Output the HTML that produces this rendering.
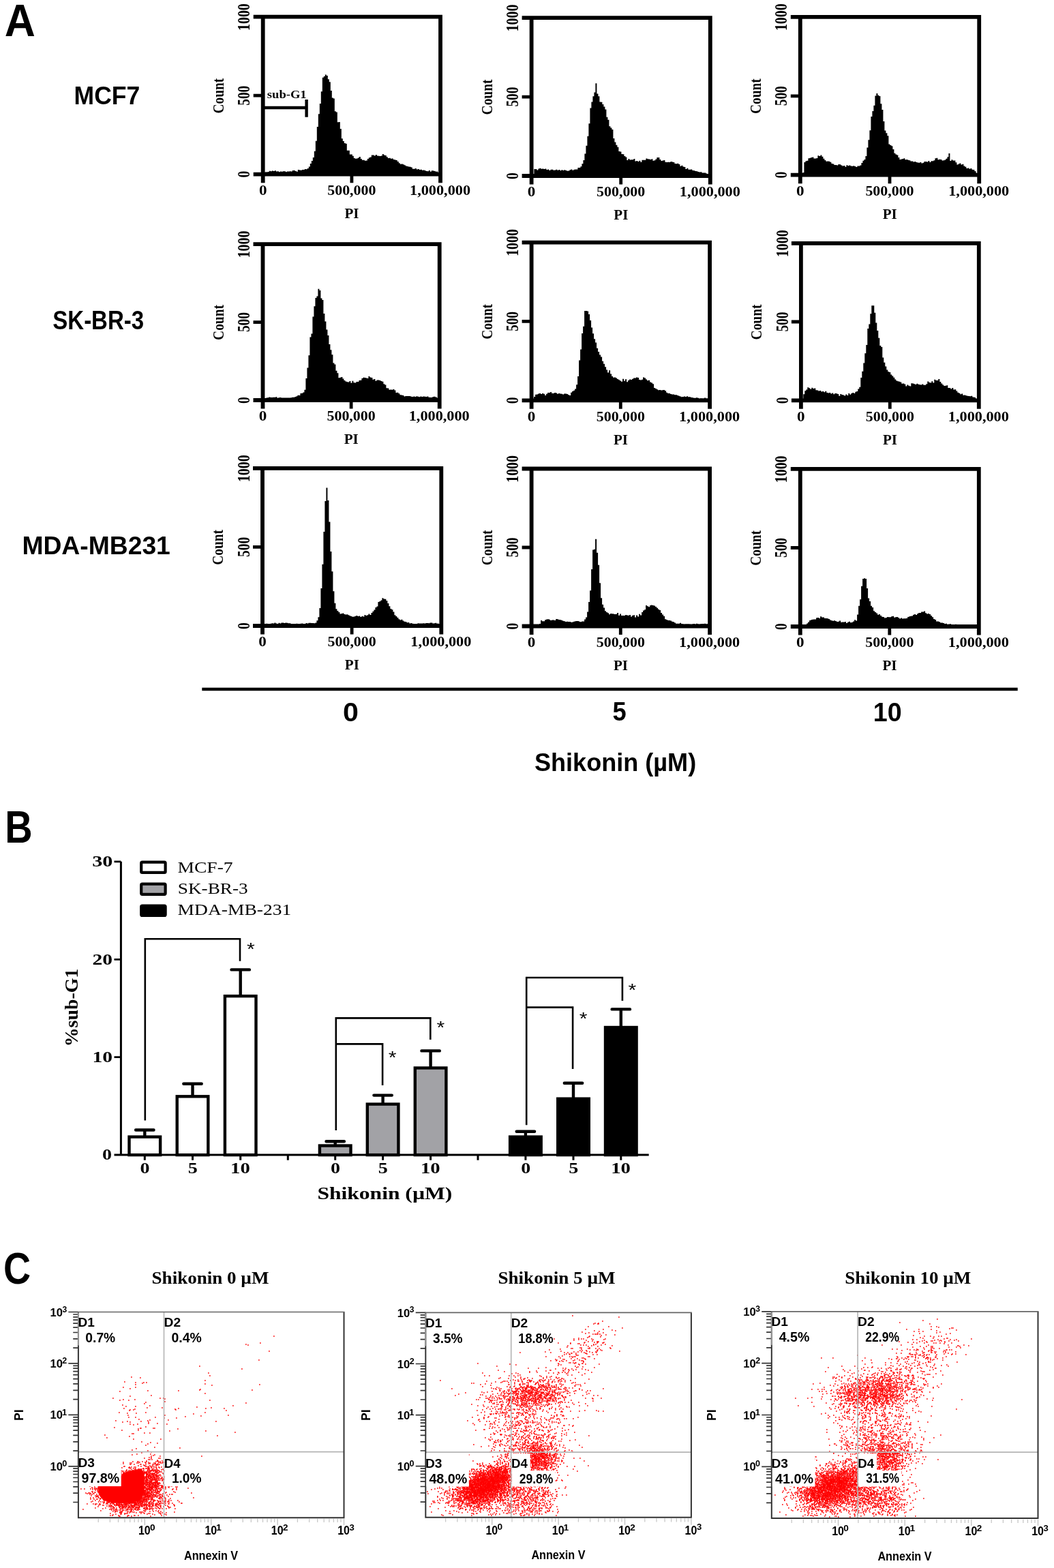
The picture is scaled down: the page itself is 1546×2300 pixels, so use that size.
<!DOCTYPE html>
<html><head><meta charset="utf-8"><title>Shikonin figure</title><style>
html,body{margin:0;padding:0;background:#fff;}
svg{display:block;}
text{font-kerning:none;}
</style></head><body>
<svg width="1546" height="2300" viewBox="0 0 1546 2300">
<defs><filter id="soft" x="-2%" y="-2%" width="104%" height="104%"><feGaussianBlur stdDeviation="0.6"/></filter></defs>
<rect width="1546" height="2300" fill="#fff"/>
<path d="M388.8 255.7L388.8 252.6L390.8 252.6L390.8 252.4L392.8 252.4L392.8 251.9L394.8 251.9L394.8 250.8L396.8 250.8L396.8 251.2L398.8 251.2L398.8 250.5L400.8 250.5L400.8 251.0L402.8 251.0L402.8 250.3L404.8 250.3L404.8 251.4L406.8 251.4L406.8 251.3L408.8 251.3L408.8 252.2L410.8 252.2L410.8 251.6L412.8 251.6L412.8 251.8L414.8 251.8L414.8 251.3L416.8 251.3L416.8 251.3L418.8 251.3L418.8 252.3L420.8 252.3L420.8 251.5L422.8 251.5L422.8 251.6L424.8 251.6L424.8 251.3L426.8 251.3L426.8 251.4L428.8 251.4L428.8 250.0L430.8 250.0L430.8 249.9L432.8 249.9L432.8 250.9L434.8 250.9L434.8 251.7L436.8 251.7L436.8 249.1L438.8 249.1L438.8 249.5L440.8 249.5L440.8 249.8L442.8 249.8L442.8 249.1L444.8 249.1L444.8 248.9L446.8 248.9L446.8 248.1L448.8 248.1L448.8 248.2L450.8 248.2L450.8 246.9L452.8 246.9L452.8 244.6L454.8 244.6L454.8 239.9L456.8 239.9L456.8 235.9L458.8 235.9L458.8 230.9L460.8 230.9L460.8 221.7L462.8 221.7L462.8 206.8L464.8 206.8L464.8 185.9L466.8 185.9L466.8 167.2L468.8 167.2L468.8 151.9L470.8 151.9L470.8 134.2L472.8 134.2L472.8 113.8L474.8 113.8L474.8 112.0L476.8 112.0L476.8 109.6L478.8 109.6L478.8 111.0L480.8 111.0L480.8 116.2L482.8 116.2L482.8 120.3L484.8 120.3L484.8 133.1L486.8 133.1L486.8 143.4L488.8 143.4L488.8 144.6L490.8 144.6L490.8 163.2L492.8 163.2L492.8 164.6L494.8 164.6L494.8 179.2L496.8 179.2L496.8 178.9L498.8 178.9L498.8 188.9L500.8 188.9L500.8 203.3L502.8 203.3L502.8 207.0L504.8 207.0L504.8 210.0L506.8 210.0L506.8 210.8L508.8 210.8L508.8 220.7L510.8 220.7L510.8 220.7L512.8 220.7L512.8 226.5L514.8 226.5L514.8 226.6L516.8 226.6L516.8 228.8L518.8 228.8L518.8 232.0L520.8 232.0L520.8 232.7L522.8 232.7L522.8 232.5L524.8 232.5L524.8 231.5L526.8 231.5L526.8 230.1L528.8 230.1L528.8 232.9L530.8 232.9L530.8 234.8L532.8 234.8L532.8 234.7L534.8 234.7L534.8 235.7L536.8 235.7L536.8 235.5L538.8 235.5L538.8 233.0L540.8 233.0L540.8 231.3L542.8 231.3L542.8 230.5L544.8 230.5L544.8 227.4L546.8 227.4L546.8 227.4L548.8 227.4L548.8 228.5L550.8 228.5L550.8 227.1L552.8 227.1L552.8 228.5L554.8 228.5L554.8 228.7L556.8 228.7L556.8 228.9L558.8 228.9L558.8 228.6L560.8 228.6L560.8 226.1L562.8 226.1L562.8 227.4L564.8 227.4L564.8 228.0L566.8 228.0L566.8 230.3L568.8 230.3L568.8 231.9L570.8 231.9L570.8 231.8L572.8 231.8L572.8 232.7L574.8 232.7L574.8 232.5L576.8 232.5L576.8 234.0L578.8 234.0L578.8 234.5L580.8 234.5L580.8 235.0L582.8 235.0L582.8 237.0L584.8 237.0L584.8 239.3L586.8 239.3L586.8 240.8L588.8 240.8L588.8 240.6L590.8 240.6L590.8 241.3L592.8 241.3L592.8 242.3L594.8 242.3L594.8 243.4L596.8 243.4L596.8 243.9L598.8 243.9L598.8 244.5L600.8 244.5L600.8 244.7L602.8 244.7L602.8 245.4L604.8 245.4L604.8 247.8L606.8 247.8L606.8 247.7L608.8 247.7L608.8 247.0L610.8 247.0L610.8 248.4L612.8 248.4L612.8 247.9L614.8 247.9L614.8 248.9L616.8 248.9L616.8 248.8L618.8 248.8L618.8 249.7L620.8 249.7L620.8 249.6L622.8 249.6L622.8 250.2L624.8 250.2L624.8 251.0L626.8 251.0L626.8 251.2L628.8 251.2L628.8 250.1L630.8 250.1L630.8 251.7L632.8 251.7L632.8 250.2L634.8 250.2L634.8 250.6L636.8 250.6L636.8 251.1L638.8 251.1L638.8 251.7L640.8 251.7L640.8 251.6L642.1 251.6L642.1 255.7Z" fill="#000"/>
<path d="M371.7 24.7H648.9M385.7 21.8V268.2M646.0 21.8V268.2M371.7 255.7H646.0" stroke="#000" stroke-width="5.8" fill="none"/>
<path d="M371.7 140.2H385.7M515.9 255.7V268.2" stroke="#000" stroke-width="4.8" fill="none"/>
<text x="0" y="0" transform="translate(366.36 44.94) rotate(-90)" font-family='"Liberation Serif", "Times New Roman", serif' font-weight="bold" font-size="24.30" textLength="39.64" lengthAdjust="spacingAndGlyphs" fill="#000">1000</text>
<text x="0" y="0" transform="translate(366.36 154.72) rotate(-90)" font-family='"Liberation Serif", "Times New Roman", serif' font-weight="bold" font-size="24.30" textLength="29.01" lengthAdjust="spacingAndGlyphs" fill="#000">500</text>
<text x="0" y="0" transform="translate(366.36 260.60) rotate(-90)" font-family='"Liberation Serif", "Times New Roman", serif' font-weight="bold" font-size="24.30" textLength="9.79" lengthAdjust="spacingAndGlyphs" fill="#000">0</text>
<text x="0" y="0" transform="translate(327.76 166.55) rotate(-90)" font-family='"Liberation Serif", "Times New Roman", serif' font-weight="bold" font-size="23.88" textLength="51.83" lengthAdjust="spacingAndGlyphs" fill="#000">Count</text>
<text x="379.92" y="286.10" font-family='"Liberation Serif", "Times New Roman", serif' font-weight="bold" font-size="21.30" textLength="11.56" lengthAdjust="spacingAndGlyphs" fill="#000">0</text>
<text x="480.27" y="286.10" font-family='"Liberation Serif", "Times New Roman", serif' font-weight="bold" font-size="21.30" textLength="71.11" lengthAdjust="spacingAndGlyphs" fill="#000">500,000</text>
<text x="601.02" y="286.10" font-family='"Liberation Serif", "Times New Roman", serif' font-weight="bold" font-size="21.30" textLength="89.03" lengthAdjust="spacingAndGlyphs" fill="#000">1,000,000</text>
<text x="505.49" y="320.00" font-family='"Liberation Serif", "Times New Roman", serif' font-weight="bold" font-size="21.08" textLength="21.07" lengthAdjust="spacingAndGlyphs" fill="#000">PI</text>
<path d="M385.7 158H449.6M449.6 146.1V171.7" stroke="#000" stroke-width="4.4" fill="none"/>
<text x="391.84" y="144.30" font-family='"Liberation Serif", "Times New Roman", serif' font-weight="bold" font-size="16.29" textLength="57.82" lengthAdjust="spacingAndGlyphs" fill="#000">sub-G1</text>
<path d="M783.4 258.0L783.4 247.9L785.4 247.9L785.4 247.9L787.4 247.9L787.4 249.5L789.4 249.5L789.4 247.5L791.4 247.5L791.4 246.7L793.4 246.7L793.4 247.8L795.4 247.8L795.4 247.5L797.4 247.5L797.4 247.9L799.4 247.9L799.4 247.4L801.4 247.4L801.4 248.9L803.4 248.9L803.4 248.5L805.4 248.5L805.4 250.0L807.4 250.0L807.4 248.8L809.4 248.8L809.4 248.8L811.4 248.8L811.4 249.8L813.4 249.8L813.4 249.6L815.4 249.6L815.4 248.7L817.4 248.7L817.4 249.8L819.4 249.8L819.4 249.0L821.4 249.0L821.4 250.3L823.4 250.3L823.4 249.2L825.4 249.2L825.4 249.9L827.4 249.9L827.4 249.3L829.4 249.3L829.4 250.1L831.4 250.1L831.4 250.8L833.4 250.8L833.4 250.5L835.4 250.5L835.4 249.2L837.4 249.2L837.4 248.6L839.4 248.6L839.4 249.8L841.4 249.8L841.4 248.8L843.4 248.8L843.4 248.5L845.4 248.5L845.4 248.5L847.4 248.5L847.4 246.1L849.4 246.1L849.4 246.1L851.4 246.1L851.4 244.3L853.4 244.3L853.4 240.2L855.4 240.2L855.4 235.0L857.4 235.0L857.4 225.4L859.4 225.4L859.4 213.7L861.4 213.7L861.4 199.7L863.4 199.7L863.4 181.3L865.4 181.3L865.4 158.5L867.4 158.5L867.4 149.6L869.4 149.6L869.4 141.2L871.4 141.2L871.4 135.4L873.4 135.4L873.4 122.3L875.4 122.3L875.4 137.4L877.4 137.4L877.4 141.3L879.4 141.3L879.4 149.5L881.4 149.5L881.4 149.8L883.4 149.8L883.4 153.0L885.4 153.0L885.4 156.4L887.4 156.4L887.4 160.5L889.4 160.5L889.4 171.7L891.4 171.7L891.4 175.7L893.4 175.7L893.4 185.3L895.4 185.3L895.4 187.6L897.4 187.6L897.4 190.1L899.4 190.1L899.4 203.0L901.4 203.0L901.4 208.5L903.4 208.5L903.4 212.8L905.4 212.8L905.4 215.7L907.4 215.7L907.4 222.1L909.4 222.1L909.4 222.6L911.4 222.6L911.4 226.0L913.4 226.0L913.4 226.2L915.4 226.2L915.4 228.9L917.4 228.9L917.4 230.4L919.4 230.4L919.4 235.0L921.4 235.0L921.4 232.9L923.4 232.9L923.4 234.6L925.4 234.6L925.4 234.2L927.4 234.2L927.4 234.2L929.4 234.2L929.4 233.0L931.4 233.0L931.4 236.6L933.4 236.6L933.4 236.0L935.4 236.0L935.4 236.9L937.4 236.9L937.4 235.7L939.4 235.7L939.4 237.8L941.4 237.8L941.4 234.7L943.4 234.7L943.4 234.7L945.4 234.7L945.4 234.8L947.4 234.8L947.4 232.5L949.4 232.5L949.4 233.2L951.4 233.2L951.4 233.5L953.4 233.5L953.4 234.0L955.4 234.0L955.4 233.3L957.4 233.3L957.4 235.7L959.4 235.7L959.4 235.2L961.4 235.2L961.4 233.4L963.4 233.4L963.4 231.0L965.4 231.0L965.4 231.1L967.4 231.1L967.4 233.9L969.4 233.9L969.4 236.0L971.4 236.0L971.4 235.6L973.4 235.6L973.4 235.1L975.4 235.1L975.4 237.7L977.4 237.7L977.4 238.0L979.4 238.0L979.4 237.7L981.4 237.7L981.4 237.9L983.4 237.9L983.4 237.1L985.4 237.1L985.4 237.4L987.4 237.4L987.4 238.0L989.4 238.0L989.4 239.9L991.4 239.9L991.4 240.2L993.4 240.2L993.4 239.7L995.4 239.7L995.4 241.1L997.4 241.1L997.4 243.7L999.4 243.7L999.4 242.7L1001.4 242.7L1001.4 244.5L1003.4 244.5L1003.4 245.0L1005.4 245.0L1005.4 248.0L1007.4 248.0L1007.4 246.8L1009.4 246.8L1009.4 248.7L1011.4 248.7L1011.4 248.8L1013.4 248.8L1013.4 248.5L1015.4 248.5L1015.4 249.9L1017.4 249.9L1017.4 250.2L1019.4 250.2L1019.4 251.0L1021.4 251.0L1021.4 251.3L1023.4 251.3L1023.4 252.1L1025.4 252.1L1025.4 252.5L1027.4 252.5L1027.4 252.3L1029.4 252.3L1029.4 253.6L1031.4 253.6L1031.4 253.4L1033.4 253.4L1033.4 253.6L1035.4 253.6L1035.4 254.6L1037.1 254.6L1037.1 258.0Z" fill="#000"/>
<path d="M765.6 26.1H1044.7M779.6 23.2V270.5M1041.8 23.2V270.5M765.6 258.0H1041.8" stroke="#000" stroke-width="5.8" fill="none"/>
<path d="M765.6 142.1H779.6M910.7 258.0V270.5" stroke="#000" stroke-width="4.8" fill="none"/>
<text x="0" y="0" transform="translate(760.26 46.34) rotate(-90)" font-family='"Liberation Serif", "Times New Roman", serif' font-weight="bold" font-size="24.30" textLength="39.64" lengthAdjust="spacingAndGlyphs" fill="#000">1000</text>
<text x="0" y="0" transform="translate(760.26 156.57) rotate(-90)" font-family='"Liberation Serif", "Times New Roman", serif' font-weight="bold" font-size="24.30" textLength="29.01" lengthAdjust="spacingAndGlyphs" fill="#000">500</text>
<text x="0" y="0" transform="translate(760.26 262.90) rotate(-90)" font-family='"Liberation Serif", "Times New Roman", serif' font-weight="bold" font-size="24.30" textLength="9.79" lengthAdjust="spacingAndGlyphs" fill="#000">0</text>
<text x="0" y="0" transform="translate(721.66 168.40) rotate(-90)" font-family='"Liberation Serif", "Times New Roman", serif' font-weight="bold" font-size="23.88" textLength="51.83" lengthAdjust="spacingAndGlyphs" fill="#000">Count</text>
<text x="773.82" y="288.40" font-family='"Liberation Serif", "Times New Roman", serif' font-weight="bold" font-size="21.30" textLength="11.56" lengthAdjust="spacingAndGlyphs" fill="#000">0</text>
<text x="875.12" y="288.40" font-family='"Liberation Serif", "Times New Roman", serif' font-weight="bold" font-size="21.30" textLength="71.11" lengthAdjust="spacingAndGlyphs" fill="#000">500,000</text>
<text x="996.82" y="288.40" font-family='"Liberation Serif", "Times New Roman", serif' font-weight="bold" font-size="21.30" textLength="89.03" lengthAdjust="spacingAndGlyphs" fill="#000">1,000,000</text>
<text x="900.34" y="322.30" font-family='"Liberation Serif", "Times New Roman", serif' font-weight="bold" font-size="21.08" textLength="21.07" lengthAdjust="spacingAndGlyphs" fill="#000">PI</text>
<path d="M1177.4 256.7L1177.4 253.3L1179.4 253.3L1179.4 237.9L1181.4 237.9L1181.4 236.3L1183.4 236.3L1183.4 235.7L1185.4 235.7L1185.4 232.2L1187.4 232.2L1187.4 231.7L1189.4 231.7L1189.4 230.9L1191.4 230.9L1191.4 230.5L1193.4 230.5L1193.4 232.4L1195.4 232.4L1195.4 232.6L1197.4 232.6L1197.4 231.9L1199.4 231.9L1199.4 228.3L1201.4 228.3L1201.4 229.1L1203.4 229.1L1203.4 227.4L1205.4 227.4L1205.4 229.8L1207.4 229.8L1207.4 232.7L1209.4 232.7L1209.4 235.1L1211.4 235.1L1211.4 236.8L1213.4 236.8L1213.4 236.6L1215.4 236.6L1215.4 236.7L1217.4 236.7L1217.4 237.7L1219.4 237.7L1219.4 239.9L1221.4 239.9L1221.4 240.5L1223.4 240.5L1223.4 241.9L1225.4 241.9L1225.4 241.9L1227.4 241.9L1227.4 242.4L1229.4 242.4L1229.4 240.9L1231.4 240.9L1231.4 241.2L1233.4 241.2L1233.4 242.6L1235.4 242.6L1235.4 243.4L1237.4 243.4L1237.4 243.0L1239.4 243.0L1239.4 244.8L1241.4 244.8L1241.4 242.2L1243.4 242.2L1243.4 243.3L1245.4 243.3L1245.4 242.4L1247.4 242.4L1247.4 243.5L1249.4 243.5L1249.4 243.7L1251.4 243.7L1251.4 243.3L1253.4 243.3L1253.4 244.1L1255.4 244.1L1255.4 245.0L1257.4 245.0L1257.4 243.4L1259.4 243.4L1259.4 243.4L1261.4 243.4L1261.4 242.6L1263.4 242.6L1263.4 239.0L1265.4 239.0L1265.4 235.7L1267.4 235.7L1267.4 233.9L1269.4 233.9L1269.4 229.0L1271.4 229.0L1271.4 216.5L1273.4 216.5L1273.4 205.3L1275.4 205.3L1275.4 191.3L1277.4 191.3L1277.4 171.0L1279.4 171.0L1279.4 163.0L1281.4 163.0L1281.4 154.8L1283.4 154.8L1283.4 140.6L1285.4 140.6L1285.4 136.9L1287.4 136.9L1287.4 139.7L1289.4 139.7L1289.4 141.1L1291.4 141.1L1291.4 152.3L1293.4 152.3L1293.4 161.1L1295.4 161.1L1295.4 177.9L1297.4 177.9L1297.4 191.4L1299.4 191.4L1299.4 195.3L1301.4 195.3L1301.4 199.3L1303.4 199.3L1303.4 211.4L1305.4 211.4L1305.4 213.1L1307.4 213.1L1307.4 214.3L1309.4 214.3L1309.4 219.1L1311.4 219.1L1311.4 224.8L1313.4 224.8L1313.4 226.6L1315.4 226.6L1315.4 227.4L1317.4 227.4L1317.4 231.1L1319.4 231.1L1319.4 234.0L1321.4 234.0L1321.4 233.5L1323.4 233.5L1323.4 233.1L1325.4 233.1L1325.4 232.2L1327.4 232.2L1327.4 234.2L1329.4 234.2L1329.4 233.9L1331.4 233.9L1331.4 234.8L1333.4 234.8L1333.4 235.3L1335.4 235.3L1335.4 236.5L1337.4 236.5L1337.4 236.6L1339.4 236.6L1339.4 237.6L1341.4 237.6L1341.4 237.1L1343.4 237.1L1343.4 238.1L1345.4 238.1L1345.4 238.4L1347.4 238.4L1347.4 238.8L1349.4 238.8L1349.4 238.1L1351.4 238.1L1351.4 239.6L1353.4 239.6L1353.4 238.8L1355.4 238.8L1355.4 237.0L1357.4 237.0L1357.4 237.1L1359.4 237.1L1359.4 237.5L1361.4 237.5L1361.4 236.1L1363.4 236.1L1363.4 237.9L1365.4 237.9L1365.4 236.2L1367.4 236.2L1367.4 236.3L1369.4 236.3L1369.4 235.3L1371.4 235.3L1371.4 232.2L1373.4 232.2L1373.4 231.7L1375.4 231.7L1375.4 234.3L1377.4 234.3L1377.4 233.8L1379.4 233.8L1379.4 234.1L1381.4 234.1L1381.4 235.6L1383.4 235.6L1383.4 235.2L1385.4 235.2L1385.4 234.6L1387.4 234.6L1387.4 232.8L1389.4 232.8L1389.4 230.2L1391.4 230.2L1391.4 225.1L1393.4 225.1L1393.4 236.1L1395.4 236.1L1395.4 234.2L1397.4 234.2L1397.4 235.4L1399.4 235.4L1399.4 235.6L1401.4 235.6L1401.4 238.2L1403.4 238.2L1403.4 241.5L1405.4 241.5L1405.4 240.4L1407.4 240.4L1407.4 239.6L1409.4 239.6L1409.4 241.4L1411.4 241.4L1411.4 240.8L1413.4 240.8L1413.4 243.5L1415.4 243.5L1415.4 244.7L1417.4 244.7L1417.4 246.9L1419.4 246.9L1419.4 246.6L1421.4 246.6L1421.4 247.8L1423.4 247.8L1423.4 247.0L1425.4 247.0L1425.4 248.7L1427.4 248.7L1427.4 248.9L1429.4 248.9L1429.4 251.0L1431.4 251.0L1431.4 253.2L1432.0 253.2L1432.0 256.7Z" fill="#000"/>
<path d="M1159.8 24.8H1439.1M1173.8 21.9V269.2M1436.2 21.9V269.2M1159.8 256.7H1436.2" stroke="#000" stroke-width="5.8" fill="none"/>
<path d="M1159.8 140.8H1173.8M1305.0 256.7V269.2" stroke="#000" stroke-width="4.8" fill="none"/>
<text x="0" y="0" transform="translate(1154.46 45.04) rotate(-90)" font-family='"Liberation Serif", "Times New Roman", serif' font-weight="bold" font-size="24.30" textLength="39.64" lengthAdjust="spacingAndGlyphs" fill="#000">1000</text>
<text x="0" y="0" transform="translate(1154.46 155.27) rotate(-90)" font-family='"Liberation Serif", "Times New Roman", serif' font-weight="bold" font-size="24.30" textLength="29.01" lengthAdjust="spacingAndGlyphs" fill="#000">500</text>
<text x="0" y="0" transform="translate(1154.46 261.60) rotate(-90)" font-family='"Liberation Serif", "Times New Roman", serif' font-weight="bold" font-size="24.30" textLength="9.79" lengthAdjust="spacingAndGlyphs" fill="#000">0</text>
<text x="0" y="0" transform="translate(1115.86 167.10) rotate(-90)" font-family='"Liberation Serif", "Times New Roman", serif' font-weight="bold" font-size="23.88" textLength="51.83" lengthAdjust="spacingAndGlyphs" fill="#000">Count</text>
<text x="1168.02" y="287.10" font-family='"Liberation Serif", "Times New Roman", serif' font-weight="bold" font-size="21.30" textLength="11.56" lengthAdjust="spacingAndGlyphs" fill="#000">0</text>
<text x="1269.42" y="287.10" font-family='"Liberation Serif", "Times New Roman", serif' font-weight="bold" font-size="21.30" textLength="71.11" lengthAdjust="spacingAndGlyphs" fill="#000">500,000</text>
<text x="1391.22" y="287.10" font-family='"Liberation Serif", "Times New Roman", serif' font-weight="bold" font-size="21.30" textLength="89.03" lengthAdjust="spacingAndGlyphs" fill="#000">1,000,000</text>
<text x="1294.64" y="321.00" font-family='"Liberation Serif", "Times New Roman", serif' font-weight="bold" font-size="21.08" textLength="21.07" lengthAdjust="spacingAndGlyphs" fill="#000">PI</text>
<path d="M388.4 587.0L388.4 584.0L390.4 584.0L390.4 583.4L392.4 583.4L392.4 583.2L394.4 583.2L394.4 582.5L396.4 582.5L396.4 583.1L398.4 583.1L398.4 583.1L400.4 583.1L400.4 582.7L402.4 582.7L402.4 582.7L404.4 582.7L404.4 582.3L406.4 582.3L406.4 583.7L408.4 583.7L408.4 583.3L410.4 583.3L410.4 583.1L412.4 583.1L412.4 583.6L414.4 583.6L414.4 583.6L416.4 583.6L416.4 583.6L418.4 583.6L418.4 583.5L420.4 583.5L420.4 583.4L422.4 583.4L422.4 583.4L424.4 583.4L424.4 583.4L426.4 583.4L426.4 583.2L428.4 583.2L428.4 582.8L430.4 582.8L430.4 582.8L432.4 582.8L432.4 582.1L434.4 582.1L434.4 581.2L436.4 581.2L436.4 579.8L438.4 579.8L438.4 579.9L440.4 579.9L440.4 577.1L442.4 577.1L442.4 576.8L444.4 576.8L444.4 575.5L446.4 575.5L446.4 571.7L448.4 571.7L448.4 555.1L450.4 555.1L450.4 539.4L452.4 539.4L452.4 521.3L454.4 521.3L454.4 494.6L456.4 494.6L456.4 489.5L458.4 489.5L458.4 464.4L460.4 464.4L460.4 449.2L462.4 449.2L462.4 436.9L464.4 436.9L464.4 434.5L466.4 434.5L466.4 423.8L468.4 423.8L468.4 426.0L470.4 426.0L470.4 437.4L472.4 437.4L472.4 440.0L474.4 440.0L474.4 460.0L476.4 460.0L476.4 471.6L478.4 471.6L478.4 483.4L480.4 483.4L480.4 492.0L482.4 492.0L482.4 505.0L484.4 505.0L484.4 513.3L486.4 513.3L486.4 520.3L488.4 520.3L488.4 532.6L490.4 532.6L490.4 534.4L492.4 534.4L492.4 543.7L494.4 543.7L494.4 547.2L496.4 547.2L496.4 554.2L498.4 554.2L498.4 553.8L500.4 553.8L500.4 552.9L502.4 552.9L502.4 555.5L504.4 555.5L504.4 558.0L506.4 558.0L506.4 559.4L508.4 559.4L508.4 560.2L510.4 560.2L510.4 560.5L512.4 560.5L512.4 558.9L514.4 558.9L514.4 561.8L516.4 561.8L516.4 558.8L518.4 558.8L518.4 561.2L520.4 561.2L520.4 561.5L522.4 561.5L522.4 559.9L524.4 559.9L524.4 560.0L526.4 560.0L526.4 557.9L528.4 557.9L528.4 557.7L530.4 557.7L530.4 554.9L532.4 554.9L532.4 553.8L534.4 553.8L534.4 554.1L536.4 554.1L536.4 554.5L538.4 554.5L538.4 555.1L540.4 555.1L540.4 552.1L542.4 552.1L542.4 553.4L544.4 553.4L544.4 554.0L546.4 554.0L546.4 556.8L548.4 556.8L548.4 555.9L550.4 555.9L550.4 558.7L552.4 558.7L552.4 557.4L554.4 557.4L554.4 557.4L556.4 557.4L556.4 558.0L558.4 558.0L558.4 558.9L560.4 558.9L560.4 559.7L562.4 559.7L562.4 563.3L564.4 563.3L564.4 564.5L566.4 564.5L566.4 569.2L568.4 569.2L568.4 569.5L570.4 569.5L570.4 571.7L572.4 571.7L572.4 571.5L574.4 571.5L574.4 571.7L576.4 571.7L576.4 571.1L578.4 571.1L578.4 572.4L580.4 572.4L580.4 575.9L582.4 575.9L582.4 575.8L584.4 575.8L584.4 577.2L586.4 577.2L586.4 579.3L588.4 579.3L588.4 579.5L590.4 579.5L590.4 579.9L592.4 579.9L592.4 581.6L594.4 581.6L594.4 581.0L596.4 581.0L596.4 580.9L598.4 580.9L598.4 581.1L600.4 581.1L600.4 581.1L602.4 581.1L602.4 581.8L604.4 581.8L604.4 582.0L606.4 582.0L606.4 581.6L608.4 581.6L608.4 581.9L610.4 581.9L610.4 581.2L612.4 581.2L612.4 581.8L614.4 581.8L614.4 582.3L616.4 582.3L616.4 581.5L618.4 581.5L618.4 581.9L620.4 581.9L620.4 581.6L622.4 581.6L622.4 581.7L624.4 581.7L624.4 582.1L626.4 582.1L626.4 581.6L628.4 581.6L628.4 582.7L630.4 582.7L630.4 582.9L632.4 582.9L632.4 582.9L634.4 582.9L634.4 582.0L636.4 582.0L636.4 581.7L638.4 581.7L638.4 582.4L640.4 582.4L640.4 582.9L641.3 582.9L641.3 587.0Z" fill="#000"/>
<path d="M371.5 358.1H647.6M385.5 355.2V599.5M644.7 355.2V599.5M371.5 587.0H644.7" stroke="#000" stroke-width="5.8" fill="none"/>
<path d="M371.5 472.6H385.5M515.1 587.0V599.5" stroke="#000" stroke-width="4.8" fill="none"/>
<text x="0" y="0" transform="translate(366.16 378.34) rotate(-90)" font-family='"Liberation Serif", "Times New Roman", serif' font-weight="bold" font-size="24.30" textLength="39.64" lengthAdjust="spacingAndGlyphs" fill="#000">1000</text>
<text x="0" y="0" transform="translate(366.16 487.07) rotate(-90)" font-family='"Liberation Serif", "Times New Roman", serif' font-weight="bold" font-size="24.30" textLength="29.01" lengthAdjust="spacingAndGlyphs" fill="#000">500</text>
<text x="0" y="0" transform="translate(366.16 591.90) rotate(-90)" font-family='"Liberation Serif", "Times New Roman", serif' font-weight="bold" font-size="24.30" textLength="9.79" lengthAdjust="spacingAndGlyphs" fill="#000">0</text>
<text x="0" y="0" transform="translate(327.56 498.90) rotate(-90)" font-family='"Liberation Serif", "Times New Roman", serif' font-weight="bold" font-size="23.88" textLength="51.83" lengthAdjust="spacingAndGlyphs" fill="#000">Count</text>
<text x="379.72" y="617.40" font-family='"Liberation Serif", "Times New Roman", serif' font-weight="bold" font-size="21.30" textLength="11.56" lengthAdjust="spacingAndGlyphs" fill="#000">0</text>
<text x="479.52" y="617.40" font-family='"Liberation Serif", "Times New Roman", serif' font-weight="bold" font-size="21.30" textLength="71.11" lengthAdjust="spacingAndGlyphs" fill="#000">500,000</text>
<text x="599.72" y="617.40" font-family='"Liberation Serif", "Times New Roman", serif' font-weight="bold" font-size="21.30" textLength="89.03" lengthAdjust="spacingAndGlyphs" fill="#000">1,000,000</text>
<text x="504.74" y="651.30" font-family='"Liberation Serif", "Times New Roman", serif' font-weight="bold" font-size="21.08" textLength="21.07" lengthAdjust="spacingAndGlyphs" fill="#000">PI</text>
<path d="M783.1 587.3L783.1 582.1L785.1 582.1L785.1 578.8L787.1 578.8L787.1 578.5L789.1 578.5L789.1 577.5L791.1 577.5L791.1 576.9L793.1 576.9L793.1 577.9L795.1 577.9L795.1 576.9L797.1 576.9L797.1 577.8L799.1 577.8L799.1 579.9L801.1 579.9L801.1 577.8L803.1 577.8L803.1 576.0L805.1 576.0L805.1 576.1L807.1 576.1L807.1 575.1L809.1 575.1L809.1 576.9L811.1 576.9L811.1 576.9L813.1 576.9L813.1 575.9L815.1 575.9L815.1 576.5L817.1 576.5L817.1 577.8L819.1 577.8L819.1 577.1L821.1 577.1L821.1 577.6L823.1 577.6L823.1 577.7L825.1 577.7L825.1 578.5L827.1 578.5L827.1 577.4L829.1 577.4L829.1 577.6L831.1 577.6L831.1 578.1L833.1 578.1L833.1 579.3L835.1 579.3L835.1 579.9L837.1 579.9L837.1 575.8L839.1 575.8L839.1 573.9L841.1 573.9L841.1 572.8L843.1 572.8L843.1 570.4L845.1 570.4L845.1 564.2L847.1 564.2L847.1 552.0L849.1 552.0L849.1 528.6L851.1 528.6L851.1 512.6L853.1 512.6L853.1 489.1L855.1 489.1L855.1 478.8L857.1 478.8L857.1 456.0L859.1 456.0L859.1 456.0L861.1 456.0L861.1 456.5L863.1 456.5L863.1 461.0L865.1 461.0L865.1 470.0L867.1 470.0L867.1 480.6L869.1 480.6L869.1 489.2L871.1 489.2L871.1 497.2L873.1 497.2L873.1 502.5L875.1 502.5L875.1 510.8L877.1 510.8L877.1 516.1L879.1 516.1L879.1 520.4L881.1 520.4L881.1 523.6L883.1 523.6L883.1 529.7L885.1 529.7L885.1 533.7L887.1 533.7L887.1 538.3L889.1 538.3L889.1 542.4L891.1 542.4L891.1 546.6L893.1 546.6L893.1 543.3L895.1 543.3L895.1 548.4L897.1 548.4L897.1 551.9L899.1 551.9L899.1 553.7L901.1 553.7L901.1 553.4L903.1 553.4L903.1 554.4L905.1 554.4L905.1 556.1L907.1 556.1L907.1 557.2L909.1 557.2L909.1 558.4L911.1 558.4L911.1 559.7L913.1 559.7L913.1 555.8L915.1 555.8L915.1 558.7L917.1 558.7L917.1 556.3L919.1 556.3L919.1 560.3L921.1 560.3L921.1 558.1L923.1 558.1L923.1 556.4L925.1 556.4L925.1 557.0L927.1 557.0L927.1 555.8L929.1 555.8L929.1 554.5L931.1 554.5L931.1 554.4L933.1 554.4L933.1 553.6L935.1 553.6L935.1 554.0L937.1 554.0L937.1 556.9L939.1 556.9L939.1 557.6L941.1 557.6L941.1 556.7L943.1 556.7L943.1 553.5L945.1 553.5L945.1 554.6L947.1 554.6L947.1 556.5L949.1 556.5L949.1 558.2L951.1 558.2L951.1 557.7L953.1 557.7L953.1 560.6L955.1 560.6L955.1 561.6L957.1 561.6L957.1 563.2L959.1 563.2L959.1 568.9L961.1 568.9L961.1 570.1L963.1 570.1L963.1 571.3L965.1 571.3L965.1 572.2L967.1 572.2L967.1 571.9L969.1 571.9L969.1 572.6L971.1 572.6L971.1 572.3L973.1 572.3L973.1 572.0L975.1 572.0L975.1 573.2L977.1 573.2L977.1 575.7L979.1 575.7L979.1 577.0L981.1 577.0L981.1 577.1L983.1 577.1L983.1 578.0L985.1 578.0L985.1 578.6L987.1 578.6L987.1 578.4L989.1 578.4L989.1 579.2L991.1 579.2L991.1 579.2L993.1 579.2L993.1 579.9L995.1 579.9L995.1 580.7L997.1 580.7L997.1 581.4L999.1 581.4L999.1 582.2L1001.1 582.2L1001.1 582.1L1003.1 582.1L1003.1 581.5L1005.1 581.5L1005.1 582.0L1007.1 582.0L1007.1 581.3L1009.1 581.3L1009.1 582.3L1011.1 582.3L1011.1 582.3L1013.1 582.3L1013.1 583.0L1015.1 583.0L1015.1 583.3L1017.1 583.3L1017.1 583.8L1019.1 583.8L1019.1 583.7L1021.1 583.7L1021.1 583.2L1023.1 583.2L1023.1 583.7L1025.1 583.7L1025.1 584.8L1027.1 584.8L1027.1 584.3L1029.1 584.3L1029.1 584.4L1031.1 584.4L1031.1 584.4L1033.1 584.4L1033.1 583.5L1035.1 583.5L1035.1 584.4L1037.1 584.4L1037.1 584.5L1038.0 584.5L1038.0 587.3Z" fill="#000"/>
<path d="M765.6 355.6H1044.0M779.6 352.7V599.8M1041.1 352.7V599.8M765.6 587.3H1041.1" stroke="#000" stroke-width="5.8" fill="none"/>
<path d="M765.6 471.4H779.6M910.3 587.3V599.8" stroke="#000" stroke-width="4.8" fill="none"/>
<text x="0" y="0" transform="translate(760.26 375.84) rotate(-90)" font-family='"Liberation Serif", "Times New Roman", serif' font-weight="bold" font-size="24.30" textLength="39.64" lengthAdjust="spacingAndGlyphs" fill="#000">1000</text>
<text x="0" y="0" transform="translate(760.26 485.97) rotate(-90)" font-family='"Liberation Serif", "Times New Roman", serif' font-weight="bold" font-size="24.30" textLength="29.01" lengthAdjust="spacingAndGlyphs" fill="#000">500</text>
<text x="0" y="0" transform="translate(760.26 592.20) rotate(-90)" font-family='"Liberation Serif", "Times New Roman", serif' font-weight="bold" font-size="24.30" textLength="9.79" lengthAdjust="spacingAndGlyphs" fill="#000">0</text>
<text x="0" y="0" transform="translate(721.66 497.80) rotate(-90)" font-family='"Liberation Serif", "Times New Roman", serif' font-weight="bold" font-size="23.88" textLength="51.83" lengthAdjust="spacingAndGlyphs" fill="#000">Count</text>
<text x="773.82" y="617.70" font-family='"Liberation Serif", "Times New Roman", serif' font-weight="bold" font-size="21.30" textLength="11.56" lengthAdjust="spacingAndGlyphs" fill="#000">0</text>
<text x="874.77" y="617.70" font-family='"Liberation Serif", "Times New Roman", serif' font-weight="bold" font-size="21.30" textLength="71.11" lengthAdjust="spacingAndGlyphs" fill="#000">500,000</text>
<text x="996.12" y="617.70" font-family='"Liberation Serif", "Times New Roman", serif' font-weight="bold" font-size="21.30" textLength="89.03" lengthAdjust="spacingAndGlyphs" fill="#000">1,000,000</text>
<text x="899.99" y="651.60" font-family='"Liberation Serif", "Times New Roman", serif' font-weight="bold" font-size="21.08" textLength="21.07" lengthAdjust="spacingAndGlyphs" fill="#000">PI</text>
<path d="M1178.3 587.3L1178.3 578.3L1180.3 578.3L1180.3 573.3L1182.3 573.3L1182.3 571.4L1184.3 571.4L1184.3 568.2L1186.3 568.2L1186.3 569.2L1188.3 569.2L1188.3 570.8L1190.3 570.8L1190.3 568.8L1192.3 568.8L1192.3 570.0L1194.3 570.0L1194.3 569.4L1196.3 569.4L1196.3 572.3L1198.3 572.3L1198.3 572.6L1200.3 572.6L1200.3 573.5L1202.3 573.5L1202.3 573.0L1204.3 573.0L1204.3 574.4L1206.3 574.4L1206.3 573.9L1208.3 573.9L1208.3 575.3L1210.3 575.3L1210.3 573.8L1212.3 573.8L1212.3 576.1L1214.3 576.1L1214.3 576.5L1216.3 576.5L1216.3 576.0L1218.3 576.0L1218.3 577.5L1220.3 577.5L1220.3 576.6L1222.3 576.6L1222.3 578.2L1224.3 578.2L1224.3 577.0L1226.3 577.0L1226.3 577.2L1228.3 577.2L1228.3 578.0L1230.3 578.0L1230.3 580.7L1232.3 580.7L1232.3 577.9L1234.3 577.9L1234.3 579.1L1236.3 579.1L1236.3 579.5L1238.3 579.5L1238.3 580.4L1240.3 580.4L1240.3 578.4L1242.3 578.4L1242.3 580.0L1244.3 580.0L1244.3 576.9L1246.3 576.9L1246.3 578.7L1248.3 578.7L1248.3 577.0L1250.3 577.0L1250.3 576.1L1252.3 576.1L1252.3 576.9L1254.3 576.9L1254.3 574.7L1256.3 574.7L1256.3 573.9L1258.3 573.9L1258.3 570.6L1260.3 570.6L1260.3 567.8L1262.3 567.8L1262.3 553.9L1264.3 553.9L1264.3 544.7L1266.3 544.7L1266.3 532.5L1268.3 532.5L1268.3 518.3L1270.3 518.3L1270.3 505.9L1272.3 505.9L1272.3 482.1L1274.3 482.1L1274.3 475.5L1276.3 475.5L1276.3 460.3L1278.3 460.3L1278.3 448.3L1280.3 448.3L1280.3 448.3L1282.3 448.3L1282.3 458.7L1284.3 458.7L1284.3 473.4L1286.3 473.4L1286.3 485.1L1288.3 485.1L1288.3 495.7L1290.3 495.7L1290.3 507.1L1292.3 507.1L1292.3 509.0L1294.3 509.0L1294.3 524.4L1296.3 524.4L1296.3 531.7L1298.3 531.7L1298.3 537.4L1300.3 537.4L1300.3 542.5L1302.3 542.5L1302.3 545.3L1304.3 545.3L1304.3 546.0L1306.3 546.0L1306.3 549.6L1308.3 549.6L1308.3 551.5L1310.3 551.5L1310.3 553.8L1312.3 553.8L1312.3 556.5L1314.3 556.5L1314.3 558.5L1316.3 558.5L1316.3 559.3L1318.3 559.3L1318.3 559.7L1320.3 559.7L1320.3 560.4L1322.3 560.4L1322.3 562.8L1324.3 562.8L1324.3 562.5L1326.3 562.5L1326.3 563.4L1328.3 563.4L1328.3 566.4L1330.3 566.4L1330.3 564.4L1332.3 564.4L1332.3 565.7L1334.3 565.7L1334.3 566.4L1336.3 566.4L1336.3 562.2L1338.3 562.2L1338.3 562.5L1340.3 562.5L1340.3 563.2L1342.3 563.2L1342.3 564.0L1344.3 564.0L1344.3 562.8L1346.3 562.8L1346.3 563.7L1348.3 563.7L1348.3 564.2L1350.3 564.2L1350.3 564.6L1352.3 564.6L1352.3 563.5L1354.3 563.5L1354.3 564.7L1356.3 564.7L1356.3 564.8L1358.3 564.8L1358.3 563.3L1360.3 563.3L1360.3 559.5L1362.3 559.5L1362.3 560.9L1364.3 560.9L1364.3 561.6L1366.3 561.6L1366.3 559.3L1368.3 559.3L1368.3 561.4L1370.3 561.4L1370.3 556.7L1372.3 556.7L1372.3 557.9L1374.3 557.9L1374.3 557.9L1376.3 557.9L1376.3 555.9L1378.3 555.9L1378.3 560.0L1380.3 560.0L1380.3 562.6L1382.3 562.6L1382.3 564.4L1384.3 564.4L1384.3 566.0L1386.3 566.0L1386.3 565.7L1388.3 565.7L1388.3 565.3L1390.3 565.3L1390.3 569.1L1392.3 569.1L1392.3 569.0L1394.3 569.0L1394.3 570.6L1396.3 570.6L1396.3 569.1L1398.3 569.1L1398.3 571.6L1400.3 571.6L1400.3 571.3L1402.3 571.3L1402.3 573.4L1404.3 573.4L1404.3 575.7L1406.3 575.7L1406.3 576.7L1408.3 576.7L1408.3 578.2L1410.3 578.2L1410.3 577.4L1412.3 577.4L1412.3 579.8L1414.3 579.8L1414.3 579.5L1416.3 579.5L1416.3 580.3L1418.3 580.3L1418.3 580.7L1420.3 580.7L1420.3 580.9L1422.3 580.9L1422.3 581.3L1424.3 581.3L1424.3 580.7L1426.3 580.7L1426.3 582.4L1428.3 582.4L1428.3 582.8L1430.3 582.8L1430.3 583.2L1431.1 583.2L1431.1 587.3Z" fill="#000"/>
<path d="M1160.9 356.8H1438.7M1174.9 353.9V599.8M1435.8 353.9V599.8M1160.9 587.3H1435.8" stroke="#000" stroke-width="5.8" fill="none"/>
<path d="M1160.9 472.0H1174.9M1305.3 587.3V599.8" stroke="#000" stroke-width="4.8" fill="none"/>
<text x="0" y="0" transform="translate(1155.56 377.04) rotate(-90)" font-family='"Liberation Serif", "Times New Roman", serif' font-weight="bold" font-size="24.30" textLength="39.64" lengthAdjust="spacingAndGlyphs" fill="#000">1000</text>
<text x="0" y="0" transform="translate(1155.56 486.57) rotate(-90)" font-family='"Liberation Serif", "Times New Roman", serif' font-weight="bold" font-size="24.30" textLength="29.01" lengthAdjust="spacingAndGlyphs" fill="#000">500</text>
<text x="0" y="0" transform="translate(1155.56 592.20) rotate(-90)" font-family='"Liberation Serif", "Times New Roman", serif' font-weight="bold" font-size="24.30" textLength="9.79" lengthAdjust="spacingAndGlyphs" fill="#000">0</text>
<text x="0" y="0" transform="translate(1116.96 498.40) rotate(-90)" font-family='"Liberation Serif", "Times New Roman", serif' font-weight="bold" font-size="23.88" textLength="51.83" lengthAdjust="spacingAndGlyphs" fill="#000">Count</text>
<text x="1169.12" y="617.70" font-family='"Liberation Serif", "Times New Roman", serif' font-weight="bold" font-size="21.30" textLength="11.56" lengthAdjust="spacingAndGlyphs" fill="#000">0</text>
<text x="1269.77" y="617.70" font-family='"Liberation Serif", "Times New Roman", serif' font-weight="bold" font-size="21.30" textLength="71.11" lengthAdjust="spacingAndGlyphs" fill="#000">500,000</text>
<text x="1390.82" y="617.70" font-family='"Liberation Serif", "Times New Roman", serif' font-weight="bold" font-size="21.30" textLength="89.03" lengthAdjust="spacingAndGlyphs" fill="#000">1,000,000</text>
<text x="1294.99" y="651.60" font-family='"Liberation Serif", "Times New Roman", serif' font-weight="bold" font-size="21.08" textLength="21.07" lengthAdjust="spacingAndGlyphs" fill="#000">PI</text>
<path d="M388.4 918.0L388.4 915.6L390.4 915.6L390.4 914.7L392.4 914.7L392.4 916.1L394.4 916.1L394.4 915.1L396.4 915.1L396.4 914.8L398.4 914.8L398.4 914.3L400.4 914.3L400.4 914.5L402.4 914.5L402.4 913.5L404.4 913.5L404.4 914.6L406.4 914.6L406.4 915.2L408.4 915.2L408.4 913.8L410.4 913.8L410.4 914.4L412.4 914.4L412.4 913.6L414.4 913.6L414.4 913.4L416.4 913.4L416.4 913.9L418.4 913.9L418.4 913.6L420.4 913.6L420.4 913.8L422.4 913.8L422.4 914.2L424.4 914.2L424.4 914.2L426.4 914.2L426.4 914.9L428.4 914.9L428.4 914.9L430.4 914.9L430.4 914.9L432.4 914.9L432.4 914.9L434.4 914.9L434.4 914.8L436.4 914.8L436.4 914.9L438.4 914.9L438.4 915.0L440.4 915.0L440.4 914.8L442.4 914.8L442.4 914.5L444.4 914.5L444.4 914.9L446.4 914.9L446.4 915.1L448.4 915.1L448.4 913.9L450.4 913.9L450.4 914.5L452.4 914.5L452.4 913.8L454.4 913.8L454.4 913.8L456.4 913.8L456.4 913.9L458.4 913.9L458.4 914.1L460.4 914.1L460.4 914.2L462.4 914.2L462.4 913.4L464.4 913.4L464.4 910.3L466.4 910.3L466.4 905.2L468.4 905.2L468.4 891.9L470.4 891.9L470.4 862.9L472.4 862.9L472.4 827.7L474.4 827.7L474.4 780.1L476.4 780.1L476.4 735.1L478.4 735.1L478.4 715.4L480.4 715.4L480.4 734.1L482.4 734.1L482.4 765.5L484.4 765.5L484.4 808.9L486.4 808.9L486.4 838.3L488.4 838.3L488.4 867.2L490.4 867.2L490.4 884.7L492.4 884.7L492.4 893.2L494.4 893.2L494.4 896.1L496.4 896.1L496.4 897.9L498.4 897.9L498.4 900.5L500.4 900.5L500.4 899.9L502.4 899.9L502.4 899.5L504.4 899.5L504.4 901.1L506.4 901.1L506.4 901.4L508.4 901.4L508.4 901.3L510.4 901.3L510.4 902.3L512.4 902.3L512.4 903.3L514.4 903.3L514.4 903.9L516.4 903.9L516.4 904.8L518.4 904.8L518.4 904.5L520.4 904.5L520.4 903.8L522.4 903.8L522.4 903.1L524.4 903.1L524.4 904.1L526.4 904.1L526.4 903.4L528.4 903.4L528.4 904.9L530.4 904.9L530.4 903.8L532.4 903.8L532.4 904.4L534.4 904.4L534.4 901.9L536.4 901.9L536.4 903.0L538.4 903.0L538.4 902.2L540.4 902.2L540.4 900.6L542.4 900.6L542.4 901.9L544.4 901.9L544.4 899.1L546.4 899.1L546.4 896.7L548.4 896.7L548.4 894.6L550.4 894.6L550.4 891.0L552.4 891.0L552.4 889.6L554.4 889.6L554.4 883.1L556.4 883.1L556.4 881.9L558.4 881.9L558.4 880.4L560.4 880.4L560.4 877.3L562.4 877.3L562.4 878.6L564.4 878.6L564.4 878.8L566.4 878.8L566.4 881.3L568.4 881.3L568.4 885.1L570.4 885.1L570.4 889.3L572.4 889.3L572.4 892.9L574.4 892.9L574.4 894.2L576.4 894.2L576.4 897.6L578.4 897.6L578.4 902.3L580.4 902.3L580.4 903.9L582.4 903.9L582.4 906.0L584.4 906.0L584.4 908.3L586.4 908.3L586.4 909.5L588.4 909.5L588.4 908.7L590.4 908.7L590.4 910.5L592.4 910.5L592.4 911.8L594.4 911.8L594.4 911.9L596.4 911.9L596.4 913.2L598.4 913.2L598.4 913.1L600.4 913.1L600.4 914.6L602.4 914.6L602.4 914.1L604.4 914.1L604.4 914.8L606.4 914.8L606.4 914.9L608.4 914.9L608.4 915.2L610.4 915.2L610.4 915.4L612.4 915.4L612.4 914.3L614.4 914.3L614.4 914.5L616.4 914.5L616.4 914.5L618.4 914.5L618.4 914.6L620.4 914.6L620.4 914.3L622.4 914.3L622.4 914.5L624.4 914.5L624.4 914.1L626.4 914.1L626.4 913.9L628.4 913.9L628.4 914.2L630.4 914.2L630.4 913.6L632.4 913.6L632.4 913.6L634.4 913.6L634.4 914.4L636.4 914.4L636.4 914.3L638.4 914.3L638.4 913.7L640.4 913.7L640.4 914.8L642.4 914.8L642.4 914.2L643.0 914.2L643.0 918.0Z" fill="#000"/>
<path d="M371.0 686.8H650.2M385.0 683.9V930.5M647.3 683.9V930.5M371.0 918.0H647.3" stroke="#000" stroke-width="5.8" fill="none"/>
<path d="M371.0 802.4H385.0M516.1 918.0V930.5" stroke="#000" stroke-width="4.8" fill="none"/>
<text x="0" y="0" transform="translate(365.66 707.04) rotate(-90)" font-family='"Liberation Serif", "Times New Roman", serif' font-weight="bold" font-size="24.30" textLength="39.64" lengthAdjust="spacingAndGlyphs" fill="#000">1000</text>
<text x="0" y="0" transform="translate(365.66 816.92) rotate(-90)" font-family='"Liberation Serif", "Times New Roman", serif' font-weight="bold" font-size="24.30" textLength="29.01" lengthAdjust="spacingAndGlyphs" fill="#000">500</text>
<text x="0" y="0" transform="translate(365.66 922.90) rotate(-90)" font-family='"Liberation Serif", "Times New Roman", serif' font-weight="bold" font-size="24.30" textLength="9.79" lengthAdjust="spacingAndGlyphs" fill="#000">0</text>
<text x="0" y="0" transform="translate(327.06 828.75) rotate(-90)" font-family='"Liberation Serif", "Times New Roman", serif' font-weight="bold" font-size="23.88" textLength="51.83" lengthAdjust="spacingAndGlyphs" fill="#000">Count</text>
<text x="379.22" y="948.40" font-family='"Liberation Serif", "Times New Roman", serif' font-weight="bold" font-size="21.30" textLength="11.56" lengthAdjust="spacingAndGlyphs" fill="#000">0</text>
<text x="480.57" y="948.40" font-family='"Liberation Serif", "Times New Roman", serif' font-weight="bold" font-size="21.30" textLength="71.11" lengthAdjust="spacingAndGlyphs" fill="#000">500,000</text>
<text x="602.32" y="948.40" font-family='"Liberation Serif", "Times New Roman", serif' font-weight="bold" font-size="21.30" textLength="89.03" lengthAdjust="spacingAndGlyphs" fill="#000">1,000,000</text>
<text x="505.79" y="982.30" font-family='"Liberation Serif", "Times New Roman", serif' font-weight="bold" font-size="21.08" textLength="21.07" lengthAdjust="spacingAndGlyphs" fill="#000">PI</text>
<path d="M783.1 918.5L783.1 916.3L785.1 916.3L785.1 916.7L787.1 916.7L787.1 916.8L789.1 916.8L789.1 916.2L791.1 916.2L791.1 915.1L793.1 915.1L793.1 910.0L795.1 910.0L795.1 911.2L797.1 911.2L797.1 911.3L799.1 911.3L799.1 909.3L801.1 909.3L801.1 908.6L803.1 908.6L803.1 908.3L805.1 908.3L805.1 908.8L807.1 908.8L807.1 910.0L809.1 910.0L809.1 909.5L811.1 909.5L811.1 909.6L813.1 909.6L813.1 909.9L815.1 909.9L815.1 908.1L817.1 908.1L817.1 908.3L819.1 908.3L819.1 909.1L821.1 909.1L821.1 909.2L823.1 909.2L823.1 909.8L825.1 909.8L825.1 910.7L827.1 910.7L827.1 911.3L829.1 911.3L829.1 911.9L831.1 911.9L831.1 911.8L833.1 911.8L833.1 912.1L835.1 912.1L835.1 912.0L837.1 912.0L837.1 912.8L839.1 912.8L839.1 912.6L841.1 912.6L841.1 911.7L843.1 911.7L843.1 911.3L845.1 911.3L845.1 911.0L847.1 911.0L847.1 911.0L849.1 911.0L849.1 911.8L851.1 911.8L851.1 912.2L853.1 912.2L853.1 911.6L855.1 911.6L855.1 911.6L857.1 911.6L857.1 908.4L859.1 908.4L859.1 905.4L861.1 905.4L861.1 897.4L863.1 897.4L863.1 882.9L865.1 882.9L865.1 866.2L867.1 866.2L867.1 835.1L869.1 835.1L869.1 806.5L871.1 806.5L871.1 805.8L873.1 805.8L873.1 790.8L875.1 790.8L875.1 810.7L877.1 810.7L877.1 828.8L879.1 828.8L879.1 855.3L881.1 855.3L881.1 877.3L883.1 877.3L883.1 886.7L885.1 886.7L885.1 891.6L887.1 891.6L887.1 896.2L889.1 896.2L889.1 898.1L891.1 898.1L891.1 899.2L893.1 899.2L893.1 901.3L895.1 901.3L895.1 899.9L897.1 899.9L897.1 900.3L899.1 900.3L899.1 900.4L901.1 900.4L901.1 901.0L903.1 901.0L903.1 900.7L905.1 900.7L905.1 899.1L907.1 899.1L907.1 902.8L909.1 902.8L909.1 900.5L911.1 900.5L911.1 903.0L913.1 903.0L913.1 903.0L915.1 903.0L915.1 903.1L917.1 903.1L917.1 902.1L919.1 902.1L919.1 902.6L921.1 902.6L921.1 902.7L923.1 902.7L923.1 902.1L925.1 902.1L925.1 904.6L927.1 904.6L927.1 902.8L929.1 902.8L929.1 902.3L931.1 902.3L931.1 905.4L933.1 905.4L933.1 902.5L935.1 902.5L935.1 904.5L937.1 904.5L937.1 900.7L939.1 900.7L939.1 902.6L941.1 902.6L941.1 898.0L943.1 898.0L943.1 895.6L945.1 895.6L945.1 894.3L947.1 894.3L947.1 887.9L949.1 887.9L949.1 889.2L951.1 889.2L951.1 890.3L953.1 890.3L953.1 888.0L955.1 888.0L955.1 887.4L957.1 887.4L957.1 887.9L959.1 887.9L959.1 888.6L961.1 888.6L961.1 890.1L963.1 890.1L963.1 891.7L965.1 891.7L965.1 893.7L967.1 893.7L967.1 895.0L969.1 895.0L969.1 898.9L971.1 898.9L971.1 901.6L973.1 901.6L973.1 903.8L975.1 903.8L975.1 908.3L977.1 908.3L977.1 909.1L979.1 909.1L979.1 910.0L981.1 910.0L981.1 909.9L983.1 909.9L983.1 910.6L985.1 910.6L985.1 911.8L987.1 911.8L987.1 912.3L989.1 912.3L989.1 913.6L991.1 913.6L991.1 914.7L993.1 914.7L993.1 914.7L995.1 914.7L995.1 914.8L997.1 914.8L997.1 913.7L999.1 913.7L999.1 915.0L1001.1 915.0L1001.1 915.4L1003.1 915.4L1003.1 915.7L1005.1 915.7L1005.1 915.4L1007.1 915.4L1007.1 915.6L1009.1 915.6L1009.1 915.4L1011.1 915.4L1011.1 915.7L1013.1 915.7L1013.1 916.1L1015.1 916.1L1015.1 915.5L1017.1 915.5L1017.1 914.9L1019.1 914.9L1019.1 915.7L1021.1 915.7L1021.1 914.8L1023.1 914.8L1023.1 915.5L1025.1 915.5L1025.1 915.8L1027.1 915.8L1027.1 915.3L1029.1 915.3L1029.1 914.9L1031.1 914.9L1031.1 915.0L1033.1 915.0L1033.1 914.8L1035.1 914.8L1035.1 915.6L1037.1 915.6L1037.1 915.2L1038.0 915.2L1038.0 918.5Z" fill="#000"/>
<path d="M765.6 687.5H1044.0M779.6 684.6V931.0M1041.1 684.6V931.0M765.6 918.5H1041.1" stroke="#000" stroke-width="5.8" fill="none"/>
<path d="M765.6 803.0H779.6M910.3 918.5V931.0" stroke="#000" stroke-width="4.8" fill="none"/>
<text x="0" y="0" transform="translate(760.26 707.74) rotate(-90)" font-family='"Liberation Serif", "Times New Roman", serif' font-weight="bold" font-size="24.30" textLength="39.64" lengthAdjust="spacingAndGlyphs" fill="#000">1000</text>
<text x="0" y="0" transform="translate(760.26 817.52) rotate(-90)" font-family='"Liberation Serif", "Times New Roman", serif' font-weight="bold" font-size="24.30" textLength="29.01" lengthAdjust="spacingAndGlyphs" fill="#000">500</text>
<text x="0" y="0" transform="translate(760.26 923.40) rotate(-90)" font-family='"Liberation Serif", "Times New Roman", serif' font-weight="bold" font-size="24.30" textLength="9.79" lengthAdjust="spacingAndGlyphs" fill="#000">0</text>
<text x="0" y="0" transform="translate(721.66 829.35) rotate(-90)" font-family='"Liberation Serif", "Times New Roman", serif' font-weight="bold" font-size="23.88" textLength="51.83" lengthAdjust="spacingAndGlyphs" fill="#000">Count</text>
<text x="773.82" y="948.90" font-family='"Liberation Serif", "Times New Roman", serif' font-weight="bold" font-size="21.30" textLength="11.56" lengthAdjust="spacingAndGlyphs" fill="#000">0</text>
<text x="874.77" y="948.90" font-family='"Liberation Serif", "Times New Roman", serif' font-weight="bold" font-size="21.30" textLength="71.11" lengthAdjust="spacingAndGlyphs" fill="#000">500,000</text>
<text x="996.12" y="948.90" font-family='"Liberation Serif", "Times New Roman", serif' font-weight="bold" font-size="21.30" textLength="89.03" lengthAdjust="spacingAndGlyphs" fill="#000">1,000,000</text>
<text x="899.99" y="982.80" font-family='"Liberation Serif", "Times New Roman", serif' font-weight="bold" font-size="21.08" textLength="21.07" lengthAdjust="spacingAndGlyphs" fill="#000">PI</text>
<path d="M1177.1 919.0L1177.1 917.1L1179.1 917.1L1179.1 916.9L1181.1 916.9L1181.1 916.3L1183.1 916.3L1183.1 914.5L1185.1 914.5L1185.1 912.6L1187.1 912.6L1187.1 910.1L1189.1 910.1L1189.1 909.3L1191.1 909.3L1191.1 908.8L1193.1 908.8L1193.1 908.4L1195.1 908.4L1195.1 908.4L1197.1 908.4L1197.1 906.2L1199.1 906.2L1199.1 906.0L1201.1 906.0L1201.1 906.9L1203.1 906.9L1203.1 904.2L1205.1 904.2L1205.1 905.4L1207.1 905.4L1207.1 905.5L1209.1 905.5L1209.1 906.9L1211.1 906.9L1211.1 907.0L1213.1 907.0L1213.1 907.3L1215.1 907.3L1215.1 908.1L1217.1 908.1L1217.1 909.5L1219.1 909.5L1219.1 910.2L1221.1 910.2L1221.1 910.8L1223.1 910.8L1223.1 910.2L1225.1 910.2L1225.1 911.1L1227.1 911.1L1227.1 912.0L1229.1 912.0L1229.1 911.8L1231.1 911.8L1231.1 910.6L1233.1 910.6L1233.1 912.8L1235.1 912.8L1235.1 912.4L1237.1 912.4L1237.1 912.6L1239.1 912.6L1239.1 911.9L1241.1 911.9L1241.1 914.0L1243.1 914.0L1243.1 912.5L1245.1 912.5L1245.1 911.7L1247.1 911.7L1247.1 913.2L1249.1 913.2L1249.1 912.8L1251.1 912.8L1251.1 911.4L1253.1 911.4L1253.1 909.3L1255.1 909.3L1255.1 910.5L1257.1 910.5L1257.1 901.6L1259.1 901.6L1259.1 888.8L1261.1 888.8L1261.1 879.2L1263.1 879.2L1263.1 859.8L1265.1 859.8L1265.1 849.1L1267.1 849.1L1267.1 848.3L1269.1 848.3L1269.1 848.9L1271.1 848.9L1271.1 863.1L1273.1 863.1L1273.1 877.4L1275.1 877.4L1275.1 881.9L1277.1 881.9L1277.1 888.8L1279.1 888.8L1279.1 890.9L1281.1 890.9L1281.1 896.3L1283.1 896.3L1283.1 898.0L1285.1 898.0L1285.1 899.5L1287.1 899.5L1287.1 901.8L1289.1 901.8L1289.1 901.1L1291.1 901.1L1291.1 902.9L1293.1 902.9L1293.1 904.7L1295.1 904.7L1295.1 905.0L1297.1 905.0L1297.1 906.5L1299.1 906.5L1299.1 905.9L1301.1 905.9L1301.1 905.0L1303.1 905.0L1303.1 905.2L1305.1 905.2L1305.1 905.3L1307.1 905.3L1307.1 904.2L1309.1 904.2L1309.1 903.7L1311.1 903.7L1311.1 905.7L1313.1 905.7L1313.1 905.2L1315.1 905.2L1315.1 904.9L1317.1 904.9L1317.1 906.1L1319.1 906.1L1319.1 907.4L1321.1 907.4L1321.1 906.6L1323.1 906.6L1323.1 907.5L1325.1 907.5L1325.1 907.3L1327.1 907.3L1327.1 907.2L1329.1 907.2L1329.1 906.9L1331.1 906.9L1331.1 905.0L1333.1 905.0L1333.1 904.3L1335.1 904.3L1335.1 903.8L1337.1 903.8L1337.1 903.6L1339.1 903.6L1339.1 901.8L1341.1 901.8L1341.1 901.0L1343.1 901.0L1343.1 902.1L1345.1 902.1L1345.1 900.3L1347.1 900.3L1347.1 899.0L1349.1 899.0L1349.1 899.1L1351.1 899.1L1351.1 897.6L1353.1 897.6L1353.1 897.5L1355.1 897.5L1355.1 896.4L1357.1 896.4L1357.1 899.2L1359.1 899.2L1359.1 900.5L1361.1 900.5L1361.1 899.9L1363.1 899.9L1363.1 901.0L1365.1 901.0L1365.1 903.2L1367.1 903.2L1367.1 905.3L1369.1 905.3L1369.1 907.9L1371.1 907.9L1371.1 908.9L1373.1 908.9L1373.1 911.5L1375.1 911.5L1375.1 911.6L1377.1 911.6L1377.1 912.3L1379.1 912.3L1379.1 913.4L1381.1 913.4L1381.1 913.4L1383.1 913.4L1383.1 913.9L1385.1 913.9L1385.1 915.1L1387.1 915.1L1387.1 914.7L1389.1 914.7L1389.1 915.8L1391.1 915.8L1391.1 915.6L1393.1 915.6L1393.1 915.2L1395.1 915.2L1395.1 916.2L1397.1 916.2L1397.1 916.2L1399.1 916.2L1399.1 916.2L1401.1 916.2L1401.1 915.8L1403.1 915.8L1403.1 916.4L1405.1 916.4L1405.1 917.0L1407.1 917.0L1407.1 916.7L1409.1 916.7L1409.1 916.3L1411.1 916.3L1411.1 916.1L1413.1 916.1L1413.1 916.6L1415.1 916.6L1415.1 916.5L1417.1 916.5L1417.1 916.1L1419.1 916.1L1419.1 916.1L1421.1 916.1L1421.1 916.9L1423.1 916.9L1423.1 916.9L1425.1 916.9L1425.1 916.4L1427.1 916.4L1427.1 916.6L1429.1 916.6L1429.1 916.3L1431.1 916.3L1431.1 916.8L1432.0 916.8L1432.0 919.0Z" fill="#000"/>
<path d="M1159.8 687.9H1438.7M1173.8 685.0V931.5M1435.8 685.0V931.5M1159.8 919.0H1435.8" stroke="#000" stroke-width="5.8" fill="none"/>
<path d="M1159.8 803.5H1173.8M1304.8 919.0V931.5" stroke="#000" stroke-width="4.8" fill="none"/>
<text x="0" y="0" transform="translate(1154.46 708.14) rotate(-90)" font-family='"Liberation Serif", "Times New Roman", serif' font-weight="bold" font-size="24.30" textLength="39.64" lengthAdjust="spacingAndGlyphs" fill="#000">1000</text>
<text x="0" y="0" transform="translate(1154.46 817.97) rotate(-90)" font-family='"Liberation Serif", "Times New Roman", serif' font-weight="bold" font-size="24.30" textLength="29.01" lengthAdjust="spacingAndGlyphs" fill="#000">500</text>
<text x="0" y="0" transform="translate(1154.46 923.90) rotate(-90)" font-family='"Liberation Serif", "Times New Roman", serif' font-weight="bold" font-size="24.30" textLength="9.79" lengthAdjust="spacingAndGlyphs" fill="#000">0</text>
<text x="0" y="0" transform="translate(1115.86 829.80) rotate(-90)" font-family='"Liberation Serif", "Times New Roman", serif' font-weight="bold" font-size="23.88" textLength="51.83" lengthAdjust="spacingAndGlyphs" fill="#000">Count</text>
<text x="1168.02" y="949.40" font-family='"Liberation Serif", "Times New Roman", serif' font-weight="bold" font-size="21.30" textLength="11.56" lengthAdjust="spacingAndGlyphs" fill="#000">0</text>
<text x="1269.22" y="949.40" font-family='"Liberation Serif", "Times New Roman", serif' font-weight="bold" font-size="21.30" textLength="71.11" lengthAdjust="spacingAndGlyphs" fill="#000">500,000</text>
<text x="1390.82" y="949.40" font-family='"Liberation Serif", "Times New Roman", serif' font-weight="bold" font-size="21.30" textLength="89.03" lengthAdjust="spacingAndGlyphs" fill="#000">1,000,000</text>
<text x="1294.44" y="983.30" font-family='"Liberation Serif", "Times New Roman", serif' font-weight="bold" font-size="21.08" textLength="21.07" lengthAdjust="spacingAndGlyphs" fill="#000">PI</text>
<text x="6.64" y="53.40" font-family='"Liberation Sans", Arial, sans-serif' font-weight="bold" font-size="66.28" textLength="45.10" lengthAdjust="spacingAndGlyphs" fill="#000">A</text>
<text x="108.62" y="152.94" font-family='"Liberation Sans", Arial, sans-serif' font-weight="bold" font-size="37.01" textLength="96.74" lengthAdjust="spacingAndGlyphs" fill="#000">MCF7</text>
<text x="77.25" y="482.67" font-family='"Liberation Sans", Arial, sans-serif' font-weight="bold" font-size="38.34" textLength="133.94" lengthAdjust="spacingAndGlyphs" fill="#000">SK-BR-3</text>
<text x="32.41" y="813.28" font-family='"Liberation Sans", Arial, sans-serif' font-weight="bold" font-size="37.77" textLength="217.43" lengthAdjust="spacingAndGlyphs" fill="#000">MDA-MB231</text>
<rect x="296.3" y="1008.7" width="1196.4" height="4.5" fill="#000"/>
<text x="502.97" y="1057.62" font-family='"Liberation Sans", Arial, sans-serif' font-weight="bold" font-size="39.12" textLength="22.92" lengthAdjust="spacingAndGlyphs" fill="#000">0</text>
<text x="898.38" y="1057.32" font-family='"Liberation Sans", Arial, sans-serif' font-weight="bold" font-size="38.41" textLength="20.23" lengthAdjust="spacingAndGlyphs" fill="#000">5</text>
<text x="1280.73" y="1057.61" font-family='"Liberation Sans", Arial, sans-serif' font-weight="bold" font-size="39.55" textLength="41.92" lengthAdjust="spacingAndGlyphs" fill="#000">10</text>
<text x="783.96" y="1130.73" font-family='"Liberation Sans", Arial, sans-serif' font-weight="bold" font-size="37.85" textLength="237.24" lengthAdjust="spacingAndGlyphs" fill="#000">Shikonin (µM)</text>
<text x="7.16" y="1235.90" font-family='"Liberation Sans", Arial, sans-serif' font-weight="bold" font-size="66.57" textLength="40.38" lengthAdjust="spacingAndGlyphs" fill="#000">B</text>
<path d="M177.4 1263.8V1694.1M167.5 1694.1H951.7" stroke="#000" stroke-width="3" fill="none"/>
<path d="M167.5 1550.7H177.4M167.5 1407.3H177.4M167.5 1263.9H177.4" stroke="#000" stroke-width="2.8" fill="none"/>
<text x="135.17" y="1271.37" font-family='"Liberation Serif", "Times New Roman", serif' font-weight="bold" font-size="23.86" textLength="30.18" lengthAdjust="spacingAndGlyphs" fill="#000">30</text>
<text x="135.56" y="1414.57" font-family='"Liberation Serif", "Times New Roman", serif' font-weight="bold" font-size="23.41" textLength="29.57" lengthAdjust="spacingAndGlyphs" fill="#000">20</text>
<text x="135.53" y="1557.68" font-family='"Liberation Serif", "Times New Roman", serif' font-weight="bold" font-size="22.97" textLength="29.60" lengthAdjust="spacingAndGlyphs" fill="#000">10</text>
<text x="150.13" y="1701.28" font-family='"Liberation Serif", "Times New Roman", serif' font-weight="bold" font-size="22.97" textLength="14.04" lengthAdjust="spacingAndGlyphs" fill="#000">0</text>
<text x="0" y="0" transform="translate(114.25 1535.25) rotate(-90)" font-family='"Liberation Serif", "Times New Roman", serif' font-weight="bold" font-size="26.73" textLength="114.50" lengthAdjust="spacingAndGlyphs" fill="#000">%sub-G1</text>
<path d="M212.3 1665.4V1657.5M199.1 1657.5H225.5" stroke="#000" stroke-width="4.4" stroke-linecap="round" fill="none"/>
<rect x="189.5" y="1667.6" width="45.6" height="26.5" fill="#fff" stroke="#000" stroke-width="4.4"/>
<path d="M282.5 1606.1V1589.8M269.3 1589.8H295.7" stroke="#000" stroke-width="4.4" stroke-linecap="round" fill="none"/>
<rect x="259.7" y="1608.3" width="45.6" height="85.8" fill="#fff" stroke="#000" stroke-width="4.4"/>
<path d="M352.7 1458.9V1422.4M339.5 1422.4H365.9" stroke="#000" stroke-width="4.4" stroke-linecap="round" fill="none"/>
<rect x="329.9" y="1461.1" width="45.6" height="233.0" fill="#fff" stroke="#000" stroke-width="4.4"/>
<path d="M491.7 1678.3V1674.3M478.5 1674.3H504.9" stroke="#000" stroke-width="4.4" stroke-linecap="round" fill="none"/>
<rect x="468.9" y="1680.5" width="45.6" height="13.6" fill="#a2a2a6" stroke="#000" stroke-width="4.4"/>
<path d="M561.6 1617.4V1606.6M548.4 1606.6H574.8" stroke="#000" stroke-width="4.4" stroke-linecap="round" fill="none"/>
<rect x="538.8" y="1619.6" width="45.6" height="74.5" fill="#a2a2a6" stroke="#000" stroke-width="4.4"/>
<path d="M631.6 1564.3V1541.4M618.4 1541.4H644.8" stroke="#000" stroke-width="4.4" stroke-linecap="round" fill="none"/>
<rect x="608.8" y="1566.5" width="45.6" height="127.6" fill="#a2a2a6" stroke="#000" stroke-width="4.4"/>
<path d="M770.9 1665.4V1659.7M757.7 1659.7H784.1" stroke="#000" stroke-width="4.4" stroke-linecap="round" fill="none"/>
<rect x="748.1" y="1667.6" width="45.6" height="26.5" fill="#000" stroke="#000" stroke-width="4.4"/>
<path d="M841.0 1609.5V1588.7M827.8 1588.7H854.2" stroke="#000" stroke-width="4.4" stroke-linecap="round" fill="none"/>
<rect x="818.2" y="1611.7" width="45.6" height="82.4" fill="#000" stroke="#000" stroke-width="4.4"/>
<path d="M910.8 1504.8V1480.4M897.6 1480.4H924.0" stroke="#000" stroke-width="4.4" stroke-linecap="round" fill="none"/>
<rect x="888.0" y="1507.0" width="45.6" height="187.1" fill="#000" stroke="#000" stroke-width="4.4"/>
<path d="M212.3 1694.1V1701.8M282.5 1694.1V1701.8M352.7 1694.1V1701.8M491.7 1694.1V1701.8M561.6 1694.1V1701.8M631.6 1694.1V1701.8M770.9 1694.1V1701.8M841.0 1694.1V1701.8M910.8 1694.1V1701.8M422.3 1694.1V1701.8M701.0 1694.1V1701.8" stroke="#000" stroke-width="3" fill="none"/>
<text x="205.58" y="1721.38" font-family='"Liberation Serif", "Times New Roman", serif' font-weight="bold" font-size="22.08" textLength="14.04" lengthAdjust="spacingAndGlyphs" fill="#000">0</text>
<text x="275.72" y="1721.38" font-family='"Liberation Serif", "Times New Roman", serif' font-weight="bold" font-size="22.42" textLength="14.05" lengthAdjust="spacingAndGlyphs" fill="#000">5</text>
<text x="338.05" y="1721.38" font-family='"Liberation Serif", "Times New Roman", serif' font-weight="bold" font-size="22.08" textLength="28.69" lengthAdjust="spacingAndGlyphs" fill="#000">10</text>
<text x="484.98" y="1721.38" font-family='"Liberation Serif", "Times New Roman", serif' font-weight="bold" font-size="22.08" textLength="14.04" lengthAdjust="spacingAndGlyphs" fill="#000">0</text>
<text x="554.82" y="1721.38" font-family='"Liberation Serif", "Times New Roman", serif' font-weight="bold" font-size="22.42" textLength="14.05" lengthAdjust="spacingAndGlyphs" fill="#000">5</text>
<text x="616.95" y="1721.38" font-family='"Liberation Serif", "Times New Roman", serif' font-weight="bold" font-size="22.08" textLength="28.69" lengthAdjust="spacingAndGlyphs" fill="#000">10</text>
<text x="764.18" y="1721.38" font-family='"Liberation Serif", "Times New Roman", serif' font-weight="bold" font-size="22.08" textLength="14.04" lengthAdjust="spacingAndGlyphs" fill="#000">0</text>
<text x="834.22" y="1721.38" font-family='"Liberation Serif", "Times New Roman", serif' font-weight="bold" font-size="22.42" textLength="14.05" lengthAdjust="spacingAndGlyphs" fill="#000">5</text>
<text x="896.15" y="1721.38" font-family='"Liberation Serif", "Times New Roman", serif' font-weight="bold" font-size="22.08" textLength="28.69" lengthAdjust="spacingAndGlyphs" fill="#000">10</text>
<text x="465.42" y="1758.58" font-family='"Liberation Serif", "Times New Roman", serif' font-weight="bold" font-size="25.48" textLength="197.97" lengthAdjust="spacingAndGlyphs" fill="#000">Shikonin (µM)</text>
<path d="M212.8 1643.6V1377.2H352.0V1409.8M492.8 1658.0V1493.4H631.3V1525.0M772.2 1650.3V1434.0H912.9V1467.9M492.8 1531.4H561.1V1592M772.2 1477.6H840.1V1567.9" stroke="#000" stroke-width="2.6" fill="none"/>
<text x="361.91" y="1401.43" font-family='"Liberation Sans", Arial, sans-serif' font-weight="normal" font-size="26.21" textLength="11.76" lengthAdjust="spacingAndGlyphs" fill="#000">*</text>
<text x="640.61" y="1516.43" font-family='"Liberation Sans", Arial, sans-serif' font-weight="normal" font-size="26.21" textLength="11.76" lengthAdjust="spacingAndGlyphs" fill="#000">*</text>
<text x="569.71" y="1559.83" font-family='"Liberation Sans", Arial, sans-serif' font-weight="normal" font-size="26.21" textLength="11.76" lengthAdjust="spacingAndGlyphs" fill="#000">*</text>
<text x="921.51" y="1460.93" font-family='"Liberation Sans", Arial, sans-serif' font-weight="normal" font-size="26.21" textLength="11.76" lengthAdjust="spacingAndGlyphs" fill="#000">*</text>
<text x="849.71" y="1503.13" font-family='"Liberation Sans", Arial, sans-serif' font-weight="normal" font-size="26.21" textLength="11.76" lengthAdjust="spacingAndGlyphs" fill="#000">*</text>
<rect x="207.2" y="1264.7" width="35.4" height="15.2" rx="1.5" fill="#fff" stroke="#000" stroke-width="4.2"/>
<rect x="207.2" y="1296.7" width="35.4" height="15.1" rx="1.5" fill="#a2a2a6" stroke="#000" stroke-width="4.2"/>
<rect x="207.2" y="1328.6" width="35.4" height="14.3" rx="1.5" fill="#000" stroke="#000" stroke-width="4.2"/>
<text x="260.51" y="1279.58" font-family='"Liberation Serif", "Times New Roman", serif' font-weight="normal" font-size="22.33" textLength="81.09" lengthAdjust="spacingAndGlyphs" fill="#000">MCF-7</text>
<text x="260.78" y="1311.07" font-family='"Liberation Serif", "Times New Roman", serif' font-weight="normal" font-size="23.07" textLength="102.99" lengthAdjust="spacingAndGlyphs" fill="#000">SK-BR-3</text>
<text x="260.61" y="1342.18" font-family='"Liberation Serif", "Times New Roman", serif' font-weight="normal" font-size="22.47" textLength="166.65" lengthAdjust="spacingAndGlyphs" fill="#000">MDA-MB-231</text>
<text x="5.12" y="1883.27" font-family='"Liberation Sans", Arial, sans-serif' font-weight="bold" font-size="64.12" textLength="40.10" lengthAdjust="spacingAndGlyphs" fill="#000">C</text>
<text x="222.56" y="1883.33" font-family='"Liberation Serif", "Times New Roman", serif' font-weight="bold" font-size="25.70" textLength="171.92" lengthAdjust="spacingAndGlyphs" fill="#000">Shikonin 0 µM</text>
<text x="730.46" y="1883.33" font-family='"Liberation Serif", "Times New Roman", serif' font-weight="bold" font-size="25.70" textLength="172.12" lengthAdjust="spacingAndGlyphs" fill="#000">Shikonin 5 µM</text>
<text x="1239.16" y="1883.33" font-family='"Liberation Serif", "Times New Roman", serif' font-weight="bold" font-size="25.70" textLength="185.01" lengthAdjust="spacingAndGlyphs" fill="#000">Shikonin 10 µM</text>
<path d="M143.5 2179.0L174.7 2179.0L174.7 2168.1L181.5 2159.9L195.1 2156.5L207.0 2155.0L211.0 2160.0L212.0 2175.0L211.0 2189.8L206.0 2200.7L189.6 2204.8L167.9 2204.8L151.6 2200.7L144.8 2192.5Z" fill="#f00" filter="url(#soft)"/>
<path d="M195 2178h1.7m-25.7 -3h1.7m-0.7 9h1.7m-8.7 -12h1.7m2.3 -6h1.7m23.3 27h1.7m-23.7 -10h1.7m9.3 -15h1.7m10.3 5h1.7m-24.7 14h1.7m-7.7 0h1.7m42.3 12h1.7m-16.7 -27h1.7m-4.7 3h1.7m-30.7 -19h1.7m52.3 33h1.7m-48.7 -18h1.7m13.3 24h1.7m17.3 -26h1.7m-18.7 39h1.7m17.3 -11h1.7m-20.7 -15h1.7m-49.7 12h1.7m52.3 1h1.7m-20.7 -14h1.7m44.3 4h1.7m-33.7 19h1.7m0.3 -11h1.7m12.3 -10h1.7m-19.7 31h1.7m-21.7 -25h1.7m2.3 3h1.7m33.3 -21h1.7m-10.7 1h1.7m-31.7 23h1.7m-7.7 -10h1.7m11.3 5h1.7m2.3 2h1.7m21.3 -5h1.7m-24.7 9h1.7m29.3 -15h1.7m2.3 -1h1.7m-28.7 0h1.7m8.3 -1h1.7m-9.7 21h1.7m18.3 -18h1.7m-67.7 10h1.7m17.3 7h1.7m19.3 -1h1.7m4.3 5h1.7m10.3 -30h1.7m-14.7 -10h1.7m-36.7 27h1.7m41.3 -18h1.7m29.3 7h1.7m-34.7 3h1.7m-11.7 2h1.7m-31.7 15h1.7m26.3 -22h1.7m-10.7 -2h1.7m24.3 -6h1.7m-5.7 1h1.7m1.3 6h1.7m12.3 20h1.7m26.3 -1h1.7m-66.7 -6h1.7m-3.7 8h1.7m23.3 -26h1.7m0.3 9h1.7m12.3 10h1.7m-26.7 -8h1.7m-8.7 9h1.7m-8.7 -7h1.7m7.3 11h1.7m-8.7 5h1.7m-12.7 -12h1.7m13.3 -7h1.7m38.3 5h1.7m-23.7 2h1.7m2.3 -29h1.7m0.3 25h1.7m-5.7 -19h1.7m-52.7 1h1.7m10.3 9h1.7m-16.7 7h1.7m13.3 4h1.7m48.3 -23h1.7m-51.7 19h1.7m37.3 -17h1.7m-22.7 11h1.7m18.3 -20h1.7m-45.7 17h1.7m61.3 -8h1.7m-9.7 19h1.7m-49.7 -3h1.7m59.3 4h1.7m-37.7 0h1.7m14.3 -24h1.7m-52.7 21h1.7m68.3 2h1.7m-31.7 -13h1.7m-27.7 39h1.7m35.3 -30h1.7m16.3 -2h1.7m-59.7 -10h1.7m66.3 -10h1.7m-25.7 48h1.7m-12.7 -36h1.7m-47.7 13h1.7m-25.7 7h1.7m72.3 -22h1.7m16.3 15h1.7m32.3 -13h1.7m-35.7 4h1.7m-82.7 17h1.7m6.3 -14h1.7m57.3 11h1.7m-19.7 -24h1.7m9.3 23h1.7m8.3 -16h1.7m20.3 12h1.7m-25.7 -17h1.7m-11.7 19h1.7m21.3 3h1.7m-57.7 -9h1.7m-36.7 -9h1.7m35.3 19h1.7m15.3 -7h1.7m15.3 12h1.7m-57.7 1h1.7m25.3 -23h1.7m-17.7 7h1.7m28.3 0h1.7m-26.7 -15h1.7m42.3 26h1.7m4.3 -3h1.7m12.3 -19h1.7m-45.7 -7h1.7m29.3 23h1.7m-21.7 -9h1.7m7.3 30h1.7m-1.7 -9h1.7m7.3 -31h1.7m-18.7 54h1.7m-19.7 -39h1.7m15.3 -4h1.7m-16.7 13h1.7m-16.7 -14h1.7m50.3 -10h1.7m-33.7 6h1.7m2.3 21h1.7m-22.7 -13h1.7m72.3 23h1.7m-70.7 -3h1.7m0.3 -20h1.7m38.3 7h1.7m-54.7 -13h1.7m10.3 -21h1.7m3.3 33h1.7m-24.7 -10h1.7m32.3 20h1.7m0.3 -3h1.7m-6.7 -5h1.7m-18.7 -13h1.7m49.3 -10h1.7m-34.7 24h1.7m-15.7 -25h1.7m4.3 23h1.7m-18.7 18h1.7m27.3 -32h1.7m29.3 3h1.7m-46.7 15h1.7m-5.7 5h1.7m8.3 -4h1.7m-45.7 -29h1.7m61.3 16h1.7m-6.7 16h1.7m23.3 -13h1.7m-55.7 2h1.7m-25.7 0h1.7m21.3 3h1.7m19.3 -8h1.7m33.3 20h1.7m-85.7 -33h1.7m63.3 23h1.7m-38.7 13h1.7m21.3 -3h1.7m-7.7 -13h1.7m-41.7 4h1.7m53.3 -12h1.7m-27.7 20h1.7m36.3 -13h1.7m-32.7 8h1.7m-22.7 -11h1.7m4.3 18h1.7m33.3 -25h1.7m-15.7 7h1.7m12.3 -8h1.7m-49.7 -3h1.7m45.3 -11h1.7m-59.7 20h1.7m59.3 6h1.7m3.3 -8h1.7m4.3 12h1.7m-31.7 -22h1.7m-1.7 -8h1.7m-11.7 31h1.7m-22.7 2h1.7m29.3 -13h1.7m-23.7 6h1.7m53.3 -14h1.7m-46.7 -25h1.7m34.3 32h1.7m-12.7 -5h1.7m-9.7 20h1.7m23.3 -11h1.7m-45.7 -29h1.7m12.3 28h1.7m-16.7 -16h1.7m23.3 15h1.7m-36.7 1h1.7m55.3 12h1.7m-63.7 -29h1.7m50.3 23h1.7m-4.7 -13h1.7m-20.7 4h1.7m26.3 13h1.7m-23.7 9h1.7m-18.7 -38h1.7m22.3 16h1.7m5.3 20h1.7m-6.7 -10h1.7m7.3 -14h1.7m-47.7 8h1.7m25.3 -5h1.7m-35.7 -11h1.7m51.3 9h1.7m-48.7 13h1.7m21.3 -16h1.7m-25.7 1h1.7m61.3 -7h1.7m-43.7 23h1.7m-28.7 -5h1.7m16.3 19h1.7m2.3 -24h1.7m11.3 9h1.7m-12.7 -1h1.7m22.3 -11h1.7m15.3 15h1.7m-10.7 -21h1.7m-13.7 20h1.7m4.3 20h1.7m-8.7 -27h1.7m-0.7 -2h1.7m-16.7 18h1.7m-13.7 -14h1.7m54.3 6h1.7m-22.7 -11h1.7m-5.7 -5h1.7m-46.7 -12h1.7m36.3 29h1.7m50.3 -25h1.7m-41.7 28h1.7m-16.7 -10h1.7m4.3 -10h1.7m4.3 -20h1.7m-13.7 2h1.7m-6.7 40h1.7m49.3 -26h1.7m-27.7 8h1.7m-15.7 -13h1.7m-4.7 11h1.7m4.3 -5h1.7m11.3 -2h1.7m-53.7 2h1.7m8.3 6h1.7m51.3 10h1.7m-50.7 -7h1.7m-10.7 -20h1.7m59.3 38h1.7m-55.7 -24h1.7m20.3 18h1.7m18.3 -20h1.7m-30.7 32h1.7m20.3 -36h1.7m-30.7 14h1.7m5.3 -4h1.7m-33.7 1h1.7m16.3 -2h1.7m38.3 11h1.7m-72.7 -6h1.7m72.3 5h1.7m-52.7 -3h1.7m52.3 -3h1.7m-90.7 2h1.7m79.3 6h1.7m4.3 -19h1.7m-46.7 7h1.7m57.3 -1h1.7m-27.7 9h1.7m37.3 9h1.7m-63.7 -9h1.7m14.3 -3h1.7m-8.7 9h1.7m-7.7 -19h1.7m-29.7 3h1.7m33.3 10h1.7m31.3 -33h1.7m-38.7 33h1.7m11.3 -25h1.7m-17.7 26h1.7m-35.7 10h1.7m-3.7 -2h1.7m66.3 17h1.7m-11.7 -40h1.7m-24.7 1h1.7m28.3 10h1.7m-38.7 13h1.7m35.3 -9h1.7m-13.7 -12h1.7m-5.7 -27h1.7m20.3 27h1.7m-9.7 9h1.7m-16.7 4h1.7m18.3 -26h1.7m-29.7 -11h1.7m-9.7 27h1.7m-4.7 -15h1.7m-8.7 23h1.7m34.3 2h1.7m8.3 -22h1.7m-47.7 7h1.7m20.3 4h1.7m-15.7 12h1.7m-12.7 -18h1.7m-14.7 -7h1.7m21.3 8h1.7m13.3 20h1.7m-0.7 1h1.7m-7.7 -5h1.7m12.3 7h1.7m-28.7 -27h1.7m25.3 5h1.7m19.3 23h1.7m-28.7 -44h1.7m-33.7 36h1.7m28.3 -6h1.7m-3.7 2h1.7m-3.7 -26h1.7m10.3 2h1.7m20.3 18h1.7m-8.7 9h1.7m-59.7 -13h1.7m68.3 24h1.7m-44.7 -22h1.7m-5.7 -4h1.7m5.3 12h1.7m-44.7 -7h1.7m45.3 9h1.7m-18.7 11h1.7m2.3 -17h1.7m7.3 21h1.7m-17.7 -12h1.7m30.3 -7h1.7m-3.7 -2h1.7m-5.7 -12h1.7m-33.7 10h1.7m28.3 6h1.7m-4.7 15h1.7m-20.7 1h1.7m-30.7 -23h1.7m65.3 -4h1.7m-5.7 -13h1.7m-17.7 27h1.7m24.3 13h1.7m-28.7 10h1.7m3.3 -64h1.7m-27.7 42h1.7m18.3 -18h1.7m8.3 5h1.7m-1.7 11h1.7m3.3 16h1.7m-3.7 -20h1.7m-29.7 -23h1.7m1.3 36h1.7m8.3 -16h1.7m23.3 -11h1.7m7.3 6h1.7m-7.7 8h1.7m-37.7 -3h1.7m-4.7 -10h1.7m55.3 23h1.7m-54.7 7h1.7m50.3 -25h1.7m-44.7 24h1.7m-15.7 3h1.7m-19.7 -25h1.7m62.3 2h1.7m-10.7 -3h1.7m-21.7 20h1.7m16.3 -19h1.7m-16.7 -4h1.7m-29.7 22h1.7m57.3 -19h1.7m-24.7 19h1.7m-26.7 -24h1.7m0.3 6h1.7m17.3 18h1.7m-22.7 -4h1.7m-27.7 -4h1.7m20.3 0h1.7m-1.7 3h1.7m-15.7 17h1.7m24.3 -25h1.7m3.3 -11h1.7m-24.7 29h1.7m12.3 -42h1.7m18.3 36h1.7m-55.7 -25h1.7m35.3 25h1.7m-23.7 -14h1.7m33.3 -6h1.7m-39.7 25h1.7m57.3 -15h1.7m-19.7 6h1.7m-7.7 3h1.7m-18.7 -22h1.7m26.3 22h1.7m-28.7 23h1.7m18.3 -56h1.7m-30.7 21h1.7m5.3 3h1.7m18.3 -23h1.7m13.3 37h1.7m-22.7 1h1.7m27.3 -23h1.7m-20.7 10h1.7m6.3 -2h1.7m-46.7 -24h1.7m-7.7 27h1.7m40.3 7h1.7m18.3 -19h1.7m-6.7 7h1.7m-29.7 2h1.7m-21.7 0h1.7m7.3 4h1.7m47.3 -9h1.7m-36.7 20h1.7m4.3 -14h1.7m13.3 -3h1.7m-10.7 -2h1.7m-29.7 17h1.7m57.3 -38h1.7m-56.7 37h1.7m23.3 -26h1.7m4.3 1h1.7m-27.7 6h1.7m9.3 -16h1.7m-28.7 3h1.7m34.3 15h1.7m-1.7 -3h1.7m53.3 0h1.7m-107.7 28h1.7m74.3 6h1.7m-65.7 -5h1.7m9.3 -15h1.7m17.3 -6h1.7m-1.7 5h1.7m-17.7 -11h1.7m24.3 9h1.7m-38.7 -2h1.7m-22.7 -28h1.7m38.3 20h1.7m19.3 26h1.7m-40.7 7h1.7m47.3 -14h1.7m-48.7 -16h1.7m40.3 12h1.7m-35.7 -33h1.7m-17.7 41h1.7m29.3 13h1.7m14.3 -41h1.7m-24.7 28h1.7m-10.7 8h1.7m-16.7 -11h1.7m30.3 3h1.7m-13.7 -8h1.7m58.3 7h1.7m-76.7 -14h1.7m22.3 4h1.7m-7.7 -28h1.7m31.3 43h1.7m-22.7 -27h1.7m7.3 20h1.7m3.3 -20h1.7m-7.7 14h1.7m33.3 -4h1.7m-33.7 5h1.7m-17.7 20h1.7m4.3 -34h1.7m-42.7 10h1.7m10.3 -12h1.7m31.3 6h1.7m4.3 -18h1.7m-32.7 21h1.7m40.3 -19h1.7m-32.7 37h1.7m-11.7 -33h1.7m22.3 7h1.7m8.3 20h1.7m-9.7 -11h1.7m-33.7 -9h1.7m31.3 7h1.7m-10.7 -9h1.7m-19.7 -1h1.7m4.3 17h1.7m-2.7 -15h1.7m-4.7 1h1.7m1.3 -13h1.7m-5.7 9h1.7m-0.7 14h1.7m12.3 23h1.7m33.3 -27h1.7m-53.7 0h1.7m-0.7 14h1.7m24.3 -16h1.7m-4.7 -4h1.7m-14.7 6h1.7m6.3 8h1.7m-20.7 -7h1.7m43.3 8h1.7m-25.7 -10h1.7m-45.7 -4h1.7m51.3 14h1.7m-36.7 -3h1.7m-1.7 10h1.7m17.3 -24h1.7m14.3 11h1.7m-27.7 10h1.7m14.3 5h1.7m1.3 -6h1.7m-8.7 -15h1.7m13.3 21h1.7m-5.7 -16h1.7m-4.7 21h1.7m-54.7 -48h1.7m31.3 57h1.7m-40.7 -23h1.7m43.3 -18h1.7m-35.7 23h1.7m31.3 -26h1.7m15.3 15h1.7m-27.7 -11h1.7m4.3 14h1.7m46.3 -7h1.7m-35.7 4h1.7m-29.7 13h1.7m24.3 -5h1.7m-11.7 3h1.7m17.3 -25h1.7m-7.7 19h1.7m-23.7 -6h1.7m-28.7 -4h1.7m64.3 13h1.7m-28.7 -22h1.7m-12.7 9h1.7m37.3 3h1.7m-35.7 -17h1.7m10.3 20h1.7m14.3 -21h1.7m-19.7 21h1.7m-11.7 0h1.7m-4.7 15h1.7m-1.7 -2h1.7m22.3 -31h1.7m8.3 23h1.7m-32.7 -9h1.7m-17.7 38h1.7m0.3 -50h1.7m36.3 15h1.7m23.3 1h1.7m-23.7 17h1.7m-55.7 -16h1.7m26.3 5h1.7m-9.7 7h1.7m-28.7 -16h1.7m55.3 -9h1.7m-5.7 -7h1.7m-8.7 22h1.7m11.3 -11h1.7m-47.7 20h1.7m56.3 2h1.7m-11.7 -11h1.7m-32.7 -23h1.7m8.3 2h1.7m3.3 5h1.7m-41.7 14h1.7m72.3 17h1.7m-27.7 -10h1.7m-24.7 6h1.7m15.3 -19h1.7m12.3 5h1.7m-39.7 -8h1.7m-7.7 12h1.7m49.3 -1h1.7m-21.7 -22h1.7m11.3 24h1.7m-45.7 -9h1.7m-18.7 5h1.7m33.3 -19h1.7m9.3 17h1.7m7.3 22h1.7m28.3 -17h1.7m-5.7 -35h1.7m-41.7 41h1.7m-1.7 1h1.7m20.3 -26h1.7m-25.7 -4h1.7m-8.7 30h1.7m-27.7 -30h1.7m28.3 17h1.7m-12.7 2h1.7m-10.7 7h1.7m48.3 -27h1.7m-9.7 4h1.7m25.3 4h1.7m-19.7 23h1.7m-25.7 -9h1.7m-8.7 -23h1.7m-10.7 -11h1.7m38.3 43h1.7m1.3 -12h1.7m-16.7 -31h1.7m-14.7 14h1.7m-10.7 4h1.7m81.3 9h1.7m-77.7 5h1.7m16.3 -7h1.7m-24.7 5h1.7m-10.7 -2h1.7m12.3 13h1.7m16.3 -3h1.7m-2.7 10h1.7m-35.7 -1h1.7m1.3 -31h1.7m13.3 -4h1.7m-43.7 8h1.7m39.3 -5h1.7m20.3 23h1.7m-57.7 -10h1.7m34.3 11h1.7m26.3 -39h1.7m-25.7 5h1.7m13.3 23h1.7m-63.7 5h1.7m27.3 -10h1.7m-15.7 18h1.7m3.3 -21h1.7m66.3 -5h1.7m-35.7 17h1.7m-26.7 12h1.7m-3.7 -20h1.7m5.3 5h1.7m16.3 16h1.7m-21.7 5h1.7m-28.7 -16h1.7m43.3 11h1.7m1.3 -27h1.7m-38.7 -4h1.7m35.3 14h1.7m-0.7 3h1.7m-0.7 -5h1.7m31.3 0h1.7m-25.7 6h1.7m-31.7 -23h1.7m46.3 40h1.7m-58.7 -9h1.7m5.3 -20h1.7m9.3 24h1.7m28.3 -40h1.7m-54.7 42h1.7m42.3 -7h1.7m-14.7 -14h1.7m-10.7 2h1.7m-14.7 12h1.7m22.3 -1h1.7m13.3 -15h1.7m-9.7 12h1.7m11.3 0h1.7m-51.7 10h1.7m-9.7 -28h1.7m30.3 19h1.7m5.3 -3h1.7m-22.7 11h1.7m35.3 -21h1.7m-23.7 11h1.7m-0.7 0h1.7m-21.7 -7h1.7m24.3 -2h1.7m-17.7 -19h1.7m18.3 25h1.7m-33.7 0h1.7m-6.7 15h1.7m54.3 -10h1.7m-47.7 10h1.7m-2.7 -17h1.7m-17.7 9h1.7m-8.7 -11h1.7m8.3 -7h1.7m11.3 20h1.7m37.3 -12h1.7m-44.7 9h1.7m38.3 -5h1.7m-41.7 -5h1.7m-17.7 1h1.7m31.3 -19h1.7m-33.7 20h1.7m29.3 -9h1.7m8.3 -10h1.7m-1.7 17h1.7m-13.7 26h1.7m46.3 -5h1.7m-39.7 -9h1.7m-2.7 -8h1.7m21.3 -8h1.7m-14.7 3h1.7m-55.7 11h1.7m79.3 -35h1.7m-21.7 23h1.7m-51.7 2h1.7m12.3 3h1.7m-11.7 -27h1.7m-3.7 22h1.7m46.3 -7h1.7m-12.7 2h1.7m-47.7 3h1.7m48.3 -10h1.7m-23.7 31h1.7m-40.7 1h1.7m-8.7 -22h1.7m80.3 17h1.7m-72.7 7h1.7m22.3 -6h1.7m-8.7 -19h1.7m-9.7 18h1.7m-1.7 -23h1.7m21.3 -3h1.7m10.3 16h1.7m-16.7 -10h1.7m-8.7 5h1.7m68.3 -12h1.7m-59.7 17h1.7m0.3 -10h1.7m4.3 25h1.7m12.3 -17h1.7m2.3 1h1.7m-10.7 15h1.7m-21.7 -32h1.7m13.3 20h1.7m9.3 0h1.7m-52.7 -13h1.7m60.3 13h1.7m-18.7 -2h1.7m-27.7 15h1.7m28.3 -31h1.7m9.3 15h1.7m0.3 6h1.7m-15.7 -17h1.7m-12.7 -13h1.7m-14.7 21h1.7m15.3 7h1.7m-3.7 -22h1.7m-23.7 -5h1.7m16.3 13h1.7m6.3 5h1.7m-12.7 -10h1.7m-11.7 1h1.7m34.3 -5h1.7m-48.7 9h1.7m7.3 17h1.7m-12.7 -18h1.7m19.3 -12h1.7m-52.7 30h1.7m73.3 -42h1.7m-16.7 18h1.7m-22.7 43h1.7m58.3 -4h1.7m-74.7 -18h1.7m24.3 -6h1.7m-24.7 -14h1.7m42.3 -9h1.7m2.3 44h1.7m-40.7 -23h1.7m2.3 7h1.7m48.3 -3h1.7m-39.7 0h1.7m6.3 -23h1.7m-12.7 11h1.7m7.3 14h1.7m-37.7 5h1.7m29.3 -16h1.7m18.3 -4h1.7m-66.7 26h1.7m57.3 -4h1.7m6.3 2h1.7m-54.7 -8h1.7m23.3 4h1.7m34.3 8h1.7m-54.7 -38h1.7m19.3 27h1.7m20.3 11h1.7m0.3 -28h1.7m-52.7 25h1.7m19.3 -2h1.7m-11.7 -10h1.7m8.3 -11h1.7m-30.7 10h1.7m30.3 3h1.7m39.3 10h1.7m6.3 -5h1.7m-42.7 -19h1.7m0.3 12h1.7m-34.7 11h1.7m15.3 1h1.7m4.3 -12h1.7m-13.7 -9h1.7m-3.7 27h1.7m22.3 -30h1.7m25.3 -13h1.7m-41.7 14h1.7m8.3 28h1.7m1.3 -37h1.7m-3.7 16h1.7m-0.7 3h1.7m-1.7 -7h1.7m-14.7 10h1.7m0.3 -11h1.7m26.3 15h1.7m-55.7 -16h1.7m-22.7 -2h1.7m10.3 -7h1.7m63.3 13h1.7m-23.7 12h1.7m5.3 0h1.7m5.3 -7h1.7m-39.7 -8h1.7m1.3 8h1.7m41.3 -6h1.7m-58.7 -5h1.7m8.3 12h1.7m55.3 -2h1.7m-46.7 -17h1.7m38.3 13h1.7m-12.7 -14h1.7m4.3 42h1.7m-4.7 -23h1.7m-12.7 -17h1.7m20.3 20h1.7m-41.7 -13h1.7m-28.7 -1h1.7m68.3 -14h1.7m-69.7 28h1.7m-1.7 -33h1.7m28.3 34h1.7m5.3 -3h1.7m-42.7 -12h1.7m53.3 9h1.7m-18.7 -2h1.7m-8.7 14h1.7m-4.7 -16h1.7m1.3 -2h1.7m34.3 9h1.7m-30.7 -16h1.7m-7.7 17h1.7m-2.7 -3h1.7m-1.7 32h1.7m15.3 -22h1.7m-9.7 -5h1.7m-5.7 -4h1.7m-9.7 11h1.7m-10.7 -21h1.7m-3.7 0h1.7m31.3 1h1.7m-19.7 24h1.7m27.3 -33h1.7m5.3 16h1.7m-23.7 7h1.7m-53.7 -8h1.7m64.3 -1h1.7m-52.7 27h1.7m40.3 2h1.7m-61.7 -23h1.7m39.3 -26h1.7m4.3 22h1.7m-39.7 -5h1.7m72.3 30h1.7m-43.7 2h1.7m8.3 -30h1.7m4.3 15h1.7m-19.7 29h1.7m4.3 -54h1.7m40.3 29h1.7m-59.7 -11h1.7m8.3 -10h1.7m9.3 -12h1.7m-24.7 4h1.7m28.3 15h1.7m-15.7 18h1.7m40.3 -29h1.7m-78.7 35h1.7m65.3 -23h1.7m-35.7 27h1.7m19.3 -12h1.7m-20.7 -18h1.7m11.3 -7h1.7m-61.7 15h1.7m40.3 4h1.7m45.3 -26h1.7m-48.7 50h1.7m-6.7 -44h1.7m37.3 18h1.7m-18.7 2h1.7m-31.7 -11h1.7m30.3 5h1.7m-9.7 5h1.7m-34.7 -4h1.7m-17.7 -6h1.7m19.3 -15h1.7m8.3 4h1.7m6.3 -1h1.7m11.3 17h1.7m-12.7 -15h1.7m12.3 13h1.7m-8.7 -13h1.7m13.3 16h1.7m-22.7 10h1.7m-7.7 -11h1.7m39.3 -1h1.7m-41.7 2h1.7m11.3 -14h1.7m-26.7 -9h1.7m40.3 40h1.7m-6.7 -16h1.7m-51.7 -14h1.7m28.3 3h1.7m14.3 2h1.7m6.3 -19h1.7m-7.7 -2h1.7m-15.7 27h1.7m-7.7 13h1.7m12.3 -6h1.7m-14.7 -14h1.7m-0.7 1h1.7m-22.7 5h1.7m6.3 9h1.7m-21.7 -3h1.7m13.3 11h1.7m2.3 -46h1.7m13.3 24h1.7m10.3 18h1.7m11.3 -7h1.7m-46.7 0h1.7m15.3 -10h1.7m9.3 11h1.7m-24.7 -1h1.7m20.3 12h1.7m-25.7 -12h1.7m23.3 -23h1.7m-14.7 37h1.7m5.3 -17h1.7m12.3 1h1.7m-1.7 15h1.7m-43.7 -13h1.7m17.3 -7h1.7m-14.7 -16h1.7m19.3 14h1.7m-20.7 2h1.7m-8.7 -22h1.7m32.3 14h1.7m23.3 -6h1.7m-19.7 26h1.7m-27.7 -14h1.7m28.3 27h1.7m-40.7 -36h1.7m17.3 -8h1.7m20.3 24h1.7m-27.7 4h1.7m-30.7 -27h1.7m62.3 12h1.7m-46.7 14h1.7m23.3 2h1.7m-41.7 -12h1.7m-0.7 -3h1.7m31.3 13h1.7m34.3 -11h1.7m-15.7 17h1.7m1.3 -6h1.7m-21.7 3h1.7m8.3 -11h1.7m-57.7 -9h1.7m12.3 -6h1.7m26.3 29h1.7m-41.7 -10h1.7m56.3 2h1.7m27.3 13h1.7m-60.7 -28h1.7m-3.7 -12h1.7m26.3 16h1.7m27.3 18h1.7m-44.7 -10h1.7m-52.7 -27h1.7m-4.7 35h1.7m10.3 -11h1.7m9.3 -21h1.7m31.3 28h1.7m1.3 -13h1.7m-11.7 -8h1.7m41.3 10h1.7m-34.7 -5h1.7m15.3 15h1.7m-22.7 5h1.7m7.3 -6h1.7m11.3 -2h1.7m-55.7 4h1.7m14.3 -26h1.7m-20.7 -5h1.7m41.3 26h1.7m-34.7 7h1.7m41.3 -10h1.7m-23.7 -9h1.7m-0.7 16h1.7m13.3 -3h1.7m9.3 -3h1.7m-69.7 -7h1.7m37.3 -5h1.7m-20.7 14h1.7m1.3 -7h1.7m15.3 -13h1.7m16.3 14h1.7m-42.7 3h1.7m36.3 -3h1.7m-18.7 9h1.7m12.3 -10h1.7m-61.7 7h1.7m39.3 -19h1.7m-0.7 26h1.7m-15.7 -28h1.7m25.3 -4h1.7m6.3 6h1.7m-28.7 29h1.7m8.3 3h1.7m12.3 -11h1.7m13.3 -19h1.7m-45.7 20h1.7m2.3 -3h1.7m-17.7 5h1.7m-0.7 -8h1.7m4.3 1h1.7m53.3 12h1.7m-14.7 -12h1.7m-20.7 12h1.7m-35.7 -32h1.7m21.3 33h1.7m20.3 -30h1.7m-16.7 21h1.7m0.3 14h1.7m16.3 -8h1.7m-18.7 -6h1.7m11.3 -8h1.7m-19.7 20h1.7m-36.7 -10h1.7m58.3 -6h1.7m-17.7 0h1.7m-0.7 0h1.7m-10.7 -12h1.7m1.3 4h1.7m35.3 9h1.7m-67.7 9h1.7m19.3 -1h1.7m22.3 4h1.7m19.3 -35h1.7m-29.7 11h1.7m-41.7 26h1.7m30.3 5h1.7m10.3 -26h1.7m14.3 13h1.7m-33.7 -15h1.7m22.3 23h1.7m-24.7 9h1.7m-12.7 -37h1.7m13.3 -4h1.7m-22.7 19h1.7m35.3 15h1.7m-45.7 -5h1.7m64.3 2h1.7m-28.7 4h1.7m-38.7 3h1.7m36.3 -18h1.7m3.3 1h1.7m-8.7 0h1.7m-14.7 -5h1.7m-18.7 4h1.7m13.3 -8h1.7m19.3 -12h1.7m-26.7 52h1.7m-13.7 -52h1.7m40.3 12h1.7m-21.7 15h1.7m-27.7 -7h1.7m51.3 -3h1.7m-61.7 0h1.7m-1.7 -5h1.7m30.3 10h1.7m-0.7 -13h1.7m-27.7 4h1.7m0.3 7h1.7m4.3 22h1.7m13.3 -29h1.7m-1.7 30h1.7m-0.7 -13h1.7m-33.7 4h1.7m40.3 -15h1.7m1.3 7h1.7m-0.7 -14h1.7m-41.7 17h1.7m36.3 -26h1.7m-29.7 21h1.7m25.3 -2h1.7m0.3 -13h1.7m-36.7 6h1.7m-6.7 -11h1.7m42.3 12h1.7m11.3 -31h1.7m-10.7 33h1.7m-16.7 -6h1.7m-16.7 6h1.7m-11.7 -8h1.7m12.3 9h1.7m-29.7 5h1.7m0.3 14h1.7m40.3 -18h1.7m4.3 -5h1.7m2.3 1h1.7m-27.7 3h1.7m14.3 -1h1.7m-50.7 -1h1.7m47.3 -6h1.7m5.3 25h1.7m23.3 -23h1.7m-34.7 -3h1.7m24.3 0h1.7m-23.7 11h1.7m-26.7 -28h1.7m-12.7 28h1.7m10.3 -7h1.7m5.3 24h1.7m26.3 -31h1.7m-28.7 1h1.7m-31.7 1h1.7m50.3 7h1.7m8.3 3h1.7m-12.7 -17h1.7m-3.7 -2h1.7m-25.7 15h1.7m-26.7 16h1.7m47.3 -28h1.7m-11.7 21h1.7m-70.7 24h1.7m62.3 -22h1.7m6.3 -3h1.7m4.3 15h1.7m12.3 -43h1.7m-24.7 30h1.7m-27.7 -7h1.7m11.3 9h1.7m11.3 -8h1.7m-1.7 1h1.7m5.3 12h1.7m-26.7 -9h1.7m14.3 -4h1.7m-25.7 3h1.7m-4.7 -10h1.7m-3.7 12h1.7m48.3 -4h1.7m-25.7 -12h1.7m-12.7 17h1.7m-6.7 -2h1.7m-10.7 -33h1.7m45.3 33h1.7m-20.7 2h1.7m-19.7 -2h1.7m29.3 -9h1.7m-9.7 -14h1.7m-25.7 25h1.7m8.3 -18h1.7m15.3 -8h1.7m21.3 4h1.7m-42.7 24h1.7m-9.7 -21h1.7m20.3 10h1.7m8.3 -9h1.7m-2.7 11h1.7m0.3 14h1.7m-67.7 -22h1.7m42.3 7h1.7m-32.7 4h1.7m11.3 -20h1.7m58.3 17h1.7m-65.7 -25h1.7m8.3 43h1.7m-18.7 1h1.7m18.3 -26h1.7m28.3 -16h1.7m-29.7 26h1.7m0.3 -24h1.7m8.3 24h1.7m5.3 -30h1.7m24.3 26h1.7m1.3 -6h1.7m-37.7 15h1.7m-5.7 -23h1.7m21.3 14h1.7m-10.7 -7h1.7m-38.7 26h1.7m-2.7 -6h1.7m33.3 -15h1.7m5.3 -8h1.7m-8.7 -14h1.7m2.3 1h1.7m-53.7 26h1.7m23.3 -21h1.7m24.3 26h1.7m-30.7 24h1.7m-2.7 -26h1.7m5.3 -20h1.7m12.3 18h1.7m-1.7 0h1.7m20.3 -3h1.7m-45.7 -4h1.7m-0.7 -5h1.7m39.3 6h1.7m-0.7 -4h1.7m-22.7 -11h1.7m6.3 26h1.7m33.3 -6h1.7m-56.7 -4h1.7m8.3 -13h1.7m-17.7 14h1.7m18.3 -7h1.7m-20.7 26h1.7m-3.7 -8h1.7m18.3 -28h1.7m-16.7 -2h1.7m27.3 24h1.7m-24.7 -7h1.7m19.3 -2h1.7m-11.7 10h1.7m-24.7 8h1.7m-8.7 -34h1.7m26.3 19h1.7m14.3 6h1.7m23.3 -26h1.7m-55.7 12h1.7m-7.7 -5h1.7m23.3 9h1.7m-20.7 6h1.7m10.3 30h1.7m-19.7 -45h1.7m40.3 12h1.7m-73.7 8h1.7m51.3 3h1.7m-26.7 -15h1.7m21.3 -12h1.7m0.3 13h1.7m-19.7 12h1.7m32.3 -26h1.7m-7.7 51h1.7m-21.7 -39h1.7m9.3 19h1.7m-19.7 -33h1.7m62.3 14h1.7m-62.7 -8h1.7m-37.7 31h1.7m48.3 -44h1.7m-8.7 35h1.7m18.3 -3h1.7m16.3 -6h1.7m-45.7 26h1.7m11.3 -30h1.7m8.3 -16h1.7m-39.7 38h1.7m15.3 -17h1.7m-10.7 0h1.7m-17.7 -11h1.7m11.3 13h1.7m18.3 0h1.7m6.3 -18h1.7m-28.7 27h1.7m16.3 -5h1.7m-13.7 -40h1.7m-4.7 26h1.7m5.3 -27h1.7m-5.7 32h1.7m-35.7 6h1.7m42.3 17h1.7m17.3 -10h1.7m26.3 -28h1.7m0.3 19h1.7m-39.7 5h1.7m-18.7 -10h1.7m1.3 5h1.7m22.3 -6h1.7m-32.7 -9h1.7m8.3 19h1.7m-27.7 6h1.7m42.3 -5h1.7m-18.7 8h1.7m38.3 -11h1.7m-45.7 -12h1.7m10.3 30h1.7m-19.7 -31h1.7m29.3 6h1.7m-22.7 2h1.7m6.3 16h1.7m-21.7 -14h1.7m-20.7 -1h1.7m49.3 -26h1.7m-56.7 15h1.7m40.3 19h1.7m-21.7 -21h1.7m-14.7 28h1.7m26.3 -24h1.7m-2.7 10h1.7m1.3 -20h1.7m3.3 12h1.7m-44.7 7h1.7m-15.7 20h1.7m1.3 -17h1.7m54.3 6h1.7m17.3 3h1.7m-38.7 -13h1.7m14.3 20h1.7m17.3 -15h1.7m-16.7 -13h1.7m-45.7 -21h1.7m13.3 41h1.7m18.3 -26h1.7m-30.7 9h1.7m56.3 11h1.7m-39.7 -4h1.7m-14.7 17h1.7m52.3 -30h1.7m-74.7 8h1.7m69.3 -5h1.7m-70.7 3h1.7m25.3 22h1.7m20.3 -13h1.7m-15.7 22h1.7m-27.7 -28h1.7m30.3 10h1.7m-5.7 -11h1.7m19.3 -16h1.7m-14.7 1h1.7m-23.7 56h1.7m17.3 -47h1.7m8.3 -2h1.7m-40.7 16h1.7m33.3 11h1.7m-37.7 -15h1.7m30.3 10h1.7m0.3 20h1.7m-10.7 -16h1.7m8.3 -21h1.7m27.3 21h1.7m-55.7 -19h1.7m16.3 29h1.7m-54.7 -36h1.7m58.3 -1h1.7m-2.7 -2h1.7m9.3 26h1.7m-8.7 -8h1.7m-0.7 22h1.7m-23.7 -38h1.7m-24.7 7h1.7m31.3 13h1.7m0.3 1h1.7m-20.7 -13h1.7m-13.7 11h1.7m21.3 -24h1.7m-19.7 7h1.7m25.3 27h1.7m-9.7 -23h1.7m20.3 5h1.7m7.3 -5h1.7m-84.7 14h1.7m52.3 -35h1.7m7.3 14h1.7m-26.7 22h1.7m20.3 -3h1.7m4.3 -5h1.7m11.3 22h1.7m-12.7 -35h1.7m-33.7 -3h1.7m-53.7 19h1.7m89.3 -17h1.7m-26.7 21h1.7m-13.7 -12h1.7m-11.7 18h1.7m11.3 -32h1.7m-33.7 20h1.7m2.3 -3h1.7m80.3 5h1.7m-42.7 -15h1.7m7.3 20h1.7m-16.7 1h1.7m-18.7 -10h1.7m2.3 -14h1.7m6.3 6h1.7m-2.7 -3h1.7m-29.7 20h1.7m22.3 2h1.7m20.3 -25h1.7m-40.7 4h1.7m9.3 15h1.7m12.3 -6h1.7m34.3 -1h1.7m-33.7 12h1.7m-31.7 -6h1.7m8.3 1h1.7m33.3 -12h1.7m-42.7 6h1.7m14.3 3h1.7m18.3 -11h1.7m6.3 2h1.7m-8.7 14h1.7m-48.7 -24h1.7m42.3 2h1.7m25.3 20h1.7m-62.7 -27h1.7m52.3 35h1.7m-12.7 -9h1.7m-58.7 -11h1.7m26.3 13h1.7m4.3 -1h1.7m35.3 1h1.7m-20.7 0h1.7m-31.7 -2h1.7m-3.7 -7h1.7m22.3 8h1.7m14.3 -30h1.7m-43.7 27h1.7m-3.7 -8h1.7m49.3 -13h1.7m-65.7 25h1.7m37.3 7h1.7m-44.7 3h1.7m32.3 -12h1.7m29.3 -1h1.7m3.3 13h1.7m-71.7 -1h1.7m63.3 -1h1.7m-2.7 5h1.7m-34.7 -15h1.7m9.3 -28h1.7m21.3 22h1.7m-32.7 -11h1.7m-20.7 33h1.7m42.3 -28h1.7m-27.7 19h1.7m20.3 23h1.7m-23.7 -26h1.7m2.3 -5h1.7m-18.7 -23h1.7m30.3 14h1.7m-1.7 18h1.7m-22.7 -8h1.7m-5.7 3h1.7m-27.7 1h1.7m34.3 -30h1.7m-16.7 27h1.7m39.3 -5h1.7m-46.7 8h1.7m19.3 8h1.7m-6.7 -11h1.7m-2.7 -1h1.7m42.3 -2h1.7m-69.7 -29h1.7m31.3 9h1.7m-31.7 11h1.7m12.3 2h1.7m-13.7 2h1.7m26.3 -2h1.7m64.3 17h1.7m-78.7 -19h1.7m-0.7 19h1.7m-29.7 -37h1.7m47.3 17h1.7m14.3 31h1.7m-82.7 -36h1.7m60.3 14h1.7m1.3 -33h1.7m8.3 28h1.7m-0.7 0h1.7m-5.7 -21h1.7m5.3 -1h1.7m-0.7 62h1.7m-15.7 -3h1.7m-28.7 -34h1.7m-13.7 -8h1.7m15.3 -2h1.7m30.3 28h1.7m-16.7 -7h1.7m-38.7 -43h1.7m23.3 31h1.7m6.3 7h1.7m-4.7 15h1.7m7.3 -5h1.7m-7.7 -6h1.7m17.3 -32h1.7m-18.7 -3h1.7m-21.7 29h1.7m-7.7 -5h1.7m-13.7 -5h1.7m68.3 -9h1.7m-21.7 1h1.7m10.3 10h1.7m-19.7 -4h1.7m1.3 3h1.7m-6.7 13h1.7m5.3 5h1.7m14.3 -4h1.7m-51.7 -13h1.7m-16.7 6h1.7m10.3 -15h1.7m6.3 27h1.7m-6.7 19h1.7m14.3 -10h1.7m-14.7 -25h1.7m3.3 14h1.7m0.3 -12h1.7m29.3 1h1.7m-30.7 -7h1.7m0.3 20h1.7m-1.7 -3h1.7m-41.7 4h1.7m82.3 -18h1.7m9.3 -8h1.7m-20.7 -21h1.7m-19.7 18h1.7m-10.7 5h1.7m-4.7 3h1.7m32.3 12h1.7m-7.7 -1h1.7m-54.7 1h1.7m50.3 -15h1.7m-28.7 14h1.7m-9.7 7h1.7m-3.7 -15h1.7m50.3 5h1.7m-28.7 -26h1.7m-41.7 27h1.7m-3.7 -15h1.7m26.3 21h1.7m-32.7 -20h1.7m20.3 48h1.7m6.3 -25h1.7m-23.7 -16h1.7m19.3 6h1.7m-28.7 3h1.7m33.3 -14h1.7m16.3 16h1.7m-16.7 -22h1.7m17.3 34h1.7m-56.7 3h1.7m20.3 -26h1.7m12.3 19h1.7m-24.7 -42h1.7m-9.7 41h1.7m1.3 21h1.7m12.3 -47h1.7m8.3 12h1.7m0.3 12h1.7m11.3 7h1.7m-49.7 -33h1.7m15.3 13h1.7m-32.7 12h1.7m17.3 -12h1.7m24.3 -8h1.7m35.3 17h1.7m-28.7 -21h1.7m-15.7 -3h1.7m5.3 22h1.7m-22.7 14h1.7m-3.7 -9h1.7m32.3 -14h1.7m-27.7 -2h1.7m-12.7 22h1.7m31.3 -1h1.7m-21.7 -1h1.7m8.3 -10h1.7m15.3 6h1.7m-50.7 -30h1.7m24.3 20h1.7m22.3 12h1.7m-34.7 -21h1.7m19.3 -3h1.7m-31.7 26h1.7m44.3 -19h1.7m-12.7 12h1.7m-24.7 -11h1.7m2.3 21h1.7m-26.7 -29h1.7m17.3 15h1.7m-3.7 10h1.7m55.3 -10h1.7m-64.7 -22h1.7m-21.7 12h1.7m56.3 -3h1.7m-1.7 19h1.7m-62.7 -16h1.7m55.3 11h1.7m-36.7 -8h1.7m31.3 11h1.7m5.3 5h1.7m-0.7 7h1.7m-39.7 -8h1.7m1.3 -49h1.7m13.3 52h1.7m-3.7 -3h1.7m8.3 -30h1.7m-31.7 13h1.7m15.3 20h1.7m6.3 -36h1.7m-3.7 -1h1.7m5.3 22h1.7m28.3 10h1.7m-29.7 -1h1.7m-28.7 -7h1.7m71.3 -4h1.7m-43.7 35h1.7m-56.7 -19h1.7m64.3 -16h1.7m-29.7 7h1.7m7.3 -20h1.7m-34.7 19h1.7m-6.7 -7h1.7m26.3 1h1.7m1.3 -9h1.7m25.3 3h1.7m2.3 -6h1.7m-14.7 20h1.7m-7.7 19h1.7m-33.7 -15h1.7m-22.7 -30h1.7m34.3 38h1.7m-18.7 -32h1.7m-16.7 4h1.7m4.3 13h1.7m-18.7 1h1.7m36.3 -5h1.7m3.3 16h1.7m-24.7 0h1.7m16.3 -14h1.7m-23.7 4h1.7m63.3 -18h1.7m-48.7 7h1.7m49.3 -3h1.7m-29.7 1h1.7m2.3 18h1.7m-3.7 -14h1.7m12.3 3h1.7m-5.7 3h1.7m-66.7 -9h1.7m59.3 4h1.7m2.3 3h1.7m-3.7 26h1.7m-22.7 -27h1.7m2.3 13h1.7m32.3 -4h1.7m-39.7 -13h1.7m18.3 5h1.7m24.3 -8h1.7m-51.7 36h1.7m25.3 -35h1.7m-8.7 4h1.7m-25.7 -7h1.7m13.3 33h1.7m-0.7 -17h1.7m-24.7 4h1.7m5.3 -36h1.7m-17.7 45h1.7m-6.7 -39h1.7m31.3 41h1.7m-26.7 -27h1.7m9.3 11h1.7m42.3 -7h1.7m-22.7 3h1.7m-32.7 12h1.7m-15.7 1h1.7m10.3 -12h1.7m36.3 6h1.7m-47.7 2h1.7m20.3 -2h1.7m20.3 8h1.7m-19.7 -17h1.7m-13.7 29h1.7m21.3 -23h1.7m-21.7 34h1.7m16.3 -27h1.7m-9.7 -7h1.7m27.3 -22h1.7m-34.7 27h1.7m-2.7 11h1.7m-6.7 -28h1.7m-35.7 -3h1.7m31.3 1h1.7m55.3 10h1.7m-62.7 -9h1.7m-15.7 32h1.7m16.3 -9h1.7m-39.7 -19h1.7m29.3 2h1.7m4.3 -21h1.7m13.3 37h1.7m-9.7 -23h1.7m11.3 -2h1.7m3.3 9h1.7m5.3 21h1.7m-72.7 -16h1.7m38.3 -22h1.7m-6.7 19h1.7m45.3 6h1.7m-50.7 2h1.7m-9.7 -6h1.7m-4.7 -12h1.7m25.3 21h1.7m1.3 -10h1.7m27.3 -13h1.7m-36.7 -5h1.7m10.3 10h1.7m6.3 16h1.7m17.3 -5h1.7m-18.7 -1h1.7m-53.7 13h1.7m18.3 -11h1.7m16.3 -2h1.7m-44.7 5h1.7m21.3 -3h1.7m-2.7 -12h1.7m13.3 12h1.7m10.3 3h1.7m5.3 -5h1.7m-23.7 3h1.7m33.3 6h1.7m-4.7 -32h1.7m-26.7 43h1.7m-2.7 -15h1.7m-25.7 36h1.7m49.3 -26h1.7m-25.7 -38h1.7m-6.7 36h1.7m-11.7 -2h1.7m62.3 -21h1.7m-81.7 6h1.7m26.3 4h1.7m-3.7 4h1.7m-27.7 -18h1.7m19.3 23h1.7m28.3 2h1.7m-46.7 1h1.7m10.3 -6h1.7m-18.7 7h1.7m32.3 0h1.7m-24.7 -4h1.7m45.3 -3h1.7m-39.7 -1h1.7m3.3 22h1.7m-11.7 -32h1.7m62.3 28h1.7m-102.7 -8h1.7m70.3 -12h1.7m-14.7 2h1.7m25.3 1h1.7m-20.7 -4h1.7m-22.7 -7h1.7m-6.7 14h1.7m10.3 -2h1.7m-31.7 -11h1.7m27.3 25h1.7m14.3 -20h1.7m-12.7 -11h1.7m-4.7 25h1.7m-43.7 -20h1.7m48.3 6h1.7m-10.7 4h1.7m0.3 7h1.7m-17.7 -25h1.7m42.3 16h1.7m-50.7 10h1.7m80.3 -10h1.7m-24.7 -19h1.7m-17.7 8h1.7m-57.7 -9h1.7m70.3 18h1.7m-32.7 -4h1.7m-15.7 18h1.7m-38.7 -17h1.7m25.3 27h1.7m24.3 -31h1.7m6.3 42h1.7m-19.7 -7h1.7m-20.7 -12h1.7m38.3 8h1.7m-5.7 -30h1.7m-14.7 14h1.7m17.3 -1h1.7m-60.7 -9h1.7m79.3 27h1.7m-62.7 -32h1.7m-9.7 -19h1.7m-34.7 15h1.7m51.3 18h1.7m27.3 -36h1.7m-27.7 27h1.7m41.3 -4h1.7m-28.7 -16h1.7m-18.7 38h1.7m5.3 -13h1.7m34.3 -10h1.7m-49.7 24h1.7m4.3 -22h1.7m10.3 -34h1.7m-61.7 40h1.7m103.3 -8h1.7m-92.7 23h1.7m21.3 -16h1.7m7.3 -8h1.7m57.3 20h1.7m-70.7 -8h1.7m-51.7 19h1.7m76.3 -22h1.7m10.3 -20h1.7m-56.7 32h1.7m48.3 2h1.7m-46.7 -46h1.7m18.3 71h1.7m44.3 -40h1.7m-30.7 28h1.7m-19.7 -10h1.7m28.3 -20h1.7m-1.7 2h1.7m-40.7 -3h1.7m6.3 3h1.7m-6.7 -38h1.7m33.3 55h1.7m20.3 -18h1.7m-28.7 17h1.7m-26.7 -28h1.7m2.3 30h1.7m18.3 -40h1.7m-71.7 13h1.7m23.3 -3h1.7m-5.7 14h1.7m-30.7 5h1.7m92.3 10h1.7m4.3 -19h1.7m-40.7 -17h1.7m10.3 32h1.7m21.3 -18h1.7m-3.7 11h1.7m-30.7 9h1.7m-12.7 -41h1.7m14.3 49h1.7m-43.7 -34h1.7m45.3 -13h1.7m13.3 15h1.7m-68.7 17h1.7m28.3 -19h1.7m-42.7 38h1.7m38.3 -29h1.7m-15.7 12h1.7m29.3 -37h1.7m-21.7 39h1.7m7.3 9h1.7m0.3 -32h1.7m30.3 36h1.7m-24.7 -14h1.7m-11.7 -21h1.7m21.3 5h1.7m26.3 25h1.7m-46.7 -15h1.7m22.3 -13h1.7m-35.7 16h1.7m-19.7 -17h1.7m48.3 -20h1.7m-42.7 47h1.7m-16.7 -41h1.7m32.3 26h1.7m-45.7 7h1.7m8.3 -1h1.7m-7.7 -28h1.7m88.3 12h1.7m-97.7 27h1.7m23.3 -15h1.7m11.3 22h1.7m-14.7 -38h1.7m15.3 -3h1.7m3.3 5h1.7m16.3 14h1.7m-20.7 -4h1.7m60.3 -1h1.7m-32.7 10h1.7m-21.7 -19h1.7m-63.7 5h1.7m23.3 3h1.7m52.3 24h1.7m-9.7 1h1.7m-29.7 -44h1.7m29.3 30h1.7m-46.7 -29h1.7m-4.7 31h1.7m6.3 2h1.7m48.3 -8h1.7m-4.7 -14h1.7m-33.7 19h1.7m-26.7 -28h1.7m17.3 -9h1.7m24.3 16h1.7m-47.7 34h1.7m-37.7 -8h1.7m86.3 -33h1.7m-17.7 26h1.7m-38.7 -19h1.7m23.3 -11h1.7m-58.7 26h1.7m66.3 12h1.7m6.3 2h1.7m-50.7 -38h1.7m13.3 -3h1.7m29.3 30h1.7m18.3 -32h1.7m-78.7 32h1.7m42.3 -31h1.7m30.3 16h1.7m-23.7 26h1.7m-67.7 -35h1.7m60.3 32h1.7m-52.7 14h1.7m-20.7 -21h1.7m64.3 -12h1.7m28.3 -1h1.7m-33.7 7h1.7m3.3 11h1.7m-31.7 -32h1.7m77.3 33h1.7m-16.7 0h1.7m-53.7 -21h1.7m4.3 11h1.7m44.3 -1h1.7m-32.7 0h1.7m-0.7 -4h1.7m0.3 -3h1.7m-2.7 2h1.7m4.3 10h1.7m-4.7 -23h1.7m-49.7 13h1.7m17.3 8h1.7m-16.7 -9h1.7m-5.7 10h1.7m25.3 -2h1.7m-1.7 13h1.7m10.3 -10h1.7m-21.7 19h1.7m-24.7 -22h1.7m12.3 19h1.7m35.3 -17h1.7m-10.7 5h1.7m-1.7 -20h1.7m-56.7 -1h1.7m70.3 -17h1.7m-48.7 37h1.7m-3.7 -14h1.7m63.3 10h1.7m-30.7 4h1.7m-72.7 -27h1.7m83.3 -5h1.7m-52.7 -23h1.7m71.3 62h1.7m-36.7 -22h1.7m23.3 1h1.7m-34.7 19h1.7m-4.7 -27h1.7m3.3 50h1.7m24.3 -16h1.7m-43.7 -14h1.7m14.3 -11h1.7m1.3 -6h1.7m-31.7 -3h1.7m-22.7 14h1.7m6.3 5h1.7m5.3 1h1.7m43.3 -16h1.7m72.3 20h1.7m-95.7 -33h1.7m11.3 19h1.7m-15.7 27h1.7m9.3 -10h1.7m2.3 -18h1.7m16.3 -16h1.7m-66.7 11h1.7m2.3 1h1.7m20.3 43h1.7m-12.7 -15h1.7m39.3 -8h1.7m-39.7 -27h1.7m14.3 6h1.7m-15.7 -1h1.7m17.3 -15h1.7m13.3 7h1.7m34.3 34h1.7m-66.7 -31h1.7m-7.7 19h1.7m47.3 -33h1.7m0.3 4h1.7m-27.7 45h1.7m-22.7 -18h1.7m50.3 6h1.7m21.3 -6h1.7m-60.7 -12h1.7m10.3 6h1.7m-5.7 -25h1.7m3.3 20h1.7m3.3 30h1.7m-34.7 -29h1.7m20.3 -15h1.7m-5.7 31h1.7m34.3 26h1.7m-22.7 -32h1.7m19.3 31h1.7m-43.7 -22h1.7m-12.7 -46h1.7m22.3 54h1.7m-31.7 -36h1.7m30.3 -10h1.7m-9.7 18h1.7m-33.7 2h1.7m25.3 24h1.7m8.3 -2h1.7m-52.7 0h1.7m31.3 -6h1.7m50.3 -40h1.7m2.3 47h1.7m-62.7 -26h1.7m-6.7 20h1.7m19.3 8h1.7m-17.7 -10h1.7m40.3 -5h1.7m22.3 17h1.7m-50.7 -10h1.7m-23.7 -9h1.7m29.3 -2h1.7m6.3 -7h1.7m0.3 19h1.7m-28.7 -25h1.7m88.3 18h1.7m-75.7 15h1.7m-30.7 -34h1.7m5.3 36h1.7m47.3 -18h1.7m7.3 -23h1.7m-25.7 43h1.7m-35.7 -19h1.7m41.3 18h1.7m-18.7 -46h1.7m-18.7 37h1.7m-49.7 -11h1.7m67.3 -28h1.7m-24.7 41h1.7m-30.7 -14h1.7m-7.7 3h1.7m3.3 -4h1.7m-5.7 2h1.7m37.3 -1h1.7m3.3 -15h1.7m50.3 12h1.7m-16.7 -4h1.7m-11.7 12h1.7m-32.7 -24h1.7m24.3 8h1.7m-48.7 5h1.7m-24.7 -16h1.7m80.3 21h1.7m-31.7 -25h1.7m-19.7 32h1.7m-19.7 1h1.7m9.3 -36h1.7m4.3 36h1.7m-1.7 -13h1.7m-39.7 14h1.7m68.3 -1h1.7m-63.7 -7h1.7m55.3 9h1.7m-43.7 -21h1.7m32.3 -6h1.7m-6.7 41h1.7m22.3 -25h1.7m-37.7 13h1.7m-8.7 -20h1.7m25.3 12h1.7m0.3 -9h1.7m13.3 -35h1.7m-41.7 45h1.7m36.3 6h1.7m-16.7 -12h1.7m-64.7 -15h1.7m101.3 10h1.7m-22.7 -16h1.7m-41.7 36h1.7m10.3 -10h1.7m30.3 4h1.7m-29.7 -10h1.7m-2.7 -13h1.7m-43.7 17h1.7m36.3 -27h1.7m-19.7 14h1.7m28.3 9h1.7m-6.7 19h1.7m14.3 -21h1.7m-54.7 0h1.7m8.3 -9h1.7m35.3 -1h1.7m25.3 26h1.7m-67.7 -16h1.7m57.3 10h1.7m23.3 9h1.7m-97.7 -1h1.7m-40.7 -24h1.7m48.3 14h1.7m36.3 -8h1.7m-45.7 10h1.7m42.3 -15h1.7m-48.7 16h1.7m27.3 12h1.7m-11.7 -23h1.7m36.3 13h1.7m-43.7 -23h1.7m65.3 1h1.7m-56.7 4h1.7m-17.7 41h1.7m2.3 -51h1.7m30.3 -1h1.7m-22.7 8h1.7m39.3 18h1.7m-17.7 -17h1.7m-63.7 25h1.7m18.3 -20h1.7m-5.7 -2h1.7m17.3 9h1.7m3.3 -20h1.7m-16.7 16h1.7m-10.7 12h1.7m-9.7 -12h1.7m14.3 6h1.7m59.3 6h1.7m-71.7 -9h1.7m31.3 24h1.7m-67.7 -11h1.7m52.3 -18h1.7m10.3 0h1.7m22.3 -2h1.7m-42.7 6h1.7m-15.7 -17h1.7m25.3 30h1.7m25.3 -30h1.7m-8.7 46h1.7m-31.7 -11h1.7m-20.7 3h1.7m70.3 -22h1.7m-37.7 -33h1.7m-21.7 28h1.7m-55.7 12h1.7m45.3 13h1.7m45.3 -11h1.7m24.3 -34h1.7m-63.7 21h1.7m-6.7 -9h1.7m32.3 19h1.7m-0.7 -23h1.7m-19.7 31h1.7m-14.7 -11h1.7m-2.7 3h1.7m11.3 7h1.7m15.3 -8h1.7m-60.7 21h1.7m31.3 -37h1.7m-23.7 8h1.7m29.3 15h1.7m-3.7 -7h1.7m-19.7 21h1.7m53.3 -29h1.7m-0.7 12h1.7m-0.7 -10h1.7m0.3 23h1.7m-36.7 -31h1.7m31.3 6h1.7m-52.7 -3h1.7m-7.7 14h1.7m8.3 0h1.7m-1.7 -10h1.7m-13.7 3h1.7m-21.7 -10h1.7m23.3 9h1.7m-8.7 11h1.7m28.3 0h1.7m-4.7 -17h1.7m-6.7 2h1.7m5.3 5h1.7m-6.7 1h1.7m-11.7 -20h1.7m12.3 0h1.7m-2.7 5h1.7m-2.7 1h1.7m-12.7 43h1.7m53.3 -13h1.7m-43.7 5h1.7m51.3 -22h1.7m-63.7 15h1.7m-9.7 5h1.7m33.3 -22h1.7m-9.7 -3h1.7m-41.7 16h1.7m-24.7 -14h1.7m39.3 -21h1.7m1.3 23h1.7m9.3 8h1.7m-42.7 -16h1.7m25.3 7h1.7m1.3 40h1.7m1.3 -4h1.7m-46.7 -46h1.7m76.3 25h1.7m-43.7 -45h1.7m-35.7 48h1.7m48.3 -13h1.7m-45.7 -9h1.7m36.3 28h1.7m-23.7 -22h1.7m66.3 -7h1.7m-39.7 -15h1.7m-37.7 0h1.7m32.3 37h1.7m-8.7 7h1.7m-5.7 -14h1.7m-10.7 5h1.7m9.3 0h1.7m28.3 -3h1.7m-27.7 -19h1.7m-0.7 20h1.7m9.3 -2h1.7m12.3 -6h1.7m-60.7 5h1.7m9.3 -5h1.7m-41.7 -2h1.7m75.3 -16h1.7m-10.7 -1h1.7m33.3 21h1.7m-11.7 -2h1.7m-58.7 -17h1.7m4.3 31h1.7m7.3 -17h1.7m-11.7 -4h1.7m10.3 43h1.7m-9.7 -31h1.7m53.3 -23h1.7m23.3 -5h1.7m-90.7 3h1.7m42.3 -4h1.7m-46.7 29h1.7m30.3 27h1.7m-42.7 -30h1.7m36.3 -9h1.7m5.3 4h1.7m-9.7 -12h1.7m-13.7 24h1.7m-33.7 -21h1.7m-13.7 6h1.7m48.3 -30h1.7m30.3 22h1.7m-11.7 3h1.7m7.3 16h1.7m6.3 -24h1.7m-55.7 0h1.7m19.3 1h1.7m43.3 30h1.7m-59.7 -26h1.7m-25.7 23h1.7m32.3 -28h1.7m-1.7 33h1.7m-7.7 -31h1.7m29.3 -3h1.7m-6.7 9h1.7m-6.7 0h1.7m-42.7 16h1.7m-8.7 -4h1.7m33.3 -8h1.7m-36.7 20h1.7m37.3 -21h1.7m11.3 -11h1.7m-2.7 27h1.7m-54.7 -12h1.7m62.3 -19h1.7m-4.7 28h1.7m-70.7 -21h1.7m22.3 -1h1.7m-52.7 -5h1.7m50.3 34h1.7m9.3 8h1.7m13.3 -23h1.7m24.3 -14h1.7m-48.7 11h1.7m15.3 8h1.7m41.3 -14h1.7m-89.7 9h1.7m64.3 6h1.7m-56.7 -47h1.7m35.3 51h1.7m-23.7 7h1.7m-12.7 -12h1.7m-30.7 -11h1.7m65.3 30h1.7m-25.7 -26h1.7m-28.7 11h1.7m13.3 -16h1.7m58.3 39h1.7m-59.7 -39h1.7m16.3 10h1.7m18.3 4h1.7m5.3 -21h1.7m-84.7 14h1.7m55.3 1h1.7m8.3 -31h1.7m44.3 50h1.7m-99.7 -33h1.7m25.3 27h1.7m-25.7 -23h1.7m32.3 -8h1.7m-17.7 12h1.7m46.3 14h1.7m-87.7 -21h1.7m-11.7 18h1.7m53.3 -19h1.7m-20.7 -7h1.7m34.3 11h1.7m17.3 3h1.7m-20.7 17h1.7m11.3 -4h1.7m-41.7 2h1.7m37.3 -3h1.7m12.3 -16h1.7m-47.7 -8h1.7m-17.7 15h1.7m50.3 12h1.7m-5.7 -34h1.7m14.3 16h1.7m-52.7 27h1.7m35.3 -24h1.7m4.3 17h1.7m-27.7 -22h1.7m-1.7 18h1.7m9.3 -20h1.7m-1.7 -1h1.7m-3.7 3h1.7m2.3 -26h1.7m-2.7 10h1.7m-19.7 18h1.7m-10.7 2h1.7m19.3 -1h1.7m5.3 30h1.7m-29.7 -40h1.7m46.3 -5h1.7m-42.7 10h1.7m33.3 13h1.7m3.3 -11h1.7m4.3 -17h1.7m-27.7 18h1.7m16.3 22h1.7m-28.7 -2h1.7m31.3 -12h1.7m-12.7 10h1.7m-41.7 -26h1.7m4.3 17h1.7m13.3 -4h1.7m-33.7 -2h1.7m51.3 -8h1.7m-14.7 -39h1.7m15.3 44h1.7m-36.7 -7h1.7m-0.7 -1h1.7m-20.7 -6h1.7m-17.7 31h1.7m16.3 31h1.7m-38.7 -51h1.7m68.3 16h1.7m-13.7 -20h1.7m-17.7 3h1.7m-0.7 8h1.7m-9.7 -6h1.7m36.3 8h1.7m46.3 0h1.7m-68.7 4h1.7m-4.7 -16h1.7m18.3 19h1.7m7.3 -10h1.7m-45.7 -14h1.7m-13.7 50h1.7m40.3 -30h1.7m-5.7 3h1.7m-38.7 18h1.7m28.3 -22h1.7m-47.7 -7h1.7m44.3 1h1.7m-28.7 46h1.7m4.3 -32h1.7m30.3 22h1.7m-28.7 -27h1.7m41.3 -14h1.7m-32.7 3h1.7m-45.7 -6h1.7m25.3 2h1.7m2.3 -14h1.7m-0.7 67h1.7m20.3 -10h1.7m14.3 -54h1.7m26.3 -7h1.7m-77.7 24h1.7m-32.7 -2h1.7m63.3 -2h1.7m-49.7 -12h1.7m46.3 35h1.7m31.3 -5h1.7m-34.7 8h1.7m-12.7 -2h1.7m30.3 -4h1.7m-8.7 -42h1.7m5.3 44h1.7m-10.7 -34h1.7m-50.7 6h1.7m20.3 0h1.7m62.3 25h1.7m-15.7 -29h1.7m-66.7 54h1.7m31.3 -73h1.7m10.3 47h1.7m-49.7 -10h1.7m37.3 3h1.7m-2.7 6h1.7m-62.7 -12h1.7m23.3 -14h1.7m86.3 49h1.7m-79.7 -39h1.7m-13.7 11h1.7m22.3 -37h1.7m14.3 49h1.7m-13.7 -6h1.7m39.3 30h1.7m-78.7 -64h1.7m48.3 30h1.7m-44.7 -26h1.7m24.3 17h1.7m-27.7 15h1.7m27.3 -3h1.7m43.3 -28h1.7m-71.7 38h1.7m28.3 15h1.7m-31.7 -25h1.7m0.3 -14h1.7m30.3 4h1.7m-72.7 4h1.7m25.3 24h1.7m-12.7 -34h1.7m22.3 -24h1.7m18.3 18h1.7m11.3 -6h1.7m-4.7 43h1.7m-29.7 -13h1.7m29.3 -6h1.7m-71.7 3h1.7m97.3 10h1.7m-44.7 -32h1.7m34.3 45h1.7m-29.7 -13h1.7m-61.7 7h1.7m32.3 -17h1.7m59.3 24h1.7m-34.7 -16h1.7m-38.7 -15h1.7m2.3 -12h1.7m10.3 35h1.7m14.3 -7h1.7m0.3 -23h1.7m12.3 13h1.7m-1.7 -2h1.7m-19.7 3h1.7m27.3 -9h1.7m-33.7 -7h1.7m13.3 21h1.7m-42.7 12h1.7m41.3 -39h1.7m-8.7 -3h1.7m9.3 32h1.7m-6.7 -22h1.7m-24.7 25h1.7m-30.7 -19h1.7m39.3 38h1.7m34.3 -34h1.7m-28.7 5h1.7m-38.7 -4h1.7m42.3 1h1.7m-18.7 15h1.7m-25.7 -21h1.7m9.3 -18h1.7m28.3 14h1.7m-33.7 -9h1.7m-4.7 12h1.7m36.3 -1h1.7m-69.7 20h1.7m70.3 5h1.7m20.3 -6h1.7m-66.7 0h1.7m49.3 -11h1.7m-22.7 -23h1.7m-52.7 18h1.7m41.3 13h1.7m14.3 8h1.7m6.3 -18h1.7m-69.7 3h1.7m24.3 -5h1.7m10.3 -5h1.7m21.3 19h1.7m-39.7 -5h1.7m-49.7 -1h1.7m84.3 11h1.7m-55.7 -19h1.7m45.3 20h1.7m33.3 -28h1.7m-75.7 15h1.7m20.3 -8h1.7m22.3 0h1.7m-29.7 10h1.7m22.3 -5h1.7m-44.7 -3h1.7m-12.7 23h1.7m5.3 -2h1.7m43.3 -2h1.7m-25.7 -26h1.7m-14.7 -9h1.7m-15.7 15h1.7m3.3 -5h1.7m10.3 -23h1.7m-12.7 24h1.7m-21.7 30h1.7m75.3 -35h1.7m-34.7 50h1.7m-21.7 -62h1.7m-6.7 15h1.7m-8.7 22h1.7m16.3 -29h1.7m40.3 15h1.7m-31.7 18h1.7m10.3 -16h1.7m-1.7 17h1.7m15.3 -29h1.7m-34.7 3h1.7m19.3 7h1.7m-27.7 21h1.7m-37.7 -21h1.7m51.3 9h1.7m-23.7 4h1.7m27.3 17h1.7m13.3 -57h1.7m-54.7 58h1.7m36.3 -35h1.7m-44.7 12h1.7m10.3 15h1.7m23.3 -50h1.7m-12.7 35h1.7m13.3 -8h1.7m13.3 19h1.7m2.3 -10h1.7m-23.7 -35h1.7m-31.7 23h1.7m-2.7 -1h1.7m-1.7 8h1.7m34.3 10h1.7m2.3 5h1.7m-12.7 -24h1.7m-10.7 -21h1.7m30.3 42h1.7m-33.7 -20h1.7m2.3 -1h1.7m29.3 34h1.7m40.3 -10h1.7m-44.7 -30h1.7m-50.7 41h1.7m20.3 -62h1.7m56.3 17h1.7m-89.7 15h1.7m-32.7 -4h1.7m104.3 -13h1.7m-51.7 -8h1.7m23.3 23h1.7m-10.7 -15h1.7m24.3 -5h1.7m-37.7 23h1.7m2.3 -3h1.7m-31.7 -5h1.7m-12.7 -2h1.7m11.3 11h1.7m34.3 9h1.7m-11.7 -18h1.7m-12.7 -12h1.7m70.3 24h1.7m-74.7 -18h1.7m-11.7 21h1.7m15.3 -11h1.7m42.3 5h1.7m-31.7 -5h1.7m12.3 -18h1.7m-47.7 38h1.7m25.3 11h1.7m-38.7 -9h1.7m54.3 -18h1.7m-50.7 11h1.7m46.3 3h1.7m-63.7 -13h1.7m37.3 -18h1.7m-19.7 6h1.7m42.3 19h1.7m-28.7 -20h1.7m24.3 -1h1.7m-31.7 26h1.7m-4.7 -28h1.7m-10.7 36h1.7m51.3 -25h1.7m-32.7 -1h1.7m5.3 11h1.7m-26.7 -26h1.7m23.3 -6h1.7m-12.7 35h1.7m-6.7 5h1.7m-2.7 -29h1.7m1.3 18h1.7m8.3 6h1.7m-2.7 -25h1.7m4.3 20h1.7m9.3 2h1.7m-48.7 -2h1.7m14.3 8h1.7m1.3 -31h1.7m83.3 17h1.7m-81.7 5h1.7m17.3 -9h1.7m-13.7 -29h1.7m-57.7 49h1.7m27.3 -26h1.7m21.3 -21h1.7m47.3 52h1.7m-63.7 -32h1.7m39.3 17h1.7m-44.7 23h1.7m-17.7 -5h1.7m19.3 -7h1.7m-4.7 -27h1.7m-8.7 -10h1.7m48.3 30h1.7m-15.7 -1h1.7m-21.7 -13h1.7m28.3 14h1.7m-28.7 12h1.7m1.3 -35h1.7m-37.7 9h1.7m40.3 3h1.7m-45.7 32h1.7m5.3 -21h1.7m20.3 -16h1.7m-20.7 -26h1.7m80.3 24h1.7m-91.7 3h1.7m17.3 23h1.7m48.3 -13h1.7m-28.7 -37h1.7m12.3 14h1.7m-12.7 11h1.7m25.3 -17h1.7m-29.7 29h1.7m10.3 9h1.7m-1.7 -10h1.7m-5.7 -32h1.7m-2.7 17h1.7m9.3 6h1.7m-7.7 7h1.7m11.3 -32h1.7m-23.7 30h1.7m5.3 -27h1.7m-10.7 20h1.7m17.3 -20h1.7m-12.7 18h1.7m-9.7 -4h1.7m8.3 -5h1.7m-9.7 1h1.7m19.3 0h1.7m-12.7 17h1.7m23.3 -2h1.7m-24.7 -18h1.7m6.3 15h1.7m-11.7 4h1.7m6.3 -16h1.7m-8.7 9h1.7m-7.7 -3h1.7m19.3 9h1.7m8.3 -15h1.7m-16.7 28h1.7m-16.7 -6h1.7m9.3 -1h1.7m-21.7 -43h1.7m11.3 43h1.7m5.3 -43h1.7m12.3 56h1.7m-22.7 -8h1.7m-4.7 -37h1.7m-0.7 7h1.7m-3.7 -11h1.7m11.3 10h1.7m-9.7 -5h1.7m10.3 -11h1.7m0.3 11h1.7m-35.7 32h1.7m20.3 -27h1.7m3.3 -1h1.7m-2.7 27h1.7m-38.7 -13h1.7m41.3 -35h1.7m-5.7 44h1.7m-4.7 -14h1.7m-1.7 24h1.7m-14.7 -30h1.7m3.3 50h1.7m12.3 -38h1.7m-17.7 21h1.7m-12.7 -14h1.7m33.3 -37h1.7m-10.7 7h1.7m9.3 -15h1.7m-25.7 37h1.7m-15.7 -15h1.7m12.3 -9h1.7m-6.7 19h1.7m3.3 26h1.7m-1.7 -11h1.7m13.3 -5h1.7m-4.7 -36h1.7m-26.7 17h1.7m34.3 -19h1.7m-7.7 27h1.7m-38.7 -43h1.7m14.3 44h1.7m-0.7 9h1.7m10.3 -26h1.7m-7.7 23h1.7m0.3 3h1.7m-22.7 -15h1.7m16.3 16h1.7m3.3 -15h1.7m-9.7 -11h1.7m18.3 -8h1.7m-22.7 23h1.7m10.3 -4h1.7m-21.7 -5h1.7m14.3 -2h1.7m3.3 15h1.7m-11.7 -4h1.7m0.3 0h1.7m4.3 10h1.7m-13.7 -60h1.7m2.3 54h1.7m-12.7 0h1.7m-0.7 12h1.7m17.3 -30h1.7m-38.7 -8h1.7m36.3 37h1.7m-5.7 -4h1.7m8.3 -27h1.7m-16.7 9h1.7m-9.7 33h1.7m8.3 -13h1.7m15.3 23h1.7m-11.7 -30h1.7m-9.7 -4h1.7m-11.7 -1h1.7m15.3 27h1.7m-8.7 -14h1.7m-21.7 -12h1.7m13.3 4h1.7m10.3 0h1.7m-18.7 -24h1.7m13.3 7h1.7m12.3 -5h1.7m-17.7 -4h1.7m-0.7 14h1.7m-16.7 -1h1.7m12.3 -4h1.7m-0.7 36h1.7m-0.7 -5h1.7m7.3 -9h1.7m6.3 -14h1.7m-13.7 15h1.7m-12.7 -41h1.7m19.3 43h1.7m-24.7 5h1.7m21.3 -3h1.7m-18.7 -6h1.7m-4.7 -25h1.7m-2.7 -15h1.7m23.3 43h1.7m-29.7 -6h1.7m9.3 30h1.7m-21.7 -30h1.7m14.3 -11h1.7m-2.7 13h1.7m-9.7 -6h1.7m9.3 4h1.7m-12.7 14h1.7m-13.7 -11h1.7m6.3 3h1.7m17.3 -6h1.7m12.3 -1h1.7m-14.7 -29h1.7m-22.7 30h1.7m15.3 -4h1.7m-10.7 -10h1.7m-9.7 1h1.7m20.3 -14h1.7m-11.7 14h1.7m5.3 29h1.7m-3.7 -11h1.7m-5.7 1h1.7m-3.7 15h1.7m16.3 -38h1.7m-22.7 28h1.7m1.3 -1h1.7m-7.7 1h1.7m8.3 -25h1.7m0.3 24h1.7m-18.7 -46h1.7m34.3 13h1.7m-30.7 28h1.7m6.3 3h1.7m4.3 -44h1.7m-10.7 31h1.7m-11.7 -22h1.7m3.3 15h1.7m-7.7 18h1.7m4.3 -13h1.7m1.3 6h1.7m-5.7 -21h1.7m7.3 40h1.7m-8.7 -52h1.7m6.3 6h1.7m-26.7 32h1.7m36.3 -28h1.7m-21.7 27h1.7m-2.7 -16h1.7m1.3 4h1.7m-1.7 1h1.7m-13.7 27h1.7m8.3 -13h1.7m-3.7 -18h1.7m3.3 -8h1.7m-0.7 8h1.7m-6.7 36h1.7m4.3 2h1.7m11.3 -10h1.7m-23.7 -39h1.7m4.3 21h1.7m1.3 -22h1.7m-23.7 32h1.7m11.3 10h1.7m5.3 -17h1.7m-5.7 10h1.7m-18.7 13h1.7m26.3 -5h1.7m-4.7 -34h1.7m-25.7 29h1.7m12.3 -22h1.7m32.3 13h1.7m-78.7 -27h1.7m34.3 43h1.7m12.3 -28h1.7m8.3 3h1.7m-31.7 14h1.7m21.3 9h1.7m2.3 -50h1.7m-29.7 39h1.7m22.3 -1h1.7m-7.7 -11h1.7m-9.7 1h1.7m17.3 -4h1.7m0.3 -24h1.7m-5.7 4h1.7m-1.7 16h1.7m0.3 14h1.7m-16.7 -24h1.7m10.3 -5h1.7m-15.7 21h1.7m-3.7 1h1.7m5.3 -3h1.7m4.3 -2h1.7m-9.7 -3h1.7m-9.7 19h1.7m18.3 4h1.7m-9.7 -23h1.7m6.3 17h1.7m-17.7 12h1.7m14.3 15h1.7m-24.7 -30h1.7m28.3 2h1.7m-2.7 3h1.7m-20.7 -15h1.7m-22.7 19h1.7m36.3 0h1.7m-16.7 -7h1.7m-1.7 -32h1.7m8.3 20h1.7m8.3 7h1.7m-35.7 11h1.7m10.3 -40h1.7m10.3 13h1.7m-1.7 6h1.7m-9.7 8h1.7m-20.7 21h1.7m15.3 -10h1.7m-0.7 3h1.7m-5.7 -11h1.7m15.3 22h1.7m-9.7 -31h1.7m-3.7 14h1.7m-4.7 -15h1.7m-4.7 -4h1.7m-1.7 32h1.7m-9.7 -22h1.7m9.3 -20h1.7m14.3 34h1.7m-22.7 -25h1.7m8.3 -9h1.7m15.3 28h1.7m-26.7 -20h1.7m-10.7 44h1.7m17.3 -33h1.7m-7.7 -31h1.7m2.3 57h1.7m4.3 -30h1.7m1.3 10h1.7m-19.7 -5h1.7m10.3 -23h1.7m1.3 -1h1.7m-3.7 32h1.7m-25.7 -16h1.7m20.3 4h1.7m-1.7 -8h1.7m-4.7 -24h1.7m-0.7 67h1.7m-27.7 -28h1.7m13.3 33h1.7m14.3 -65h1.7m-1.7 35h1.7m-3.7 -27h1.7m-16.7 4h1.7m9.3 10h1.7m7.3 -5h1.7m-14.7 15h1.7m1.3 -24h1.7m-23.7 31h1.7m15.3 -43h1.7m12.3 26h1.7m-23.7 17h1.7m10.3 9h1.7m-8.7 -32h1.7m-1.7 8h1.7m12.3 6h1.7m-6.7 -7h1.7m-6.7 -5h1.7m-17.7 6h1.7m11.3 11h1.7m26.3 -9h1.7m-29.7 -12h1.7m-5.7 16h1.7m9.3 -24h1.7m2.3 38h1.7m-0.7 -33h1.7m0.3 -10h1.7m-3.7 32h1.7m1.3 13h1.7m-2.7 -32h1.7m-18.7 45h1.7m-3.7 -1h1.7m8.3 -38h1.7m-18.7 -4h1.7m21.3 19h1.7m-23.7 -16h1.7m10.3 3h1.7m-14.7 54h1.7m4.3 -61h1.7m7.3 13h1.7m16.3 -24h1.7m-29.7 25h1.7m16.3 -8h1.7m1.3 5h1.7m-21.7 14h1.7m-0.7 1h1.7m3.3 -12h1.7m14.3 -5h1.7m-15.7 11h1.7m0.3 -13h1.7m7.3 -4h1.7m-28.7 22h1.7m26.3 -21h1.7m-19.7 -2h1.7m16.3 17h1.7m-1.7 -2h1.7m-17.7 0h1.7m26.3 7h1.7m-22.7 -23h1.7m11.3 38h1.7m-22.7 -3h1.7m-1.7 -39h1.7m11.3 15h1.7m1.3 4h1.7m-15.7 8h1.7m5.3 -24h1.7m-9.7 11h1.7m-6.7 6h1.7m12.3 1h1.7m5.3 10h1.7m-3.7 2h1.7m-8.7 -25h1.7m-18.7 9h1.7m23.3 4h1.7m-3.7 -12h1.7m-24.7 9h1.7m19.3 28h1.7m-5.7 -33h1.7m1.3 -1h1.7m2.3 7h1.7m-14.7 -6h1.7m20.3 0h1.7m1.3 11h1.7m-13.7 1h1.7m-14.7 -7h1.7m4.3 -19h1.7m-1.7 24h1.7m-6.7 -5h1.7m0.3 6h1.7m-3.7 5h1.7m-6.7 -6h1.7m11.3 -6h1.7m13.3 -2h1.7m-27.7 4h1.7m-4.7 -8h1.7m25.3 4h1.7m-11.7 -23h1.7m-6.7 47h1.7m8.3 -33h1.7m-16.7 0h1.7m13.3 16h1.7m-13.7 -4h1.7m-22.7 11h1.7m16.3 -15h1.7m2.3 -1h1.7m-7.7 9h1.7m-10.7 10h1.7m22.3 -25h1.7m-13.7 16h1.7m-4.7 -14h1.7m13.3 2h1.7m-3.7 16h1.7m-15.7 -20h1.7m14.3 7h1.7m1.3 0h1.7m-6.7 1h1.7m-6.7 10h1.7m7.3 -10h1.7m-3.7 -13h1.7m-12.7 3h1.7m9.3 14h1.7m-2.7 -4h1.7m-8.7 8h1.7m0.3 -6h1.7m9.3 -25h1.7m-10.7 -12h1.7m-1.7 52h1.7m-12.7 6h1.7m17.3 -56h1.7m-24.7 34h1.7m0.3 -3h1.7m23.3 4h1.7m-14.7 -9h1.7m-12.7 -19h1.7m-5.7 25h1.7m15.3 18h1.7m-9.7 -28h1.7m-1.7 19h1.7m-3.7 -23h1.7m10.3 5h1.7m-6.7 16h1.7m-2.7 20h1.7m5.3 -30h1.7m8.3 23h1.7m-22.7 -4h1.7m-10.7 -15h1.7m5.3 19h1.7m3.3 -18h1.7m-3.7 11h1.7m-0.7 -51h1.7m-11.7 37h1.7m-7.7 23h1.7m16.3 10h1.7m-19.7 -38h1.7m1.3 3h1.7m7.3 15h1.7m20.3 -9h1.7m-30.7 20h1.7m14.3 -35h1.7m1.3 14h1.7m-0.7 -2h1.7m-0.7 36h1.7m-12.7 -17h1.7m-10.7 -25h1.7m14.3 18h1.7m-7.7 -7h1.7m7.3 15h1.7m6.3 -27h1.7m-16.7 8h1.7m15.3 -3h1.7m-23.7 10h1.7m-8.7 -26h1.7m6.3 27h1.7m-6.7 -18h1.7m1.3 -18h1.7m-7.7 33h1.7m10.3 -13h1.7m6.3 14h1.7m-0.7 -18h1.7m-12.7 45h1.7m2.3 -49h1.7m-7.7 27h1.7m31.3 12h1.7m-34.7 -27h1.7m-22.7 16h1.7m15.3 -4h1.7m-6.7 -6h1.7m13.3 -13h1.7m-10.7 5h1.7m23.3 -6h1.7m-18.7 24h1.7m-7.7 -16h1.7m-10.7 13h1.7m11.3 -12h1.7m15.3 -10h1.7m-30.7 -7h1.7m-5.7 53h1.7m7.3 -18h1.7m12.3 -18h1.7m-20.7 28h1.7m-1.7 -39h1.7m35.3 -18h1.7m-26.7 14h1.7m-19.7 26h1.7m22.3 -1h1.7m-1.7 -13h1.7m1.3 -2h1.7m-4.7 31h1.7m3.3 13h1.7m-21.7 -19h1.7m9.3 -9h1.7m6.3 -25h1.7m-10.7 5h1.7m-7.7 9h1.7m-18.7 3h1.7m19.3 -1h1.7m-27.7 -14h1.7m24.3 21h1.7m-5.7 -22h1.7m-5.7 26h1.7m-11.7 1h1.7m12.3 4h1.7m4.3 -18h1.7m5.3 0h1.7m-10.7 15h1.7m-10.7 -13h1.7m11.3 13h1.7m-12.7 -27h1.7m-7.7 21h1.7m12.3 -34h1.7m-4.7 5h1.7m16.3 34h1.7m-23.7 -10h1.7m8.3 -2h1.7m5.3 1h1.7m-12.7 -33h1.7m-12.7 50h1.7m9.3 -29h1.7m-5.7 8h1.7m15.3 -2h1.7m-26.7 4h1.7m26.3 -24h1.7m2.3 27h1.7m-7.7 -5h1.7m-11.7 2h1.7m0.3 5h1.7m-3.7 -24h1.7m-0.7 23h1.7m-2.7 0h1.7m-22.7 -26h1.7m13.3 17h1.7m-4.7 0h1.7m5.3 4h1.7m3.3 16h1.7m-9.7 4h1.7m4.3 -15h1.7m2.3 -12h1.7m-13.7 23h1.7m20.3 -14h1.7m-11.7 18h1.7m-3.7 6h1.7m-7.7 -16h1.7m2.3 4h1.7m-19.7 29h1.7m-13.7 -35h1.7m22.3 -41h1.7m-6.7 45h1.7m-7.7 -24h1.7m9.3 4h1.7m-6.7 6h1.7m20.3 7h1.7m-28.7 -1h1.7m7.3 11h1.7m-10.7 4h1.7m14.3 -5h1.7m-3.7 -22h1.7m-19.7 -7h1.7m5.3 -5h1.7m-6.7 46h1.7m19.3 -27h1.7m-16.7 1h1.7m-12.7 26h1.7m13.3 -8h1.7m-7.7 10h1.7m14.3 -9h1.7m-1.7 -6h1.7m-6.7 -1h1.7m-0.7 -1h1.7m6.3 0h1.7m-8.7 -3h1.7m-8.7 -8h1.7m2.3 6h1.7m-15.7 25h1.7m-0.7 -39h1.7m17.3 7h1.7m-11.7 25h1.7m5.3 -19h1.7m2.3 4h1.7m-16.7 -4h1.7m4.3 -6h1.7m19.3 1h1.7m-17.7 -9h1.7m-1.7 39h1.7m17.3 -3h1.7m-14.7 -44h1.7m-18.7 2h1.7m6.3 30h1.7m-11.7 -21h1.7m17.3 17h1.7m-11.7 -5h1.7m10.3 -14h1.7m0.3 1h1.7m-29.7 28h1.7m6.3 -16h1.7m-4.7 -26h1.7m1.3 17h1.7m-14.7 -16h1.7m-17.7 -73h1.7m25.3 20h1.7m-58.7 16h1.7m31.3 -2h1.7m-0.7 -18h1.7m-20.7 52h1.7m20.3 -38h1.7m39.3 -52h1.7m-29.7 34h1.7m5.3 -28h1.7m-24.7 -20h1.7m-2.7 32h1.7m28.3 -7h1.7m-18.7 96h1.7m1.3 -63h1.7m-25.7 74h1.7m-3.7 -108h1.7m20.3 28h1.7m-2.7 44h1.7m-13.7 -54h1.7m40.3 38h1.7m-39.7 -97h1.7m30.3 75h1.7m-8.7 -7h1.7m16.3 23h1.7m-46.7 -63h1.7m-13.7 50h1.7m41.3 -51h1.7m17.3 33h1.7m-59.7 -53h1.7m18.3 71h1.7m9.3 22h1.7m0.3 -55h1.7m-23.7 69h1.7m16.3 -75h1.7m7.3 57h1.7m-27.7 28h1.7m6.3 -48h1.7m-13.7 -28h1.7m34.3 55h1.7m-48.7 -37h1.7m17.3 -23h1.7m26.3 32h1.7m-41.7 -10h1.7m25.3 -13h1.7m-30.7 -9h1.7m12.3 16h1.7m30.3 9h1.7m-33.7 -57h1.7m-34.7 20h1.7m28.3 52h1.7m-3.7 24h1.7m2.3 -60h1.7m-11.7 9h1.7m-21.7 18h1.7m38.3 21h1.7m-16.7 -95h1.7m3.3 33h1.7m40.3 -2h1.7m-23.7 35h1.7m0.3 16h1.7m-17.7 -20h1.7m11.3 46h1.7m23.3 -52h1.7m-37.7 -55h1.7m-8.7 14h1.7m14.3 -7h1.7m3.3 55h1.7m-40.7 -30h1.7m24.3 42h1.7m-38.7 -11h1.7m24.3 6h1.7m17.3 54h1.7m-5.7 -116h1.7m-23.7 26h1.7m26.3 -14h1.7m-1.7 44h1.7m-9.7 -55h1.7m-34.7 25h1.7m22.3 19h1.7m-10.7 13h1.7m-38.7 19h1.7m45.3 41h1.7m-6.7 -78h1.7m22.3 95h1.7m-9.7 -61h1.7m-17.7 9h1.7m-22.7 -39h1.7m4.3 -37h1.7m-0.7 31h1.7m8.3 124h1.7m-3.7 7h1.7m30.3 -4h1.7m-45.7 9h1.7m40.3 -18h1.7m-51.7 16h1.7m42.3 0h1.7m-25.7 -1h1.7m-33.7 -5h1.7m35.3 1h1.7m-10.7 6h1.7m-5.7 -10h1.7m-12.7 16h1.7m19.3 -15h1.7m-10.7 -4h1.7m-19.7 6h1.7m45.3 -1h1.7m-13.7 -5h1.7m-6.7 -3h1.7m3.3 9h1.7m24.3 -8h1.7m-34.7 12h1.7m4.3 -1h1.7m10.3 -7h1.7m31.3 -1h1.7m-31.7 3h1.7m-55.7 2h1.7m30.3 -1h1.7m7.3 9h1.7m-11.7 -3h1.7m1.3 -22h1.7m-19.7 12h1.7m0.3 12h1.7m53.3 18h1.7m-38.7 -28h1.7m-11.7 10h1.7m1.3 -6h1.7m45.3 1h1.7m-31.7 -5h1.7m-6.7 10h1.7m-35.7 -12h1.7m41.3 18h1.7m-42.7 -8h1.7m11.3 -4h1.7m-35.7 0h1.7m23.3 -1h1.7m25.3 12h1.7m6.3 -18h1.7m-22.7 10h1.7m8.3 -1h1.7m25.3 -2h1.7m-43.7 -2h1.7m39.3 5h1.7m-48.7 9h1.7m1.3 -7h1.7m-22.7 -13h1.7m40.3 18h1.7m-30.7 -3h1.7m-10.7 -9h1.7m27.3 3h1.7m-17.7 10h1.7m20.3 -12h1.7m-17.7 -10h1.7m-37.7 19h1.7m11.3 0h1.7m62.3 -1h1.7m-52.7 -4h1.7m17.3 4h1.7m26.3 -7h1.7m-39.7 -2h1.7m27.3 4h1.7m-33.7 2h1.7m53.3 -10h1.7m-36.7 11h1.7m-9.7 8h1.7m2.3 -3h1.7m10.3 -9h1.7m11.3 1h1.7m-19.7 0h1.7m-62.7 -14h1.7m82.3 16h1.7m-28.7 16h1.7m-16.7 -33h1.7m-1.7 -2h1.7m-4.7 12h1.7m40.3 2h1.7m-41.7 21h1.7m35.3 -24h1.7m-26.7 8h1.7m-37.7 -3h1.7m27.3 5h1.7m25.3 -14h1.7m-36.7 6h1.7m-0.7 -1h1.7m34.3 -5h1.7m-12.7 16h1.7m-42.7 7h1.7m50.3 -15h1.7m-17.7 13h1.7m0.3 -27h1.7m-7.7 19h1.7m-24.7 0h1.7m-17.7 -2h1.7m36.3 -3h1.7m-16.7 9h1.7m0.3 -23h1.7m-8.7 11h1.7m28.3 31h1.7m11.3 -33h1.7m-51.7 10h1.7m45.3 -1h1.7m-14.7 13h1.7m-16.7 -5h1.7m-0.7 -27h1.7m8.3 10h1.7m3.3 7h1.7m-11.7 8h1.7m6.3 3h1.7m-7.7 -3h1.7m2.3 -6h1.7m-29.7 -10h1.7m33.3 -12h1.7m-23.7 3h1.7m2.3 20h1.7m-7.7 12h1.7m13.3 -8h1.7m-20.7 -7h1.7m-7.7 6h1.7m43.3 -4h1.7m-8.7 -7h1.7m-15.7 7h1.7m22.3 -6h1.7m-6.7 -5h1.7m-35.7 9h1.7m29.3 -4h1.7m-18.7 6h1.7m16.3 2h1.7m-13.7 -10h1.7m-6.7 -4h1.7m-16.7 6h1.7m-45.7 -1h1.7m95.3 -5h1.7m-71.7 15h1.7m16.3 -5h1.7m7.3 8h1.7m-7.7 -3h1.7m-0.7 2h1.7m9.3 -17h1.7m27.3 12h1.7m-17.7 2h1.7m11.3 -14h1.7m-10.7 9h1.7m-39.7 2h1.7m3.3 1h1.7m16.3 -5h1.7m-19.7 13h1.7m29.3 -6h1.7m-4.7 -4h1.7m-8.7 4h1.7m-33.7 -2h1.7m21.3 -18h1.7m-32.7 7h1.7m57.3 3h1.7m-27.7 2h1.7m8.3 -3h1.7m-48.7 3h1.7m40.3 -2h1.7m36.3 12h1.7m-15.7 -14h1.7m-62.7 13h1.7m36.3 -7h1.7m13.3 -3h1.7m-35.7 3h1.7m6.3 -2h1.7m-10.7 4h1.7m35.3 -2h1.7m-28.7 7h1.7m-7.7 -9h1.7m34.3 15h1.7m-31.7 -17h1.7m0.3 -6h1.7m0.3 3h1.7m-44.7 -10h1.7m40.3 15h1.7m-9.7 9h1.7m0.3 4h1.7m-1.7 -17h1.7m1.3 6h1.7m33.3 -11h1.7m-40.7 10h1.7m49.3 9h1.7m-59.7 -20h1.7m-15.7 9h1.7m22.3 6h1.7m9.3 -11h1.7m-12.7 3h1.7m25.3 6h1.7m-12.7 9h1.7m-37.7 -9h1.7m31.3 -5h1.7m-19.7 1h1.7m-6.7 1h1.7m12.3 7h1.7m-25.7 -25h1.7m45.3 23h1.7m-12.7 4h1.7m-13.7 -14h1.7m-18.7 12h1.7m34.3 -19h1.7m-5.7 7h1.7m-8.7 13h1.7m7.3 -7h1.7m-48.7 14h1.7m6.3 -14h1.7m43.3 1h1.7m-14.7 -10h1.7m-15.7 11h1.7m-5.7 2h1.7m10.3 0h1.7m-22.7 -12h1.7m33.3 18h1.7m-63.7 -9h1.7m27.3 2h1.7m30.3 -12h1.7m7.3 14h1.7m-34.7 -11h1.7m-0.7 20h1.7m7.3 -22h1.7m58.3 21h1.7m-90.7 -11h1.7m36.3 -7h1.7m-29.7 8h1.7m6.3 8h1.7m-18.7 -13h1.7m12.3 3h1.7m-21.7 -7h1.7m54.3 8h1.7m-34.7 1h1.7m7.3 -6h1.7m-6.7 -1h1.7m-10.7 8h1.7m8.3 2h1.7m-1.7 -1h1.7m9.3 -2h1.7m-15.7 -8h1.7m9.3 14h1.7m-0.7 -4h1.7m14.3 -6h1.7m-41.7 -2h1.7m17.3 3h1.7m-14.7 14h1.7m12.3 -28h1.7m8.3 29h1.7m-2.7 -17h1.7m-40.7 13h1.7m60.3 -13h1.7m-62.7 -6h1.7m14.3 23h1.7m11.3 -5h1.7m-20.7 4h1.7m-29.7 -10h1.7m36.3 4h1.7m30.3 -12h1.7m-10.7 12h1.7m-20.7 8h1.7m-30.7 -14h1.7m16.3 3h1.7m35.3 0h1.7m-26.7 10h1.7m-32.7 -11h1.7m31.3 7h1.7m18.3 -6h1.7m-12.7 2h1.7m-20.7 -6h1.7m-19.7 2h1.7m27.3 -1h1.7m28.3 -4h1.7m-24.7 1h1.7m-6.7 2h1.7m-20.7 4h1.7m20.3 9h1.7m-1.7 -10h1.7m-22.7 -2h1.7m50.3 -4h1.7m-40.7 10h1.7m4.3 -5h1.7m-27.7 -8h1.7m45.3 5h1.7m-10.7 6h1.7m-22.7 -7h1.7m0.3 -1h1.7m-32.7 9h1.7m-1.7 0h1.7m50.3 -11h1.7m10.3 10h1.7m-18.7 -1h1.7m-12.7 -4h1.7m-33.7 -3h1.7m45.3 6h1.7m9.3 14h1.7m-20.7 -5h1.7m23.3 -5h1.7m-44.7 -4h1.7m-8.7 -1h1.7m21.3 -8h1.7m-19.7 13h1.7m16.3 -16h1.7m1.3 11h1.7m-3.7 -12h1.7m-0.7 9h1.7m2.3 -5h1.7m24.3 12h1.7m-35.7 -12h1.7m-65.7 8h1.7m17.3 11h1.7m16.3 -6h1.7m38.3 -1h1.7m-24.7 -1h1.7m20.3 -3h1.7m5.3 -11h1.7m-43.7 13h1.7m-39.7 3h1.7m56.3 3h1.7m10.3 -20h1.7m-39.7 2h1.7m1.3 0h1.7m34.3 13h1.7m0.3 -16h1.7m-16.7 3h1.7m-26.7 -7h1.7m16.3 15h1.7m15.3 -4h1.7m-43.7 -4h1.7m31.3 21h1.7m-22.7 -3h1.7m-2.7 0h1.7m-10.7 -13h1.7m56.3 -22h1.7m-25.7 35h1.7m-7.7 -6h1.7m18.3 -11h1.7m-25.7 8h1.7m25.3 -4h1.7m-52.7 12h1.7m40.3 -17h1.7m-65.7 19h1.7m27.3 2h1.7m57.3 -30h1.7m-65.7 13h1.7m13.3 9h1.7m-0.7 -9h1.7m3.3 9h1.7m21.3 0h1.7m-23.7 -13h1.7m-49.7 25h1.7m19.3 -9h1.7m29.3 -10h1.7m-40.7 8h1.7m43.3 -6h1.7m-12.7 7h1.7m23.3 6h1.7m21.3 -13h1.7m-45.7 -5h1.7m-22.7 0h1.7m18.3 -3h1.7m-16.7 6h1.7m31.3 -6h1.7m28.3 7h1.7m-37.7 9h1.7m-14.7 -15h1.7m-25.7 4h1.7m21.3 3h1.7m25.3 -11h1.7m-48.7 -5h1.7m47.3 24h1.7m-9.7 -20h1.7m4.3 21h1.7m-42.7 1h1.7m16.3 -9h1.7m-3.7 -4h1.7m-10.7 0h1.7m25.3 7h1.7m-7.7 5h1.7m-21.7 -7h1.7m39.3 -10h1.7m-29.7 -7h1.7m-45.7 4h1.7m51.3 21h1.7m-21.7 -8h1.7m-1.7 -11h1.7m-24.7 12h1.7m28.3 0h1.7m-5.7 -7h1.7m13.3 7h1.7m-17.7 1h1.7m36.3 0h1.7m-22.7 0h1.7m-8.7 -1h1.7m-24.7 -3h1.7m13.3 -15h1.7m-2.7 22h1.7m12.3 -20h1.7m27.3 23h1.7m-75.7 -18h1.7m51.3 7h1.7m-3.7 4h1.7m-25.7 -11h1.7m17.3 6h1.7m12.3 0h1.7m-31.7 9h1.7m2.3 -9h1.7m-3.7 15h1.7m-27.7 -21h1.7m-3.7 10h1.7m20.3 -5h1.7m-3.7 23h1.7m21.3 -14h1.7m-44.7 2h1.7m55.3 -5h1.7m-34.7 -3h1.7m3.3 3h1.7m-26.7 -10h1.7m82.3 -6h1.7m-63.7 17h1.7m-33.7 2h1.7m24.3 -5h1.7m-16.7 -15h1.7m51.3 10h1.7m-38.7 10h1.7m-9.7 -14h1.7m-12.7 1h1.7m-1.7 11h1.7m19.3 1h1.7m6.3 1h1.7m-43.7 -10h1.7m45.3 -4h1.7m-26.7 25h1.7m9.3 0h1.7m25.3 -16h1.7m-18.7 7h1.7m10.3 -24h1.7m5.3 14h1.7m-17.7 -8h1.7m-9.7 10h1.7m-44.7 -1h1.7m37.3 12h1.7m0.3 -8h1.7m-40.7 -7h1.7m35.3 7h1.7m12.3 9h1.7m-8.7 -17h1.7m3.3 20h1.7m38.3 -25h1.7m-29.7 18h1.7m-25.7 -2h1.7m-3.7 -15h1.7m-0.7 13h1.7m11.3 -18h1.7m-37.7 15h1.7m15.3 14h1.7m48.3 -15h1.7m-18.7 7h1.7m-39.7 -11h1.7m30.3 7h1.7m7.3 3h1.7m-40.7 -7h1.7m31.3 7h1.7m8.3 -10h1.7m-23.7 4h1.7m12.3 11h1.7m25.3 -13h1.7m-43.7 15h1.7m4.3 -4h1.7m-7.7 -7h1.7m13.3 6h1.7m-41.7 -7h1.7m20.3 15h1.7m-24.7 -7h1.7m27.3 8h1.7m-12.7 -6h1.7m12.3 -11h1.7m-28.7 6h1.7m34.3 -14h1.7m7.3 -3h1.7m-53.7 11h1.7m19.3 -4h1.7m-7.7 -5h1.7m6.3 -1h1.7m28.3 12h1.7m-8.7 -10h1.7m-54.7 9h1.7m27.3 2h1.7m24.3 -8h1.7m-23.7 6h1.7m8.3 2h1.7m9.3 -5h1.7m-13.7 -8h1.7m-6.7 9h1.7m34.3 16h1.7m-56.7 -11h1.7m40.3 6h1.7m-18.7 7h1.7m12.3 1h1.7m-8.7 -13h1.7m-3.7 7h1.7m-21.7 0h1.7m21.3 3h1.7m-27.7 10h1.7m2.3 -2h1.7m46.3 -12h1.7m-56.7 7h1.7m11.3 -4h1.7m16.3 10h1.7m-14.7 -10h1.7m-37.7 0h1.7m36.3 2h1.7m-0.7 -10h1.7m-29.7 7h1.7m14.3 4h1.7m31.3 -2h1.7m-33.7 -6h1.7m21.3 10h1.7m-3.7 -13h1.7m-0.7 3h1.7m37.3 -3h1.7m-24.7 7h1.7m-32.7 -4h1.7m6.3 5h1.7m-22.7 1h1.7m12.3 -12h1.7m-13.7 12h1.7m41.3 -4h1.7m-17.7 5h1.7m-8.7 -10h1.7m-16.7 -4h1.7m3.3 14h1.7m14.3 9h1.7m2.3 -6h1.7m-39.7 -21h1.7m48.3 8h1.7m-32.7 -7h1.7m4.3 2h1.7m-70.7 7h1.7m62.3 -3h1.7m-10.7 1h1.7m-3.7 -5h1.7m39.3 10h1.7m0.3 -1h1.7m-48.7 -2h1.7m53.3 10h1.7m-49.7 1h1.7m5.3 -11h1.7m-6.7 10h1.7m-20.7 -16h1.7m67.3 24h1.7m-18.7 -19h1.7m-20.7 16h1.7m-14.7 -2h1.7m49.3 6h1.7m-63.7 -10h1.7m43.3 -11h1.7m-23.7 3h1.7m-29.7 3h1.7m50.3 0h1.7m-32.7 7h1.7m3.3 -9h1.7m-27.7 8h1.7m39.3 7h1.7m-0.7 -14h1.7m-41.7 2h1.7m75.3 10h1.7m-63.7 -6h1.7m15.3 -3h1.7m-59.7 -6h1.7m54.3 3h1.7m-4.7 -9h1.7m35.3 11h1.7m-45.7 -1h1.7m-15.7 -1h1.7m-19.7 5h1.7m-4.7 -3h1.7m53.3 6h1.7m-5.7 -2h1.7m-59.7 -3h1.7m61.3 8h1.7m-25.7 -8h1.7m6.3 2h1.7m-3.7 4h1.7m-13.7 -9h1.7m46.3 13h1.7m-10.7 -13h1.7m-34.7 3h1.7m1.3 4h1.7m-15.7 -12h1.7m-7.7 16h1.7m6.3 -12h1.7m19.3 13h1.7m-61.7 -2h1.7m41.3 1h1.7m26.3 -9h1.7m-21.7 -2h1.7m-45.7 6h1.7m47.3 -5h1.7m13.3 -2h1.7m-29.7 5h1.7m27.3 -1h1.7m6.3 -3h1.7m11.3 -4h1.7m-55.7 22h1.7m1.3 -20h1.7m-1.7 -4h1.7m21.3 6h1.7m9.3 15h1.7m10.3 -16h1.7m-41.7 -4h1.7m-12.7 10h1.7m-12.7 -4h1.7m38.3 1h1.7m-39.7 11h1.7m11.3 -11h1.7m2.3 6h1.7m-13.7 -5h1.7m20.3 -6h1.7m-17.7 17h1.7m6.3 -22h1.7m23.3 9h1.7m1.3 5h1.7m-40.7 -12h1.7m-7.7 7h1.7m23.3 7h1.7m14.3 -10h1.7m-18.7 -12h1.7m32.3 19h1.7m-61.7 -4h1.7m25.3 -3h1.7m14.3 6h1.7m-40.7 0h1.7m-1.7 -1h1.7m-28.7 -5h1.7m37.3 3h1.7m13.3 1h1.7m-16.7 10h1.7m-3.7 -8h1.7m0.3 -10h1.7m17.3 2h1.7m-26.7 1h1.7m5.3 4h1.7m-28.7 -7h1.7m60.3 9h1.7m12.3 -7h1.7m-10.7 14h1.7m-30.7 -7h1.7m-19.7 -2h1.7m-39.7 9h1.7m63.3 -22h1.7m-64.7 2h1.7m71.3 8h1.7m25.3 7h1.7m-57.7 -8h1.7m-5.7 7h1.7m54.3 -1h1.7m-52.7 -4h1.7m-19.7 2h1.7m7.3 -5h1.7m-20.7 2h1.7m72.3 3h1.7m-27.7 -4h1.7m13.3 10h1.7m-62.7 4h1.7m26.3 -13h1.7m-32.7 1h1.7m53.3 -3h1.7m-14.7 16h1.7m-3.7 -14h1.7m-44.7 8h1.7m24.3 -13h1.7m18.3 6h1.7m-16.7 4h1.7m-9.7 -6h1.7m-8.7 -3h1.7m52.3 7h1.7m-49.7 7h1.7m26.3 -3h1.7m6.3 13h1.7m-53.7 -21h1.7m16.3 10h1.7m6.3 -5h1.7m-45.7 0h1.7m66.3 -12h1.7m13.3 10h1.7m-19.7 6h1.7m-0.7 1h1.7m-29.7 -8h1.7m3.3 9h1.7m29.3 -12h1.7m-29.7 2h1.7m-11.7 9h1.7m44.3 -11h1.7m-47.7 16h1.7m18.3 0h1.7m-21.7 -13h1.7m35.3 10h1.7m-55.7 6h1.7m-9.7 -15h1.7m76.3 4h1.7m-52.7 2h1.7m-0.7 2h1.7m49.3 -11h1.7m-96.7 3h1.7m45.3 10h1.7m-0.7 -5h1.7m18.3 -4h1.7m-5.7 -4h1.7m8.3 9h1.7m-39.7 0h1.7m7.3 -8h1.7m22.3 6h1.7m-3.7 -11h1.7m5.3 11h1.7m-1.7 -2h1.7m-39.7 7h1.7m-5.7 4h1.7m28.3 -9h1.7m-14.7 8h1.7m-2.7 -6h1.7m48.3 1h1.7m-34.7 0h1.7m-30.7 -6h1.7m-6.7 11h1.7m69.3 -7h1.7m-34.7 -5h1.7m-30.7 -1h1.7m32.3 -1h1.7m-29.7 11h1.7m35.3 1h1.7m-27.7 -4h1.7m28.3 0h1.7m-82.7 -7h1.7m22.3 7h1.7m39.3 -16h1.7m-33.7 24h1.7m38.3 -7h1.7m-64.7 -3h1.7m82.3 -7h1.7m-77.7 -7h1.7m-4.7 17h1.7m3.3 -5h1.7m51.3 1h1.7m-33.7 1h1.7m49.3 9h1.7m-25.7 -16h1.7m-11.7 0h1.7m-37.7 6h1.7m2.3 11h1.7m16.3 -18h1.7m-9.7 15h1.7m33.3 -7h1.7m-49.7 -7h1.7m17.3 -1h1.7m0.3 -8h1.7m-26.7 11h1.7m57.3 3h1.7m-15.7 3h1.7m-9.7 -14h1.7m-9.7 0h1.7m36.3 3h1.7m-46.7 2h1.7m-4.7 2h1.7m-7.7 4h1.7m-7.7 2h1.7m4.3 0h1.7m-9.7 -5h1.7m12.3 -7h1.7m8.3 7h1.7m7.3 4h1.7m0.3 -2h1.7m-14.7 1h1.7m-24.7 -3h1.7m-36.7 2h1.7m51.3 -8h1.7m-8.7 11h1.7m-4.7 -6h1.7m-4.7 6h1.7m-5.7 -5h1.7m88.3 0h1.7m-83.7 -5h1.7m14.3 15h1.7m-8.7 -14h1.7m39.3 12h1.7m7.3 -8h1.7m-10.7 1h1.7m-8.7 16h1.7m-56.7 -7h1.7m4.3 -7h1.7m-32.7 -1h1.7m50.3 -2h1.7m66.3 0h1.7m-81.7 10h1.7m19.3 -7h1.7m-15.7 1h1.7m-20.7 -2h1.7m17.3 4h1.7m-1.7 -2h1.7m-1.7 3h1.7m15.3 1h1.7m19.3 -2h1.7m-36.7 -3h1.7m-20.7 -6h1.7m-27.7 -2h1.7m39.3 4h1.7m10.3 10h1.7m-1.7 -11h1.7m-31.7 0h1.7m6.3 2h1.7m24.3 3h1.7m-18.7 -4h1.7m34.3 5h1.7m-14.7 3h1.7m-40.7 -7h1.7m15.3 10h1.7m-28.7 2h1.7m18.3 -8h1.7m13.3 -1h1.7m34.3 15h1.7m-69.7 -5h1.7m49.3 -13h1.7m-42.7 -4h1.7m2.3 6h1.7m-1.7 3h1.7m-5.7 -14h1.7m-5.7 13h1.7m18.3 -6h1.7m43.3 2h1.7m-23.7 15h1.7m-27.7 -12h1.7m22.3 13h1.7m-4.7 -13h1.7m41.3 0h1.7m-67.7 2h1.7m20.3 -4h1.7m-54.7 -3h1.7m53.3 3h1.7m-10.7 4h1.7m27.3 -12h1.7m-31.7 10h1.7m-40.7 5h1.7m30.3 -8h1.7m-31.7 1h1.7m79.3 6h1.7m-65.7 -14h1.7m-0.7 18h1.7m26.3 1h1.7m1.3 -9h1.7m-2.7 -5h1.7m-29.7 3h1.7m9.3 -6h1.7m12.3 12h1.7m19.3 -9h1.7m-57.7 18h1.7m-12.7 1h1.7m40.3 -14h1.7m-15.7 -6h1.7m-27.7 6h1.7m25.3 0h1.7m-17.7 9h1.7m9.3 -12h1.7m41.3 3h1.7m-36.7 -2h1.7m-32.7 -10h1.7m6.3 28h1.7m29.3 -19h1.7m-31.7 4h1.7m24.3 2h1.7m-10.7 -13h1.7m35.3 12h1.7m-25.7 -8h1.7m17.3 3h1.7m-15.7 -7h1.7m-37.7 13h1.7m43.3 9h1.7m-58.7 -8h1.7m26.3 -8h1.7m43.3 6h1.7m-19.7 -1h1.7m-15.7 3h1.7m-13.7 0h1.7m29.3 1h1.7m-21.7 -5h1.7m-11.7 9h1.7m51.3 -8h1.7m-66.7 -5h1.7m52.3 5h1.7m-18.7 0h1.7m-40.7 9h1.7m7.3 -23h1.7m-12.7 15h1.7m46.3 7h1.7m-11.7 -8h1.7m-22.7 5h1.7m15.3 2h1.7m-33.7 -5h1.7m-43.7 -5h1.7m77.3 2h1.7m4.3 -1h1.7m-24.7 -10h1.7m22.3 8h1.7m31.3 4h1.7m-63.7 -15h1.7m29.3 14h1.7m-15.7 1h1.7m-28.7 -3h1.7m34.3 -1h1.7m9.3 -16h1.7m-46.7 18h1.7m36.3 2h1.7m21.3 1h1.7m-1.7 -4h1.7m-62.7 2h1.7m-21.7 3h1.7m42.3 -11h1.7m-12.7 6h1.7m31.3 11h1.7m-34.7 -6h1.7m-12.7 -8h1.7m-9.7 5h1.7m32.3 7h1.7m4.3 -3h1.7m-40.7 -1h1.7m5.3 -8h1.7m34.3 4h1.7m-23.7 1h1.7m5.3 -4h1.7m-38.7 13h1.7m-3.7 -2h1.7m11.3 -10h1.7m11.3 5h1.7m-5.7 -6h1.7m-39.7 -3h1.7m57.3 2h1.7m-22.7 9h1.7m19.3 -4h1.7m22.3 -11h1.7m-71.7 18h1.7m29.3 -12h1.7m-7.7 0h1.7m19.3 10h1.7m-50.7 -3h1.7m65.3 -4h1.7m-25.7 3h1.7m84.3 -205h1.7m-37.7 63h1.7m42.3 5h1.7m-41.7 24h1.7m-0.7 -30h1.7m68.3 3h1.7m8.3 -7h1.7m-14.7 4h1.7m-29.7 -36h1.7m-30.7 48h1.7m19.3 -39h1.7m-30.7 85h1.7m-89.7 -83h1.7m80.3 27h1.7m121.3 -37h1.7m-154.7 48h1.7m59.3 -15h1.7m-48.7 -12h1.7m51.3 25h1.7m-97.7 -49h1.7m48.3 71h1.7m-3.7 -16h1.7m35.3 -9h1.7m10.3 62h1.7m63.3 -78h1.7m-27.7 18h1.7m-17.7 30h1.7m-58.7 -66h1.7m-25.7 25h1.7m77.3 20h1.7m-8.7 -20h1.7m-66.7 24h1.7m123.3 -50h1.7m-63.7 15h1.7m-8.7 -29h1.7m-0.7 74h1.7m-61.7 -43h1.7m101.3 45h1.7m-44.7 -35h1.7m-44.7 14h1.7m103.3 -107h1.7m36.3 -13h1.7m-102.7 84h1.7m3.3 -30h1.7m53.3 -42h1.7m-7.7 36h1.7m-48.7 10h1.7m70.3 -23h1.7m0.3 -25h1.7m11.3 12h1.7m-102.7 56h1.7m15.3 -6h1.7" stroke="#f00" stroke-width="1.7" fill="none" filter="url(#soft)"/>
<path d="M240.5 1924.5V2226.2M114.9 2129.6H504.5" stroke="#b4b4b4" stroke-width="1.6" fill="none"/>
<path d="M107.2 2203.5H114.9M107.2 2190.2H114.9M107.2 2180.8H114.9M107.2 2173.5H114.9M107.2 2167.5H114.9M107.2 2162.5H114.9M107.2 2158.1H114.9M107.2 2154.2H114.9M107.2 2128.1H114.9M107.2 2114.8H114.9M107.2 2105.4H114.9M107.2 2098.1H114.9M107.2 2092.1H114.9M107.2 2087.0H114.9M107.2 2082.7H114.9M107.2 2078.8H114.9M107.2 2052.6H114.9M107.2 2039.4H114.9M107.2 2029.9H114.9M107.2 2022.6H114.9M107.2 2016.7H114.9M107.2 2011.6H114.9M107.2 2007.2H114.9M107.2 2003.4H114.9M107.2 1977.2H114.9M107.2 1963.9H114.9M107.2 1954.5H114.9M107.2 1947.2H114.9M107.2 1941.2H114.9M107.2 1936.2H114.9M107.2 1931.8H114.9M107.2 1928.0H114.9M100.3 2150.8H114.9M100.3 2075.3H114.9M100.3 1999.9H114.9M100.3 1924.5H114.9" stroke="#333" stroke-width="1.7" fill="none"/>
<path d="M144.2 2227.8V2233.0M161.4 2227.8V2233.0M173.5 2227.8V2233.0M183.0 2227.8V2233.0M190.7 2227.8V2233.0M197.2 2227.8V2233.0M202.9 2227.8V2233.0M207.8 2227.8V2233.0M241.6 2227.8V2233.0M258.8 2227.8V2233.0M270.9 2227.8V2233.0M280.4 2227.8V2233.0M288.1 2227.8V2233.0M294.6 2227.8V2233.0M300.3 2227.8V2233.0M305.2 2227.8V2233.0M339.0 2227.8V2233.0M356.2 2227.8V2233.0M368.3 2227.8V2233.0M377.8 2227.8V2233.0M385.5 2227.8V2233.0M392.0 2227.8V2233.0M397.7 2227.8V2233.0M402.6 2227.8V2233.0M436.4 2227.8V2233.0M453.6 2227.8V2233.0M465.7 2227.8V2233.0M475.2 2227.8V2233.0M482.9 2227.8V2233.0M489.4 2227.8V2233.0M495.1 2227.8V2233.0M500.0 2227.8V2233.0" stroke="#c8c8c8" stroke-width="1.3" fill="none"/>
<path d="M212.3 2227.8V2237.2M309.7 2227.8V2237.2M407.1 2227.8V2237.2M504.5 2227.8V2237.2" stroke="#c0c0c0" stroke-width="1.3" fill="none"/>
<path d="M114.9 1924.5V2226.2H504.5V1924.5" fill="none" stroke="#333" stroke-width="2"/>
<path d="M113.9 1924.5H505.5" fill="none" stroke="#666" stroke-width="1.7"/>
<path d="M114.9 1925.5V1973.5" fill="none" stroke="#999" stroke-width="2"/>
<text x="73.46" y="2156.91" font-family='"Liberation Sans", Arial, sans-serif' font-weight="bold" font-size="17.23" textLength="18.42" lengthAdjust="spacingAndGlyphs" fill="#000">10</text>
<text x="91.20" y="2150.85" font-family='"Liberation Sans", Arial, sans-serif' font-weight="bold" font-size="13.28" textLength="7.02" lengthAdjust="spacingAndGlyphs" fill="#000">0</text>
<text x="73.46" y="2081.48" font-family='"Liberation Sans", Arial, sans-serif' font-weight="bold" font-size="17.23" textLength="18.42" lengthAdjust="spacingAndGlyphs" fill="#000">10</text>
<text x="90.89" y="2075.55" font-family='"Liberation Sans", Arial, sans-serif' font-weight="bold" font-size="13.66" textLength="7.17" lengthAdjust="spacingAndGlyphs" fill="#000">1</text>
<text x="73.46" y="2006.06" font-family='"Liberation Sans", Arial, sans-serif' font-weight="bold" font-size="17.23" textLength="18.42" lengthAdjust="spacingAndGlyphs" fill="#000">10</text>
<text x="91.27" y="2000.12" font-family='"Liberation Sans", Arial, sans-serif' font-weight="bold" font-size="13.46" textLength="6.93" lengthAdjust="spacingAndGlyphs" fill="#000">2</text>
<text x="73.46" y="1930.63" font-family='"Liberation Sans", Arial, sans-serif' font-weight="bold" font-size="17.23" textLength="18.42" lengthAdjust="spacingAndGlyphs" fill="#000">10</text>
<text x="91.42" y="1924.55" font-family='"Liberation Sans", Arial, sans-serif' font-weight="bold" font-size="13.25" textLength="6.71" lengthAdjust="spacingAndGlyphs" fill="#000">3</text>
<text x="202.99" y="2251.12" font-family='"Liberation Sans", Arial, sans-serif' font-weight="bold" font-size="17.94" textLength="17.76" lengthAdjust="spacingAndGlyphs" fill="#000">10</text>
<text x="220.06" y="2244.97" font-family='"Liberation Sans", Arial, sans-serif' font-weight="bold" font-size="12.85" textLength="7.60" lengthAdjust="spacingAndGlyphs" fill="#000">0</text>
<text x="300.39" y="2251.12" font-family='"Liberation Sans", Arial, sans-serif' font-weight="bold" font-size="17.94" textLength="17.76" lengthAdjust="spacingAndGlyphs" fill="#000">10</text>
<text x="317.12" y="2245.10" font-family='"Liberation Sans", Arial, sans-serif' font-weight="bold" font-size="13.23" textLength="7.77" lengthAdjust="spacingAndGlyphs" fill="#000">1</text>
<text x="397.79" y="2251.12" font-family='"Liberation Sans", Arial, sans-serif' font-weight="bold" font-size="17.94" textLength="17.76" lengthAdjust="spacingAndGlyphs" fill="#000">10</text>
<text x="414.93" y="2245.10" font-family='"Liberation Sans", Arial, sans-serif' font-weight="bold" font-size="13.03" textLength="7.51" lengthAdjust="spacingAndGlyphs" fill="#000">2</text>
<text x="495.19" y="2251.12" font-family='"Liberation Sans", Arial, sans-serif' font-weight="bold" font-size="17.94" textLength="17.76" lengthAdjust="spacingAndGlyphs" fill="#000">10</text>
<text x="512.50" y="2244.96" font-family='"Liberation Sans", Arial, sans-serif' font-weight="bold" font-size="12.83" textLength="7.27" lengthAdjust="spacingAndGlyphs" fill="#000">3</text>
<text x="0" y="0" transform="translate(33.50 2083.88) rotate(-90)" font-family='"Liberation Sans", Arial, sans-serif' font-weight="bold" font-size="18.31" textLength="16.66" lengthAdjust="spacingAndGlyphs" fill="#000">PI</text>
<text x="270.00" y="2287.62" font-family='"Liberation Sans", Arial, sans-serif' font-weight="bold" font-size="17.97" textLength="79.11" lengthAdjust="spacingAndGlyphs" fill="#000">Annexin V</text>
<rect x="115.9" y="2131.6" width="61.8" height="48.5" fill="#fff"/>
<rect x="241.5" y="2131.6" width="27.0" height="25.5" fill="#fff"/>
<rect x="241.5" y="2156.6" width="57.0" height="23.5" fill="#fff"/>
<text x="114.53" y="1945.90" font-family='"Liberation Sans", Arial, sans-serif' font-weight="bold" font-size="18.60" textLength="24.30" lengthAdjust="spacingAndGlyphs" fill="#000">D1</text>
<text x="240.52" y="1945.90" font-family='"Liberation Sans", Arial, sans-serif' font-weight="bold" font-size="18.33" textLength="24.55" lengthAdjust="spacingAndGlyphs" fill="#000">D2</text>
<text x="114.52" y="2152.40" font-family='"Liberation Sans", Arial, sans-serif' font-weight="bold" font-size="18.04" textLength="24.47" lengthAdjust="spacingAndGlyphs" fill="#000">D3</text>
<text x="240.75" y="2152.60" font-family='"Liberation Sans", Arial, sans-serif' font-weight="bold" font-size="18.60" textLength="23.85" lengthAdjust="spacingAndGlyphs" fill="#000">D4</text>
<text x="125.34" y="1968.81" font-family='"Liberation Sans", Arial, sans-serif' font-weight="bold" font-size="19.77" textLength="43.87" lengthAdjust="spacingAndGlyphs" fill="#000">0.7%</text>
<text x="251.53" y="1968.81" font-family='"Liberation Sans", Arial, sans-serif' font-weight="bold" font-size="19.77" textLength="44.28" lengthAdjust="spacingAndGlyphs" fill="#000">0.4%</text>
<text x="119.62" y="2175.01" font-family='"Liberation Sans", Arial, sans-serif' font-weight="bold" font-size="19.77" textLength="55.60" lengthAdjust="spacingAndGlyphs" fill="#000">97.8%</text>
<text x="251.89" y="2175.01" font-family='"Liberation Sans", Arial, sans-serif' font-weight="bold" font-size="19.77" textLength="43.61" lengthAdjust="spacingAndGlyphs" fill="#000">1.0%</text>
<path d="M725 2163h1.7m-53.7 33h1.7m51.3 -26h1.7m28.3 0h1.7m-60.7 21h1.7m-2.7 -2h1.7m-29.7 -1h1.7m28.3 -17h1.7m24.3 -14h1.7m-12.7 30h1.7m-13.7 -9h1.7m10.3 0h1.7m-4.7 3h1.7m-2.7 4h1.7m-41.7 10h1.7m78.3 -25h1.7m-60.7 8h1.7m-20.7 23h1.7m55.3 -26h1.7m21.3 -13h1.7m-37.7 21h1.7m43.3 -33h1.7m-53.7 14h1.7m12.3 17h1.7m4.3 -10h1.7m-48.7 21h1.7m53.3 -29h1.7m-37.7 2h1.7m12.3 -5h1.7m13.3 26h1.7m-7.7 -25h1.7m26.3 -16h1.7m-17.7 14h1.7m-33.7 31h1.7m21.3 -13h1.7m-21.7 10h1.7m15.3 -29h1.7m6.3 3h1.7m-33.7 9h1.7m-13.7 13h1.7m33.3 -3h1.7m-14.7 -4h1.7m6.3 9h1.7m18.3 -12h1.7m-13.7 -14h1.7m9.3 8h1.7m-22.7 6h1.7m24.3 3h1.7m-41.7 8h1.7m15.3 10h1.7m-32.7 8h1.7m48.3 -43h1.7m-34.7 10h1.7m-12.7 20h1.7m36.3 -31h1.7m-21.7 17h1.7m-3.7 -11h1.7m-17.7 18h1.7m-38.7 22h1.7m25.3 -33h1.7m23.3 28h1.7m-2.7 -26h1.7m-7.7 5h1.7m8.3 -16h1.7m-65.7 35h1.7m93.3 -42h1.7m-20.7 27h1.7m-44.7 28h1.7m-16.7 -21h1.7m4.3 17h1.7m53.3 -35h1.7m-28.7 7h1.7m9.3 -3h1.7m27.3 1h1.7m-46.7 8h1.7m-18.7 18h1.7m51.3 -21h1.7m23.3 -33h1.7m-28.7 21h1.7m-28.7 34h1.7m-43.7 -19h1.7m78.3 -7h1.7m-36.7 3h1.7m17.3 -10h1.7m-40.7 21h1.7m-12.7 -2h1.7m62.3 -38h1.7m-19.7 19h1.7m-6.7 28h1.7m-31.7 -4h1.7m31.3 -16h1.7m17.3 -13h1.7m-57.7 35h1.7m-5.7 -20h1.7m-14.7 5h1.7m50.3 -6h1.7m-10.7 -15h1.7m-4.7 15h1.7m-11.7 11h1.7m-40.7 5h1.7m58.3 -16h1.7m-28.7 11h1.7m42.3 -30h1.7m-32.7 -12h1.7m-2.7 30h1.7m11.3 20h1.7m37.3 -52h1.7m-45.7 46h1.7m-2.7 -24h1.7m-9.7 2h1.7m44.3 -7h1.7m-41.7 29h1.7m16.3 -17h1.7m-20.7 8h1.7m7.3 -2h1.7m-19.7 1h1.7m6.3 -7h1.7m59.3 -18h1.7m-73.7 51h1.7m28.3 -39h1.7m-6.7 9h1.7m2.3 19h1.7m-11.7 -24h1.7m16.3 -13h1.7m39.3 -7h1.7m-50.7 23h1.7m-5.7 -13h1.7m-2.7 16h1.7m23.3 -15h1.7m-46.7 37h1.7m6.3 -13h1.7m29.3 4h1.7m-36.7 -26h1.7m-3.7 7h1.7m-9.7 -5h1.7m-1.7 17h1.7m-17.7 19h1.7m32.3 2h1.7m23.3 -18h1.7m-10.7 -13h1.7m-9.7 -13h1.7m3.3 22h1.7m3.3 0h1.7m1.3 5h1.7m-22.7 -17h1.7m40.3 -19h1.7m-72.7 49h1.7m-0.7 -29h1.7m6.3 15h1.7m38.3 -14h1.7m-41.7 34h1.7m0.3 -20h1.7m26.3 -8h1.7m-0.7 21h1.7m-36.7 -9h1.7m3.3 -17h1.7m22.3 9h1.7m42.3 -22h1.7m-51.7 27h1.7m12.3 0h1.7m-18.7 1h1.7m-6.7 5h1.7m11.3 -30h1.7m10.3 8h1.7m12.3 17h1.7m-11.7 -9h1.7m-6.7 -20h1.7m16.3 7h1.7m-15.7 1h1.7m23.3 -7h1.7m-32.7 26h1.7m-12.7 -18h1.7m-30.7 7h1.7m33.3 -10h1.7m0.3 10h1.7m4.3 1h1.7m-25.7 -7h1.7m-16.7 19h1.7m11.3 -4h1.7m-2.7 -14h1.7m6.3 -3h1.7m47.3 8h1.7m-15.7 -12h1.7m-12.7 6h1.7m-36.7 16h1.7m19.3 -5h1.7m7.3 -12h1.7m-33.7 4h1.7m-7.7 11h1.7m29.3 -21h1.7m-6.7 24h1.7m-16.7 6h1.7m-22.7 4h1.7m35.3 -32h1.7m-23.7 33h1.7m17.3 -18h1.7m-68.7 32h1.7m114.3 -24h1.7m-55.7 -32h1.7m-11.7 37h1.7m-9.7 -4h1.7m24.3 -6h1.7m-1.7 -16h1.7m-21.7 36h1.7m-4.7 -33h1.7m31.3 28h1.7m-12.7 -26h1.7m20.3 7h1.7m-35.7 -10h1.7m30.3 18h1.7m-26.7 -11h1.7m0.3 12h1.7m-18.7 -11h1.7m28.3 -8h1.7m-31.7 16h1.7m23.3 -27h1.7m20.3 13h1.7m-21.7 12h1.7m-31.7 3h1.7m45.3 -18h1.7m-20.7 8h1.7m-24.7 -22h1.7m10.3 22h1.7m40.3 -18h1.7m-9.7 25h1.7m-40.7 13h1.7m2.3 -22h1.7m25.3 -18h1.7m-39.7 10h1.7m-11.7 30h1.7m52.3 -46h1.7m-44.7 36h1.7m19.3 0h1.7m8.3 -12h1.7m-38.7 -3h1.7m31.3 14h1.7m2.3 -21h1.7m-18.7 10h1.7m-24.7 9h1.7m53.3 -21h1.7m-35.7 11h1.7m-11.7 2h1.7m19.3 2h1.7m42.3 -11h1.7m-37.7 -5h1.7m-13.7 9h1.7m-22.7 22h1.7m0.3 0h1.7m25.3 -26h1.7m-14.7 21h1.7m19.3 -11h1.7m-31.7 19h1.7m-10.7 0h1.7m-12.7 -8h1.7m16.3 -15h1.7m10.3 14h1.7m25.3 -12h1.7m-28.7 -8h1.7m5.3 16h1.7m-4.7 -9h1.7m-16.7 26h1.7m27.3 -15h1.7m-50.7 -2h1.7m18.3 -16h1.7m22.3 9h1.7m-30.7 13h1.7m25.3 -12h1.7m-13.7 4h1.7m1.3 0h1.7m-11.7 13h1.7m-28.7 8h1.7m53.3 -22h1.7m-16.7 -9h1.7m-3.7 16h1.7m25.3 -10h1.7m-0.7 -13h1.7m-46.7 25h1.7m0.3 -3h1.7m23.3 -27h1.7m25.3 -2h1.7m-18.7 31h1.7m6.3 -26h1.7m-34.7 3h1.7m-29.7 25h1.7m18.3 -21h1.7m29.3 11h1.7m-42.7 13h1.7m44.3 -2h1.7m-8.7 -23h1.7m-15.7 12h1.7m32.3 25h1.7m-20.7 -40h1.7m7.3 4h1.7m7.3 -9h1.7m-28.7 10h1.7m14.3 -2h1.7m-74.7 28h1.7m53.3 -13h1.7m-3.7 -7h1.7m8.3 -16h1.7m-11.7 18h1.7m-4.7 -9h1.7m21.3 6h1.7m-21.7 -12h1.7m4.3 16h1.7m-58.7 29h1.7m29.3 -19h1.7m30.3 3h1.7m-9.7 -9h1.7m-0.7 -1h1.7m-4.7 -7h1.7m2.3 4h1.7m-34.7 -2h1.7m39.3 7h1.7m-34.7 9h1.7m18.3 -8h1.7m-36.7 7h1.7m39.3 -35h1.7m36.3 -2h1.7m-73.7 35h1.7m-6.7 6h1.7m33.3 -19h1.7m2.3 -17h1.7m-36.7 23h1.7m28.3 -16h1.7m12.3 8h1.7m-46.7 14h1.7m6.3 -6h1.7m16.3 -12h1.7m0.3 -2h1.7m-4.7 12h1.7m24.3 -27h1.7m-33.7 18h1.7m-7.7 13h1.7m42.3 -21h1.7m-24.7 -13h1.7m-28.7 55h1.7m-10.7 -12h1.7m24.3 -15h1.7m-24.7 -1h1.7m19.3 15h1.7m-3.7 -6h1.7m-10.7 17h1.7m37.3 -33h1.7m-7.7 0h1.7m-28.7 3h1.7m0.3 9h1.7m-10.7 -3h1.7m10.3 2h1.7m19.3 -9h1.7m-5.7 13h1.7m-30.7 1h1.7m-1.7 -6h1.7m58.3 -19h1.7m-70.7 5h1.7m50.3 -13h1.7m-12.7 23h1.7m-11.7 -27h1.7m5.3 12h1.7m12.3 11h1.7m-16.7 21h1.7m-45.7 -16h1.7m1.3 31h1.7m18.3 -38h1.7m-9.7 8h1.7m42.3 -5h1.7m-47.7 3h1.7m-20.7 13h1.7m68.3 -22h1.7m-37.7 28h1.7m5.3 -14h1.7m17.3 -18h1.7m-12.7 27h1.7m-25.7 -4h1.7m26.3 -29h1.7m-50.7 46h1.7m15.3 -19h1.7m19.3 0h1.7m16.3 -4h1.7m-11.7 -9h1.7m-31.7 30h1.7m14.3 -30h1.7m35.3 -31h1.7m-42.7 30h1.7m4.3 23h1.7m-12.7 -1h1.7m-13.7 -19h1.7m11.3 -8h1.7m23.3 4h1.7m-37.7 4h1.7m48.3 4h1.7m-24.7 -5h1.7m-11.7 -8h1.7m12.3 13h1.7m1.3 15h1.7m1.3 -29h1.7m-16.7 -2h1.7m11.3 -4h1.7m-27.7 33h1.7m8.3 -30h1.7m-10.7 1h1.7m-0.7 28h1.7m-19.7 -1h1.7m53.3 -21h1.7m7.3 -4h1.7m-44.7 17h1.7m2.3 -29h1.7m0.3 33h1.7m-4.7 4h1.7m11.3 -7h1.7m-44.7 0h1.7m-12.7 2h1.7m24.3 7h1.7m13.3 -23h1.7m-16.7 7h1.7m10.3 12h1.7m-16.7 11h1.7m48.3 -40h1.7m-38.7 13h1.7m36.3 -8h1.7m-28.7 22h1.7m-22.7 -2h1.7m45.3 -36h1.7m-41.7 67h1.7m-17.7 -29h1.7m48.3 -32h1.7m5.3 14h1.7m-73.7 22h1.7m45.3 6h1.7m-41.7 -5h1.7m60.3 -20h1.7m-40.7 33h1.7m2.3 -32h1.7m60.3 -7h1.7m-41.7 23h1.7m-8.7 -6h1.7m12.3 -9h1.7m-41.7 7h1.7m23.3 -12h1.7m13.3 -25h1.7m6.3 43h1.7m-16.7 1h1.7m1.3 -25h1.7m-12.7 36h1.7m17.3 -24h1.7m33.3 -7h1.7m-52.7 2h1.7m-17.7 19h1.7m38.3 -23h1.7m-3.7 -4h1.7m-37.7 14h1.7m12.3 4h1.7m26.3 -16h1.7m-17.7 7h1.7m-18.7 39h1.7m24.3 -49h1.7m-18.7 12h1.7m11.3 -11h1.7m-21.7 10h1.7m-45.7 33h1.7m18.3 -16h1.7m23.3 -17h1.7m-61.7 24h1.7m39.3 5h1.7m-0.7 -40h1.7m39.3 -2h1.7m-8.7 22h1.7m-22.7 -20h1.7m10.3 -2h1.7m-10.7 30h1.7m-9.7 -15h1.7m33.3 -38h1.7m-51.7 52h1.7m-14.7 -2h1.7m24.3 -15h1.7m13.3 10h1.7m-64.7 11h1.7m68.3 -5h1.7m-19.7 2h1.7m25.3 -7h1.7m-45.7 -13h1.7m-6.7 34h1.7m32.3 -21h1.7m-2.7 -10h1.7m-33.7 6h1.7m22.3 4h1.7m36.3 -11h1.7m-20.7 3h1.7m-12.7 -2h1.7m7.3 -9h1.7m-6.7 3h1.7m1.3 -8h1.7m-19.7 28h1.7m22.3 -14h1.7m4.3 -1h1.7m-59.7 12h1.7m14.3 0h1.7m0.3 9h1.7m45.3 -18h1.7m-49.7 -3h1.7m-28.7 5h1.7m34.3 13h1.7m-17.7 -4h1.7m15.3 -13h1.7m-9.7 9h1.7m6.3 -12h1.7m5.3 7h1.7m-4.7 -1h1.7m-31.7 19h1.7m42.3 6h1.7m-30.7 -5h1.7m28.3 -34h1.7m4.3 32h1.7m-63.7 -1h1.7m35.3 -4h1.7m7.3 -9h1.7m-22.7 2h1.7m12.3 -13h1.7m-24.7 23h1.7m44.3 -19h1.7m-20.7 4h1.7m25.3 -7h1.7m-31.7 20h1.7m-15.7 -11h1.7m18.3 8h1.7m6.3 8h1.7m0.3 -26h1.7m-34.7 14h1.7m15.3 4h1.7m-7.7 6h1.7m0.3 1h1.7m3.3 9h1.7m14.3 -29h1.7m-20.7 -5h1.7m-29.7 15h1.7m40.3 -1h1.7m-6.7 -29h1.7m2.3 25h1.7m-20.7 30h1.7m16.3 -30h1.7m-36.7 16h1.7m24.3 -17h1.7m-0.7 21h1.7m-0.7 -17h1.7m-9.7 -13h1.7m-33.7 24h1.7m89.3 -45h1.7m-31.7 25h1.7m-33.7 21h1.7m1.3 -18h1.7m1.3 -13h1.7m-22.7 12h1.7m-21.7 29h1.7m79.3 -27h1.7m-25.7 10h1.7m25.3 -26h1.7m-75.7 30h1.7m23.3 -17h1.7m-3.7 33h1.7m6.3 -10h1.7m-6.7 -6h1.7m8.3 -29h1.7m-2.7 1h1.7m-15.7 20h1.7m58.3 -11h1.7m-41.7 28h1.7m-19.7 -15h1.7m4.3 -9h1.7m3.3 17h1.7m-7.7 -2h1.7m-1.7 -14h1.7m7.3 -11h1.7m-3.7 19h1.7m19.3 -37h1.7m-33.7 23h1.7m-29.7 40h1.7m43.3 -24h1.7m-36.7 0h1.7m26.3 20h1.7m19.3 -20h1.7m2.3 -2h1.7m-2.7 -32h1.7m-74.7 55h1.7m52.3 -26h1.7m-10.7 -7h1.7m23.3 -20h1.7m4.3 8h1.7m-0.7 -23h1.7m-26.7 44h1.7m-7.7 0h1.7m32.3 -1h1.7m-56.7 21h1.7m-10.7 -13h1.7m32.3 -4h1.7m10.3 -11h1.7m-1.7 1h1.7m-57.7 6h1.7m60.3 -6h1.7m-5.7 3h1.7m9.3 4h1.7m-45.7 13h1.7m24.3 -11h1.7m60.3 -25h1.7m-68.7 37h1.7m-41.7 -14h1.7m26.3 21h1.7m-42.7 -8h1.7m53.3 -64h1.7m-11.7 29h1.7m-9.7 24h1.7m6.3 -21h1.7m15.3 21h1.7m3.3 -5h1.7m-21.7 -21h1.7m-1.7 28h1.7m-5.7 4h1.7m33.3 -34h1.7m-52.7 41h1.7m24.3 -26h1.7m-24.7 -11h1.7m11.3 20h1.7m-17.7 24h1.7m5.3 -47h1.7m28.3 2h1.7m4.3 7h1.7m-21.7 25h1.7m-26.7 -29h1.7m38.3 42h1.7m-8.7 -35h1.7m1.3 21h1.7m-0.7 -22h1.7m-38.7 38h1.7m51.3 -19h1.7m-50.7 -4h1.7m11.3 8h1.7m5.3 0h1.7m26.3 -34h1.7m-16.7 -1h1.7m-0.7 18h1.7m13.3 -9h1.7m-0.7 -8h1.7m8.3 -12h1.7m-35.7 24h1.7m1.3 -10h1.7m-51.7 37h1.7m27.3 -11h1.7m15.3 -2h1.7m-5.7 -28h1.7m14.3 14h1.7m-3.7 -21h1.7m-4.7 36h1.7m-12.7 -8h1.7m6.3 5h1.7m2.3 2h1.7m-4.7 -12h1.7m12.3 10h1.7m-51.7 18h1.7m1.3 -19h1.7m-7.7 16h1.7m42.3 -11h1.7m-28.7 12h1.7m26.3 -17h1.7m-19.7 2h1.7m-13.7 -17h1.7m6.3 16h1.7m-13.7 5h1.7m60.3 -29h1.7m-67.7 40h1.7m-1.7 -14h1.7m20.3 -4h1.7m6.3 -4h1.7m1.3 23h1.7m5.3 -33h1.7m-25.7 14h1.7m9.3 -9h1.7m-11.7 17h1.7m6.3 -2h1.7m-27.7 26h1.7m21.3 -18h1.7m-19.7 -4h1.7m14.3 12h1.7m28.3 -45h1.7m-43.7 23h1.7m48.3 -9h1.7m-61.7 27h1.7m-8.7 -25h1.7m31.3 13h1.7m-6.7 6h1.7m6.3 -5h1.7m1.3 -18h1.7m-3.7 11h1.7m-19.7 -10h1.7m11.3 -7h1.7m11.3 20h1.7m-58.7 19h1.7m59.3 -24h1.7m-11.7 20h1.7m-6.7 8h1.7m-44.7 3h1.7m29.3 -19h1.7m4.3 -12h1.7m28.3 3h1.7m-34.7 13h1.7m7.3 -27h1.7m0.3 14h1.7m-19.7 -5h1.7m27.3 -13h1.7m-13.7 7h1.7m25.3 -13h1.7m-43.7 28h1.7m55.3 -41h1.7m-30.7 27h1.7m13.3 8h1.7m-11.7 -6h1.7m-16.7 -5h1.7m-0.7 -10h1.7m12.3 -20h1.7m-38.7 56h1.7m16.3 -13h1.7m15.3 -16h1.7m-23.7 34h1.7m27.3 -11h1.7m-61.7 9h1.7m12.3 7h1.7m16.3 -27h1.7m6.3 -4h1.7m-10.7 10h1.7m-8.7 -20h1.7m31.3 28h1.7m21.3 -31h1.7m-60.7 38h1.7m28.3 -11h1.7m-40.7 14h1.7m13.3 -38h1.7m25.3 6h1.7m-33.7 28h1.7m45.3 -36h1.7m-60.7 29h1.7m72.3 -26h1.7m-28.7 27h1.7m-4.7 -7h1.7m-5.7 0h1.7m-34.7 -18h1.7m17.3 11h1.7m-12.7 -14h1.7m-30.7 28h1.7m71.3 -30h1.7m-0.7 13h1.7m-7.7 3h1.7m-25.7 -13h1.7m-33.7 38h1.7m16.3 -14h1.7m-17.7 -13h1.7m29.3 -1h1.7m-26.7 11h1.7m40.3 3h1.7m-48.7 -3h1.7m37.3 -17h1.7m-33.7 16h1.7m-3.7 -4h1.7m54.3 -10h1.7m-27.7 3h1.7m-14.7 29h1.7m14.3 -21h1.7m-6.7 12h1.7m-41.7 -6h1.7m41.3 -6h1.7m22.3 -2h1.7m-62.7 19h1.7m19.3 0h1.7m26.3 -37h1.7m24.3 -5h1.7m-58.7 16h1.7m28.3 -5h1.7m-19.7 30h1.7m0.3 -5h1.7m-10.7 -11h1.7m-28.7 26h1.7m42.3 -25h1.7m-48.7 10h1.7m36.3 -28h1.7m14.3 11h1.7m-10.7 -13h1.7m-34.7 31h1.7m-26.7 -9h1.7m65.3 -4h1.7m-61.7 15h1.7m37.3 -8h1.7m-13.7 4h1.7m13.3 11h1.7m-6.7 -30h1.7m15.3 2h1.7m-8.7 7h1.7m18.3 -21h1.7m-7.7 30h1.7m-40.7 -6h1.7m29.3 -3h1.7m-40.7 -13h1.7m-12.7 28h1.7m18.3 -23h1.7m-7.7 -16h1.7m14.3 21h1.7m3.3 -4h1.7m-3.7 6h1.7m2.3 -13h1.7m9.3 -6h1.7m-9.7 29h1.7m-44.7 24h1.7m15.3 -22h1.7m10.3 -9h1.7m24.3 -17h1.7m-47.7 11h1.7m31.3 6h1.7m-24.7 1h1.7m27.3 -38h1.7m-0.7 16h1.7m-24.7 41h1.7m13.3 -25h1.7m-34.7 20h1.7m-2.7 -2h1.7m63.3 -24h1.7m-22.7 0h1.7m-10.7 1h1.7m-29.7 32h1.7m13.3 -29h1.7m-6.7 19h1.7m-21.7 -6h1.7m32.3 -19h1.7m2.3 19h1.7m-6.7 -15h1.7m22.3 -4h1.7m-18.7 -1h1.7m19.3 18h1.7m-4.7 -12h1.7m-42.7 17h1.7m7.3 -17h1.7m-21.7 10h1.7m25.3 4h1.7m-35.7 -10h1.7m17.3 19h1.7m14.3 -25h1.7m-25.7 15h1.7m8.3 -15h1.7m9.3 -1h1.7m1.3 15h1.7m5.3 -12h1.7m-18.7 5h1.7m32.3 -4h1.7m-16.7 -14h1.7m-0.7 19h1.7m-36.7 0h1.7m-35.7 17h1.7m44.3 -23h1.7m21.3 -23h1.7m15.3 9h1.7m-33.7 28h1.7m-5.7 2h1.7m-2.7 -16h1.7m13.3 5h1.7m-7.7 -11h1.7m-6.7 -17h1.7m6.3 -3h1.7m24.3 5h1.7m-66.7 61h1.7m56.3 -32h1.7m-6.7 15h1.7m-31.7 -5h1.7m16.3 -25h1.7m-40.7 19h1.7m19.3 -4h1.7m-9.7 -8h1.7m10.3 -4h1.7m4.3 26h1.7m-9.7 -30h1.7m51.3 -15h1.7m-62.7 32h1.7m-5.7 21h1.7m46.3 -36h1.7m-24.7 47h1.7m-13.7 -25h1.7m8.3 -6h1.7m17.3 -24h1.7m-34.7 26h1.7m3.3 -1h1.7m-18.7 -21h1.7m27.3 10h1.7m-4.7 13h1.7m0.3 10h1.7m-16.7 -11h1.7m-10.7 -5h1.7m10.3 6h1.7m34.3 -4h1.7m-17.7 -4h1.7m-6.7 2h1.7m-28.7 10h1.7m36.3 -32h1.7m6.3 13h1.7m-35.7 10h1.7m32.3 -18h1.7m-42.7 29h1.7m39.3 2h1.7m-14.7 -13h1.7m1.3 -12h1.7m-27.7 6h1.7m4.3 17h1.7m-16.7 -15h1.7m-18.7 22h1.7m17.3 -17h1.7m31.3 -27h1.7m15.3 20h1.7m-22.7 -9h1.7m-18.7 2h1.7m1.3 10h1.7m-7.7 14h1.7m17.3 4h1.7m-24.7 -15h1.7m4.3 15h1.7m-4.7 -33h1.7m7.3 9h1.7m10.3 12h1.7m-45.7 -12h1.7m34.3 14h1.7m-11.7 -2h1.7m25.3 -23h1.7m-1.7 3h1.7m-5.7 9h1.7m-4.7 0h1.7m6.3 2h1.7m4.3 -16h1.7m-22.7 34h1.7m-6.7 -7h1.7m5.3 -21h1.7m-30.7 19h1.7m6.3 -7h1.7m27.3 10h1.7m8.3 3h1.7m-24.7 2h1.7m15.3 -9h1.7m-31.7 9h1.7m4.3 -35h1.7m10.3 30h1.7m-69.7 0h1.7m64.3 -10h1.7m-11.7 18h1.7m6.3 -20h1.7m3.3 4h1.7m-22.7 20h1.7m14.3 -30h1.7m-8.7 -3h1.7m-17.7 7h1.7m38.3 2h1.7m-33.7 0h1.7m31.3 -20h1.7m-42.7 6h1.7m3.3 10h1.7m16.3 1h1.7m-37.7 4h1.7m46.3 -5h1.7m14.3 -6h1.7m-46.7 7h1.7m1.3 -9h1.7m2.3 15h1.7m-4.7 -11h1.7m25.3 8h1.7m-21.7 -1h1.7m5.3 13h1.7m4.3 2h1.7m7.3 -27h1.7m-11.7 12h1.7m-34.7 18h1.7m25.3 11h1.7m50.3 -49h1.7m-53.7 31h1.7m-38.7 1h1.7m11.3 13h1.7m35.3 -18h1.7m-30.7 3h1.7m52.3 -23h1.7m-45.7 18h1.7m-1.7 3h1.7m12.3 4h1.7m-39.7 -13h1.7m12.3 15h1.7m7.3 -11h1.7m38.3 -6h1.7m-86.7 -2h1.7m69.3 -7h1.7m-7.7 2h1.7m-7.7 -6h1.7m-25.7 38h1.7m42.3 -33h1.7m-22.7 15h1.7m-21.7 19h1.7m-20.7 2h1.7m26.3 -17h1.7m7.3 -13h1.7m-15.7 -6h1.7m2.3 25h1.7m-40.7 21h1.7m41.3 -23h1.7m23.3 -28h1.7m-21.7 28h1.7m10.3 -6h1.7m-36.7 -13h1.7m9.3 30h1.7m23.3 -25h1.7m-35.7 32h1.7m46.3 -47h1.7m-17.7 -16h1.7m-28.7 21h1.7m26.3 12h1.7m0.3 9h1.7m-25.7 -11h1.7m9.3 10h1.7m17.3 -18h1.7m-13.7 5h1.7m11.3 -11h1.7m-47.7 43h1.7m31.3 -16h1.7m-40.7 23h1.7m69.3 -53h1.7m-52.7 42h1.7m-7.7 -15h1.7m34.3 -23h1.7m-21.7 13h1.7m28.3 -5h1.7m-35.7 11h1.7m-38.7 12h1.7m34.3 9h1.7m10.3 -39h1.7m-21.7 20h1.7m5.3 8h1.7m16.3 -27h1.7m-39.7 29h1.7m-36.7 14h1.7m72.3 -29h1.7m-3.7 -4h1.7m-39.7 14h1.7m-4.7 -4h1.7m31.3 15h1.7m-40.7 -23h1.7m83.3 10h1.7m-71.7 4h1.7m-2.7 -6h1.7m13.3 -11h1.7m-12.7 10h1.7m-1.7 -12h1.7m23.3 0h1.7m-30.7 12h1.7m-16.7 17h1.7m1.3 -15h1.7m28.3 19h1.7m-0.7 -32h1.7m6.3 20h1.7m-13.7 -27h1.7m-18.7 28h1.7m11.3 -4h1.7m-12.7 0h1.7m26.3 -22h1.7m-11.7 23h1.7m-24.7 -10h1.7m21.3 -12h1.7m-19.7 22h1.7m40.3 -10h1.7m-34.7 -9h1.7m-25.7 28h1.7m23.3 -6h1.7m-25.7 5h1.7m19.3 -14h1.7m58.3 -35h1.7m-29.7 40h1.7m-48.7 -7h1.7m44.3 -1h1.7m-11.7 2h1.7m-31.7 15h1.7m-8.7 -18h1.7m38.3 -7h1.7m-20.7 6h1.7m0.3 12h1.7m7.3 -2h1.7m-2.7 9h1.7m-20.7 -21h1.7m11.3 10h1.7m20.3 -20h1.7m1.3 -12h1.7m6.3 29h1.7m-54.7 5h1.7m45.3 -16h1.7m-32.7 27h1.7m-17.7 3h1.7m2.3 1h1.7m-0.7 -3h1.7m26.3 -43h1.7m7.3 3h1.7m2.3 2h1.7m-49.7 26h1.7m16.3 -17h1.7m-12.7 33h1.7m26.3 -30h1.7m-10.7 7h1.7m2.3 3h1.7m16.3 -12h1.7m5.3 -5h1.7m-36.7 15h1.7m-38.7 17h1.7m30.3 3h1.7m68.3 -70h1.7m-63.7 62h1.7m1.3 -33h1.7m-15.7 40h1.7m45.3 -28h1.7m-38.7 10h1.7m18.3 -14h1.7m25.3 -10h1.7m-67.7 6h1.7m20.3 9h1.7m8.3 -17h1.7m-11.7 33h1.7m34.3 -32h1.7m-46.7 17h1.7m31.3 -8h1.7m-32.7 20h1.7m21.3 -8h1.7m-21.7 4h1.7m-58.7 18h1.7m88.3 -50h1.7m-52.7 43h1.7m5.3 7h1.7m-3.7 3h1.7m6.3 -16h1.7m4.3 -14h1.7m-16.7 23h1.7m28.3 -13h1.7m-29.7 -1h1.7m34.3 -18h1.7m-56.7 20h1.7m31.3 3h1.7m6.3 -18h1.7m-17.7 -1h1.7m3.3 -5h1.7m-15.7 15h1.7m8.3 12h1.7m4.3 -7h1.7m-16.7 7h1.7m7.3 0h1.7m11.3 -20h1.7m-22.7 11h1.7m8.3 15h1.7m-0.7 -14h1.7m-12.7 8h1.7m7.3 -1h1.7m-6.7 -2h1.7m15.3 0h1.7m17.3 -6h1.7m-37.7 9h1.7m-6.7 3h1.7m8.3 -15h1.7m-14.7 8h1.7m34.3 -30h1.7m-32.7 35h1.7m9.3 -8h1.7m-21.7 -8h1.7m58.3 -17h1.7m-82.7 21h1.7m68.3 -13h1.7m-19.7 7h1.7m-35.7 8h1.7m32.3 -23h1.7m43.3 -3h1.7m-74.7 30h1.7m30.3 -10h1.7m-20.7 -5h1.7m36.3 11h1.7m-48.7 -19h1.7m23.3 -4h1.7m-15.7 42h1.7m37.3 -24h1.7m-49.7 -17h1.7m48.3 9h1.7m-30.7 2h1.7m-45.7 2h1.7m28.3 13h1.7m-5.7 0h1.7m62.3 -30h1.7m-55.7 23h1.7m2.3 18h1.7m-35.7 -5h1.7m37.3 -20h1.7m-26.7 35h1.7m58.3 -36h1.7m-63.7 12h1.7m31.3 -23h1.7m4.3 14h1.7m-54.7 28h1.7m59.3 -39h1.7m-2.7 -8h1.7m-16.7 31h1.7m-41.7 15h1.7m16.3 -22h1.7m15.3 -5h1.7m-19.7 22h1.7m8.3 -22h1.7m18.3 -4h1.7m-47.7 -5h1.7m20.3 8h1.7m29.3 17h1.7m-54.7 13h1.7m18.3 -14h1.7m17.3 -4h1.7m7.3 -22h1.7m-64.7 37h1.7m33.3 -17h1.7m-0.7 -2h1.7m-31.7 15h1.7m71.3 -41h1.7m-15.7 17h1.7m1.3 -9h1.7m-34.7 27h1.7m11.3 2h1.7m-11.7 -19h1.7m-14.7 31h1.7m49.3 -35h1.7m-38.7 17h1.7m31.3 -52h1.7m-61.7 60h1.7m33.3 -15h1.7m-15.7 -2h1.7m48.3 -7h1.7m-50.7 28h1.7m29.3 -26h1.7m-0.7 -14h1.7m-34.7 31h1.7m-4.7 2h1.7m0.3 -19h1.7m12.3 3h1.7m8.3 2h1.7m-4.7 -15h1.7m-0.7 17h1.7m-11.7 30h1.7m-1.7 -35h1.7m-10.7 -2h1.7m-0.7 22h1.7m-10.7 0h1.7m-16.7 -9h1.7m38.3 -5h1.7m19.3 6h1.7m-50.7 -15h1.7m22.3 -2h1.7m-13.7 23h1.7m-1.7 -40h1.7m-15.7 16h1.7m61.3 -8h1.7m2.3 -21h1.7m-6.7 0h1.7m5.3 23h1.7m-66.7 31h1.7m16.3 -18h1.7m20.3 -16h1.7m-5.7 25h1.7m-11.7 -8h1.7m-21.7 9h1.7m4.3 -3h1.7m16.3 -12h1.7m-32.7 -2h1.7m7.3 22h1.7m-28.7 -3h1.7m33.3 -6h1.7m-9.7 -9h1.7m14.3 2h1.7m-17.7 23h1.7m11.3 -32h1.7m12.3 -19h1.7m-30.7 41h1.7m-19.7 -4h1.7m92.3 -41h1.7m-68.7 29h1.7m8.3 12h1.7m5.3 -6h1.7m-16.7 -23h1.7m8.3 12h1.7m5.3 15h1.7m7.3 -11h1.7m-65.7 20h1.7m42.3 -35h1.7m-33.7 10h1.7m23.3 18h1.7m-1.7 5h1.7m-31.7 -19h1.7m50.3 -13h1.7m-9.7 17h1.7m-1.7 4h1.7m-33.7 15h1.7m36.3 2h1.7m-45.7 -21h1.7m15.3 -4h1.7m42.3 -3h1.7m-13.7 -8h1.7m-6.7 34h1.7m6.3 -22h1.7m-28.7 18h1.7m-20.7 -5h1.7m11.3 2h1.7m-17.7 11h1.7m-10.7 -7h1.7m34.3 -10h1.7m-6.7 -16h1.7m-6.7 23h1.7m11.3 -23h1.7m-26.7 39h1.7m32.3 -4h1.7m-8.7 -22h1.7m-4.7 -5h1.7m-12.7 14h1.7m-40.7 15h1.7m21.3 -9h1.7m30.3 -20h1.7m-26.7 22h1.7m33.3 -24h1.7m-24.7 13h1.7m21.3 -20h1.7m-46.7 18h1.7m55.3 -15h1.7m-54.7 13h1.7m14.3 4h1.7m-54.7 22h1.7m44.3 -42h1.7m8.3 20h1.7m-43.7 -5h1.7m32.3 -1h1.7m54.3 -19h1.7m-21.7 18h1.7m-36.7 0h1.7m-1.7 1h1.7m37.3 11h1.7m-48.7 3h1.7m0.3 5h1.7m38.3 -42h1.7m-46.7 14h1.7m22.3 19h1.7m-23.7 7h1.7m-3.7 -4h1.7m28.3 -15h1.7m-18.7 14h1.7m21.3 6h1.7m-39.7 -8h1.7m43.3 -17h1.7m-36.7 -13h1.7m-23.7 22h1.7m6.3 29h1.7m33.3 -22h1.7m12.3 -28h1.7m2.3 12h1.7m-35.7 3h1.7m18.3 -10h1.7m-35.7 23h1.7m58.3 -32h1.7m-42.7 23h1.7m-5.7 5h1.7m9.3 -10h1.7m4.3 5h1.7m22.3 6h1.7m-40.7 15h1.7m-1.7 6h1.7m-49.7 -3h1.7m12.3 -36h1.7m17.3 5h1.7m31.3 -5h1.7m-11.7 41h1.7m37.3 -52h1.7m5.3 6h1.7m-110.7 23h1.7m54.3 -2h1.7m-18.7 -4h1.7m31.3 7h1.7m-7.7 -17h1.7m-22.7 6h1.7m-1.7 -11h1.7m-5.7 23h1.7m23.3 -13h1.7m-26.7 8h1.7m42.3 -17h1.7m-48.7 19h1.7m0.3 4h1.7m27.3 -11h1.7m16.3 9h1.7m-63.7 -3h1.7m41.3 7h1.7m-10.7 -3h1.7m-31.7 14h1.7m33.3 -22h1.7m-32.7 3h1.7m51.3 -14h1.7m-58.7 40h1.7m35.3 -39h1.7m0.3 32h1.7m-9.7 -14h1.7m-15.7 -4h1.7m34.3 -28h1.7m-23.7 24h1.7m4.3 7h1.7m-14.7 4h1.7m-12.7 0h1.7m-14.7 14h1.7m39.3 -23h1.7m-45.7 5h1.7m-3.7 7h1.7m35.3 -26h1.7m-24.7 -1h1.7m8.3 22h1.7m-33.7 9h1.7m-16.7 1h1.7m53.3 -15h1.7m-25.7 -9h1.7m30.3 4h1.7m-2.7 -7h1.7m20.3 27h1.7m-45.7 -8h1.7m2.3 11h1.7m13.3 -23h1.7m1.3 -1h1.7m-36.7 4h1.7m-4.7 8h1.7m44.3 -12h1.7m-21.7 -3h1.7m-19.7 30h1.7m26.3 -29h1.7m8.3 -10h1.7m15.3 18h1.7m-11.7 -33h1.7m-35.7 39h1.7m6.3 -11h1.7m-25.7 10h1.7m41.3 -35h1.7m-10.7 22h1.7m-6.7 2h1.7m-23.7 12h1.7m21.3 -9h1.7m-16.7 -7h1.7m-33.7 31h1.7m33.3 -31h1.7m33.3 -11h1.7m-23.7 26h1.7m-22.7 23h1.7m25.3 -45h1.7m-23.7 18h1.7m10.3 -4h1.7m13.3 -22h1.7m14.3 27h1.7m-81.7 9h1.7m66.3 -15h1.7m-43.7 -4h1.7m-2.7 31h1.7m66.3 -34h1.7m-19.7 2h1.7m-20.7 10h1.7m-9.7 16h1.7m-20.7 -17h1.7m28.3 -6h1.7m-11.7 14h1.7m8.3 -11h1.7m-16.7 12h1.7m2.3 -25h1.7m4.3 18h1.7m-3.7 6h1.7m-21.7 -16h1.7m-12.7 28h1.7m39.3 -16h1.7m13.3 -21h1.7m-12.7 19h1.7m-45.7 14h1.7m5.3 -5h1.7m26.3 -10h1.7m-24.7 -20h1.7m14.3 27h1.7m-22.7 -15h1.7m23.3 17h1.7m-0.7 -7h1.7m34.3 -16h1.7m-68.7 33h1.7m19.3 -19h1.7m-34.7 27h1.7m57.3 -37h1.7m-17.7 -3h1.7m-24.7 33h1.7m2.3 -8h1.7m26.3 -15h1.7m-18.7 -5h1.7m-2.7 -3h1.7m-16.7 29h1.7m36.3 -17h1.7m-15.7 -5h1.7m-13.7 -8h1.7m13.3 20h1.7m17.3 -16h1.7m-29.7 15h1.7m15.3 -22h1.7m-45.7 31h1.7m12.3 4h1.7m8.3 -19h1.7m15.3 -8h1.7m-65.7 24h1.7m47.3 -9h1.7m4.3 -3h1.7m-10.7 8h1.7m-4.7 -24h1.7m-5.7 2h1.7m7.3 -7h1.7m27.3 12h1.7m-25.7 11h1.7m-17.7 -4h1.7m6.3 -1h1.7m3.3 -12h1.7m5.3 0h1.7m-22.7 4h1.7m28.3 -10h1.7m-6.7 13h1.7m-43.7 9h1.7m16.3 -10h1.7m14.3 11h1.7m-16.7 4h1.7m8.3 -13h1.7m19.3 -3h1.7m-37.7 17h1.7m-10.7 -6h1.7m3.3 10h1.7m-9.7 -15h1.7m13.3 6h1.7m5.3 -21h1.7m7.3 16h1.7m-0.7 -6h1.7m-3.7 15h1.7m6.3 -5h1.7m-44.7 -7h1.7m0.3 10h1.7m10.3 10h1.7m10.3 -6h1.7m2.3 -20h1.7m8.3 -21h1.7m17.3 27h1.7m15.3 -25h1.7m-25.7 14h1.7m-15.7 -8h1.7m47.3 -1h1.7m-61.7 9h1.7m-54.7 49h1.7m62.3 -49h1.7m-6.7 20h1.7m46.3 -29h1.7m-37.7 11h1.7m-28.7 7h1.7m-3.7 16h1.7m-8.7 6h1.7m39.3 -19h1.7m-12.7 27h1.7m-16.7 -18h1.7m23.3 -18h1.7m-65.7 30h1.7m71.3 -26h1.7m-61.7 9h1.7m25.3 -2h1.7m-40.7 9h1.7m3.3 1h1.7m47.3 -16h1.7m-12.7 10h1.7m-11.7 9h1.7m6.3 -20h1.7m30.3 -1h1.7m-22.7 2h1.7m-32.7 23h1.7m68.3 -57h1.7m-17.7 16h1.7m-9.7 22h1.7m-42.7 26h1.7m17.3 -21h1.7m17.3 10h1.7m-7.7 -21h1.7m30.3 -9h1.7m-60.7 17h1.7m-25.7 6h1.7m19.3 -12h1.7m38.3 -17h1.7m-15.7 19h1.7m17.3 -19h1.7m-30.7 10h1.7m4.3 -5h1.7m-5.7 18h1.7m54.3 -29h1.7m-70.7 25h1.7m12.3 15h1.7m-39.7 -8h1.7m6.3 -9h1.7m9.3 19h1.7m24.3 -35h1.7m16.3 14h1.7m18.3 -27h1.7m-52.7 44h1.7m-1.7 1h1.7m-12.7 1h1.7m33.3 -19h1.7m-6.7 -19h1.7m13.3 31h1.7m-11.7 -22h1.7m-22.7 32h1.7m6.3 -9h1.7m26.3 -47h1.7m-13.7 49h1.7m-24.7 -36h1.7m1.3 5h1.7m7.3 17h1.7m17.3 1h1.7m-10.7 -2h1.7m-39.7 10h1.7m7.3 -9h1.7m20.3 -5h1.7m-41.7 17h1.7m-2.7 -2h1.7m58.3 -15h1.7m-51.7 1h1.7m26.3 15h1.7m10.3 -16h1.7m0.3 -2h1.7m-5.7 5h1.7m-56.7 47h1.7m65.3 -55h1.7m-55.7 16h1.7m12.3 3h1.7m1.3 12h1.7m12.3 -9h1.7m11.3 -20h1.7m27.3 -16h1.7m-7.7 3h1.7m-36.7 19h1.7m-23.7 4h1.7m11.3 1h1.7m36.3 -24h1.7m-71.7 41h1.7m39.3 -28h1.7m-13.7 -3h1.7m13.3 17h1.7m-11.7 3h1.7m28.3 -8h1.7m6.3 9h1.7m-11.7 -18h1.7m-54.7 18h1.7m51.3 -33h1.7m-14.7 34h1.7m-9.7 -7h1.7m-26.7 16h1.7m15.3 -1h1.7m-3.7 -13h1.7m-8.7 18h1.7m15.3 -21h1.7m-26.7 8h1.7m23.3 -7h1.7m-6.7 10h1.7m6.3 -4h1.7m-25.7 -17h1.7m30.3 3h1.7m-18.7 28h1.7m-12.7 -30h1.7m-1.7 8h1.7m-11.7 6h1.7m28.3 -18h1.7m8.3 16h1.7m-26.7 -10h1.7m-2.7 -9h1.7m19.3 13h1.7m-22.7 -4h1.7m-4.7 11h1.7m34.3 -19h1.7m-34.7 30h1.7m-9.7 19h1.7m5.3 -12h1.7m16.3 -36h1.7m-27.7 11h1.7m-17.7 4h1.7m-6.7 3h1.7m23.3 7h1.7m-13.7 1h1.7m46.3 -24h1.7m-21.7 8h1.7m5.3 -13h1.7m-20.7 27h1.7m41.3 -7h1.7m-40.7 20h1.7m9.3 -16h1.7m-11.7 -2h1.7m22.3 -1h1.7m0.3 -5h1.7m-45.7 7h1.7m28.3 -10h1.7m4.3 0h1.7m-23.7 -4h1.7m-4.7 29h1.7m11.3 -1h1.7m-24.7 -1h1.7m12.3 16h1.7m6.3 -18h1.7m-17.7 6h1.7m38.3 -29h1.7m-79.7 20h1.7m79.3 -28h1.7m-47.7 21h1.7m10.3 -12h1.7m-21.7 8h1.7m12.3 -23h1.7m29.3 12h1.7m-32.7 15h1.7m15.3 -22h1.7m10.3 3h1.7m-37.7 12h1.7m-18.7 30h1.7m8.3 -27h1.7m-4.7 -7h1.7m49.3 -2h1.7m-60.7 10h1.7m15.3 -5h1.7m21.3 -3h1.7m-26.7 2h1.7m27.3 -2h1.7m-34.7 13h1.7m45.3 -18h1.7m-55.7 11h1.7m20.3 6h1.7m42.3 -12h1.7m-20.7 5h1.7m-22.7 -9h1.7m-23.7 13h1.7m-3.7 -6h1.7m10.3 -1h1.7m7.3 2h1.7m1.3 1h1.7m-47.7 -9h1.7m50.3 9h1.7m16.3 -13h1.7m-22.7 22h1.7m-3.7 -1h1.7m-10.7 -22h1.7m12.3 15h1.7m3.3 0h1.7m-14.7 -10h1.7m53.3 -19h1.7m-73.7 31h1.7m12.3 -16h1.7m7.3 28h1.7m-17.7 -4h1.7m28.3 -14h1.7m-27.7 2h1.7m28.3 -4h1.7m-28.7 8h1.7m30.3 -3h1.7m-62.7 24h1.7m57.3 -35h1.7m-14.7 3h1.7m-11.7 23h1.7m18.3 -37h1.7m-15.7 4h1.7m-49.7 35h1.7m50.3 -39h1.7m-15.7 20h1.7m37.3 -9h1.7m-45.7 23h1.7m20.3 -2h1.7m-2.7 -18h1.7m-37.7 23h1.7m55.3 -27h1.7m-51.7 24h1.7m-7.7 1h1.7m54.3 -37h1.7m-52.7 33h1.7m-13.7 1h1.7m44.3 -13h1.7m-2.7 -6h1.7m0.3 3h1.7m-10.7 15h1.7m-31.7 10h1.7m31.3 -19h1.7m-23.7 7h1.7m-22.7 7h1.7m72.3 -27h1.7m-37.7 31h1.7m-30.7 -4h1.7m1.3 -5h1.7m68.3 -19h1.7m-71.7 22h1.7m22.3 9h1.7m-29.7 -25h1.7m48.3 -13h1.7m-45.7 18h1.7m15.3 -19h1.7m16.3 14h1.7m-27.7 28h1.7m-5.7 -14h1.7m21.3 -19h1.7m-22.7 13h1.7m-4.7 3h1.7m-8.7 14h1.7m49.3 -22h1.7m-23.7 8h1.7m12.3 -8h1.7m-31.7 23h1.7m20.3 -25h1.7m-36.7 17h1.7m-2.7 7h1.7m-12.7 -25h1.7m47.3 -6h1.7m-18.7 28h1.7m-22.7 -13h1.7m57.3 -13h1.7m-26.7 -1h1.7m-24.7 10h1.7m8.3 -3h1.7m-3.7 20h1.7m-8.7 -13h1.7m32.3 3h1.7m-22.7 -9h1.7m36.3 -28h1.7m-35.7 31h1.7m-12.7 -16h1.7m1.3 7h1.7m-16.7 18h1.7m31.3 -1h1.7m-17.7 -14h1.7m-31.7 24h1.7m62.3 -44h1.7m-19.7 15h1.7m-27.7 -22h1.7m10.3 43h1.7m-0.7 -5h1.7m-20.7 -13h1.7m7.3 8h1.7m15.3 -9h1.7m-17.7 -2h1.7m19.3 7h1.7m-59.7 25h1.7m42.3 -7h1.7m21.3 -29h1.7m-34.7 30h1.7m5.3 -16h1.7m14.3 -6h1.7m-31.7 1h1.7m-9.7 23h1.7m33.3 -26h1.7m-1.7 11h1.7m14.3 -7h1.7m-25.7 -3h1.7m-30.7 34h1.7m18.3 -58h1.7m12.3 36h1.7m0.3 -16h1.7m-27.7 28h1.7m-10.7 -14h1.7m63.3 4h1.7m-48.7 4h1.7m12.3 -21h1.7m-10.7 13h1.7m-3.7 -19h1.7m-5.7 21h1.7m15.3 -6h1.7m33.3 7h1.7m-23.7 -27h1.7m-19.7 31h1.7m-25.7 -9h1.7m49.3 -14h1.7m12.3 21h1.7m-77.7 4h1.7m14.3 13h1.7m16.3 -31h1.7m-10.7 1h1.7m39.3 -19h1.7m-41.7 19h1.7m16.3 6h1.7m-43.7 -12h1.7m34.3 4h1.7m-18.7 33h1.7m37.3 -41h1.7m-29.7 13h1.7m-13.7 -12h1.7m14.3 6h1.7m67.3 -14h1.7m-67.7 23h1.7m-42.7 18h1.7m26.3 -26h1.7m19.3 27h1.7m-27.7 10h1.7m26.3 -26h1.7m-9.7 1h1.7m-14.7 -12h1.7m-2.7 5h1.7m-12.7 -2h1.7m30.3 0h1.7m-22.7 -5h1.7m23.3 -18h1.7m-3.7 16h1.7m-33.7 30h1.7m24.3 -18h1.7m-2.7 -4h1.7m-37.7 16h1.7m36.3 -29h1.7m-32.7 12h1.7m13.3 1h1.7m-8.7 2h1.7m1.3 -18h1.7m-16.7 23h1.7m21.3 -24h1.7m2.3 -8h1.7m-10.7 26h1.7m-15.7 10h1.7m6.3 13h1.7m8.3 -28h1.7m-9.7 36h1.7m12.3 -25h1.7m-22.7 -28h1.7m10.3 31h1.7m12.3 -20h1.7m-6.7 -1h1.7m-8.7 8h1.7m-1.7 -14h1.7m-8.7 17h1.7m-11.7 15h1.7m2.3 -43h1.7m8.3 18h1.7m-9.7 16h1.7m22.3 -16h1.7m-23.7 28h1.7m11.3 -13h1.7m12.3 4h1.7m-19.7 -15h1.7m19.3 -14h1.7m-12.7 8h1.7m-36.7 23h1.7m2.3 -26h1.7m41.3 32h1.7m-10.7 -26h1.7m5.3 15h1.7m-37.7 12h1.7m4.3 4h1.7m21.3 -32h1.7m-28.7 19h1.7m-1.7 -2h1.7m18.3 -13h1.7m-41.7 14h1.7m7.3 -3h1.7m10.3 11h1.7m-1.7 11h1.7m37.3 -59h1.7m-11.7 23h1.7m4.3 21h1.7m-25.7 -19h1.7m-7.7 0h1.7m28.3 28h1.7m7.3 -26h1.7m-39.7 12h1.7m8.3 -22h1.7m31.3 7h1.7m-81.7 49h1.7m9.3 -39h1.7m43.3 6h1.7m0.3 -21h1.7m19.3 -1h1.7m-72.7 41h1.7m55.3 -35h1.7m-33.7 11h1.7m-5.7 20h1.7m1.3 -25h1.7m-29.7 40h1.7m60.3 -63h1.7m-27.7 29h1.7m-20.7 13h1.7m21.3 -11h1.7m12.3 -5h1.7m11.3 5h1.7m-12.7 -17h1.7m-50.7 30h1.7m19.3 -27h1.7m-19.7 23h1.7m17.3 19h1.7m-25.7 -30h1.7m48.3 -37h1.7m0.3 40h1.7m-38.7 2h1.7m32.3 -30h1.7m-40.7 21h1.7m19.3 1h1.7m-19.7 15h1.7m16.3 -18h1.7m-14.7 7h1.7m44.3 -16h1.7m-46.7 24h1.7m17.3 -16h1.7m24.3 -2h1.7m-15.7 0h1.7m-34.7 13h1.7m28.3 -31h1.7m-19.7 -7h1.7m-35.7 51h1.7m39.3 -1h1.7m3.3 -35h1.7m-49.7 21h1.7m20.3 -8h1.7m11.3 12h1.7m-14.7 4h1.7m1.3 10h1.7m5.3 -21h1.7m8.3 -15h1.7m-9.7 -5h1.7m35.3 13h1.7m-61.7 27h1.7m44.3 -40h1.7m-11.7 44h1.7m-7.7 -22h1.7m-2.7 20h1.7m42.3 -18h1.7m-9.7 23h1.7m-0.7 -49h1.7m-9.7 9h1.7m-25.7 14h1.7m50.3 -23h1.7m-87.7 22h1.7m30.3 5h1.7m1.3 2h1.7m10.3 -24h1.7m-18.7 17h1.7m44.3 -8h1.7m-45.7 15h1.7m20.3 -26h1.7m-3.7 14h1.7m-4.7 -10h1.7m-2.7 1h1.7m-18.7 7h1.7m18.3 -6h1.7m-38.7 47h1.7m7.3 -32h1.7m18.3 15h1.7m-21.7 1h1.7m-22.7 -4h1.7m31.3 14h1.7m-3.7 -29h1.7m-0.7 1h1.7m-6.7 -4h1.7m-5.7 -3h1.7m24.3 24h1.7m7.3 -29h1.7m-30.7 38h1.7m6.3 -21h1.7m-9.7 -18h1.7m-8.7 10h1.7m11.3 10h1.7m-31.7 10h1.7m48.3 -23h1.7m-16.7 -15h1.7m-5.7 24h1.7m-6.7 -7h1.7m32.3 -11h1.7m-12.7 19h1.7m-36.7 -12h1.7m26.3 -9h1.7m-24.7 1h1.7m-28.7 36h1.7m17.3 -37h1.7m-5.7 43h1.7m-7.7 -15h1.7m32.3 -11h1.7m9.3 -14h1.7m-27.7 12h1.7m16.3 19h1.7m-23.7 1h1.7m3.3 -20h1.7m16.3 -5h1.7m10.3 -28h1.7m-9.7 47h1.7m-22.7 -22h1.7m-6.7 0h1.7m-12.7 4h1.7m4.3 26h1.7m28.3 -39h1.7m-8.7 13h1.7m-24.7 3h1.7m-14.7 17h1.7m7.3 17h1.7m54.3 -40h1.7m-27.7 -8h1.7m45.3 9h1.7m-57.7 23h1.7m19.3 -24h1.7m-10.7 6h1.7m-19.7 3h1.7m14.3 -5h1.7m-17.7 -8h1.7m13.3 18h1.7m-41.7 -9h1.7m10.3 24h1.7m26.3 -27h1.7m22.3 -8h1.7m8.3 -13h1.7m-75.7 32h1.7m51.3 -30h1.7m-35.7 37h1.7m13.3 -19h1.7m-12.7 10h1.7m-2.7 10h1.7m-8.7 -3h1.7m-18.7 -4h1.7m27.3 6h1.7m-22.7 14h1.7m-10.7 -21h1.7m48.3 -11h1.7m-39.7 14h1.7m22.3 -21h1.7m21.3 24h1.7m-45.7 -11h1.7m-33.7 21h1.7m73.3 -29h1.7m8.3 -21h1.7m-57.7 28h1.7m-17.7 12h1.7m38.3 -26h1.7m22.3 -4h1.7m-12.7 14h1.7m-23.7 2h1.7m-5.7 5h1.7m-17.7 -2h1.7m23.3 -6h1.7m-14.7 6h1.7m-5.7 -12h1.7m40.3 9h1.7m-25.7 1h1.7m11.3 -10h1.7m6.3 17h1.7m-19.7 -7h1.7m-16.7 -6h1.7m12.3 -9h1.7m-17.7 45h1.7m-4.7 -33h1.7m25.3 4h1.7m-29.7 -1h1.7m-13.7 22h1.7m-17.7 -9h1.7m37.3 -1h1.7m23.3 -19h1.7m-51.7 30h1.7m73.3 -60h1.7m-69.7 61h1.7m20.3 2h1.7m24.3 -44h1.7m-50.7 41h1.7m-1.7 -8h1.7m15.3 -17h1.7m1.3 -1h1.7m13.3 7h1.7m-62.7 22h1.7m62.3 -2h1.7m-14.7 -24h1.7m-20.7 0h1.7m-3.7 -10h1.7m28.3 19h1.7m6.3 -16h1.7m-42.7 -7h1.7m21.3 12h1.7m36.3 0h1.7m-39.7 18h1.7m-0.7 -23h1.7m-0.7 13h1.7m4.3 -16h1.7m-2.7 17h1.7m-7.7 -15h1.7m-1.7 15h1.7m-26.7 1h1.7m17.3 -6h1.7m10.3 3h1.7m-16.7 1h1.7m31.3 -12h1.7m-40.7 12h1.7m7.3 0h1.7m-9.7 -7h1.7m33.3 0h1.7m-25.7 -3h1.7m11.3 -17h1.7m-32.7 35h1.7m36.3 -30h1.7m26.3 -25h1.7m-66.7 54h1.7m44.3 -23h1.7m-25.7 13h1.7m-19.7 6h1.7m5.3 -3h1.7m0.3 1h1.7m-10.7 -11h1.7m8.3 -1h1.7m-2.7 1h1.7m-24.7 7h1.7m39.3 0h1.7m-18.7 23h1.7m47.3 -21h1.7m-20.7 -21h1.7m-16.7 23h1.7m-27.7 1h1.7m40.3 -26h1.7m-68.7 29h1.7m22.3 21h1.7m46.3 -37h1.7m-35.7 -6h1.7m23.3 -7h1.7m-55.7 37h1.7m50.3 -15h1.7m-19.7 -10h1.7m-23.7 17h1.7m27.3 -21h1.7m-27.7 4h1.7m20.3 30h1.7m10.3 -34h1.7m-3.7 -4h1.7m-15.7 13h1.7m10.3 -16h1.7m-20.7 19h1.7m2.3 -5h1.7m-11.7 21h1.7m19.3 -15h1.7m-21.7 8h1.7m9.3 -9h1.7m-2.7 -6h1.7m-3.7 14h1.7m9.3 -9h1.7m3.3 -14h1.7m-2.7 7h1.7m-21.7 30h1.7m-36.7 -20h1.7m47.3 -2h1.7m3.3 6h1.7m7.3 -28h1.7m-43.7 49h1.7m-9.7 -23h1.7m79.3 -42h1.7m-58.7 49h1.7m-28.7 -9h1.7m40.3 2h1.7m19.3 -17h1.7m-48.7 10h1.7m48.3 -9h1.7m-21.7 -10h1.7m-17.7 26h1.7m31.3 -18h1.7m-53.7 24h1.7m36.3 -6h1.7m5.3 -15h1.7m-14.7 -2h1.7m4.3 12h1.7m-24.7 1h1.7m-22.7 5h1.7m26.3 4h1.7m-9.7 -24h1.7m47.3 15h1.7m-62.7 -22h1.7m31.3 16h1.7m-25.7 31h1.7m-20.7 -34h1.7m67.3 7h1.7m-37.7 -1h1.7m1.3 19h1.7m-17.7 -14h1.7m-44.7 18h1.7m65.3 -20h1.7m-33.7 -11h1.7m27.3 16h1.7m13.3 -27h1.7m-62.7 41h1.7m23.3 -17h1.7m-14.7 1h1.7m29.3 3h1.7m-25.7 21h1.7m-21.7 -1h1.7m54.3 -30h1.7m-19.7 -9h1.7m-10.7 22h1.7m-13.7 4h1.7m16.3 -8h1.7m-4.7 -26h1.7m40.3 -6h1.7m-46.7 24h1.7m-4.7 12h1.7m7.3 -11h1.7m14.3 -23h1.7m1.3 25h1.7m-16.7 10h1.7m-48.7 24h1.7m41.3 4h1.7m38.3 -57h1.7m-34.7 5h1.7m-27.7 29h1.7m7.3 -11h1.7m51.3 -13h1.7m-28.7 6h1.7m-23.7 -9h1.7m51.3 -13h1.7m-28.7 21h1.7m-19.7 7h1.7m-34.7 6h1.7m51.3 -16h1.7m-15.7 16h1.7m17.3 -2h1.7m6.3 7h1.7m-49.7 -14h1.7m30.3 -21h1.7m-5.7 -12h1.7m-10.7 9h1.7m-4.7 24h1.7m-39.7 13h1.7m14.3 -6h1.7m1.3 -10h1.7m7.3 6h1.7m-19.7 -1h1.7m-5.7 26h1.7m39.3 -34h1.7m52.3 -30h1.7m-88.7 30h1.7m4.3 19h1.7m-7.7 -5h1.7m4.3 -14h1.7m21.3 21h1.7m-15.7 -27h1.7m40.3 -1h1.7m-27.7 -21h1.7m-19.7 48h1.7m-45.7 17h1.7m85.3 -17h1.7m-35.7 -2h1.7m37.3 -37h1.7m-83.7 30h1.7m25.3 11h1.7m27.3 -29h1.7m-11.7 12h1.7m-37.7 2h1.7m57.3 -15h1.7m-26.7 11h1.7m-14.7 16h1.7m22.3 -43h1.7m-40.7 46h1.7m38.3 -11h1.7m-30.7 -3h1.7m38.3 -14h1.7m-24.7 4h1.7m-28.7 10h1.7m39.3 -4h1.7m-59.7 25h1.7m28.3 -37h1.7m-8.7 19h1.7m36.3 -26h1.7m-20.7 10h1.7m-11.7 32h1.7m8.3 -32h1.7m13.3 -6h1.7m-0.7 21h1.7m-2.7 8h1.7m-14.7 -15h1.7m-54.7 9h1.7m93.3 -30h1.7m-19.7 29h1.7m-3.7 -17h1.7m-65.7 17h1.7m69.3 -12h1.7m-48.7 24h1.7m-8.7 -18h1.7m26.3 -28h1.7m-2.7 34h1.7m-27.7 -3h1.7m28.3 -9h1.7m23.3 -13h1.7m-37.7 31h1.7m-27.7 -5h1.7m27.3 8h1.7m25.3 -25h1.7m-23.7 -2h1.7m-15.7 17h1.7m6.3 7h1.7m35.3 -6h1.7m-58.7 -14h1.7m42.3 0h1.7m-10.7 2h1.7m12.3 -13h1.7m-40.7 20h1.7m4.3 6h1.7m22.3 -11h1.7m-14.7 14h1.7m15.3 -19h1.7m-57.7 10h1.7m-6.7 -2h1.7m41.3 -2h1.7m-1.7 -22h1.7m-25.7 46h1.7m32.3 -32h1.7m8.3 -23h1.7m-52.7 45h1.7m42.3 -16h1.7m-4.7 3h1.7m-12.7 6h1.7m1.3 8h1.7m15.3 -17h1.7m-53.7 13h1.7m19.3 -11h1.7m6.3 10h1.7m-7.7 -27h1.7m-7.7 -2h1.7m3.3 29h1.7m3.3 -3h1.7m-1.7 -3h1.7m33.3 -7h1.7m-2.7 17h1.7m-39.7 -14h1.7m-11.7 -6h1.7m-8.7 7h1.7m40.3 -8h1.7m-45.7 27h1.7m22.3 -5h1.7m12.3 -13h1.7m1.3 -14h1.7m-72.7 58h1.7m61.3 -67h1.7m-17.7 13h1.7m18.3 -18h1.7m-35.7 30h1.7m13.3 0h1.7m31.3 -25h1.7m-8.7 11h1.7m-34.7 20h1.7m7.3 -4h1.7m23.3 -16h1.7m-54.7 11h1.7m1.3 35h1.7m56.3 -37h1.7m-12.7 5h1.7m-0.7 7h1.7m-39.7 -2h1.7m28.3 -20h1.7m-27.7 8h1.7m-0.7 11h1.7m-6.7 12h1.7m1.3 -11h1.7m37.3 -18h1.7m-41.7 8h1.7m37.3 -10h1.7m-19.7 -13h1.7m3.3 38h1.7m11.3 -17h1.7m-5.7 -17h1.7m-30.7 46h1.7m-10.7 -4h1.7m7.3 -10h1.7m46.3 -8h1.7m-19.7 17h1.7m-12.7 -23h1.7m41.3 -16h1.7m-66.7 17h1.7m1.3 -12h1.7m-13.7 19h1.7m36.3 -28h1.7m-10.7 24h1.7m-34.7 21h1.7m-9.7 6h1.7m52.3 -23h1.7m23.3 -33h1.7m-36.7 5h1.7m-7.7 35h1.7m-9.7 2h1.7m48.3 -29h1.7m-43.7 9h1.7m-27.7 32h1.7m22.3 -34h1.7m65.3 -10h1.7m-95.7 17h1.7m4.3 12h1.7m5.3 2h1.7m35.3 -20h1.7m-50.7 33h1.7m13.3 -3h1.7m9.3 -28h1.7m34.3 -22h1.7m-57.7 43h1.7m43.3 -41h1.7m-36.7 27h1.7m17.3 -3h1.7m2.3 -13h1.7m-0.7 7h1.7m1.3 -13h1.7m-28.7 41h1.7m33.3 0h1.7m-45.7 -27h1.7m55.3 10h1.7m-53.7 -3h1.7m52.3 -5h1.7m-74.7 25h1.7m44.3 -32h1.7m-21.7 39h1.7m11.3 -18h1.7m-7.7 4h1.7m-7.7 0h1.7m-36.7 -18h1.7m36.3 -9h1.7m-10.7 8h1.7m8.3 0h1.7m3.3 16h1.7m-9.7 -8h1.7m-15.7 -1h1.7m14.3 5h1.7m11.3 4h1.7m4.3 -4h1.7m-37.7 -13h1.7m48.3 -4h1.7m-32.7 2h1.7m6.3 13h1.7m15.3 -12h1.7m-37.7 8h1.7m8.3 7h1.7m20.3 -12h1.7m-8.7 24h1.7m-27.7 -6h1.7m-1.7 -3h1.7m6.3 -18h1.7m31.3 -10h1.7m0.3 -11h1.7m-15.7 19h1.7m4.3 20h1.7m-22.7 -18h1.7m-2.7 19h1.7m-10.7 1h1.7m16.3 -5h1.7m7.3 -26h1.7m-32.7 27h1.7m-10.7 22h1.7m13.3 -44h1.7m10.3 14h1.7m-12.7 0h1.7m7.3 -16h1.7m-4.7 39h1.7m-23.7 -16h1.7m46.3 -11h1.7m-26.7 4h1.7m-24.7 6h1.7m22.3 6h1.7m-13.7 -5h1.7m13.3 -31h1.7m27.3 15h1.7m-24.7 5h1.7m-30.7 18h1.7m20.3 0h1.7m-14.7 -14h1.7m7.3 13h1.7m-7.7 13h1.7m14.3 -23h1.7m-51.7 14h1.7m48.3 -18h1.7m6.3 4h1.7m-31.7 11h1.7m8.3 0h1.7m9.3 -10h1.7m7.3 11h1.7m19.3 -42h1.7m-28.7 18h1.7m-4.7 13h1.7m-12.7 -11h1.7m23.3 -15h1.7m-2.7 26h1.7m-29.7 11h1.7m5.3 -17h1.7m-22.7 4h1.7m12.3 -8h1.7m-16.7 18h1.7m5.3 -2h1.7m9.3 -16h1.7m-18.7 39h1.7m28.3 -48h1.7m-5.7 17h1.7m-20.7 12h1.7m0.3 -23h1.7m15.3 22h1.7m2.3 -14h1.7m10.3 -25h1.7m-29.7 29h1.7m25.3 5h1.7m-32.7 -10h1.7m-4.7 9h1.7m-8.7 5h1.7m45.3 -9h1.7m-8.7 -5h1.7m-26.7 -1h1.7m54.3 13h1.7m-34.7 -22h1.7m-25.7 26h1.7m-29.7 7h1.7m2.3 -2h1.7m14.3 -9h1.7m11.3 -3h1.7m-26.7 9h1.7m63.3 -7h1.7m-46.7 -7h1.7m-15.7 19h1.7m45.3 -33h1.7m-15.7 4h1.7m-43.7 20h1.7m26.3 -7h1.7m-10.7 5h1.7m18.3 -25h1.7m-15.7 11h1.7m-9.7 26h1.7m32.3 -32h1.7m-50.7 -8h1.7m3.3 9h1.7m17.3 -10h1.7m0.3 -6h1.7m3.3 16h1.7m10.3 -2h1.7m-0.7 3h1.7m-3.7 -18h1.7m-7.7 18h1.7m-18.7 5h1.7m-11.7 8h1.7m35.3 -12h1.7m-21.7 22h1.7m8.3 -25h1.7m-47.7 37h1.7m27.3 -25h1.7m28.3 -10h1.7m-18.7 44h1.7m-51.7 -51h1.7m62.3 19h1.7m-6.7 8h1.7m-38.7 5h1.7m36.3 -31h1.7m-22.7 39h1.7m18.3 -30h1.7m-2.7 10h1.7m-49.7 4h1.7m78.3 -39h1.7m-87.7 29h1.7m19.3 7h1.7m0.3 -2h1.7m34.3 17h1.7m22.3 -12h1.7m-28.7 -19h1.7m-49.7 0h1.7m23.3 4h1.7m16.3 17h1.7m13.3 -20h1.7m-10.7 15h1.7m-2.7 -12h1.7m-18.7 11h1.7m15.3 8h1.7m-8.7 12h1.7m5.3 -34h1.7m-16.7 -2h1.7m19.3 19h1.7m-23.7 -5h1.7m3.3 -4h1.7m-7.7 -4h1.7m-43.7 37h1.7m67.3 -38h1.7m-6.7 -31h1.7m-13.7 23h1.7m0.3 5h1.7m-20.7 13h1.7m-4.7 -19h1.7m23.3 13h1.7m-8.7 7h1.7m-26.7 10h1.7m-2.7 13h1.7m8.3 -15h1.7m28.3 -34h1.7m-41.7 21h1.7m20.3 -15h1.7m2.3 18h1.7m15.3 -10h1.7m-44.7 0h1.7m17.3 9h1.7m-2.7 6h1.7m-20.7 3h1.7m10.3 -26h1.7m0.3 18h1.7m39.3 -24h1.7m-36.7 0h1.7m-16.7 42h1.7m4.3 -34h1.7m29.3 -1h1.7m-28.7 17h1.7m-28.7 32h1.7m40.3 -47h1.7m-22.7 29h1.7m-10.7 -11h1.7m14.3 -12h1.7m21.3 -14h1.7m-28.7 11h1.7m-15.7 36h1.7m-8.7 -18h1.7m33.3 -1h1.7m6.3 -24h1.7m-27.7 24h1.7m-18.7 -13h1.7m31.3 21h1.7m-51.7 -8h1.7m54.3 -24h1.7m1.3 16h1.7m-63.7 34h1.7m17.3 -36h1.7m14.3 5h1.7m-39.7 29h1.7m72.3 -31h1.7m-27.7 32h1.7m-0.7 -6h1.7m-10.7 -24h1.7m20.3 -8h1.7m-31.7 7h1.7m7.3 -7h1.7m40.3 -20h1.7m-32.7 28h1.7m15.3 -11h1.7m-7.7 5h1.7m9.3 7h1.7m-18.7 5h1.7m4.3 -6h1.7m-43.7 13h1.7m42.3 -23h1.7m-26.7 22h1.7m-6.7 -9h1.7m43.3 -5h1.7m-1.7 3h1.7m5.3 -23h1.7m-28.7 22h1.7m-0.7 -16h1.7m-12.7 12h1.7m7.3 10h1.7m-0.7 -14h1.7m-30.7 10h1.7m28.3 -2h1.7m11.3 -6h1.7m-30.7 9h1.7m-16.7 15h1.7m17.3 -26h1.7m13.3 0h1.7m-17.7 10h1.7m-3.7 -18h1.7m30.3 12h1.7m-31.7 19h1.7m-12.7 -11h1.7m5.3 -1h1.7m-24.7 3h1.7m0.3 2h1.7m28.3 -7h1.7m48.3 -8h1.7m-86.7 15h1.7m27.3 22h1.7m8.3 -34h1.7m-17.7 -2h1.7m42.3 8h1.7m-22.7 10h1.7m-8.7 -8h1.7m21.3 -24h1.7m-22.7 -1h1.7m46.3 22h1.7m-42.7 -25h1.7m-42.7 25h1.7m37.3 15h1.7m8.3 -14h1.7m-40.7 7h1.7m-9.7 -7h1.7m23.3 -20h1.7m8.3 10h1.7m-21.7 14h1.7m4.3 5h1.7m-1.7 -10h1.7m-27.7 -6h1.7m25.3 -14h1.7m-1.7 25h1.7m-15.7 -9h1.7m14.3 -9h1.7m2.3 18h1.7m21.3 -21h1.7m-65.7 29h1.7m41.3 -37h1.7m9.3 21h1.7m-59.7 34h1.7m65.3 -46h1.7m-5.7 -10h1.7m-11.7 18h1.7m-30.7 9h1.7m-31.7 3h1.7m39.3 3h1.7m33.3 -25h1.7m-48.7 11h1.7m32.3 19h1.7m-52.7 -18h1.7m55.3 3h1.7m6.3 -9h1.7m-38.7 20h1.7m27.3 -19h1.7m-19.7 -2h1.7m-26.7 -2h1.7m15.3 1h1.7m21.3 8h1.7m-33.7 16h1.7m22.3 -18h1.7m-37.7 6h1.7m14.3 -11h1.7m13.3 -1h1.7m22.3 7h1.7m-15.7 -1h1.7m-13.7 0h1.7m-3.7 -10h1.7m-19.7 16h1.7m-1.7 3h1.7m-18.7 12h1.7m20.3 -8h1.7m11.3 -11h1.7m21.3 0h1.7m-13.7 -18h1.7m-16.7 24h1.7m-26.7 9h1.7m20.3 10h1.7m-9.7 -32h1.7m-22.7 21h1.7m61.3 -41h1.7m-35.7 21h1.7m21.3 -29h1.7m-9.7 45h1.7m-16.7 6h1.7m-4.7 -10h1.7m14.3 -14h1.7m3.3 7h1.7m32.3 -21h1.7m-34.7 33h1.7m-4.7 -33h1.7m-4.7 9h1.7m-10.7 27h1.7m5.3 -1h1.7m4.3 -3h1.7m-12.7 9h1.7m-27.7 -5h1.7m31.3 -17h1.7m-20.7 -7h1.7m12.3 19h1.7m-21.7 5h1.7m-12.7 8h1.7m34.3 -32h1.7m34.3 -22h1.7m-28.7 28h1.7m-13.7 13h1.7m-35.7 5h1.7m-5.7 -6h1.7m13.3 -12h1.7m5.3 17h1.7m0.3 -4h1.7m-24.7 7h1.7m34.3 -13h1.7m-0.7 2h1.7m-6.7 -1h1.7m-5.7 -9h1.7m32.3 4h1.7m-56.7 23h1.7m16.3 -24h1.7m-27.7 2h1.7m38.3 3h1.7m-12.7 1h1.7m13.3 -12h1.7m-29.7 -9h1.7m45.3 13h1.7m12.3 0h1.7m-1.7 -20h1.7m-81.7 51h1.7m5.3 -8h1.7m51.3 -29h1.7m-28.7 5h1.7m-2.7 6h1.7m-11.7 -6h1.7m33.3 24h1.7m-29.7 -8h1.7m-10.7 0h1.7m-4.7 8h1.7m52.3 -50h1.7m-46.7 26h1.7m50.3 -20h1.7m-29.7 9h1.7m-0.7 5h1.7m-32.7 23h1.7m4.3 -7h1.7m62.3 -36h1.7m-51.7 9h1.7m-35.7 34h1.7m32.3 -15h1.7m2.3 3h1.7m-61.7 26h1.7m58.3 -22h1.7m13.3 -33h1.7m-10.7 15h1.7m20.3 8h1.7m-44.7 -5h1.7m31.3 5h1.7m-49.7 8h1.7m22.3 8h1.7m-5.7 -8h1.7m6.3 20h1.7m-37.7 -22h1.7m11.3 31h1.7m15.3 -35h1.7m3.3 2h1.7m-12.7 6h1.7m47.3 -9h1.7m-46.7 3h1.7m3.3 -1h1.7m34.3 0h1.7m-35.7 1h1.7m-10.7 13h1.7m-14.7 9h1.7m9.3 -13h1.7m-23.7 3h1.7m46.3 -13h1.7m-21.7 0h1.7m25.3 -22h1.7m-16.7 15h1.7m-37.7 27h1.7m51.3 -24h1.7m-21.7 13h1.7m6.3 -14h1.7m9.3 -3h1.7m-27.7 3h1.7m13.3 9h1.7m-53.7 7h1.7m11.3 6h1.7m17.3 -25h1.7m24.3 7h1.7m-31.7 26h1.7m-3.7 2h1.7m26.3 -46h1.7m14.3 -2h1.7m-31.7 24h1.7m-6.7 6h1.7m-9.7 -7h1.7m-43.7 36h1.7m49.3 -20h1.7m30.3 -18h1.7m-18.7 -23h1.7m-10.7 15h1.7m-12.7 8h1.7m-17.7 3h1.7m55.3 -12h1.7m-39.7 4h1.7m-9.7 23h1.7m-28.7 11h1.7m57.3 -31h1.7m-19.7 18h1.7m4.3 -10h1.7m-68.7 27h1.7m80.3 -29h1.7m-40.7 10h1.7m16.3 -23h1.7m23.3 -19h1.7m-12.7 25h1.7m-6.7 19h1.7m-37.7 -30h1.7m26.3 21h1.7m-51.7 7h1.7m5.3 1h1.7m27.3 -7h1.7m29.3 -7h1.7m-44.7 28h1.7m45.3 -51h1.7m-21.7 20h1.7m-15.7 0h1.7m-12.7 13h1.7m-27.7 18h1.7m-5.7 -3h1.7m34.3 13h1.7m-6.7 -45h1.7m32.3 -4h1.7m17.3 -5h1.7m-44.7 21h1.7m36.3 -10h1.7m-39.7 8h1.7m8.3 -15h1.7m-15.7 28h1.7m7.3 -26h1.7m3.3 0h1.7m-6.7 8h1.7m8.3 24h1.7m-31.7 -15h1.7m18.3 -10h1.7m18.3 12h1.7m-36.7 5h1.7m0.3 -2h1.7m5.3 -11h1.7m26.3 25h1.7m-20.7 -29h1.7m-19.7 6h1.7m13.3 -8h1.7m5.3 7h1.7m-30.7 30h1.7m48.3 -27h1.7m-58.7 11h1.7m-19.7 4h1.7m58.3 -5h1.7m14.3 -14h1.7m-9.7 -1h1.7m-31.7 4h1.7m10.3 -5h1.7m-32.7 29h1.7m-8.7 -4h1.7m13.3 3h1.7m38.3 -34h1.7m-9.7 10h1.7m-9.7 -13h1.7m7.3 15h1.7m-44.7 27h1.7m40.3 -33h1.7m-3.7 -2h1.7m4.3 -16h1.7m-46.7 20h1.7m36.3 -4h1.7m-28.7 20h1.7m19.3 -9h1.7m-4.7 0h1.7m21.3 -7h1.7m-22.7 -7h1.7m48.3 -7h1.7m-44.7 24h1.7m-3.7 -6h1.7m-10.7 5h1.7m1.3 -12h1.7m12.3 13h1.7m-0.7 8h1.7m-37.7 -6h1.7m-5.7 2h1.7m36.3 -3h1.7m-17.7 -10h1.7m-10.7 16h1.7m6.3 -6h1.7m71.3 -31h1.7m-54.7 9h1.7m-34.7 26h1.7m48.3 -34h1.7m-55.7 23h1.7m23.3 -14h1.7m-26.7 33h1.7m25.3 -40h1.7m27.3 28h1.7m-36.7 4h1.7m-3.7 -16h1.7m-40.7 5h1.7m33.3 -8h1.7m-0.7 30h1.7m44.3 -44h1.7m-70.7 26h1.7m45.3 -23h1.7m-33.7 38h1.7m-6.7 -19h1.7m6.3 15h1.7m28.3 12h1.7m-7.7 -37h1.7m-9.7 18h1.7m-8.7 -16h1.7m-15.7 18h1.7m17.3 -3h1.7m0.3 -26h1.7m13.3 27h1.7m-18.7 -3h1.7m17.3 3h1.7m-25.7 -12h1.7m25.3 11h1.7m-44.7 -10h1.7m5.3 -2h1.7m-9.7 15h1.7m27.3 -26h1.7m-7.7 26h1.7m17.3 -8h1.7m-29.7 -29h1.7m-6.7 23h1.7m-5.7 -3h1.7m28.3 30h1.7m-40.7 -19h1.7m25.3 -5h1.7m18.3 -12h1.7m-25.7 12h1.7m12.3 -8h1.7m-26.7 6h1.7m4.3 6h1.7m3.3 19h1.7m-13.7 -34h1.7m20.3 4h1.7m-26.7 22h1.7m24.3 -33h1.7m-2.7 4h1.7m-58.7 42h1.7m65.3 -52h1.7m-6.7 16h1.7m13.3 1h1.7m6.3 -5h1.7m-8.7 14h1.7m-41.7 -15h1.7m18.3 24h1.7m8.3 -25h1.7m-47.7 22h1.7m25.3 -9h1.7m0.3 12h1.7m-5.7 -6h1.7m47.3 -26h1.7m-51.7 20h1.7m-39.7 34h1.7m53.3 -61h1.7m18.3 27h1.7m-41.7 35h1.7m25.3 -51h1.7m-1.7 6h1.7m-34.7 21h1.7m3.3 -11h1.7m18.3 -21h1.7m-26.7 43h1.7m4.3 0h1.7m-11.7 -1h1.7m-6.7 16h1.7m4.3 -44h1.7m25.3 13h1.7m-44.7 15h1.7m3.3 -21h1.7m29.3 -4h1.7m-35.7 8h1.7m23.3 11h1.7m19.3 -27h1.7m-42.7 28h1.7m13.3 -4h1.7m-29.7 17h1.7m25.3 -28h1.7m27.3 -3h1.7m-34.7 8h1.7m-21.7 14h1.7m56.3 -32h1.7m-24.7 -7h1.7m20.3 6h1.7m3.3 -26h1.7m-60.7 39h1.7m35.3 -7h1.7m-32.7 17h1.7m35.3 -3h1.7m-61.7 9h1.7m47.3 -9h1.7m-32.7 25h1.7m4.3 -22h1.7m74.3 -16h1.7m-65.7 9h1.7m-4.7 -7h1.7m20.3 -4h1.7m-48.7 33h1.7m33.3 -39h1.7m16.3 9h1.7m-82.7 51h1.7m48.3 -51h1.7m1.3 -3h1.7m4.3 16h1.7m-36.7 1h1.7m49.3 -18h1.7m4.3 -8h1.7m14.3 9h1.7m-29.7 -6h1.7m-16.7 11h1.7m18.3 8h1.7m24.3 5h1.7m-60.7 -6h1.7m38.3 -28h1.7m-50.7 48h1.7m19.3 -13h1.7m2.3 -22h1.7m-2.7 23h1.7m-22.7 -5h1.7m14.3 -1h1.7m-6.7 -13h1.7m-5.7 40h1.7m42.3 -14h1.7m18.3 -35h1.7m-39.7 -1h1.7m-18.7 32h1.7m57.3 -20h1.7m-77.7 10h1.7m25.3 2h1.7m-47.7 10h1.7m46.3 -30h1.7m-6.7 35h1.7m12.3 -40h1.7m-13.7 20h1.7m-12.7 23h1.7m-13.7 -33h1.7m36.3 -14h1.7m-17.7 26h1.7m4.3 9h1.7m-15.7 2h1.7m51.3 -41h1.7m-33.7 13h1.7m-22.7 33h1.7m8.3 -40h1.7m-43.7 9h1.7m19.3 28h1.7m34.3 -22h1.7m-9.7 11h1.7m10.3 4h1.7m-23.7 -13h1.7m16.3 19h1.7m-31.7 -8h1.7m12.3 9h1.7m-0.7 -23h1.7m-0.7 33h1.7m74.3 -39h1.7m-84.7 45h1.7m-5.7 -31h1.7m-21.7 10h1.7m60.3 -24h1.7m-19.7 8h1.7m-0.7 -16h1.7m-33.7 32h1.7m11.3 -6h1.7m49.3 -40h1.7m-22.7 17h1.7m-30.7 47h1.7m15.3 -27h1.7m-19.7 -16h1.7m35.3 -9h1.7m-37.7 20h1.7m-7.7 -5h1.7m-30.7 31h1.7m50.3 -7h1.7m3.3 -30h1.7m-9.7 29h1.7m-17.7 -4h1.7m43.3 -22h1.7m-36.7 -12h1.7m-10.7 36h1.7m-27.7 16h1.7m57.3 -44h1.7m-17.7 7h1.7m-18.7 30h1.7m14.3 -27h1.7m18.3 -20h1.7m-33.7 36h1.7m-46.7 -4h1.7m55.3 -12h1.7m-42.7 32h1.7m38.3 -49h1.7m-67.7 32h1.7m46.3 -11h1.7m-16.7 0h1.7m3.3 11h1.7m26.3 -32h1.7m9.3 1h1.7m25.3 3h1.7m-52.7 16h1.7m12.3 10h1.7m20.3 -20h1.7m-50.7 30h1.7m3.3 -12h1.7m14.3 -4h1.7m-9.7 4h1.7m13.3 -7h1.7m-38.7 9h1.7m51.3 -21h1.7m-13.7 2h1.7m-17.7 19h1.7m21.3 -2h1.7m-24.7 -11h1.7m11.3 14h1.7m-28.7 -14h1.7m46.3 11h1.7m-30.7 9h1.7m16.3 -15h1.7m-18.7 29h1.7m4.3 -34h1.7m22.3 7h1.7m-59.7 -13h1.7m34.3 17h1.7m37.3 -43h1.7m-58.7 34h1.7m18.3 1h1.7m25.3 -6h1.7m-32.7 3h1.7m7.3 16h1.7m1.3 -50h1.7m-7.7 51h1.7m-11.7 4h1.7m9.3 -21h1.7m-17.7 15h1.7m2.3 2h1.7m-3.7 7h1.7m30.3 -28h1.7m-49.7 -1h1.7m8.3 35h1.7m3.3 -7h1.7m14.3 -26h1.7m-46.7 3h1.7m37.3 9h1.7m-1.7 -12h1.7m28.3 18h1.7m-60.7 1h1.7m33.3 -19h1.7m-31.7 12h1.7m4.3 13h1.7m-6.7 -18h1.7m13.3 15h1.7m-21.7 -13h1.7m65.3 -34h1.7m-42.7 57h1.7m7.3 -46h1.7m-13.7 1h1.7m-4.7 43h1.7m6.3 -43h1.7m16.3 30h1.7m-8.7 1h1.7m0.3 -20h1.7m-30.7 2h1.7m3.3 11h1.7m5.3 -2h1.7m-36.7 13h1.7m44.3 -3h1.7m-54.7 -8h1.7m36.3 -11h1.7m-28.7 11h1.7m37.3 -14h1.7m-30.7 15h1.7m-25.7 13h1.7m56.3 -4h1.7m-27.7 -22h1.7m-37.7 31h1.7m33.3 -4h1.7m0.3 1h1.7m49.3 -29h1.7m-49.7 3h1.7m-7.7 43h1.7m-12.7 -11h1.7m47.3 -34h1.7m3.3 -11h1.7m-23.7 35h1.7m-26.7 -17h1.7m16.3 3h1.7m8.3 -20h1.7m-6.7 5h1.7m2.3 23h1.7m-65.7 8h1.7m67.3 -23h1.7m-45.7 44h1.7m31.3 -53h1.7m4.3 3h1.7m-22.7 39h1.7m-25.7 -6h1.7m48.3 -41h1.7m-32.7 30h1.7m-1.7 -2h1.7m-5.7 14h1.7m16.3 -22h1.7m-16.7 -9h1.7m13.3 4h1.7m6.3 2h1.7m-13.7 -12h1.7m-2.7 14h1.7m35.3 -6h1.7m-44.7 7h1.7m6.3 -3h1.7m16.3 4h1.7m-31.7 -9h1.7m11.3 8h1.7m-20.7 5h1.7m-6.7 18h1.7m40.3 -38h1.7m-5.7 31h1.7m-53.7 5h1.7m33.3 -31h1.7m-20.7 31h1.7m10.3 -15h1.7m40.3 -28h1.7m-4.7 4h1.7m-8.7 29h1.7m-12.7 -29h1.7m-21.7 18h1.7m27.3 -29h1.7m-10.7 8h1.7m20.3 20h1.7m-46.7 8h1.7m7.3 -16h1.7m-13.7 14h1.7m-3.7 6h1.7m35.3 -8h1.7m-26.7 -13h1.7m10.3 -4h1.7m-19.7 31h1.7m29.3 8h1.7m-56.7 2h1.7m40.3 -16h1.7m-19.7 -25h1.7m27.3 19h1.7m-19.7 -11h1.7m28.3 -37h1.7m-47.7 29h1.7m-6.7 36h1.7m48.3 -48h1.7m-34.7 35h1.7m-21.7 -5h1.7m21.3 -1h1.7m-36.7 21h1.7m64.3 -43h1.7m-34.7 23h1.7m1.3 4h1.7m-1.7 1h1.7m8.3 -17h1.7m12.3 -4h1.7m-29.7 16h1.7m-25.7 10h1.7m63.3 -26h1.7m-66.7 25h1.7m27.3 -17h1.7m-14.7 6h1.7m25.3 1h1.7m-23.7 10h1.7m60.3 -20h1.7m-78.7 9h1.7m19.3 -30h1.7m9.3 26h1.7m23.3 2h1.7m-74.7 32h1.7m18.3 -24h1.7m14.3 1h1.7m-7.7 -13h1.7m9.3 14h1.7m6.3 -11h1.7m5.3 -13h1.7m-40.7 16h1.7m5.3 -1h1.7m55.3 5h1.7m-32.7 -12h1.7m36.3 -4h1.7m-71.7 22h1.7m15.3 5h1.7m-38.7 5h1.7m39.3 -33h1.7m-14.7 11h1.7m2.3 25h1.7m8.3 -2h1.7m19.3 -22h1.7m-46.7 -1h1.7m34.3 13h1.7m-30.7 -1h1.7m31.3 -28h1.7m0.3 -6h1.7m-18.7 8h1.7m-15.7 9h1.7m5.3 3h1.7m-16.7 6h1.7m4.3 16h1.7m-10.7 -25h1.7m34.3 6h1.7m-13.7 12h1.7m43.3 -21h1.7m-31.7 -16h1.7m1.3 19h1.7m-46.7 5h1.7m36.3 2h1.7m-9.7 -2h1.7m24.3 -16h1.7m-39.7 30h1.7m-17.7 -10h1.7m49.3 1h1.7m-16.7 -19h1.7m-39.7 22h1.7m29.3 -25h1.7m18.3 9h1.7m-41.7 -7h1.7m11.3 16h1.7m12.3 -23h1.7m-26.7 31h1.7m44.3 -22h1.7m-29.7 -4h1.7m20.3 -9h1.7m-11.7 30h1.7m-5.7 -17h1.7m-20.7 24h1.7m37.3 -23h1.7m-51.7 17h1.7m15.3 -7h1.7m-10.7 7h1.7m7.3 -13h1.7m54.3 -11h1.7m-87.7 33h1.7m6.3 -9h1.7m8.3 -11h1.7m4.3 4h1.7m4.3 1h1.7m21.3 -4h1.7m-33.7 26h1.7m23.3 -33h1.7m-44.7 -4h1.7m11.3 30h1.7m19.3 -25h1.7m10.3 32h1.7m-32.7 -5h1.7m15.3 -28h1.7m15.3 5h1.7m-75.7 30h1.7m21.3 -37h1.7m26.3 25h1.7m16.3 -16h1.7m-20.7 8h1.7m-27.7 16h1.7m46.3 -21h1.7m-27.7 0h1.7m18.3 11h1.7m6.3 -16h1.7m-2.7 -15h1.7m-14.7 14h1.7m8.3 -17h1.7m-7.7 25h1.7m-4.7 -8h1.7m-39.7 16h1.7m11.3 -11h1.7m26.3 -9h1.7m-31.7 7h1.7m20.3 -13h1.7m-10.7 36h1.7m-4.7 -21h1.7m-2.7 11h1.7m6.3 2h1.7m38.3 -31h1.7m-34.7 31h1.7m3.3 -11h1.7m-18.7 16h1.7m-6.7 -9h1.7m-6.7 -19h1.7m12.3 19h1.7m10.3 -6h1.7m-13.7 7h1.7m17.3 -6h1.7m-25.7 22h1.7m14.3 -28h1.7m-8.7 -19h1.7m17.3 29h1.7m-10.7 -26h1.7m-15.7 25h1.7m10.3 -2h1.7m-5.7 2h1.7m7.3 -32h1.7m5.3 10h1.7m-43.7 18h1.7m-3.7 9h1.7m59.3 -31h1.7m-19.7 16h1.7m-12.7 3h1.7m-9.7 11h1.7m7.3 -13h1.7m-7.7 13h1.7m-15.7 -35h1.7m17.3 21h1.7m17.3 24h1.7m-36.7 -9h1.7m9.3 -15h1.7m1.3 2h1.7m-34.7 28h1.7m22.3 -16h1.7m16.3 -3h1.7m-1.7 1h1.7m-29.7 -34h1.7m12.3 21h1.7m-32.7 25h1.7m30.3 -30h1.7m-48.7 23h1.7m34.3 -5h1.7m-5.7 5h1.7m24.3 1h1.7m-35.7 5h1.7m-0.7 -7h1.7m15.3 -12h1.7m-12.7 -6h1.7m19.3 -9h1.7m7.3 33h1.7m-8.7 -26h1.7m-4.7 3h1.7m-3.7 -10h1.7m-5.7 -9h1.7m-28.7 43h1.7m12.3 -33h1.7m-12.7 11h1.7m29.3 5h1.7m-23.7 13h1.7m21.3 -15h1.7m-20.7 -7h1.7m9.3 22h1.7m-20.7 -8h1.7m38.3 -5h1.7m-3.7 -5h1.7m-16.7 15h1.7m-6.7 -14h1.7m8.3 -10h1.7m-11.7 5h1.7m4.3 -6h1.7m-13.7 18h1.7m12.3 6h1.7m27.3 -51h1.7m-5.7 21h1.7m-58.7 47h1.7m31.3 -39h1.7m-21.7 15h1.7m22.3 -11h1.7m-29.7 22h1.7m-8.7 -3h1.7m-19.7 26h1.7m49.3 -26h1.7m0.3 -14h1.7m-5.7 -5h1.7m-12.7 19h1.7m-17.7 -18h1.7m46.3 5h1.7m-39.7 14h1.7m-1.7 -11h1.7m13.3 -3h1.7m-20.7 23h1.7m35.3 -14h1.7m-14.7 9h1.7m2.3 -15h1.7m-30.7 9h1.7m7.3 -14h1.7m-67.7 29h1.7m111.3 -24h1.7m-76.7 -12h1.7m54.3 0h1.7m-13.7 18h1.7m31.3 -23h1.7m-23.7 19h1.7m-26.7 -16h1.7m12.3 -6h1.7m-26.7 36h1.7m19.3 -10h1.7m-3.7 3h1.7m-10.7 -4h1.7m-14.7 -6h1.7m13.3 -7h1.7m10.3 -5h1.7m3.3 15h1.7m-8.7 -7h1.7m-30.7 32h1.7m40.3 -21h1.7m-29.7 -7h1.7m6.3 3h1.7m-7.7 -4h1.7m-13.7 28h1.7m16.3 -21h1.7m-7.7 9h1.7m19.3 -8h1.7m-21.7 -16h1.7m-19.7 12h1.7m24.3 7h1.7m-2.7 1h1.7m-3.7 -34h1.7m-29.7 20h1.7m24.3 4h1.7m-1.7 -22h1.7m-1.7 7h1.7m5.3 2h1.7m-28.7 18h1.7m50.3 0h1.7m12.3 -34h1.7m-55.7 39h1.7m-12.7 6h1.7m30.3 -26h1.7m-32.7 28h1.7m21.3 -27h1.7m8.3 16h1.7m4.3 2h1.7m-22.7 -25h1.7m29.3 20h1.7m-29.7 4h1.7m-12.7 -10h1.7m15.3 3h1.7m-16.7 -5h1.7m41.3 -6h1.7m-27.7 15h1.7m-14.7 -10h1.7m10.3 -17h1.7m-18.7 5h1.7m-0.7 4h1.7m-1.7 25h1.7m14.3 -12h1.7m0.3 -16h1.7m-33.7 16h1.7m27.3 -3h1.7m-23.7 9h1.7m1.3 13h1.7m11.3 -20h1.7m-8.7 -2h1.7m-29.7 22h1.7m-20.7 -2h1.7m40.3 -23h1.7m-33.7 23h1.7m69.3 -18h1.7m-19.7 -4h1.7m10.3 -13h1.7m-24.7 3h1.7m15.3 29h1.7m-55.7 -12h1.7m47.3 -11h1.7m-3.7 -5h1.7m-5.7 14h1.7m-15.7 8h1.7m14.3 -29h1.7m-40.7 31h1.7m62.3 -22h1.7m-76.7 11h1.7m39.3 30h1.7m-6.7 -21h1.7m15.3 -15h1.7m14.3 -10h1.7m9.3 3h1.7m-67.7 12h1.7m34.3 8h1.7m-19.7 10h1.7m3.3 -30h1.7m-10.7 13h1.7m20.3 -10h1.7m-9.7 2h1.7m-3.7 7h1.7m16.3 -13h1.7m-16.7 -10h1.7m-22.7 24h1.7m20.3 -13h1.7m7.3 16h1.7m-5.7 14h1.7m2.3 -17h1.7m-20.7 -3h1.7m-0.7 10h1.7m6.3 5h1.7m29.3 -22h1.7m-42.7 3h1.7m33.3 3h1.7m-17.7 -11h1.7m0.3 34h1.7m-23.7 -26h1.7m-22.7 19h1.7m15.3 -18h1.7m-14.7 3h1.7m32.3 -2h1.7m-45.7 29h1.7m39.3 -8h1.7m-3.7 -19h1.7m6.3 8h1.7m34.3 -19h1.7m-76.7 37h1.7m17.3 -7h1.7m-9.7 1h1.7m37.3 -13h1.7m-13.7 -17h1.7m-28.7 26h1.7m-4.7 -16h1.7m34.3 8h1.7m-21.7 -12h1.7m-4.7 20h1.7m-0.7 -1h1.7m1.3 -18h1.7m-17.7 9h1.7m39.3 -18h1.7m-25.7 26h1.7m-28.7 -6h1.7m19.3 20h1.7m10.3 -27h1.7m2.3 -2h1.7m16.3 3h1.7m-17.7 16h1.7m-28.7 -30h1.7m11.3 13h1.7m1.3 17h1.7m-3.7 -21h1.7m1.3 11h1.7m-38.7 -1h1.7m25.3 -4h1.7m9.3 -18h1.7m18.3 20h1.7m-47.7 13h1.7m32.3 -4h1.7m-1.7 -21h1.7m-17.7 2h1.7m-0.7 3h1.7m-3.7 36h1.7m-11.7 -24h1.7m14.3 -10h1.7m-19.7 18h1.7m-13.7 -11h1.7m23.3 -13h1.7m35.3 -19h1.7m-30.7 30h1.7m-22.7 7h1.7m24.3 -12h1.7m25.3 6h1.7m-37.7 32h1.7m-43.7 -38h1.7m46.3 12h1.7m3.3 -26h1.7m-20.7 13h1.7m20.3 9h1.7m-22.7 -12h1.7m-21.7 18h1.7m49.3 -1h1.7m-42.7 -24h1.7m40.3 12h1.7m-39.7 -4h1.7m-42.7 50h1.7m72.3 -38h1.7m15.3 -6h1.7m-116.7 26h1.7m87.3 -1h1.7m-11.7 -15h1.7m41.3 -14h1.7m-40.7 46h1.7m40.3 -32h1.7m-102.7 11h1.7m44.3 -8h1.7m-7.7 -25h1.7m17.3 36h1.7m-41.7 -12h1.7m-20.7 -7h1.7m67.3 -3h1.7m-79.7 23h1.7m53.3 1h1.7m33.3 -30h1.7m28.3 15h1.7m-17.7 -4h1.7m2.3 12h1.7m-30.7 -11h1.7m-13.7 24h1.7m41.3 -4h1.7m-28.7 -19h1.7m-82.7 6h1.7m69.3 7h1.7m-8.7 4h1.7m-11.7 -17h1.7m0.3 12h1.7m-20.7 -3h1.7m64.3 -14h1.7m-35.7 -8h1.7m-14.7 -1h1.7m2.3 21h1.7m-0.7 10h1.7m56.3 -36h1.7m-28.7 23h1.7m-55.7 24h1.7m72.3 -30h1.7m-71.7 -8h1.7m82.3 41h1.7m-98.7 -32h1.7m58.3 -10h1.7m-17.7 -17h1.7m37.3 63h1.7m-81.7 -22h1.7m10.3 -3h1.7m3.3 11h1.7m-2.7 -39h1.7m7.3 23h1.7m9.3 12h1.7m-17.7 -13h1.7m14.3 32h1.7m-55.7 -12h1.7m45.3 -14h1.7m-17.7 -6h1.7m41.3 4h1.7m-16.7 -35h1.7m-19.7 49h1.7m46.3 -3h1.7m-71.7 1h1.7m41.3 -36h1.7m-0.7 41h1.7m-39.7 -25h1.7m108.3 3h1.7m-58.7 20h1.7m-76.7 -33h1.7m31.3 -9h1.7m35.3 1h1.7m-2.7 1h1.7m-64.7 1h1.7m68.3 5h1.7m-45.7 38h1.7m52.3 -26h1.7m-51.7 -36h1.7m39.3 68h1.7m-18.7 -51h1.7m-6.7 14h1.7m-5.7 -25h1.7m40.3 42h1.7m-28.7 -6h1.7m-52.7 -3h1.7m10.3 1h1.7m5.3 -7h1.7m-32.7 -2h1.7m56.3 4h1.7m-28.7 21h1.7m25.3 -24h1.7m12.3 9h1.7m-112.7 -6h1.7m82.3 37h1.7m-17.7 -63h1.7m6.3 -1h1.7m3.3 55h1.7m-70.7 -14h1.7m10.3 -10h1.7m33.3 26h1.7m26.3 -23h1.7m-9.7 -12h1.7m-25.7 -8h1.7m13.3 35h1.7m30.3 -6h1.7m-13.7 20h1.7m-8.7 -21h1.7m-84.7 6h1.7m57.3 -12h1.7m17.3 -18h1.7m-23.7 30h1.7m-15.7 -34h1.7m0.3 3h1.7m32.3 9h1.7m-22.7 27h1.7m49.3 5h1.7m-17.7 -37h1.7m-12.7 -15h1.7m15.3 17h1.7m-22.7 5h1.7m7.3 30h1.7m-34.7 2h1.7m-19.7 -34h1.7m66.3 10h1.7m-39.7 -1h1.7m-43.7 -6h1.7m61.3 -12h1.7m-18.7 -5h1.7m42.3 12h1.7m-44.7 22h1.7m32.3 -13h1.7m-9.7 -6h1.7m22.3 8h1.7m-71.7 0h1.7m68.3 -12h1.7m-86.7 17h1.7m52.3 -14h1.7m-13.7 -1h1.7m-10.7 -8h1.7m-5.7 -1h1.7m-9.7 10h1.7m37.3 32h1.7m22.3 -40h1.7m-69.7 27h1.7m6.3 -47h1.7m47.3 49h1.7m-24.7 8h1.7m-88.7 -3h1.7m55.3 -35h1.7m13.3 24h1.7m16.3 -29h1.7m15.3 36h1.7m-69.7 -21h1.7m45.3 5h1.7m-23.7 25h1.7m-14.7 -19h1.7m12.3 -19h1.7m40.3 27h1.7m-21.7 -16h1.7m26.3 5h1.7m-69.7 1h1.7m78.3 -7h1.7m-52.7 5h1.7m-27.7 -20h1.7m40.3 23h1.7m9.3 5h1.7m-33.7 10h1.7m-33.7 -12h1.7m79.3 -14h1.7m-39.7 16h1.7m-15.7 -29h1.7m-58.7 30h1.7m117.3 -5h1.7m-124.7 8h1.7m65.3 -43h1.7m16.3 52h1.7m6.3 -41h1.7m-37.7 45h1.7m84.3 -19h1.7m-55.7 -14h1.7m-74.7 4h1.7m65.3 -11h1.7m2.3 -8h1.7m28.3 0h1.7m-98.7 33h1.7m80.3 3h1.7m-16.7 14h1.7m-29.7 -49h1.7m57.3 15h1.7m-120.7 17h1.7m90.3 -14h1.7m-21.7 6h1.7m50.3 -8h1.7m-69.7 -12h1.7m57.3 11h1.7m-49.7 -1h1.7m-10.7 -10h1.7m-6.7 -3h1.7m14.3 11h1.7m-9.7 35h1.7m3.3 -32h1.7m-0.7 14h1.7m62.3 -9h1.7m-31.7 -18h1.7m-35.7 37h1.7m26.3 -31h1.7m-60.7 28h1.7m23.3 -5h1.7m70.3 -5h1.7m-119.7 -7h1.7m73.3 24h1.7m-44.7 -6h1.7m24.3 -23h1.7m-18.7 -2h1.7m0.3 4h1.7m30.3 10h1.7m-74.7 -18h1.7m66.3 -2h1.7m0.3 17h1.7m10.3 -39h1.7m29.3 49h1.7m-82.7 -12h1.7m68.3 20h1.7m-22.7 -12h1.7m-72.7 23h1.7m39.3 -32h1.7m5.3 -29h1.7m22.3 26h1.7m-22.7 -9h1.7m-14.7 29h1.7m-11.7 -4h1.7m52.3 -22h1.7m-39.7 20h1.7m-24.7 -13h1.7m5.3 -3h1.7m11.3 -27h1.7m36.3 21h1.7m19.3 6h1.7m-56.7 2h1.7m6.3 -30h1.7m27.3 42h1.7m-8.7 -23h1.7m5.3 29h1.7m-46.7 -32h1.7m50.3 -23h1.7m-54.7 31h1.7m-8.7 20h1.7m58.3 -30h1.7m-45.7 5h1.7m24.3 -5h1.7m-84.7 22h1.7m39.3 -22h1.7m-27.7 1h1.7m85.3 15h1.7m-62.7 28h1.7m40.3 -47h1.7m30.3 9h1.7m-40.7 -1h1.7m21.3 -8h1.7m-31.7 23h1.7m-19.7 -7h1.7m-25.7 5h1.7m67.3 2h1.7m-77.7 -1h1.7m68.3 6h1.7m-1.7 -26h1.7m-26.7 -5h1.7m-21.7 3h1.7m-32.7 35h1.7m-10.7 2h1.7m91.3 3h1.7m-45.7 -16h1.7m-1.7 -5h1.7m-57.7 36h1.7m122.3 -33h1.7m-99.7 1h1.7m41.3 22h1.7m-1.7 -22h1.7m-7.7 5h1.7m35.3 -2h1.7m-30.7 -24h1.7m-9.7 35h1.7m12.3 -44h1.7m17.3 46h1.7m-49.7 -18h1.7m-25.7 6h1.7m97.3 -1h1.7m-69.7 -18h1.7m44.3 42h1.7m-4.7 1h1.7m-5.7 -27h1.7m-86.7 -6h1.7m54.3 10h1.7m69.3 -20h1.7m-115.7 22h1.7m41.3 -31h1.7m-34.7 7h1.7m32.3 11h1.7m-46.7 8h1.7m7.3 2h1.7m93.3 -8h1.7m-101.7 -42h1.7m51.3 62h1.7m30.3 -7h1.7m-54.7 -27h1.7m-8.7 37h1.7m31.3 -14h1.7m18.3 12h1.7m-55.7 -46h1.7m49.3 23h1.7m-57.7 -11h1.7m-1.7 37h1.7m28.3 -33h1.7m-26.7 33h1.7m-9.7 -42h1.7m49.3 13h1.7m-41.7 26h1.7m73.3 -1h1.7m-41.7 -40h1.7m-70.7 34h1.7m67.3 -16h1.7m-18.7 -20h1.7m-23.7 38h1.7m-5.7 -29h1.7m61.3 0h1.7m-13.7 46h1.7m-66.7 -48h1.7m13.3 39h1.7m-16.7 -20h1.7m2.3 -11h1.7m65.3 -13h1.7m-104.7 16h1.7m120.3 -4h1.7m-32.7 22h1.7m-35.7 -4h1.7m-18.7 -63h1.7m20.3 44h1.7m16.3 -4h1.7m-79.7 24h1.7m73.3 21h1.7m-57.7 -42h1.7m26.3 -10h1.7m43.3 18h1.7m-10.7 -10h1.7m-11.7 16h1.7m-2.7 22h1.7m-20.7 -20h1.7m53.3 -5h1.7m-28.7 -25h1.7m-53.7 27h1.7m20.3 11h1.7m-29.7 17h1.7m60.3 -41h1.7m-18.7 27h1.7m-39.7 -10h1.7m35.3 -44h1.7m61.3 35h1.7m-91.7 -7h1.7m-12.7 -19h1.7m43.3 31h1.7m-3.7 12h1.7m-4.7 7h1.7m9.3 -17h1.7m11.3 1h1.7m-8.7 -25h1.7m-12.7 15h1.7m-34.7 -7h1.7m43.3 7h1.7m-39.7 37h1.7m57.3 -45h1.7m-25.7 38h1.7m-27.7 -20h1.7m-31.7 -20h1.7m76.3 -3h1.7m13.3 38h1.7m-92.7 -22h1.7m30.3 -17h1.7m28.3 17h1.7m17.3 -14h1.7m-83.7 34h1.7m-32.7 -16h1.7m42.3 3h1.7m44.3 -20h1.7m-31.7 -2h1.7m22.3 9h1.7m26.3 -2h1.7m-63.7 13h1.7m39.3 9h1.7m-9.7 0h1.7m52.3 -10h1.7m-141.7 -9h1.7m86.3 -9h1.7m-44.7 17h1.7m1.3 -6h1.7m14.3 -20h1.7m20.3 17h1.7m-12.7 -1h1.7m-17.7 38h1.7m28.3 -33h1.7m-60.7 17h1.7m33.3 11h1.7m-35.7 -36h1.7m14.3 47h1.7m30.3 -29h1.7m-44.7 -23h1.7m31.3 27h1.7m-31.7 -2h1.7m56.3 -25h1.7m-20.7 21h1.7m4.3 -4h1.7m-59.7 -2h1.7m17.3 17h1.7m11.3 -25h1.7m-10.7 25h1.7m-53.7 -27h1.7m52.3 34h1.7m50.3 -20h1.7m7.3 25h1.7m-94.7 -21h1.7m45.3 8h1.7m19.3 -23h1.7m-32.7 -2h1.7m9.3 3h1.7m45.3 20h1.7m-66.7 1h1.7m-45.7 -16h1.7m75.3 5h1.7m-40.7 13h1.7m-7.7 -4h1.7m10.3 -11h1.7m17.3 -3h1.7m-1.7 20h1.7m34.3 -18h1.7m-4.7 1h1.7m-73.7 13h1.7m20.3 4h1.7m21.3 -33h1.7m-19.7 -4h1.7m19.3 14h1.7m13.3 17h1.7m33.3 -3h1.7m-52.7 -15h1.7m-14.7 2h1.7m18.3 -13h1.7m-68.7 40h1.7m12.3 -28h1.7m51.3 8h1.7m3.3 7h1.7m21.3 -5h1.7m-27.7 -6h1.7m9.3 3h1.7m-88.7 0h1.7m25.3 -7h1.7m53.3 3h1.7m-39.7 -4h1.7m24.3 -6h1.7m-13.7 27h1.7m2.3 -17h1.7m45.3 2h1.7m-44.7 -7h1.7m20.3 32h1.7m-27.7 -25h1.7m18.3 9h1.7m-30.7 16h1.7m-33.7 -17h1.7m40.3 8h1.7m-36.7 -4h1.7m34.3 6h1.7m19.3 -14h1.7m-0.7 -21h1.7m-37.7 10h1.7m15.3 -7h1.7m4.3 12h1.7m-3.7 -2h1.7m-32.7 4h1.7m10.3 -7h1.7m-12.7 24h1.7m-40.7 -33h1.7m32.3 25h1.7m45.3 -22h1.7m-11.7 30h1.7m34.3 -19h1.7m-2.7 -23h1.7m-46.7 36h1.7m23.3 -37h1.7m-44.7 15h1.7m38.3 17h1.7m3.3 17h1.7m-72.7 -18h1.7m3.3 9h1.7m26.3 12h1.7m47.3 -25h1.7m-2.7 27h1.7m-90.7 -27h1.7m-28.7 -4h1.7m70.3 9h1.7m38.3 -31h1.7m-18.7 18h1.7m-66.7 21h1.7m-7.7 -36h1.7m37.3 -1h1.7m56.3 37h1.7m-71.7 -29h1.7m16.3 41h1.7m-22.7 -23h1.7m22.3 15h1.7m48.3 7h1.7m-37.7 -18h1.7m43.3 -14h1.7m-75.7 26h1.7m9.3 -13h1.7m61.3 14h1.7m-12.7 -6h1.7m-81.7 -15h1.7m47.3 17h1.7m-74.7 2h1.7m64.3 -20h1.7m-30.7 10h1.7m93.3 12h1.7m-68.7 -38h1.7m-52.7 24h1.7m71.3 11h1.7m-25.7 -12h1.7m12.3 4h1.7m20.3 -26h1.7m-111.7 18h1.7m82.3 -14h1.7m-64.7 6h1.7m88.3 1h1.7m-28.7 15h1.7m-43.7 11h1.7m59.3 -34h1.7m-114.7 45h1.7m84.3 -33h1.7m-45.7 3h1.7m47.3 13h1.7m-24.7 -11h1.7m74.3 8h1.7m-35.7 22h1.7m-68.7 -24h1.7m3.3 5h1.7m23.3 -21h1.7m-6.7 20h1.7m16.3 9h1.7m4.3 -11h1.7m-61.7 -3h1.7m35.3 16h1.7m-7.7 -8h1.7m68.3 -18h1.7m-62.7 30h1.7m43.3 -31h1.7m-51.7 36h1.7m-18.7 -5h1.7m-14.7 -34h1.7m74.3 13h1.7m-46.7 0h1.7m-25.7 15h1.7m-3.7 4h1.7m15.3 -58h1.7m-43.7 46h1.7m27.3 -5h1.7m-0.7 4h1.7m70.3 -6h1.7m-43.7 -1h1.7m-23.7 3h1.7m-20.7 -11h1.7m58.3 28h1.7m-45.7 -17h1.7m40.3 -21h1.7m25.3 11h1.7m-15.7 -10h1.7m-38.7 11h1.7m-7.7 0h1.7m-9.7 18h1.7m-48.7 -10h1.7m0.3 -26h1.7m51.3 18h1.7m-25.7 -20h1.7m105.3 7h1.7m-72.7 -8h1.7m26.3 34h1.7m-66.7 2h1.7m31.3 16h1.7m62.3 -44h1.7m-31.7 34h1.7m-18.7 -15h1.7m-42.7 -29h1.7m20.3 14h1.7m-2.7 23h1.7m-2.7 -13h1.7m63.3 -12h1.7m-47.7 22h1.7m-56.7 0h1.7m33.3 -21h1.7m26.3 -1h1.7m-48.7 16h1.7m35.3 -15h1.7m-24.7 26h1.7m56.3 -9h1.7m-103.7 -20h1.7m81.3 6h1.7m-34.7 11h1.7m-10.7 5h1.7m5.3 -6h1.7m34.3 -10h1.7m64.3 39h1.7m-38.7 -34h1.7m-65.7 20h1.7m-13.7 -24h1.7m22.3 1h1.7m-55.7 9h1.7m121.3 -34h1.7m-101.7 26h1.7m6.3 26h1.7m16.3 -20h1.7m-39.7 15h1.7m87.3 -23h1.7m-32.7 41h1.7m-15.7 -25h1.7m-1.7 -5h1.7m-13.7 8h1.7m28.3 -16h1.7m-63.7 25h1.7m70.3 -9h1.7m-36.7 3h1.7m-21.7 -13h1.7m1.3 5h1.7m18.3 -1h1.7m-24.7 -3h1.7m63.3 1h1.7m-13.7 -1h1.7m-7.7 14h1.7m-51.7 -24h1.7m61.3 18h1.7m-29.7 -12h1.7m4.3 -7h1.7m11.3 21h1.7m-1.7 -26h1.7m-38.7 17h1.7m9.3 13h1.7m7.3 -32h1.7m-63.7 35h1.7m49.3 -21h1.7m36.3 -15h1.7m23.3 5h1.7m-84.7 20h1.7m44.3 11h1.7m-27.7 7h1.7m-4.7 -7h1.7m-26.7 -37h1.7m45.3 15h1.7m-43.7 2h1.7m44.3 -18h1.7m-32.7 38h1.7m2.3 -19h1.7m22.3 28h1.7m-43.7 -43h1.7m-46.7 22h1.7m68.3 -26h1.7m-28.7 13h1.7m12.3 -6h1.7m17.3 -24h1.7m-11.7 32h1.7m5.3 12h1.7m-29.7 11h1.7m-3.7 -9h1.7m-10.7 -11h1.7m-41.7 16h1.7m80.3 8h1.7m-7.7 -12h1.7m-18.7 -22h1.7m14.3 14h1.7m-33.7 -6h1.7m25.3 -3h1.7m37.3 5h1.7m-48.7 -1h1.7m22.3 -1h1.7m-81.7 -3h1.7m22.3 -18h1.7m42.3 3h1.7m51.3 18h1.7m-49.7 27h1.7m-52.7 -18h1.7m-9.7 -36h1.7m26.3 46h1.7m29.3 -27h1.7m6.3 13h1.7m-43.7 7h1.7m26.3 -2h1.7m8.3 13h1.7m-65.7 -44h1.7m65.3 3h1.7m1.3 31h1.7m-72.7 6h1.7m84.3 -8h1.7m-37.7 15h1.7m-21.7 -25h1.7m40.3 17h1.7m-26.7 -8h1.7m-0.7 -27h1.7m-20.7 19h1.7m36.3 22h1.7m-38.7 4h1.7m90.3 9h1.7m-38.7 -4h1.7m-64.7 -19h1.7m70.3 -4h1.7m-59.7 -10h1.7m-16.7 23h1.7m72.3 1h1.7m-15.7 -17h1.7m-52.7 -15h1.7m51.3 38h1.7m-36.7 -44h1.7m36.3 16h1.7m-38.7 22h1.7m-38.7 6h1.7m54.3 -24h1.7m-2.7 31h1.7m23.3 -38h1.7m-72.7 -6h1.7m26.3 5h1.7m-12.7 0h1.7m64.3 12h1.7m-73.7 5h1.7m13.3 14h1.7m-10.7 -6h1.7m-7.7 -36h1.7m12.3 38h1.7m0.3 -39h1.7m44.3 18h1.7m-29.7 -5h1.7m-6.7 14h1.7m15.3 -19h1.7m-32.7 9h1.7m31.3 7h1.7m5.3 19h1.7m11.3 6h1.7m-83.7 -46h1.7m9.3 39h1.7m-0.7 -19h1.7m37.3 -3h1.7m-78.7 -14h1.7m37.3 4h1.7m85.3 13h1.7m-59.7 15h1.7m16.3 3h1.7m16.3 -13h1.7m-73.7 4h1.7m13.3 -21h1.7m25.3 1h1.7m-61.7 3h1.7m69.3 15h1.7m-44.7 -2h1.7m79.3 -10h1.7m-138.7 -11h1.7m129.3 12h1.7m-27.7 -20h1.7m-31.7 29h1.7m-18.7 -25h1.7m-63.7 16h1.7m72.3 -3h1.7m46.3 0h1.7m-7.7 13h1.7m-55.7 -9h1.7m33.3 -18h1.7m17.3 41h1.7m-33.7 -8h1.7m23.3 -26h1.7m-33.7 2h1.7m-30.7 -5h1.7m22.3 1h1.7m5.3 19h1.7m22.3 -35h1.7m18.3 47h1.7m-19.7 -29h1.7m-16.7 -15h1.7m-2.7 23h1.7m6.3 -11h1.7m-41.7 -12h1.7m16.3 34h1.7m-3.7 -10h1.7m23.3 8h1.7m-20.7 -20h1.7m-21.7 11h1.7m-61.7 -1h1.7m76.3 24h1.7m47.3 -21h1.7m-38.7 -22h1.7m-5.7 8h1.7m6.3 13h1.7m-8.7 -15h1.7m20.3 -7h1.7m4.3 15h1.7m-68.7 2h1.7m29.3 -14h1.7m15.3 20h1.7m-12.7 -18h1.7m-2.7 32h1.7m-42.7 -7h1.7m62.3 5h1.7m-22.7 -3h1.7m-22.7 4h1.7m43.3 -15h1.7m-4.7 -21h1.7m-54.7 -14h1.7m14.3 41h1.7m-10.7 -8h1.7m14.3 18h1.7m-59.7 -14h1.7m105.3 -8h1.7m-66.7 19h1.7m28.3 -16h1.7m49.3 37h1.7m-54.7 -48h1.7m6.3 6h1.7m-29.7 6h1.7m47.3 -18h1.7m-2.7 25h1.7m-34.7 -1h1.7m18.3 -28h1.7m-29.7 -5h1.7m0.3 27h1.7m7.3 -13h1.7m15.3 37h1.7m-56.7 1h1.7m93.3 -39h1.7m-65.7 20h1.7m-63.7 -10h1.7m56.3 8h1.7m-16.7 14h1.7m-16.7 -5h1.7m69.3 -41h1.7m-31.7 38h1.7m73.3 -36h1.7m-22.7 -5h1.7m-67.7 29h1.7m20.3 -4h1.7m-20.7 -2h1.7m11.3 -3h1.7m-25.7 44h1.7m26.3 -39h1.7m-49.7 -16h1.7m-22.7 46h1.7m37.3 9h1.7m14.3 -17h1.7m87.3 -17h1.7m-112.7 -18h1.7m28.3 23h1.7m-15.7 -11h1.7m-47.7 11h1.7m7.3 -6h1.7m33.3 -12h1.7m16.3 21h1.7m-47.7 -3h1.7m60.3 5h1.7m-13.7 11h1.7m-68.7 -3h1.7m39.3 -7h1.7m0.3 -11h1.7m-36.7 6h1.7m-19.7 13h1.7m9.3 -7h1.7m46.3 -47h1.7m-14.7 42h1.7m3.3 -15h1.7m50.3 -11h1.7m3.3 14h1.7m-31.7 11h1.7m-81.7 12h1.7m101.3 5h1.7m-47.7 -7h1.7m-19.7 -9h1.7m4.3 -2h1.7m-12.7 -2h1.7m-18.7 28h1.7m69.3 -71h1.7m11.3 46h1.7m-50.7 29h1.7m47.3 -6h1.7m-49.7 -19h1.7m30.3 -16h1.7m-3.7 -1h1.7m-50.7 -29h1.7m32.3 51h1.7m-6.7 -28h1.7m-7.7 15h1.7m-1.7 -41h1.7m27.3 45h1.7m-77.7 -30h1.7m115.3 -27h1.7m-3.7 5h1.7m33.3 7h1.7m-23.7 31h1.7m7.3 -26h1.7m-22.7 -3h1.7m26.3 -13h1.7m-34.7 8h1.7m34.3 1h1.7m-11.7 -2h1.7m15.3 15h1.7m-16.7 -19h1.7m-13.7 4h1.7m4.3 4h1.7m25.3 -20h1.7m-27.7 1h1.7m3.3 -2h1.7m7.3 8h1.7m-16.7 14h1.7m9.3 -18h1.7m-1.7 26h1.7m2.3 -17h1.7m-3.7 6h1.7m-10.7 -17h1.7m-11.7 12h1.7m28.3 -10h1.7m4.3 8h1.7m-54.7 4h1.7m19.3 0h1.7m21.3 -11h1.7m-36.7 8h1.7m26.3 -4h1.7m-20.7 9h1.7m9.3 -22h1.7m-10.7 19h1.7m0.3 5h1.7m11.3 -11h1.7m-8.7 31h1.7m-0.7 -16h1.7m-0.7 -2h1.7m-19.7 -13h1.7m3.3 -4h1.7m14.3 -2h1.7m-3.7 -9h1.7m-28.7 7h1.7m2.3 23h1.7m2.3 -16h1.7m7.3 6h1.7m-11.7 -12h1.7m9.3 24h1.7m-0.7 -16h1.7m-7.7 10h1.7m6.3 -5h1.7m9.3 1h1.7m-19.7 10h1.7m26.3 5h1.7m1.3 -20h1.7m-45.7 -6h1.7m22.3 3h1.7m13.3 19h1.7m-17.7 -9h1.7m-2.7 -10h1.7m-12.7 -7h1.7m17.3 24h1.7m-3.7 -26h1.7m0.3 3h1.7m-14.7 26h1.7m5.3 -16h1.7m-1.7 -10h1.7m3.3 23h1.7m-3.7 -14h1.7m19.3 -12h1.7m2.3 13h1.7m-36.7 -18h1.7m30.3 37h1.7m-45.7 -21h1.7m-9.7 6h1.7m30.3 -11h1.7m-19.7 -4h1.7m-0.7 19h1.7m3.3 -11h1.7m-13.7 -5h1.7m21.3 6h1.7m-50.7 -7h1.7m46.3 30h1.7m-30.7 -33h1.7m11.3 26h1.7m23.3 -6h1.7m10.3 -7h1.7m-44.7 3h1.7m35.3 8h1.7m-34.7 -19h1.7m11.3 11h1.7m10.3 8h1.7m-3.7 0h1.7m-0.7 22h1.7m-15.7 -31h1.7m-20.7 11h1.7m28.3 -6h1.7m-21.7 -2h1.7m-19.7 -7h1.7m25.3 15h1.7m-1.7 -11h1.7m-2.7 -6h1.7m1.3 1h1.7m-10.7 -10h1.7m4.3 4h1.7m7.3 8h1.7m-23.7 -5h1.7m9.3 12h1.7m8.3 -8h1.7m6.3 10h1.7m-33.7 -20h1.7m39.3 31h1.7m-23.7 -17h1.7m4.3 -15h1.7m-0.7 10h1.7m-11.7 1h1.7m-3.7 3h1.7m7.3 8h1.7m6.3 5h1.7m-26.7 -3h1.7m1.3 -27h1.7m15.3 12h1.7m-16.7 1h1.7m21.3 5h1.7m-21.7 -12h1.7m19.3 11h1.7m-12.7 -13h1.7m9.3 14h1.7m-3.7 28h1.7m-22.7 -34h1.7m24.3 19h1.7m-38.7 -3h1.7m-19.7 -22h1.7m36.3 17h1.7m8.3 -13h1.7m-24.7 15h1.7m-3.7 2h1.7m24.3 -17h1.7m-19.7 3h1.7m-5.7 -5h1.7m8.3 14h1.7m23.3 27h1.7m-28.7 -28h1.7m-9.7 -17h1.7m18.3 6h1.7m-18.7 28h1.7m-16.7 -42h1.7m19.3 33h1.7m12.3 1h1.7m-21.7 -1h1.7m9.3 -2h1.7m-14.7 -33h1.7m11.3 38h1.7m-13.7 -33h1.7m-6.7 24h1.7m19.3 5h1.7m-40.7 -27h1.7m25.3 14h1.7m5.3 15h1.7m9.3 -26h1.7m2.3 -6h1.7m-6.7 5h1.7m-8.7 20h1.7m-9.7 -19h1.7m5.3 10h1.7m-9.7 11h1.7m0.3 -7h1.7m-3.7 -7h1.7m6.3 -1h1.7m-0.7 5h1.7m10.3 -19h1.7m-11.7 35h1.7m-5.7 -4h1.7m-6.7 -20h1.7m-5.7 9h1.7m-6.7 17h1.7m16.3 -18h1.7m-11.7 9h1.7m-6.7 -10h1.7m20.3 4h1.7m-11.7 16h1.7m-26.7 -13h1.7m23.3 5h1.7m29.3 -10h1.7m-41.7 9h1.7m-20.7 5h1.7m12.3 8h1.7m5.3 3h1.7m-0.7 -19h1.7m-17.7 -5h1.7m33.3 -6h1.7m-8.7 3h1.7m-18.7 9h1.7m-22.7 -11h1.7m13.3 -5h1.7m-1.7 8h1.7m27.3 -6h1.7m-47.7 19h1.7m10.3 -27h1.7m22.3 14h1.7m-8.7 11h1.7m-12.7 -3h1.7m34.3 -7h1.7m-40.7 -1h1.7m5.3 9h1.7m-5.7 -4h1.7m21.3 3h1.7m7.3 -33h1.7m-4.7 40h1.7m-22.7 -21h1.7m12.3 17h1.7m-6.7 -12h1.7m10.3 0h1.7m-25.7 -5h1.7m-18.7 2h1.7m15.3 4h1.7m27.3 -3h1.7m-53.7 12h1.7m23.3 -8h1.7m-4.7 24h1.7m15.3 -25h1.7m18.3 5h1.7m-35.7 -18h1.7m-17.7 5h1.7m19.3 18h1.7m-24.7 -10h1.7m13.3 17h1.7m-2.7 -6h1.7m-20.7 -8h1.7m30.3 -9h1.7m-10.7 33h1.7m18.3 -31h1.7m-30.7 2h1.7m9.3 7h1.7m24.3 -1h1.7m-42.7 -16h1.7m25.3 -9h1.7m15.3 12h1.7m-15.7 0h1.7m7.3 27h1.7m-14.7 -15h1.7m-7.7 -1h1.7m14.3 -19h1.7m-36.7 23h1.7m19.3 20h1.7m-0.7 -36h1.7m-10.7 16h1.7m6.3 -13h1.7m25.3 17h1.7m-40.7 -23h1.7m1.3 9h1.7m-0.7 4h1.7m-6.7 8h1.7m-12.7 -16h1.7m11.3 5h1.7m-13.7 3h1.7m19.3 6h1.7m-28.7 -11h1.7m39.3 9h1.7m7.3 -3h1.7m-32.7 -15h1.7m11.3 16h1.7m-18.7 7h1.7m25.3 -17h1.7m-11.7 15h1.7m-29.7 -22h1.7m1.3 14h1.7m24.3 -4h1.7m-8.7 7h1.7m-28.7 -16h1.7m36.3 32h1.7m-12.7 -17h1.7m-16.7 -11h1.7m7.3 9h1.7m37.3 35h1.7m-16.7 -25h1.7m-32.7 -20h1.7m14.3 18h1.7m-35.7 -4h1.7m2.3 20h1.7m24.3 -17h1.7m-11.7 -6h1.7m-8.7 8h1.7m16.3 -7h1.7m18.3 7h1.7m-21.7 -3h1.7m-16.7 0h1.7m22.3 1h1.7m16.3 -17h1.7m-32.7 12h1.7m3.3 -3h1.7m1.3 -9h1.7m5.3 5h1.7m-19.7 2h1.7m2.3 0h1.7m-3.7 -17h1.7m22.3 30h1.7m11.3 -3h1.7m-50.7 6h1.7m1.3 -13h1.7m10.3 -9h1.7m-13.7 14h1.7m19.3 8h1.7m-22.7 -9h1.7m18.3 -36h1.7m-23.7 40h1.7m9.3 3h1.7m-14.7 -20h1.7m8.3 -8h1.7m11.3 16h1.7m-30.7 0h1.7m20.3 -11h1.7m6.3 13h1.7m0.3 34h1.7m-14.7 -27h1.7m-2.7 0h1.7m3.3 8h1.7m-13.7 -17h1.7m3.3 -1h1.7m21.3 0h1.7m-7.7 12h1.7m-27.7 4h1.7m13.3 -9h1.7m-26.7 9h1.7m12.3 -17h1.7m6.3 8h1.7m3.3 -1h1.7m-35.7 -4h1.7m26.3 35h1.7m18.3 -39h1.7m-14.7 2h1.7m7.3 1h1.7m-4.7 7h1.7m-14.7 -32h1.7m-12.7 41h1.7m14.3 -23h1.7m-32.7 5h1.7m36.3 9h1.7m3.3 -18h1.7m-13.7 20h1.7m-20.7 -6h1.7m29.3 -5h1.7m-32.7 3h1.7m7.3 5h1.7m13.3 -3h1.7m-3.7 8h1.7m-10.7 12h1.7m-2.7 -28h1.7m11.3 1h1.7m-6.7 32h1.7m-42.7 -26h1.7m53.3 -3h1.7m-9.7 9h1.7m3.3 -9h1.7m5.3 6h1.7m-27.7 9h1.7m13.3 -5h1.7m-13.7 -22h1.7m22.3 22h1.7m-56.7 -1h1.7m39.3 22h1.7m-15.7 -21h1.7m10.3 -13h1.7m-12.7 -29h1.7m-16.7 21h1.7m28.3 29h1.7m0.3 -6h1.7m-3.7 -15h1.7m6.3 15h1.7m-15.7 -14h1.7m-19.7 -11h1.7m15.3 -1h1.7m-23.7 16h1.7m28.3 -16h1.7m-11.7 10h1.7m-32.7 16h1.7m29.3 -9h1.7m-5.7 2h1.7m0.3 -14h1.7m8.3 17h1.7m-13.7 7h1.7m-14.7 -30h1.7m0.3 25h1.7m4.3 -8h1.7m2.3 3h1.7m25.3 -4h1.7m-27.7 18h1.7m15.3 -30h1.7m-11.7 16h1.7m-3.7 5h1.7m9.3 -12h1.7m-14.7 17h1.7m-6.7 -23h1.7m-4.7 5h1.7m7.3 -3h1.7m-19.7 15h1.7m24.3 4h1.7m-6.7 14h1.7m-38.7 -18h1.7m21.3 -9h1.7m26.3 -3h1.7m-28.7 11h1.7m45.3 3h1.7m-35.7 -13h1.7m-7.7 9h1.7m-2.7 0h1.7m-1.7 1h1.7m-9.7 7h1.7m5.3 -24h1.7m-18.7 32h1.7m27.3 -19h1.7m-7.7 4h1.7m-22.7 -14h1.7m14.3 1h1.7m18.3 0h1.7m-2.7 17h1.7m-18.7 -37h1.7m24.3 25h1.7m-21.7 -14h1.7m-13.7 12h1.7m13.3 4h1.7m-9.7 -13h1.7m-21.7 10h1.7m24.3 6h1.7m-14.7 -15h1.7m1.3 4h1.7m-10.7 20h1.7m20.3 -2h1.7m-0.7 -8h1.7m-11.7 2h1.7m-7.7 -11h1.7m30.3 13h1.7m-22.7 -6h1.7m20.3 13h1.7m-5.7 -4h1.7m-18.7 12h1.7m-9.7 -17h1.7m-1.7 -12h1.7m-6.7 20h1.7m0.3 -27h1.7m-15.7 20h1.7m22.3 1h1.7m-27.7 -24h1.7m-8.7 27h1.7m-1.7 -12h1.7m32.3 16h1.7m6.3 9h1.7m-12.7 -13h1.7m1.3 -16h1.7m6.3 21h1.7m-16.7 -4h1.7m10.3 -31h1.7m-20.7 29h1.7m4.3 -19h1.7m29.3 34h1.7m-38.7 -7h1.7m29.3 2h1.7m-0.7 0h1.7m-10.7 -20h1.7m-23.7 16h1.7m-16.7 -13h1.7m31.3 11h1.7m-13.7 -2h1.7m-2.7 1h1.7m9.3 -20h1.7m8.3 6h1.7m-34.7 10h1.7m24.3 -11h1.7m-12.7 22h1.7m-2.7 -22h1.7m-2.7 17h1.7m-13.7 -5h1.7m-14.7 -20h1.7m25.3 3h1.7m-2.7 25h1.7m1.3 -39h1.7m2.3 51h1.7m-29.7 -22h1.7m27.3 -6h1.7m-20.7 5h1.7m2.3 8h1.7m8.3 16h1.7m-9.7 -42h1.7m9.3 41h1.7m-14.7 -42h1.7m11.3 35h1.7m-25.7 -26h1.7m22.3 23h1.7m-10.7 -34h1.7m21.3 21h1.7m-47.7 -8h1.7m3.3 21h1.7m2.3 -4h1.7m1.3 -21h1.7m29.3 6h1.7m-31.7 -4h1.7m-11.7 16h1.7m28.3 -16h1.7m17.3 7h1.7m-42.7 8h1.7m1.3 -27h1.7m30.3 -2h1.7m-9.7 26h1.7m-27.7 11h1.7m14.3 -15h1.7m6.3 -4h1.7m-19.7 14h1.7m6.3 -5h1.7m11.3 3h1.7m-6.7 -15h1.7m-2.7 35h1.7m-10.7 -26h1.7m29.3 26h1.7m-32.7 -18h1.7m15.3 -12h1.7m-20.7 2h1.7m29.3 -6h1.7m-32.7 -4h1.7m1.3 9h1.7m5.3 -4h1.7m-5.7 7h1.7m-24.7 -6h1.7m19.3 -6h1.7m3.3 17h1.7m-9.7 -4h1.7m-5.7 -9h1.7m18.3 9h1.7m-29.7 -9h1.7m21.3 -12h1.7m-12.7 19h1.7m8.3 3h1.7m1.3 4h1.7m-17.7 -26h1.7m6.3 28h1.7m10.3 3h1.7m-13.7 -21h1.7m20.3 1h1.7m-18.7 10h1.7m1.3 1h1.7m-27.7 1h1.7m-4.7 -5h1.7m14.3 8h1.7m28.3 -16h1.7m-33.7 8h1.7m4.3 -15h1.7m3.3 13h1.7m-9.7 11h1.7m11.3 2h1.7m-1.7 -25h1.7m-49.7 39h1.7m35.3 -51h1.7m-6.7 18h1.7m27.3 15h1.7m-29.7 -1h1.7m-0.7 4h1.7m-22.7 -12h1.7m31.3 -1h1.7m0.3 2h1.7m-28.7 4h1.7m6.3 -13h1.7m18.3 9h1.7m7.3 0h1.7m-36.7 6h1.7m-13.7 -16h1.7m42.3 7h1.7m-14.7 5h1.7m-10.7 17h1.7m-20.7 2h1.7m27.3 -27h1.7m-2.7 38h1.7m13.3 -21h1.7m-22.7 -23h1.7m-6.7 3h1.7m23.3 10h1.7m-33.7 -3h1.7m17.3 -7h1.7m9.3 -8h1.7m-18.7 19h1.7m18.3 -15h1.7m-17.7 32h1.7m6.3 -21h1.7m-7.7 -11h1.7m-15.7 37h1.7m15.3 -18h1.7m-1.7 -8h1.7m-11.7 3h1.7m-0.7 8h1.7m-10.7 -3h1.7m-6.7 -3h1.7m-12.7 -10h1.7m49.3 22h1.7m-12.7 -10h1.7m-14.7 -5h1.7m16.3 -21h1.7m-34.7 22h1.7m14.3 14h1.7m7.3 8h1.7m2.3 -17h1.7m0.3 0h1.7m-41.7 18h1.7m13.3 -34h1.7m12.3 10h1.7m-12.7 14h1.7m-17.7 5h1.7m3.3 -37h1.7m22.3 9h1.7m-25.7 28h1.7m8.3 -21h1.7m-9.7 4h1.7m28.3 -2h1.7m-18.7 -6h1.7m-22.7 -15h1.7m42.3 20h1.7m1.3 9h1.7m-7.7 5h1.7m-23.7 -15h1.7m-17.7 1h1.7m4.3 -6h1.7m26.3 17h1.7m-41.7 23h1.7m2.3 -17h1.7m27.3 -34h1.7m-13.7 24h1.7m-4.7 -22h1.7m6.3 24h1.7m-25.7 -1h1.7m15.3 4h1.7m21.3 -8h1.7m6.3 -1h1.7m-26.7 -2h1.7m-19.7 3h1.7m14.3 -31h1.7m5.3 23h1.7m-11.7 8h1.7m2.3 -6h1.7m-6.7 6h1.7m-7.7 0h1.7m18.3 -11h1.7m5.3 -4h1.7m-7.7 17h1.7m-13.7 -7h1.7m1.3 7h1.7m6.3 -7h1.7m5.3 20h1.7m-15.7 -7h1.7m-35.7 -30h1.7m26.3 8h1.7m10.3 21h1.7m-0.7 -2h1.7m-19.7 -29h1.7m21.3 -7h1.7m-23.7 34h1.7m-8.7 -16h1.7m20.3 25h1.7m-11.7 -34h1.7m-11.7 5h1.7m17.3 3h1.7m-9.7 17h1.7m26.3 -34h1.7m-5.7 23h1.7m-26.7 15h1.7m-4.7 10h1.7m24.3 -11h1.7m-14.7 -1h1.7m-2.7 1h1.7m-15.7 4h1.7m2.3 -8h1.7m8.3 -8h1.7m-33.7 -14h1.7m9.3 25h1.7m-3.7 0h1.7m28.3 -13h1.7m-1.7 21h1.7m-16.7 -24h1.7m-3.7 6h1.7m7.3 -3h1.7m-1.7 -4h1.7m-4.7 -6h1.7m-1.7 17h1.7m-14.7 16h1.7m2.3 -16h1.7m-4.7 -3h1.7m6.3 -9h1.7m-8.7 24h1.7m-5.7 -28h1.7m19.3 14h1.7m-19.7 -12h1.7m5.3 8h1.7m-0.7 13h1.7m1.3 -11h1.7m3.3 20h1.7m21.3 -14h1.7m-24.7 -30h1.7m-4.7 41h1.7m-5.7 1h1.7m23.3 -21h1.7m-50.7 13h1.7m25.3 -22h1.7m-1.7 19h1.7m-9.7 -16h1.7m1.3 8h1.7m14.3 21h1.7m-15.7 -10h1.7m12.3 -8h1.7m-19.7 0h1.7m0.3 -5h1.7m12.3 7h1.7m-12.7 7h1.7m-10.7 9h1.7m7.3 -18h1.7m6.3 -7h1.7m14.3 19h1.7m-42.7 -21h1.7m29.3 1h1.7m-1.7 15h1.7m-14.7 10h1.7m-17.7 -11h1.7m26.3 15h1.7m-2.7 -18h1.7m-1.7 3h1.7m-41.7 -19h1.7m24.3 13h1.7m11.3 -1h1.7m-21.7 -12h1.7m-1.7 1h1.7m-0.7 5h1.7m-0.7 20h1.7m9.3 -33h1.7m3.3 21h1.7m4.3 -18h1.7m-24.7 9h1.7m-5.7 -2h1.7m19.3 10h1.7m-13.7 2h1.7m-2.7 3h1.7m18.3 -6h1.7m-24.7 8h1.7m7.3 20h1.7m5.3 -34h1.7m-8.7 6h1.7m4.3 -1h1.7m-32.7 0h1.7m52.3 27h1.7m-23.7 -29h1.7m-24.7 11h1.7m36.3 -2h1.7m-23.7 11h1.7m5.3 -22h1.7m-18.7 12h1.7m-1.7 3h1.7m16.3 12h1.7m-26.7 -16h1.7m-1.7 -22h1.7m38.3 15h1.7m-15.7 -3h1.7m-23.7 7h1.7m-4.7 -1h1.7m15.3 -1h1.7m1.3 18h1.7m10.3 -15h1.7m-27.7 2h1.7m2.3 8h1.7m2.3 -15h1.7m-19.7 15h1.7m24.3 -14h1.7m-6.7 -3h1.7m-8.7 0h1.7m29.3 -11h1.7m-26.7 16h1.7m7.3 6h1.7m-0.7 -19h1.7m8.3 18h1.7m-3.7 -1h1.7m-49.7 -7h1.7m34.3 2h1.7m13.3 -1h1.7m-10.7 0h1.7m-1.7 -6h1.7m-46.7 8h1.7m48.3 12h1.7m-9.7 0h1.7m-21.7 -12h1.7m-22.7 -24h1.7m53.3 44h1.7m-41.7 -4h1.7m23.3 -18h1.7m-6.7 4h1.7m-12.7 -26h1.7m0.3 32h1.7m1.3 -18h1.7m0.3 7h1.7m-6.7 -13h1.7m16.3 11h1.7m-10.7 -16h1.7m-7.7 17h1.7m-6.7 0h1.7m31.3 -7h1.7m-18.7 25h1.7m-37.7 11h1.7m8.3 -30h1.7m14.3 -8h1.7m-45.7 -7h1.7m-0.7 9h1.7m48.3 -31h1.7m-15.7 37h1.7m-26.7 8h1.7m48.3 -7h1.7m-19.7 -14h1.7m-71.7 8h1.7m67.3 25h1.7m-62.7 12h1.7m93.3 -34h1.7m-40.7 16h1.7m10.3 -12h1.7m-25.7 -7h1.7m-47.7 -3h1.7m44.3 -11h1.7m-8.7 -16h1.7m44.3 52h1.7m-31.7 -27h1.7m-36.7 10h1.7m103.3 -15h1.7m-109.7 16h1.7m60.3 -15h1.7m-85.7 39h1.7m34.3 -55h1.7m59.3 23h1.7m-52.7 7h1.7m48.3 -33h1.7m7.3 41h1.7m16.3 -42h1.7m-27.7 28h1.7m-36.7 0h1.7m-16.7 -6h1.7m78.3 35h1.7m-24.7 -16h1.7m-64.7 -38h1.7m-21.7 33h1.7m-2.7 -9h1.7m11.3 34h1.7m42.3 -24h1.7m1.3 10h1.7m11.3 -41h1.7m-11.7 28h1.7m-23.7 -12h1.7m-11.7 -24h1.7m-46.7 24h1.7m7.3 44h1.7m-2.7 -54h1.7m19.3 31h1.7m53.3 -9h1.7m-50.7 -40h1.7m26.3 32h1.7m14.3 45h1.7m-11.7 -24h1.7m-13.7 3h1.7m24.3 -41h1.7m17.3 -6h1.7m-47.7 39h1.7m-12.7 -10h1.7m-19.7 -33h1.7m28.3 15h1.7m30.3 17h1.7m46.3 18h1.7m-24.7 -20h1.7m-91.7 -3h1.7m15.3 -52h1.7m8.3 35h1.7m26.3 -4h1.7m-24.7 14h1.7m-41.7 13h1.7m45.3 -28h1.7m-23.7 19h1.7m46.3 -17h1.7m-4.7 15h1.7m-15.7 -28h1.7m-72.7 26h1.7m73.3 -12h1.7m-27.7 28h1.7m-30.7 6h1.7m1.3 -16h1.7m34.3 -35h1.7m-66.7 37h1.7m56.3 14h1.7m-15.7 12h1.7m27.3 -63h1.7m2.3 49h1.7m-7.7 -13h1.7m-76.7 -16h1.7m50.3 29h1.7m35.3 -14h1.7m-25.7 2h1.7m-25.7 -7h1.7m-18.7 28h1.7m10.3 -28h1.7m36.3 11h1.7m-16.7 -11h1.7m31.3 29h1.7m-53.7 -33h1.7m48.3 13h1.7m-16.7 18h1.7m-12.7 1h1.7m-29.7 -13h1.7m40.3 -8h1.7m-21.7 -14h1.7m16.3 17h1.7m-2.7 -16h1.7m-87.7 7h1.7m113.3 -3h1.7m4.3 17h1.7m-3.7 -37h1.7m-47.7 22h1.7m-19.7 -12h1.7m51.3 32h1.7m-30.7 -13h1.7m-10.7 -11h1.7m-21.7 29h1.7m65.3 -11h1.7m-85.7 6h1.7m56.3 -32h1.7m-14.7 -2h1.7m-10.7 10h1.7m16.3 17h1.7m-15.7 -16h1.7m-9.7 4h1.7m29.3 32h1.7m-55.7 -32h1.7m10.3 -11h1.7m21.3 -1h1.7m8.3 15h1.7m-29.7 17h1.7m2.3 10h1.7m58.3 -54h1.7m-26.7 52h1.7m-31.7 -44h1.7m11.3 2h1.7m18.3 9h1.7m-44.7 2h1.7m0.3 -12h1.7m-6.7 53h1.7m71.3 -63h1.7m3.3 31h1.7m-60.7 16h1.7m11.3 -33h1.7m-14.7 44h1.7m27.3 -15h1.7m-20.7 5h1.7m22.3 -20h1.7m-71.7 -14h1.7m55.3 16h1.7m23.3 -4h1.7m-68.7 -24h1.7m5.3 23h1.7m42.3 19h1.7m-16.7 15h1.7m-26.7 -38h1.7m7.3 -25h1.7m-12.7 8h1.7m8.3 26h1.7m-24.7 23h1.7m31.3 -22h1.7m-6.7 -20h1.7m-1.7 20h1.7m7.3 -1h1.7m-24.7 11h1.7m80.3 1h1.7m-97.7 -47h1.7m-0.7 27h1.7m37.3 0h1.7m-40.7 2h1.7m17.3 20h1.7m0.3 -11h1.7m24.3 9h1.7m-51.7 -29h1.7m63.3 29h1.7m9.3 -15h1.7m-25.7 17h1.7m-42.7 -42h1.7m88.3 24h1.7m-84.7 32h1.7m23.3 -42h1.7m-2.7 -15h1.7m1.3 28h1.7m-22.7 -1h1.7m-1.7 30h1.7m-26.7 -44h1.7m19.3 23h1.7m-39.7 0h1.7m49.3 -3h1.7m-1.7 3h1.7m-44.7 -28h1.7m43.3 67h1.7m1.3 -50h1.7m-21.7 8h1.7m71.3 -19h1.7m-27.7 -19h1.7m-6.7 16h1.7m-31.7 24h1.7m4.3 -16h1.7m-24.7 -5h1.7m31.3 12h1.7m1.3 12h1.7m-76.7 -23h1.7m-11.7 8h1.7m105.3 -15h1.7m-32.7 25h1.7m-22.7 27h1.7m-13.7 -68h1.7m38.3 64h1.7m-4.7 -41h1.7m-36.7 -6h1.7m43.3 -15h1.7m-14.7 86h1.7m-64.7 -66h1.7m57.3 -3h1.7m-23.7 -8h1.7m39.3 -25h1.7m9.3 38h1.7m-37.7 20h1.7m-13.7 -55h1.7m-25.7 28h1.7m55.3 2h1.7m2.3 13h1.7m-52.7 -7h1.7m37.3 17h1.7m-3.7 -27h1.7m7.3 30h1.7m-38.7 -17h1.7m39.3 0h1.7m-55.7 9h1.7m39.3 10h1.7m-1.7 17h1.7m-4.7 -45h1.7m-5.7 45h1.7m4.3 -8h1.7m-37.7 -47h1.7m37.3 31h1.7m-25.7 -18h1.7m-6.7 26h1.7m22.3 20h1.7m-9.7 -33h1.7m28.3 -6h1.7m-5.7 6h1.7m-41.7 17h1.7m-47.7 -24h1.7m65.3 -21h1.7m10.3 40h1.7m10.3 -20h1.7m-56.7 14h1.7m21.3 -11h1.7m16.3 15h1.7m-56.7 -4h1.7m44.3 -1h1.7m16.3 -33h1.7m-14.7 33h1.7m0.3 -5h1.7m-36.7 7h1.7m48.3 1h1.7m-59.7 -8h1.7m-22.7 -11h1.7m48.3 35h1.7m-6.7 -28h1.7m20.3 0h1.7m-40.7 5h1.7m9.3 5h1.7m-45.7 5h1.7m8.3 8h1.7m9.3 -40h1.7m4.3 27h1.7m32.3 0h1.7m36.3 -3h1.7m-94.7 -24h1.7m61.3 -17h1.7m9.3 33h1.7m-29.7 1h1.7m58.3 18h1.7m-67.7 -46h1.7m4.3 31h1.7m52.3 -11h1.7m-87.7 17h1.7m31.3 -28h1.7m26.3 39h1.7m-19.7 -29h1.7m-38.7 -32h1.7m0.3 22h1.7m23.3 23h1.7m-32.7 -33h1.7m21.3 39h1.7m-5.7 -1h1.7m19.3 -15h1.7m-23.7 4h1.7m-1.7 -5h1.7m-49.7 11h1.7m17.3 9h1.7m49.3 23h1.7m-12.7 -11h1.7m11.3 -27h1.7m5.3 31h1.7m-5.7 -51h1.7m-40.7 -9h1.7m7.3 50h1.7m-10.7 -33h1.7m23.3 17h1.7m-4.7 19h1.7m5.3 -14h1.7m-22.7 -21h1.7m9.3 21h1.7m-45.7 -1h1.7m36.3 4h1.7m48.3 -11h1.7m-3.7 6h1.7m-28.7 10h1.7m-26.7 0h1.7m28.3 -19h1.7m-64.7 -3h1.7m43.3 -14h1.7m24.3 49h1.7m-10.7 -22h1.7m-57.7 -8h1.7m35.3 -23h1.7m8.3 7h1.7m-37.7 15h1.7m42.3 18h1.7m-35.7 -12h1.7m50.3 11h1.7m-1.7 -6h1.7m-20.7 -21h1.7m-14.7 35h1.7m8.3 -11h1.7m-23.7 -45h1.7m8.3 30h1.7m10.3 23h1.7m-38.7 -9h1.7m26.3 -16h1.7m-26.7 18h1.7m55.3 -38h1.7m-31.7 46h1.7m21.3 -26h1.7m-30.7 9h1.7m-30.7 46h1.7m-26.7 -5h1.7m50.3 -19h1.7m-2.7 -38h1.7m-50.7 7h1.7m66.3 29h1.7m-30.7 5h1.7m12.3 -15h1.7m-19.7 -18h1.7m70.3 47h1.7m-11.7 -50h1.7m-37.7 32h1.7m68.3 -3h1.7m-80.7 -8h1.7m1.3 0h1.7m-48.7 11h1.7m91.3 -26h1.7m-57.7 -8h1.7m4.3 32h1.7m-11.7 -17h1.7m26.3 11h1.7m-52.7 -27h1.7m48.3 9h1.7m7.3 26h1.7m3.3 2h1.7m-69.7 -23h1.7m78.3 15h1.7m-69.7 -13h1.7m27.3 1h1.7m-62.7 -24h1.7m67.3 17h1.7m-20.7 -4h1.7m27.3 19h1.7m8.3 9h1.7m-28.7 -27h1.7m-11.7 -6h1.7m21.3 -20h1.7m-17.7 39h1.7m-8.7 -11h1.7m10.3 14h1.7m-32.7 -30h1.7m-15.7 26h1.7m56.3 59h1.7m-46.7 -64h1.7m42.3 -19h1.7m-15.7 38h1.7m3.3 -11h1.7m-42.7 13h1.7m21.3 -48h1.7m46.3 50h1.7m-76.7 -27h1.7m10.3 5h1.7m63.3 26h1.7m-27.7 -29h1.7m-24.7 21h1.7m13.3 -58h1.7m41.3 43h1.7m-41.7 10h1.7m-46.7 0h1.7m45.3 1h1.7m-45.7 -1h1.7m80.3 -6h1.7m-76.7 28h1.7m48.3 -1h1.7m-30.7 -24h1.7m-36.7 5h1.7m77.3 -8h1.7m-58.7 -13h1.7m12.3 9h1.7m8.3 0h1.7m-12.7 0h1.7m21.3 -15h1.7m-4.7 9h1.7m-62.7 -4h1.7m97.3 32h1.7m-43.7 -16h1.7m-18.7 -5h1.7m34.3 -15h1.7m-25.7 1h1.7m48.3 11h1.7m-37.7 -24h1.7m-18.7 13h1.7m-49.7 5h1.7m61.3 14h1.7m11.3 26h1.7m-32.7 -29h1.7m-4.7 0h1.7m0.3 -21h1.7m2.3 25h1.7m47.3 -34h1.7m-68.7 55h1.7m-15.7 -41h1.7m3.3 18h1.7m11.3 -46h1.7m13.3 52h1.7m16.3 20h1.7m-0.7 -42h1.7m-23.7 27h1.7m11.3 -26h1.7m-20.7 6h1.7m-9.7 8h1.7m26.3 -17h1.7m-0.7 -3h1.7m44.3 42h1.7m-93.7 -1h1.7m54.3 -65h1.7m-39.7 31h1.7m74.3 31h1.7m-99.7 -16h1.7m6.3 -23h1.7m47.3 1h1.7m6.3 11h1.7m-17.7 8h1.7m-12.7 22h1.7m-39.7 -39h1.7m44.3 8h1.7m-2.7 20h1.7m-16.7 -28h1.7m-1.7 -10h1.7m3.3 21h1.7m-25.7 7h1.7m22.3 5h1.7m-7.7 -9h1.7m-22.7 -8h1.7m54.3 29h1.7m-44.7 -50h1.7m-41.7 15h1.7m81.3 23h1.7m13.3 -27h1.7m-20.7 13h1.7m-51.7 15h1.7m-3.7 3h1.7m-0.7 -3h1.7m39.3 -10h1.7m8.3 13h1.7m-18.7 -22h1.7m15.3 -13h1.7m-22.7 -7h1.7m-0.7 46h1.7m-21.7 -36h1.7m25.3 16h1.7m15.3 4h1.7m-21.7 -11h1.7m-20.7 39h1.7m-3.7 -3h1.7m46.3 -19h1.7m-6.7 19h1.7m-17.7 -34h1.7m-53.7 46h1.7m45.3 -78h1.7m19.3 18h1.7m-36.7 10h1.7m7.3 1h1.7m-29.7 -2h1.7m27.3 18h1.7m20.3 -36h1.7m-30.7 26h1.7m-17.7 24h1.7m45.3 -25h1.7m-0.7 68h1.7m-54.7 -8h1.7m-0.7 3h1.7m39.3 16h1.7m-23.7 14h1.7m26.3 0h1.7m-38.7 -3h1.7m29.3 -21h1.7m-13.7 11h1.7m40.3 -22h1.7m-20.7 17h1.7m-21.7 23h1.7m-13.7 -40h1.7m17.3 19h1.7m-48.7 10h1.7m-7.7 -20h1.7m33.3 -12h1.7m-34.7 37h1.7m7.3 2h1.7m-6.7 -15h1.7m18.3 3h1.7m22.3 -23h1.7m-30.7 28h1.7m6.3 -36h1.7m0.3 28h1.7m5.3 -22h1.7m-10.7 14h1.7m-14.7 -4h1.7m13.3 6h1.7m16.3 4h1.7m-14.7 -24h1.7m20.3 32h1.7m-19.7 13h1.7m-5.7 -5h1.7m-4.7 -18h1.7m3.3 0h1.7m0.3 4h1.7m-10.7 -39h1.7m-0.7 26h1.7m-7.7 -1h1.7m-15.7 13h1.7m10.3 -16h1.7m-2.7 8h1.7m-6.7 2h1.7m10.3 5h1.7m32.3 9h1.7m-8.7 -4h1.7m-29.7 -21h1.7m4.3 -2h1.7m-11.7 -2h1.7m-13.7 21h1.7m20.3 17h1.7m22.3 -36h1.7m-15.7 9h1.7m-32.7 0h1.7m6.3 26h1.7m13.3 -26h1.7m34.3 23h1.7m5.3 -21h1.7m-79.7 23h1.7m12.3 -28h1.7m25.3 10h1.7m-16.7 22h1.7m5.3 -50h1.7m4.3 27h1.7m-3.7 0h1.7m-8.7 17h1.7m-17.7 -13h1.7m22.3 7h1.7m-31.7 -6h1.7m27.3 21h1.7m-20.7 -17h1.7m-6.7 4h1.7m17.3 -48h1.7m-17.7 28h1.7m-18.7 11h1.7m41.3 -13h1.7m-8.7 -2h1.7m-12.7 15h1.7m34.3 6h1.7m-22.7 -8h1.7m-0.7 -13h1.7m27.3 8h1.7m-47.7 28h1.7m-16.7 -34h1.7m-23.7 33h1.7m73.3 -29h1.7m-39.7 4h1.7m29.3 -9h1.7m1.3 8h1.7m-37.7 -13h1.7m20.3 9h1.7m-34.7 10h1.7m5.3 -5h1.7m10.3 25h1.7m-14.7 -39h1.7m1.3 10h1.7m15.3 8h1.7m1.3 -12h1.7m-1.7 15h1.7m18.3 12h1.7m-38.7 0h1.7m-4.7 -5h1.7m18.3 -6h1.7m7.3 -21h1.7m-3.7 29h1.7m-11.7 -26h1.7m-20.7 21h1.7m13.3 -37h1.7m-22.7 23h1.7m11.3 2h1.7m13.3 21h1.7m14.3 -10h1.7m-8.7 -22h1.7m-0.7 15h1.7m-19.7 -14h1.7m-51.7 35h1.7m22.3 -24h1.7m-4.7 -19h1.7m66.3 15h1.7m-6.7 -18h1.7m-50.7 23h1.7m-1.7 -4h1.7m5.3 4h1.7m20.3 -3h1.7m-52.7 0h1.7m-14.7 -1h1.7m60.3 -1h1.7m8.3 5h1.7m-2.7 -14h1.7m-23.7 -20h1.7m-0.7 50h1.7m2.3 -35h1.7m-2.7 40h1.7m-24.7 -31h1.7m-10.7 18h1.7m32.3 -4h1.7m-47.7 -5h1.7m28.3 13h1.7m-15.7 2h1.7m33.3 -15h1.7m-2.7 14h1.7m-7.7 11h1.7m-17.7 2h1.7m22.3 -32h1.7m-12.7 -2h1.7m-8.7 -2h1.7m-3.7 19h1.7m-10.7 2h1.7m47.3 -15h1.7m-57.7 9h1.7m42.3 7h1.7m-2.7 -27h1.7m-32.7 12h1.7m-3.7 27h1.7m7.3 -39h1.7m0.3 16h1.7m7.3 -12h1.7m-42.7 13h1.7m48.3 -18h1.7m-38.7 11h1.7m-14.7 14h1.7m30.3 -13h1.7m-45.7 -22h1.7m46.3 28h1.7m-25.7 7h1.7m47.3 10h1.7m-14.7 -11h1.7m-73.7 -14h1.7m80.3 -1h1.7m-22.7 22h1.7m27.3 -1h1.7m-25.7 -38h1.7m-11.7 32h1.7m-8.7 0h1.7m35.3 -63h1.7m-16.7 55h1.7m25.3 -25h1.7m-25.7 19h1.7m-18.7 0h1.7m-47.7 -15h1.7m76.3 36h1.7m-48.7 -5h1.7m6.3 -2h1.7m-4.7 -3h1.7m8.3 9h1.7m-0.7 1h1.7m-11.7 -10h1.7m9.3 -26h1.7m-10.7 47h1.7m-37.7 -22h1.7m72.3 2h1.7m-38.7 -5h1.7m6.3 -14h1.7m-22.7 -1h1.7m9.3 36h1.7m1.3 -19h1.7m-3.7 11h1.7m19.3 -15h1.7m-2.7 -17h1.7m5.3 29h1.7m-23.7 -4h1.7m16.3 8h1.7m-0.7 -6h1.7m6.3 -17h1.7m3.3 -3h1.7m-47.7 14h1.7m14.3 -10h1.7m-16.7 10h1.7m21.3 6h1.7m13.3 -14h1.7m-38.7 24h1.7m-4.7 -9h1.7m14.3 7h1.7m-10.7 -10h1.7m40.3 7h1.7m-28.7 -25h1.7m22.3 2h1.7m-36.7 4h1.7m48.3 25h1.7m-41.7 -15h1.7m-31.7 11h1.7m20.3 -43h1.7m-15.7 6h1.7m-32.7 17h1.7m-1.7 7h1.7m63.3 -14h1.7m20.3 15h1.7m-65.7 7h1.7m40.3 -25h1.7m5.3 4h1.7m3.3 2h1.7m-46.7 19h1.7m29.3 -12h1.7m-13.7 17h1.7m14.3 -12h1.7m2.3 -22h1.7m-16.7 15h1.7m-68.7 10h1.7m72.3 -7h1.7m-26.7 26h1.7m14.3 -44h1.7m-3.7 1h1.7m-38.7 -12h1.7m38.3 32h1.7m-23.7 -25h1.7m37.3 16h1.7m0.3 18h1.7m-35.7 -19h1.7m17.3 4h1.7m8.3 19h1.7m-23.7 -19h1.7m-4.7 6h1.7m0.3 15h1.7m17.3 -1h1.7m3.3 -13h1.7m-27.7 -3h1.7m-20.7 9h1.7m24.3 -22h1.7m-32.7 1h1.7m47.3 26h1.7m-26.7 -13h1.7m45.3 -4h1.7m-47.7 -23h1.7m-2.7 7h1.7m-10.7 21h1.7m-28.7 -10h1.7m-1.7 -20h1.7m44.3 9h1.7m-5.7 37h1.7m7.3 2h1.7m11.3 -24h1.7m17.3 16h1.7m-114.7 -26h1.7m66.3 16h1.7m-9.7 -18h1.7m18.3 -2h1.7m-24.7 25h1.7m32.3 -10h1.7m-16.7 10h1.7m5.3 0h1.7m7.3 -1h1.7m-16.7 -30h1.7m-21.7 8h1.7m-8.7 20h1.7m-7.7 8h1.7m38.3 -16h1.7m-48.7 1h1.7m-0.7 -24h1.7m47.3 15h1.7m-35.7 27h1.7m17.3 -3h1.7m26.3 -20h1.7m-8.7 3h1.7m32.3 0h1.7m-51.7 9h1.7m16.3 -7h1.7m-12.7 -20h1.7m-1.7 41h1.7m-4.7 -23h1.7m-24.7 -5h1.7m20.3 3h1.7m4.3 -7h1.7m-40.7 -17h1.7m29.3 41h1.7m4.3 -20h1.7m-23.7 29h1.7m17.3 -36h1.7m4.3 27h1.7m-38.7 -10h1.7m37.3 7h1.7m2.3 -20h1.7m-17.7 29h1.7m-26.7 -16h1.7m46.3 -11h1.7m-17.7 33h1.7m11.3 -9h1.7m-45.7 -21h1.7m19.3 8h1.7m0.3 19h1.7m-34.7 -31h1.7m42.3 18h1.7m-47.7 0h1.7m-12.7 -10h1.7m42.3 24h1.7m28.3 -19h1.7m-23.7 -3h1.7m-1.7 17h1.7m-53.7 -23h1.7m41.3 6h1.7m-54.7 -19h1.7m27.3 12h1.7m53.3 17h1.7m-18.7 7h1.7m-45.7 3h1.7m40.3 -16h1.7m-51.7 -10h1.7m64.3 27h1.7m8.3 -32h1.7m-62.7 -6h1.7m23.3 15h1.7m15.3 4h1.7m-24.7 9h1.7m40.3 -9h1.7m-11.7 -5h1.7m-1.7 1h1.7m-28.7 11h1.7m-13.7 5h1.7m-13.7 -17h1.7m31.3 4h1.7m-15.7 24h1.7m-17.7 -1h1.7m8.3 -52h1.7m19.3 50h1.7m-15.7 -3h1.7m-20.7 -14h1.7m10.3 2h1.7m-23.7 10h1.7m8.3 -10h1.7m3.3 7h1.7m36.3 -2h1.7m-31.7 -8h1.7m9.3 0h1.7m0.3 16h1.7m-32.7 -33h1.7m33.3 38h1.7m-5.7 -29h1.7m26.3 -23h1.7m-60.7 17h1.7m53.3 27h1.7m-25.7 -13h1.7m-12.7 18h1.7m15.3 -39h1.7m-34.7 1h1.7m23.3 22h1.7m-27.7 15h1.7m17.3 -13h1.7m-17.7 -32h1.7m8.3 8h1.7m26.3 36h1.7m-42.7 -40h1.7m22.3 28h1.7m-28.7 -14h1.7m22.3 -23h1.7m-22.7 27h1.7m-0.7 7h1.7m48.3 0h1.7m-58.7 14h1.7m34.3 -17h1.7m-22.7 -33h1.7m-19.7 6h1.7m35.3 22h1.7m-26.7 15h1.7m-16.7 -18h1.7m0.3 -22h1.7m38.3 2h1.7m-20.7 12h1.7m14.3 35h1.7m-37.7 -29h1.7m65.3 29h1.7m-41.7 -41h1.7m4.3 37h1.7m-12.7 -22h1.7m-10.7 6h1.7m48.3 6h1.7m-5.7 -20h1.7m-54.7 5h1.7m27.3 -7h1.7m29.3 14h1.7m-53.7 0h1.7m-28.7 6h1.7m70.3 -9h1.7m-54.7 19h1.7m35.3 -8h1.7m-39.7 -22h1.7m41.3 10h1.7m0.3 4h1.7m7.3 22h1.7m-27.7 -34h1.7m16.3 38h1.7m-20.7 -5h1.7m-11.7 -7h1.7m39.3 -7h1.7m-33.7 -20h1.7m12.3 -2h1.7m-80.7 11h1.7m95.3 -2h1.7m-17.7 -4h1.7m-9.7 30h1.7m7.3 -35h1.7m-27.7 19h1.7m-8.7 -7h1.7m31.3 -29h1.7m26.3 20h1.7m-53.7 1h1.7m14.3 29h1.7m-33.7 -34h1.7m-8.7 19h1.7m52.3 -8h1.7m-51.7 12h1.7m29.3 -27h1.7m-12.7 22h1.7m20.3 -14h1.7m7.3 35h1.7m-40.7 -10h1.7m23.3 -21h1.7m36.3 -16h1.7m-38.7 7h1.7m-28.7 36h1.7m29.3 6h1.7m-14.7 -33h1.7m-13.7 29h1.7m13.3 -7h1.7m-21.7 -13h1.7m18.3 25h1.7m-0.7 -42h1.7m32.3 44h1.7m-33.7 -37h1.7m-1.7 2h1.7m-5.7 5h1.7m-21.7 0h1.7m10.3 -16h1.7m0.3 36h1.7m15.3 -23h1.7m23.3 -2h1.7m-40.7 26h1.7m40.3 -63h1.7m-24.7 44h1.7m-25.7 6h1.7m-11.7 10h1.7m33.3 -16h1.7m-7.7 14h1.7m8.3 -17h1.7m-97.7 -1h1.7m68.3 20h1.7m22.3 -20h1.7m-40.7 -1h1.7m6.3 15h1.7m26.3 -13h1.7m31.3 -9h1.7m-73.7 32h1.7m36.3 -28h1.7m-39.7 24h1.7m-1.7 0h1.7m-21.7 -57h1.7m46.3 56h1.7m-1.7 -7h1.7m-7.7 -7h1.7m-32.7 15h1.7m37.3 -26h1.7m-7.7 11h1.7m34.3 -25h1.7m-48.7 27h1.7m0.3 -10h1.7m6.3 17h1.7m-13.7 -17h1.7m25.3 -27h1.7m-18.7 57h1.7m13.3 -2h1.7m-24.7 -15h1.7m38.3 -24h1.7m-42.7 16h1.7m14.3 -4h1.7m-3.7 11h1.7m14.3 6h1.7m-27.7 0h1.7m15.3 3h1.7m-32.7 -31h1.7m-43.7 16h1.7m77.3 7h1.7m-6.7 -11h1.7m-47.7 4h1.7m15.3 17h1.7m-24.7 -24h1.7m-2.7 15h1.7m-8.7 -15h1.7m58.3 28h1.7m-18.7 -51h1.7m-0.7 13h1.7m9.3 24h1.7m-11.7 5h1.7m15.3 -5h1.7m-26.7 2h1.7m3.3 -36h1.7m-2.7 5h1.7m2.3 17h1.7m-6.7 -12h1.7m7.3 34h1.7m-4.7 -39h1.7m-5.7 31h1.7m28.3 9h1.7m-30.7 -20h1.7m-0.7 3h1.7m2.3 -18h1.7m20.3 35h1.7m-55.7 -30h1.7m21.3 34h1.7m4.3 -25h1.7m10.3 27h1.7m10.3 -36h1.7m-26.7 -11h1.7m21.3 33h1.7m-20.7 -32h1.7m-13.7 30h1.7m-25.7 -12h1.7m72.3 -2h1.7m-66.7 -2h1.7m33.3 22h1.7m-22.7 -35h1.7m0.3 17h1.7m6.3 -1h1.7m-8.7 15h1.7m8.3 -20h1.7m-15.7 0h1.7m-6.7 13h1.7m21.3 -9h1.7m-22.7 23h1.7m13.3 -24h1.7m-4.7 6h1.7m1.3 5h1.7m-13.7 0h1.7m22.3 -39h1.7m5.3 34h1.7m-6.7 24h1.7m-8.7 -38h1.7m32.3 40h1.7m-30.7 -31h1.7m-25.7 32h1.7m11.3 -63h1.7m-28.7 38h1.7m61.3 3h1.7m-32.7 14h1.7m26.3 -5h1.7m-64.7 1h1.7m-2.7 -145h1.7m45.3 -3h1.7m-24.7 1h1.7m18.3 -11h1.7m-25.7 -21h1.7m-35.7 28h1.7m47.3 -6h1.7m29.3 5h1.7m-55.7 11h1.7m17.3 -14h1.7m-7.7 -18h1.7m-28.7 31h1.7m113.3 -24h1.7m-162.7 11h1.7m147.3 -22h1.7m-85.7 22h1.7m42.3 -2h1.7m-89.7 3h1.7m120.3 -13h1.7m-58.7 -1h1.7m16.3 -3h1.7m-61.7 16h1.7m12.3 -10h1.7m22.3 -5h1.7m0.3 14h1.7m6.3 -19h1.7m-19.7 9h1.7m3.3 2h1.7m21.3 8h1.7m7.3 -5h1.7m-43.7 -11h1.7m33.3 0h1.7m-29.7 -1h1.7m-17.7 12h1.7m32.3 1h1.7m-0.7 -1h1.7m70.3 -7h1.7m-126.7 34h1.7m43.3 -21h1.7m19.3 -2h1.7m-10.7 4h1.7m-46.7 -5h1.7m38.3 0h1.7m10.3 -5h1.7m-32.7 -20h1.7m53.3 16h1.7m-14.7 -5h1.7m-10.7 0h1.7m52.3 9h1.7m-56.7 -4h1.7m-15.7 26h1.7m-48.7 -7h1.7m2.3 -26h1.7m57.3 16h1.7m-33.7 -1h1.7m66.3 -16h1.7m-62.7 5h1.7m-11.7 8h1.7m-10.7 7h1.7m-5.7 -8h1.7m35.3 -14h1.7m-3.7 1h1.7m14.3 21h1.7m-35.7 -3h1.7m11.3 -8h1.7m19.3 -1h1.7m-17.7 16h1.7m-9.7 -12h1.7m-29.7 -1h1.7m11.3 -8h1.7m55.3 2h1.7m-56.7 24h1.7m-4.7 -10h1.7m45.3 -9h1.7m-45.7 -9h1.7m-23.7 18h1.7m11.3 7h1.7m59.3 -10h1.7m-79.7 1h1.7m20.3 5h1.7m-0.7 9h1.7m-15.7 -50h1.7m15.3 41h1.7m-62.7 -7h1.7m27.3 0h1.7m35.3 -12h1.7m-45.7 16h1.7m46.3 -16h1.7m-2.7 25h1.7m-9.7 1h1.7m-8.7 -15h1.7m1.3 -11h1.7m-8.7 -5h1.7m14.3 13h1.7m-63.7 9h1.7m66.3 -10h1.7m-4.7 -6h1.7m27.3 6h1.7m15.3 38h1.7m-37.7 -33h1.7m32.3 -17h1.7m-59.7 27h1.7m-11.7 -8h1.7m15.3 -18h1.7m-10.7 21h1.7m11.3 12h1.7m12.3 -14h1.7m-62.7 -1h1.7m80.3 -7h1.7m-12.7 -8h1.7m-29.7 -5h1.7m6.3 12h1.7m-43.7 8h1.7m17.3 -5h1.7m-7.7 -11h1.7m46.3 26h1.7m-36.7 -22h1.7m34.3 9h1.7m-35.7 1h1.7m33.3 5h1.7m1.3 -1h1.7m-2.7 -10h1.7m-24.7 13h1.7m14.3 -15h1.7m-35.7 25h1.7m5.3 -15h1.7m16.3 2h1.7m-32.7 -3h1.7m54.3 1h1.7m-57.7 -13h1.7m17.3 6h1.7m-3.7 15h1.7m19.3 -15h1.7m-28.7 5h1.7m15.3 14h1.7m-11.7 -22h1.7m-3.7 12h1.7m36.3 -19h1.7m-4.7 -5h1.7m-20.7 27h1.7m-28.7 -35h1.7m-30.7 36h1.7m18.3 -4h1.7m12.3 -7h1.7m15.3 8h1.7m-50.7 2h1.7m61.3 -5h1.7m-24.7 -2h1.7m-7.7 4h1.7m7.3 -1h1.7m-3.7 2h1.7m-58.7 2h1.7m59.3 -4h1.7m-0.7 -15h1.7m13.3 13h1.7m-22.7 -6h1.7m-34.7 1h1.7m67.3 7h1.7m-59.7 -1h1.7m50.3 4h1.7m14.3 -30h1.7m-56.7 27h1.7m27.3 -26h1.7m3.3 27h1.7m0.3 -7h1.7m-90.7 -3h1.7m92.3 3h1.7m-43.7 15h1.7m16.3 -21h1.7m1.3 10h1.7m3.3 8h1.7m11.3 -13h1.7m-63.7 11h1.7m25.3 -8h1.7m-7.7 14h1.7m47.3 -26h1.7m-30.7 15h1.7m-11.7 -8h1.7m13.3 5h1.7m-15.7 5h1.7m29.3 3h1.7m-55.7 4h1.7m48.3 -3h1.7m-8.7 -1h1.7m16.3 -9h1.7m-23.7 4h1.7m10.3 3h1.7m3.3 -1h1.7m-11.7 -17h1.7m-22.7 11h1.7m-10.7 -4h1.7m5.3 22h1.7m28.3 2h1.7m-13.7 -27h1.7m-5.7 -3h1.7m-42.7 7h1.7m68.3 -7h1.7m-48.7 23h1.7m21.3 4h1.7m7.3 -25h1.7m-39.7 4h1.7m-21.7 12h1.7m52.3 -4h1.7m50.3 -17h1.7m-63.7 16h1.7m-35.7 6h1.7m45.3 -15h1.7m-32.7 29h1.7m19.3 -11h1.7m-8.7 -11h1.7m31.3 5h1.7m-46.7 2h1.7m34.3 1h1.7m-33.7 -21h1.7m-14.7 25h1.7m34.3 -53h1.7m-43.7 56h1.7m54.3 -23h1.7m-45.7 -1h1.7m12.3 11h1.7m-51.7 19h1.7m22.3 -13h1.7m-12.7 -1h1.7m31.3 -12h1.7m-35.7 13h1.7m23.3 -14h1.7m-11.7 -5h1.7m52.3 -4h1.7m-53.7 13h1.7m8.3 8h1.7m24.3 -2h1.7m9.3 -16h1.7m-53.7 19h1.7m-13.7 -16h1.7m36.3 15h1.7m-7.7 -14h1.7m4.3 13h1.7m23.3 -25h1.7m-53.7 25h1.7m69.3 -17h1.7m-27.7 11h1.7m-40.7 7h1.7m23.3 -15h1.7m-4.7 18h1.7m-20.7 -21h1.7m-13.7 6h1.7m44.3 -3h1.7m-36.7 20h1.7m27.3 -7h1.7m-32.7 2h1.7m26.3 -27h1.7m-46.7 26h1.7m17.3 2h1.7m17.3 -18h1.7m-17.7 15h1.7m50.3 -5h1.7m-68.7 8h1.7m34.3 2h1.7m-24.7 17h1.7m33.3 -38h1.7m23.3 7h1.7m-21.7 -7h1.7m-20.7 17h1.7m-13.7 -12h1.7m-12.7 11h1.7m44.3 1h1.7m-23.7 -5h1.7m-14.7 -2h1.7m9.3 8h1.7m-21.7 1h1.7m-39.7 3h1.7m96.3 -20h1.7m-85.7 11h1.7m52.3 -14h1.7m-18.7 2h1.7m-5.7 23h1.7m-42.7 -14h1.7m36.3 24h1.7m5.3 -25h1.7m-32.7 5h1.7m34.3 -4h1.7m5.3 4h1.7m30.3 -2h1.7m-32.7 -1h1.7m28.3 -16h1.7m-76.7 19h1.7m67.3 -5h1.7m-66.7 12h1.7m27.3 17h1.7m7.3 -29h1.7m-44.7 14h1.7m78.3 -8h1.7m-13.7 -6h1.7m-44.7 -7h1.7m7.3 0h1.7m5.3 7h1.7m-36.7 -1h1.7m68.3 -5h1.7m-35.7 13h1.7m12.3 -16h1.7m-64.7 10h1.7m79.3 -7h1.7m-28.7 9h1.7m12.3 2h1.7m-9.7 -13h1.7m-7.7 2h1.7m12.3 -1h1.7m-50.7 3h1.7m41.3 6h1.7m-12.7 0h1.7m-3.7 6h1.7m-42.7 -8h1.7m4.3 15h1.7m54.3 -18h1.7m-63.7 12h1.7m73.3 -19h1.7m-46.7 13h1.7m46.3 -5h1.7m-39.7 3h1.7m-1.7 -6h1.7m-35.7 3h1.7m38.3 2h1.7m-37.7 2h1.7m7.3 4h1.7m42.3 -3h1.7m15.3 5h1.7m-62.7 -8h1.7m25.3 -10h1.7m3.3 16h1.7m-15.7 4h1.7m-29.7 -13h1.7m4.3 10h1.7m-22.7 13h1.7m27.3 -27h1.7m-12.7 7h1.7m-28.7 -4h1.7m73.3 7h1.7m-4.7 -14h1.7m-18.7 11h1.7m8.3 -1h1.7m6.3 7h1.7m-1.7 -3h1.7m-12.7 -3h1.7m-3.7 22h1.7m-2.7 -24h1.7m-0.7 -7h1.7m-29.7 15h1.7m30.3 -18h1.7m12.3 23h1.7m-35.7 -10h1.7m37.3 9h1.7m-113.7 -4h1.7m79.3 -10h1.7m-16.7 3h1.7m9.3 8h1.7m-10.7 5h1.7m-58.7 -5h1.7m77.3 -8h1.7m-23.7 10h1.7m-4.7 -4h1.7m23.3 -3h1.7m-7.7 7h1.7m-22.7 -5h1.7m-18.7 7h1.7m17.3 8h1.7m-4.7 -19h1.7m19.3 0h1.7m-12.7 -1h1.7m28.3 -12h1.7m-33.7 12h1.7m-40.7 4h1.7m76.3 2h1.7m-58.7 -2h1.7m44.3 10h1.7m15.3 -30h1.7m-40.7 14h1.7m-15.7 9h1.7m20.3 2h1.7m12.3 -19h1.7m-24.7 13h1.7m22.3 8h1.7m-28.7 10h1.7m9.3 -21h1.7m30.3 -18h1.7m-26.7 17h1.7m-7.7 -14h1.7m-3.7 23h1.7m-1.7 -14h1.7m-16.7 4h1.7m27.3 -5h1.7m-54.7 21h1.7m25.3 -7h1.7m16.3 -10h1.7m-12.7 8h1.7m33.3 -14h1.7m-55.7 33h1.7m40.3 -16h1.7m17.3 14h1.7m-39.7 -34h1.7m-14.7 16h1.7m2.3 1h1.7m12.3 5h1.7m23.3 0h1.7m-17.7 -8h1.7m-24.7 22h1.7m-5.7 -21h1.7m-6.7 -15h1.7m38.3 8h1.7m-15.7 24h1.7m2.3 -2h1.7m-30.7 -1h1.7m14.3 -5h1.7m-32.7 -14h1.7m65.3 1h1.7m-31.7 9h1.7m5.3 -13h1.7m-31.7 16h1.7m14.3 -12h1.7m21.3 5h1.7m-61.7 -1h1.7m38.3 -1h1.7m-58.7 5h1.7m54.3 5h1.7m24.3 -12h1.7m-32.7 13h1.7m68.3 -18h1.7m-65.7 5h1.7m-19.7 9h1.7m-4.7 8h1.7m8.3 -32h1.7m-53.7 17h1.7m40.3 -4h1.7m23.3 -5h1.7m-35.7 23h1.7m0.3 -19h1.7m13.3 0h1.7m28.3 -11h1.7m-2.7 18h1.7m24.3 7h1.7m-42.7 11h1.7m-47.7 -21h1.7m70.3 -9h1.7m-64.7 28h1.7m70.3 -19h1.7m-50.7 -16h1.7m-23.7 16h1.7m-36.7 35h1.7m45.3 -31h1.7m26.3 10h1.7m27.3 -1h1.7m-81.7 -5h1.7m21.3 12h1.7m39.3 -22h1.7m-29.7 12h1.7m3.3 -20h1.7m-47.7 27h1.7m58.3 -24h1.7m-71.7 14h1.7m20.3 -6h1.7m32.3 -5h1.7m-2.7 3h1.7m52.3 14h1.7m-87.7 -22h1.7m2.3 20h1.7m78.3 -16h1.7m-84.7 12h1.7m100.3 -20h1.7m-81.7 27h1.7m27.3 -20h1.7m-11.7 14h1.7m-51.7 -12h1.7m49.3 15h1.7m-7.7 -15h1.7m-6.7 7h1.7m11.3 -9h1.7m2.3 -11h1.7m-40.7 17h1.7m19.3 -10h1.7m13.3 17h1.7m-86.7 10h1.7m44.3 6h1.7m47.3 -36h1.7m-32.7 10h1.7m-22.7 12h1.7m7.3 -11h1.7m33.3 1h1.7m0.3 2h1.7m-28.7 16h1.7m-11.7 -24h1.7m59.3 14h1.7m-109.7 15h1.7m105.3 -29h1.7m-76.7 7h1.7m13.3 31h1.7m-3.7 -15h1.7m-7.7 -7h1.7m31.3 -23h1.7m-37.7 37h1.7m18.3 -19h1.7m15.3 11h1.7m-36.7 -18h1.7m46.3 5h1.7m-7.7 -3h1.7m-9.7 -1h1.7m22.3 22h1.7m-18.7 -33h1.7m0.3 16h1.7m57.3 -8h1.7m-35.7 24h1.7m-52.7 -9h1.7m-2.7 -7h1.7m34.3 -20h1.7m-3.7 21h1.7m-77.7 6h1.7m63.3 -19h1.7m-28.7 -13h1.7m5.3 32h1.7m2.3 -3h1.7m14.3 -15h1.7m-28.7 3h1.7m36.3 -6h1.7m-29.7 -12h1.7m34.3 28h1.7m-1.7 -4h1.7m-43.7 24h1.7m11.3 -31h1.7m-14.7 16h1.7m-0.7 -4h1.7m24.3 -7h1.7m-24.7 -1h1.7m-19.7 9h1.7m57.3 -11h1.7m-13.7 6h1.7m-0.7 -2h1.7m-31.7 4h1.7m58.3 -7h1.7m-95.7 7h1.7m75.3 -5h1.7m6.3 -1h1.7m-70.7 12h1.7m73.3 -5h1.7m-33.7 -7h1.7m10.3 24h1.7m-33.7 -13h1.7m34.3 -19h1.7m-10.7 -3h1.7m-44.7 21h1.7m20.3 -17h1.7m-3.7 28h1.7m-5.7 -4h1.7m-29.7 -10h1.7m-15.7 -12h1.7m30.3 18h1.7m42.3 -9h1.7m-28.7 12h1.7m-25.7 0h1.7m2.3 -23h1.7m-16.7 0h1.7m35.3 12h1.7m-16.7 0h1.7m18.3 3h1.7m-39.7 -5h1.7m27.3 16h1.7m-20.7 2h1.7m21.3 -8h1.7m-30.7 -17h1.7m63.3 18h1.7m-62.7 -4h1.7m18.3 15h1.7m-26.7 -11h1.7m18.3 -2h1.7m8.3 -4h1.7m-77.7 31h1.7m-4.7 -39h1.7m67.3 1h1.7m-61.7 21h1.7m132.3 -27h1.7m-43.7 9h1.7m-36.7 0h1.7m-1.7 0h1.7m28.3 -10h1.7m24.3 -11h1.7m-57.7 34h1.7m20.3 -6h1.7m18.3 -10h1.7m-54.7 18h1.7m-25.7 -14h1.7m74.3 25h1.7m-94.7 -15h1.7m37.3 -12h1.7m6.3 -6h1.7m9.3 4h1.7m-10.7 5h1.7m6.3 0h1.7m1.3 -6h1.7m19.3 -6h1.7m5.3 24h1.7m-61.7 2h1.7m78.3 -35h1.7m-119.7 29h1.7m99.3 -2h1.7m-17.7 -1h1.7m-39.7 -1h1.7m21.3 3h1.7m-21.7 -3h1.7m9.3 4h1.7m1.3 -5h1.7m1.3 3h1.7m41.3 -10h1.7m-72.7 12h1.7m51.3 -16h1.7m-17.7 0h1.7m54.3 -7h1.7m-71.7 -1h1.7m26.3 18h1.7m-26.7 -6h1.7m-4.7 15h1.7m-33.7 -9h1.7m25.3 -10h1.7m9.3 12h1.7m-15.7 -18h1.7m52.3 1h1.7m-14.7 24h1.7m-12.7 -17h1.7m-58.7 -1h1.7m42.3 -2h1.7m1.3 13h1.7m9.3 1h1.7m-45.7 -12h1.7m25.3 -4h1.7m24.3 -5h1.7m-67.7 11h1.7m15.3 -1h1.7m3.3 19h1.7m-2.7 -4h1.7m15.3 -22h1.7m-29.7 19h1.7m35.3 -9h1.7m-29.7 17h1.7m4.3 -11h1.7m9.3 -17h1.7m-1.7 17h1.7m-58.7 2h1.7m19.3 -6h1.7m46.3 -5h1.7m-31.7 4h1.7m14.3 10h1.7m11.3 -5h1.7m-10.7 -39h1.7m-5.7 45h1.7m6.3 -12h1.7m18.3 -6h1.7m-11.7 11h1.7m-66.7 14h1.7m39.3 -20h1.7m19.3 -2h1.7m-29.7 3h1.7m36.3 0h1.7m-5.7 -13h1.7m-0.7 17h1.7m-33.7 -19h1.7m36.3 13h1.7m-34.7 -1h1.7m35.3 13h1.7m17.3 1h1.7m-5.7 -31h1.7m-56.7 40h1.7m-58.7 -19h1.7m79.3 -2h1.7m-26.7 18h1.7m22.3 -18h1.7m7.3 -5h1.7m-27.7 12h1.7m18.3 -5h1.7m15.3 6h1.7m-84.7 7h1.7m77.3 -15h1.7m-60.7 4h1.7m20.3 6h1.7m5.3 0h1.7m-22.7 -9h1.7m11.3 7h1.7m14.3 -15h1.7m9.3 14h1.7m23.3 -8h1.7m-10.7 -10h1.7m-36.7 22h1.7m-3.7 -2h1.7m45.3 -15h1.7m-25.7 -3h1.7m33.3 15h1.7m-69.7 -14h1.7m29.3 13h1.7m-29.7 4h1.7m19.3 18h1.7m-4.7 -13h1.7m-3.7 -15h1.7m-11.7 -4h1.7m29.3 -4h1.7m-53.7 4h1.7m35.3 6h1.7m13.3 10h1.7m-43.7 -7h1.7m-5.7 -6h1.7m-37.7 -10h1.7m47.3 16h1.7m42.3 -9h1.7m-40.7 24h1.7m17.3 -15h1.7m5.3 -12h1.7m-15.7 10h1.7m-52.7 15h1.7m3.3 -13h1.7m31.3 0h1.7m4.3 -4h1.7m-13.7 17h1.7m21.3 -20h1.7m-28.7 -3h1.7m51.3 0h1.7m-35.7 12h1.7m22.3 1h1.7m35.3 -7h1.7m-69.7 -11h1.7m37.3 8h1.7m-59.7 0h1.7m41.3 7h1.7m3.3 -2h1.7m-75.7 -2h1.7m26.3 -3h1.7m40.3 14h1.7m-42.7 -17h1.7m-7.7 29h1.7m27.3 -21h1.7m-6.7 7h1.7m12.3 8h1.7m-1.7 -4h1.7m17.3 -15h1.7m-46.7 14h1.7m38.3 -12h1.7m-13.7 -17h1.7m-73.7 28h1.7m66.3 -14h1.7m34.3 6h1.7m-24.7 1h1.7m9.3 0h1.7m-42.7 5h1.7m45.3 5h1.7m-7.7 -4h1.7m-27.7 -12h1.7m-43.7 10h1.7m26.3 -19h1.7m-19.7 35h1.7m82.3 -60h1.7m-73.7 40h1.7m27.3 4h1.7m27.3 -30h1.7m-10.7 14h1.7m-18.7 -11h1.7m-54.7 3h1.7m69.3 47h1.7m-64.7 -32h1.7m38.3 -19h1.7m8.3 14h1.7m-1.7 17h1.7m-76.7 -51h1.7m57.3 9h1.7m37.3 64h1.7m46.3 -8h1.7m-82.7 -35h1.7m-40.7 -1h1.7m-17.7 -7h1.7m32.3 38h1.7m-22.7 -15h1.7m19.3 -12h1.7m-18.7 23h1.7m82.3 -24h1.7m-117.7 1h1.7m73.3 8h1.7m-12.7 -5h1.7m42.3 24h1.7m-4.7 -7h1.7m38.3 -6h1.7m-100.7 9h1.7m-16.7 -30h1.7m1.3 27h1.7m13.3 -22h1.7m69.3 5h1.7m-99.7 21h1.7m77.3 10h1.7m-26.7 -47h1.7m-74.7 3h1.7m-5.7 22h1.7m17.3 17h1.7m38.3 -18h1.7m-78.7 -2h1.7m32.3 26h1.7m62.3 -25h1.7m-37.7 -6h1.7m46.3 10h1.7m-57.7 21h1.7m-9.7 -57h1.7m26.3 26h1.7m-39.7 9h1.7m38.3 -15h1.7m33.3 16h1.7m-57.7 -27h1.7m10.3 38h1.7m-29.7 -36h1.7m89.3 64h1.7m-1.7 -26h1.7m-98.7 -4h1.7m0.3 -10h1.7m33.3 -11h1.7m0.3 37h1.7m28.3 -56h1.7m7.3 0h1.7m-116.7 -20h1.7m89.3 50h1.7m43.3 20h1.7m-75.7 -53h1.7m26.3 19h1.7m-13.7 -3h1.7m-7.7 36h1.7m-106.7 -22h1.7m126.3 -3h1.7m-49.7 -43h1.7m38.3 52h1.7m-3.7 -24h1.7m-41.7 -7h1.7m11.3 29h1.7m-26.7 -30h1.7m-21.7 5h1.7m50.3 0h1.7m14.3 16h1.7m14.3 8h1.7m-24.7 -18h1.7m-4.7 6h1.7m50.3 32h1.7m-56.7 -13h1.7m53.3 -25h1.7m-10.7 36h1.7m-10.7 -8h1.7m-30.7 -21h1.7m26.3 -15h1.7m71.3 46h1.7m-45.7 -29h1.7m-4.7 -5h1.7m-43.7 25h1.7m14.3 -1h1.7m-14.7 -26h1.7m-29.7 10h1.7m32.3 -9h1.7m-18.7 -13h1.7m-38.7 50h1.7m-37.7 -4h1.7m120.3 -19h1.7m-25.7 -17h1.7m-12.7 23h1.7m8.3 -1h1.7m-40.7 3h1.7m10.3 -30h1.7m78.3 2h1.7m-69.7 -22h1.7m67.3 52h1.7m-21.7 -42h1.7m-117.7 37h1.7m81.3 -10h1.7m-22.7 -9h1.7m-1.7 20h1.7m30.3 21h1.7m-85.7 -38h1.7m22.3 2h1.7m7.3 -13h1.7m42.3 20h1.7m-66.7 -8h1.7m50.3 -14h1.7m16.3 34h1.7m-84.7 -23h1.7m43.3 -23h1.7m33.3 34h1.7m-67.7 -16h1.7m50.3 19h1.7m24.3 -24h1.7m-0.7 22h1.7m-60.7 16h1.7m-17.7 5h1.7m5.3 -24h1.7m43.3 -1h1.7m-34.7 -5h1.7m27.3 10h1.7m45.3 -9h1.7m-102.7 -6h1.7m-7.7 23h1.7m39.3 -31h1.7m40.3 4h1.7m3.3 37h1.7m-38.7 -8h1.7m6.3 -7h1.7m-23.7 -45h1.7m23.3 26h1.7m-25.7 42h1.7m-4.7 -15h1.7m54.3 -24h1.7m-5.7 21h1.7m-62.7 -6h1.7m36.3 19h1.7m-43.7 -55h1.7m22.3 33h1.7m-18.7 -12h1.7m8.3 -11h1.7m-33.7 23h1.7m75.3 10h1.7m-13.7 -13h1.7m-14.7 -23h1.7m12.3 4h1.7m23.3 17h1.7m-67.7 16h1.7m49.3 -35h1.7m-71.7 34h1.7m111.3 -14h1.7m11.3 3h1.7m-108.7 -2h1.7m77.3 12h1.7m-59.7 -10h1.7m-7.7 14h1.7m-8.7 -36h1.7m-10.7 9h1.7m4.3 36h1.7m14.3 -9h1.7m-100.7 -32h1.7m38.3 45h1.7m51.3 -17h1.7m-16.7 -10h1.7m-7.7 8h1.7m-5.7 0h1.7m-6.7 25h1.7m43.3 -46h1.7m-88.7 17h1.7m120.3 -15h1.7m-58.7 39h1.7m-18.7 -49h1.7m51.3 1h1.7m-37.7 43h1.7m61.3 -42h1.7m-136.7 44h1.7m75.3 -45h1.7m-57.7 21h1.7m4.3 4h1.7m-6.7 -14h1.7m111.3 43h1.7m-73.7 -58h1.7m-17.7 50h1.7m28.3 6h1.7m1.3 -26h1.7m14.3 -17h1.7m-80.7 23h1.7m157.3 -8h1.7m-19.7 -28h1.7m-160.7 8h1.7m156.3 -21h1.7m-111.7 38h1.7m67.3 -21h1.7m-22.7 21h1.7m-15.7 -37h1.7m-47.7 61h1.7m55.3 -22h1.7m45.3 -19h1.7m-91.7 -3h1.7m-36.7 21h1.7m55.3 -23h1.7m-42.7 17h1.7m124.3 -3h1.7m-144.7 15h1.7m134.3 -8h1.7m-81.7 -8h1.7m15.3 15h1.7m14.3 26h1.7m-26.7 -24h1.7m6.3 -31h1.7m-13.7 38h1.7m5.3 11h1.7m52.3 -16h1.7m-114.7 -21h1.7m49.3 29h1.7m12.3 -26h1.7m64.3 29h1.7m-57.7 -29h1.7m-23.7 -15h1.7m-35.7 16h1.7m137.3 -4h1.7m-121.7 10h1.7m10.3 15h1.7m-21.7 -60h1.7m37.3 31h1.7m-5.7 -9h1.7m68.3 38h1.7m-58.7 -27h1.7m-45.7 16h1.7m69.3 -7h1.7m-64.7 -14h1.7m32.3 14h1.7m-8.7 8h1.7m61.3 -1h1.7m-75.7 -4h1.7m-24.7 25h1.7m24.3 -59h1.7m-106.7 30h1.7m142.3 -20h1.7m13.3 37h1.7m-75.7 7h1.7m26.3 -35h1.7m-5.7 -14h1.7m16.3 15h1.7m-1.7 2h1.7m-55.7 -15h1.7m21.3 14h1.7m-85.7 -5h1.7m90.3 26h1.7m81.3 -3h1.7m-83.7 -15h1.7m13.3 19h1.7m-29.7 -11h1.7m30.3 -7h1.7m9.3 9h1.7m-21.7 -14h1.7m-23.7 -9h1.7m6.3 21h1.7m-28.7 -9h1.7m-12.7 23h1.7m35.3 0h1.7m-40.7 3h1.7m-99.7 -37h1.7m156.3 20h1.7m10.3 -24h1.7m-42.7 31h1.7m-47.7 2h1.7m72.3 -9h1.7m-61.7 29h1.7m-23.7 -11h1.7m44.3 -21h1.7m21.3 -7h1.7m0.3 12h1.7m-101.7 13h1.7m99.3 -15h1.7m-131.7 -8h1.7m100.3 -13h1.7m-23.7 18h1.7m50.3 -10h1.7m-32.7 17h1.7m43.3 -4h1.7m-18.7 20h1.7m-10.7 -14h1.7m-51.7 0h1.7m98.3 -7h1.7m-73.7 -3h1.7m39.3 -20h1.7m-69.7 35h1.7m62.3 -1h1.7m-56.7 2h1.7m57.3 -13h1.7m-56.7 12h1.7m25.3 -2h1.7m-14.7 -9h1.7m5.3 -22h1.7m43.3 1h1.7m-41.7 22h1.7m34.3 3h1.7m-53.7 4h1.7m3.3 -22h1.7m43.3 10h1.7m4.3 -8h1.7m21.3 14h1.7m-3.7 -6h1.7m-50.7 17h1.7m-47.7 -8h1.7m72.3 28h1.7m20.3 -79h1.7m-26.7 40h1.7m-64.7 14h1.7m38.3 -14h1.7m-24.7 -5h1.7m9.3 7h1.7m11.3 45h1.7m-2.7 -57h1.7m-37.7 11h1.7m16.3 -17h1.7m25.3 2h1.7m-2.7 32h1.7m34.3 6h1.7m-35.7 -41h1.7m-76.7 19h1.7m92.3 15h1.7m-26.7 5h1.7m32.3 -48h1.7m-10.7 7h1.7m21.3 9h1.7m-13.7 -18h1.7m-107.7 43h1.7m56.3 -12h1.7m-10.7 8h1.7m32.3 11h1.7m-25.7 -7h1.7m-45.7 6h1.7m67.3 -31h1.7m-57.7 -4h1.7m41.3 28h1.7m-23.7 -13h1.7m-71.7 29h1.7m82.3 -22h1.7m-14.7 -2h1.7m40.3 -3h1.7m-77.7 -15h1.7m16.3 17h1.7m93.3 18h1.7m-74.7 -21h1.7m19.3 -6h1.7m-50.7 30h1.7m29.3 -6h1.7m19.3 -29h1.7m-41.7 38h1.7m26.3 -41h1.7m-11.7 26h1.7m2.3 15h1.7m34.3 -23h1.7m-71.7 23h1.7m52.3 -6h1.7m-0.7 10h1.7m-53.7 -23h1.7m36.3 -20h1.7m79.3 18h1.7m-80.7 7h1.7m8.3 -35h1.7m-15.7 48h1.7m-42.7 -27h1.7m-19.7 23h1.7m139.3 -8h1.7m-115.7 -18h1.7m13.3 11h1.7m18.3 -16h1.7m-10.7 38h1.7m-1.7 15h1.7m10.3 -66h1.7m-54.7 7h1.7m20.3 38h1.7m7.3 34h1.7m-13.7 -80h1.7m123.3 52h1.7m-100.7 -28h1.7m-31.7 -17h1.7m23.3 29h1.7m38.3 29h1.7m-4.7 -38h1.7m-28.7 2h1.7m-39.7 -23h1.7m11.3 37h1.7m-31.7 -9h1.7m38.3 3h1.7m-17.7 -5h1.7m-46.7 -8h1.7m121.3 12h1.7m-55.7 -15h1.7m-34.7 -2h1.7m97.3 33h1.7m-81.7 -48h1.7m72.3 0h1.7m-57.7 37h1.7m-35.7 -41h1.7m64.3 33h1.7m-0.7 10h1.7m-85.7 2h1.7m21.3 -37h1.7m-40.7 3h1.7m43.3 11h1.7m-1.7 -4h1.7m-35.7 -14h1.7m107.3 -12h1.7m-102.7 2h1.7m-20.7 24h1.7m92.3 30h1.7m-96.7 -19h1.7m48.3 -17h1.7m8.3 5h1.7m-29.7 18h1.7m36.3 -22h1.7m-21.7 -9h1.7m-36.7 6h1.7m60.3 40h1.7m-11.7 -29h1.7m-16.7 33h1.7m31.3 -58h1.7m-46.7 24h1.7m59.3 29h1.7m-101.7 3h1.7m76.3 -7h1.7m-53.7 -32h1.7m22.3 14h1.7m3.3 21h1.7m-104.7 -21h1.7m59.3 -5h1.7m53.3 1h1.7m-59.7 26h1.7m44.3 40h1.7m26.3 -24h1.7m-18.7 -3h1.7m-61.7 19h1.7m-31.7 -1h1.7m81.3 -11h1.7m-9.7 7h1.7m10.3 5h1.7m4.3 -12h1.7m-44.7 8h1.7m44.3 -17h1.7m-70.7 26h1.7m30.3 -64h1.7m38.3 67h1.7m-32.7 -21h1.7m-73.7 2h1.7m49.3 10h1.7m34.3 -14h1.7m-23.7 -5h1.7m43.3 -7h1.7m-29.7 8h1.7m32.3 0h1.7m-44.7 36h1.7m1.3 -17h1.7m21.3 -18h1.7m-14.7 18h1.7m66.3 -20h1.7m-18.7 26h1.7m-55.7 0h1.7m-13.7 3h1.7m15.3 -21h1.7m-40.7 -16h1.7m15.3 16h1.7m44.3 -2h1.7m-60.7 -6h1.7m-14.7 -8h1.7m-16.7 18h1.7m52.3 -3h1.7m-6.7 12h1.7m-18.7 -4h1.7m0.3 -4h1.7m-2.7 18h1.7m-42.7 -32h1.7m86.3 4h1.7m-86.7 5h1.7m90.3 -18h1.7m-44.7 23h1.7m-18.7 -37h1.7m33.3 34h1.7m-27.7 19h1.7m23.3 -3h1.7m-26.7 -21h1.7m31.3 14h1.7m-26.7 16h1.7m-3.7 14h1.7m-11.7 -34h1.7m1.3 29h1.7m-1.7 -1h1.7m47.3 -13h1.7m-48.7 -12h1.7m16.3 36h1.7m-28.7 -54h1.7m-26.7 34h1.7m86.3 -31h1.7m-53.7 11h1.7m-65.7 52h1.7m113.3 -34h1.7m-38.7 -10h1.7m-7.7 -14h1.7m-7.7 -7h1.7m60.3 8h1.7m-121.7 -3h1.7m57.3 5h1.7m-35.7 -4h1.7m66.3 -33h1.7m-46.7 45h1.7m36.3 20h1.7m-16.7 -17h1.7m-12.7 -12h1.7m35.3 16h1.7m-69.7 -43h1.7m49.3 -7h1.7m-10.7 35h1.7m-35.7 3h1.7m42.3 -4h1.7m-22.7 -15h1.7m0.3 1h1.7m18.3 8h1.7m-20.7 15h1.7m-4.7 -5h1.7m-28.7 13h1.7m19.3 -2h1.7m5.3 13h1.7m28.3 16h1.7m-23.7 -58h1.7m-27.7 5h1.7m34.3 -3h1.7m-8.7 8h1.7m9.3 21h1.7m-53.7 16h1.7m37.3 -13h1.7m38.3 -27h1.7m-53.7 7h1.7m-42.7 26h1.7m20.3 -13h1.7m80.3 -25h1.7m-49.7 33h1.7m-39.7 4h1.7m48.3 -55h1.7m-78.7 23h1.7m62.3 56h1.7m-14.7 -63h1.7m11.3 0h1.7m-5.7 51h1.7m-0.7 -38h1.7m0.3 1h1.7m-10.7 2h1.7m51.3 31h1.7m-14.7 -62h1.7m-0.7 48h1.7m-38.7 -44h1.7m-41.7 12h1.7m74.3 24h1.7m-112.7 -19h1.7m79.3 37h1.7m43.3 -29h1.7m-49.7 -15h1.7m-1.7 10h1.7m38.3 27h1.7m-40.7 -12h1.7m-38.7 8h1.7m13.3 8h1.7m23.3 -26h1.7m-36.7 -19h1.7m1.3 17h1.7m13.3 -12h1.7m47.3 31h1.7m-37.7 -10h1.7m-69.7 -12h1.7m83.3 13h1.7m-44.7 1h1.7m37.3 7h1.7m-8.7 -1h1.7m4.3 -28h1.7m-14.7 -13h1.7m-37.7 38h1.7m36.3 -16h1.7m44.3 10h1.7m-68.7 32h1.7m6.3 -27h1.7m30.3 0h1.7m-72.7 10h1.7m78.3 -47h1.7m26.3 30h1.7m-54.7 1h1.7m-34.7 -10h1.7m2.3 -13h1.7m92.3 23h1.7m-100.7 37h1.7m29.3 -61h1.7m28.3 25h1.7m-2.7 -11h1.7m-18.7 -7h1.7m-50.7 43h1.7m5.3 -50h1.7m-31.7 22h1.7m56.3 -9h1.7m6.3 -11h1.7m-32.7 43h1.7m13.3 14h1.7m41.3 -28h1.7m13.3 -11h1.7m-38.7 28h1.7m-35.7 -31h1.7m-20.7 6h1.7m34.3 -17h1.7m3.3 21h1.7m53.3 -19h1.7m-79.7 18h1.7m67.3 -12h1.7m-58.7 -10h1.7m-5.7 20h1.7m51.3 25h1.7m-0.7 -30h1.7m-19.7 10h1.7m-18.7 -12h1.7m23.3 19h1.7m-16.7 -5h1.7m-11.7 0h1.7m20.3 -6h1.7m15.3 10h1.7m-20.7 -52h1.7m-54.7 40h1.7m120.3 15h1.7m-58.7 -24h1.7m-51.7 4h1.7m-48.7 11h1.7m40.3 14h1.7m5.3 -26h1.7m10.3 24h1.7m7.3 4h1.7m-11.7 -10h1.7m18.3 -9h1.7m-0.7 14h1.7m-44.7 -39h1.7m7.3 22h1.7m19.3 0h1.7m38.3 -10h1.7m-33.7 -25h1.7m-15.7 36h1.7m39.3 -15h1.7m-89.7 10h1.7m21.3 38h1.7m-23.7 -22h1.7m58.3 -43h1.7m-40.7 64h1.7m-0.7 -33h1.7m10.3 -6h1.7m25.3 33h1.7m-31.7 -14h1.7m-4.7 -9h1.7m21.3 -27h1.7m62.3 23h1.7m-71.7 22h1.7m21.3 -30h1.7m-25.7 32h1.7m-30.7 -39h1.7m22.3 0h1.7m53.3 5h1.7m-37.7 48h1.7m37.3 -58h1.7m-76.7 -8h1.7m-19.7 50h1.7m8.3 -5h1.7m62.3 -63h1.7m1.3 49h1.7m16.3 -17h1.7m-81.7 37h1.7m-22.7 -12h1.7m60.3 -28h1.7m29.3 3h1.7m-50.7 29h1.7m-6.7 -22h1.7m-13.7 4h1.7m72.3 7h1.7m4.3 -14h1.7m-64.7 -5h1.7m26.3 -6h1.7m-28.7 1h1.7m0.3 -10h1.7m43.3 25h1.7m-30.7 23h1.7m-30.7 -32h1.7m13.3 -5h1.7m15.3 39h1.7m-13.7 13h1.7m21.3 -30h1.7m-17.7 -25h1.7m17.3 32h1.7m-71.7 -35h1.7m53.3 50h1.7m-21.7 -6h1.7m-45.7 -24h1.7m43.3 6h1.7m6.3 -6h1.7m-20.7 25h1.7m49.3 -26h1.7m-100.7 12h1.7m111.3 6h1.7m-103.7 -8h1.7m21.3 15h1.7m66.3 -24h1.7m-48.7 -18h1.7m-2.7 16h1.7m2.3 46h1.7m34.3 -25h1.7m-37.7 30h1.7m35.3 -35h1.7m-29.7 -22h1.7m47.3 13h1.7m-70.7 -30h1.7m31.3 44h1.7m19.3 5h1.7m-19.7 -24h1.7m-27.7 23h1.7m-50.7 3h1.7m81.3 -29h1.7m-44.7 16h1.7m23.3 -3h1.7m-57.7 -16h1.7m63.3 9h1.7m-23.7 -10h1.7m21.3 26h1.7m-37.7 -25h1.7m23.3 -3h1.7m-14.7 27h1.7m15.3 3h1.7m-0.7 -18h1.7m11.3 5h1.7m56.3 -85h1.7m-15.7 -10h1.7m-37.7 20h1.7m57.3 -6h1.7m-72.7 9h1.7m78.3 -65h1.7m-4.7 21h1.7m-12.7 0h1.7m-14.7 24h1.7m-2.7 11h1.7m18.3 -29h1.7m-26.7 15h1.7m19.3 -39h1.7m2.3 7h1.7m2.3 -26h1.7m7.3 18h1.7m-43.7 19h1.7m40.3 -5h1.7m-65.7 43h1.7m4.3 6h1.7m-1.7 -26h1.7m2.3 -2h1.7m-3.7 3h1.7m36.3 -42h1.7m-6.7 1h1.7m1.3 6h1.7m-15.7 21h1.7m-26.7 -1h1.7m4.3 31h1.7m55.3 -44h1.7m-61.7 41h1.7m37.3 -20h1.7m-9.7 -20h1.7m11.3 -13h1.7m-22.7 44h1.7m6.3 -17h1.7m-2.7 13h1.7m-34.7 5h1.7m60.3 -47h1.7m-15.7 -13h1.7m3.3 45h1.7m-47.7 20h1.7m21.3 -24h1.7m-42.7 31h1.7m39.3 -37h1.7m-11.7 18h1.7m32.3 -15h1.7m-58.7 41h1.7m22.3 7h1.7m31.3 -59h1.7m17.3 9h1.7m-47.7 17h1.7m-11.7 -65h1.7m-23.7 92h1.7m93.3 -74h1.7m-6.7 -16h1.7m-79.7 107h1.7m22.3 -22h1.7m23.3 -39h1.7m28.3 4h1.7m-49.7 4h1.7m-14.7 19h1.7m10.3 -39h1.7m-32.7 43h1.7m-10.7 5h1.7m24.3 -26h1.7m-7.7 3h1.7m35.3 -16h1.7m-14.7 -14h1.7m-57.7 23h1.7m62.3 -32h1.7m-38.7 34h1.7m58.3 -9h1.7m-36.7 4h1.7m18.3 -24h1.7m-26.7 39h1.7m-23.7 -22h1.7m42.3 -32h1.7m-62.7 54h1.7m70.3 -24h1.7m-34.7 28h1.7m-37.7 13h1.7m-3.7 -18h1.7m41.3 -29h1.7m-5.7 7h1.7m-49.7 23h1.7m32.3 -30h1.7m-28.7 42h1.7m27.3 -4h1.7m52.3 -30h1.7m-40.7 -24h1.7m-23.7 21h1.7m-2.7 16h1.7m0.3 6h1.7m35.3 -9h1.7m-79.7 37h1.7m60.3 -36h1.7m-1.7 9h1.7m-54.7 -14h1.7m42.3 -9h1.7m3.3 34h1.7m16.3 -48h1.7m-41.7 60h1.7m6.3 -21h1.7m34.3 -41h1.7m-29.7 10h1.7m-11.7 25h1.7m27.3 -26h1.7m-61.7 46h1.7m33.3 -10h1.7m0.3 -13h1.7m11.3 -18h1.7m-6.7 -5h1.7m4.3 37h1.7m-60.7 -18h1.7m49.3 -2h1.7m23.3 -11h1.7m20.3 -19h1.7m-27.7 42h1.7m-47.7 14h1.7m25.3 -28h1.7m8.3 11h1.7m37.3 -32h1.7m-35.7 16h1.7m-68.7 16h1.7m78.3 -10h1.7m-54.7 7h1.7m-22.7 23h1.7m67.3 -28h1.7m-32.7 3h1.7m9.3 -21h1.7m-8.7 -1h1.7m-17.7 51h1.7m68.3 -62h1.7m-66.7 26h1.7m-19.7 12h1.7m26.3 -2h1.7m-27.7 4h1.7m48.3 14h1.7m5.3 -5h1.7m-43.7 -30h1.7m-1.7 54h1.7m31.3 -38h1.7m-20.7 -10h1.7m-20.7 -1h1.7m-8.7 13h1.7m58.3 -19h1.7m-65.7 27h1.7m10.3 -13h1.7m19.3 -30h1.7m4.3 19h1.7m-46.7 21h1.7m41.3 -1h1.7m-28.7 3h1.7m3.3 -6h1.7m38.3 -22h1.7m-49.7 16h1.7m51.3 -23h1.7m-62.7 40h1.7m64.3 -32h1.7m-35.7 4h1.7m11.3 4h1.7m-3.7 -2h1.7m-1.7 -7h1.7m-17.7 25h1.7m-14.7 16h1.7m6.3 -26h1.7m18.3 -21h1.7m-29.7 50h1.7m48.3 -74h1.7m-20.7 45h1.7m-27.7 2h1.7m13.3 15h1.7m-29.7 -6h1.7m33.3 -12h1.7m20.3 -1h1.7m-7.7 -13h1.7m-4.7 4h1.7m-21.7 20h1.7m-10.7 17h1.7m-5.7 -10h1.7m10.3 -3h1.7m-17.7 3h1.7m45.3 -29h1.7m-7.7 -28h1.7m-3.7 39h1.7m0.3 -40h1.7m-0.7 12h1.7m-64.7 78h1.7m53.3 -59h1.7m-53.7 28h1.7m42.3 -54h1.7m-8.7 46h1.7m13.3 -20h1.7m-41.7 43h1.7m5.3 -30h1.7m-8.7 1h1.7m41.3 -29h1.7m-17.7 58h1.7m33.3 -69h1.7m-50.7 44h1.7m30.3 -33h1.7m-5.7 12h1.7m-3.7 -4h1.7m-0.7 8h1.7m1.3 10h1.7m-33.7 -19h1.7m41.3 -14h1.7m-32.7 31h1.7m-7.7 -10h1.7m-86.7 13h1.7m57.3 -5h1.7m36.3 6h1.7m26.3 -21h1.7m-54.7 46h1.7m-17.7 -40h1.7m25.3 36h1.7m-5.7 -16h1.7m-38.7 36h1.7m6.3 -62h1.7m4.3 39h1.7m16.3 -33h1.7m-37.7 41h1.7m75.3 -43h1.7m6.3 -3h1.7m-33.7 43h1.7m0.3 -10h1.7m31.3 -40h1.7m-82.7 65h1.7m55.3 -45h1.7m-142.7 144h1.7m16.3 -35h1.7m4.3 18h1.7m-31.7 -87h1.7m-7.7 91h1.7m15.3 -36h1.7m-29.7 3h1.7m29.3 18h1.7m-2.7 21h1.7m-7.7 -57h1.7m14.3 21h1.7m-23.7 -5h1.7m-9.7 -56h1.7m-8.7 67h1.7m37.3 32h1.7m-25.7 -25h1.7m35.3 -3h1.7m-20.7 -13h1.7m1.3 13h1.7m-4.7 -17h1.7m-7.7 -62h1.7m-4.7 138h1.7m-4.7 -33h1.7m-9.7 -37h1.7m8.3 -11h1.7m-6.7 -16h1.7m12.3 11h1.7m-27.7 1h1.7m14.3 17h1.7m10.3 -7h1.7m-31.7 -59h1.7m-23.7 70h1.7m40.3 32h1.7m3.3 -39h1.7m-16.7 18h1.7m3.3 42h1.7m-3.7 -63h1.7m24.3 -56h1.7m-16.7 49h1.7m-22.7 4h1.7m5.3 14h1.7m23.3 44h1.7m1.3 -42h1.7m9.3 8h1.7m-6.7 -16h1.7m-13.7 -38h1.7m-4.7 78h1.7m-1.7 -23h1.7m12.3 -9h1.7m-25.7 -14h1.7m-32.7 17h1.7m25.3 -24h1.7m-12.7 -36h1.7m15.3 30h1.7m5.3 4h1.7m-27.7 15h1.7m-16.7 40h1.7m11.3 -85h1.7m9.3 33h1.7m-19.7 -5h1.7m23.3 32h1.7m18.3 12h1.7m-5.7 -28h1.7m-23.7 -3h1.7m2.3 -1h1.7m-3.7 15h1.7m10.3 15h1.7m1.3 15h1.7m1.3 -22h1.7m-23.7 -47h1.7m17.3 97h1.7m-2.7 -81h1.7m-5.7 16h1.7m14.3 -14h1.7m2.3 17h1.7m-12.7 20h1.7m-25.7 -53h1.7m-8.7 -9h1.7m51.3 -11h1.7m-32.7 15h1.7m0.3 51h1.7m10.3 -22h1.7m-24.7 17h1.7m-22.7 -40h1.7m26.3 18h1.7m15.3 26h1.7m2.3 -24h1.7m-34.7 -16h1.7m6.3 32h1.7m44.3 -11h1.7m-45.7 -8h1.7m2.3 16h1.7m-3.7 -34h1.7m-2.7 -17h1.7m4.3 38h1.7m-26.7 94h1.7m32.3 -73h1.7m-15.7 7h1.7m-11.7 -13h1.7m15.3 -17h1.7" stroke="#f00" stroke-width="1.7" fill="none" filter="url(#soft)"/>
<path d="M749.7 1925.4V2225.7M624.3 2130.1H1013.9" stroke="#b4b4b4" stroke-width="1.6" fill="none"/>
<path d="M616.6 2203.1H624.3M616.6 2189.9H624.3M616.6 2180.5H624.3M616.6 2173.2H624.3M616.6 2167.3H624.3M616.6 2162.3H624.3M616.6 2157.9H624.3M616.6 2154.1H624.3M616.6 2128.0H624.3M616.6 2114.8H624.3M616.6 2105.4H624.3M616.6 2098.1H624.3M616.6 2092.2H624.3M616.6 2087.2H624.3M616.6 2082.8H624.3M616.6 2079.0H624.3M616.6 2053.0H624.3M616.6 2039.7H624.3M616.6 2030.4H624.3M616.6 2023.1H624.3M616.6 2017.1H624.3M616.6 2012.1H624.3M616.6 2007.8H624.3M616.6 2003.9H624.3M616.6 1977.9H624.3M616.6 1964.7H624.3M616.6 1955.3H624.3M616.6 1948.0H624.3M616.6 1942.1H624.3M616.6 1937.0H624.3M616.6 1932.7H624.3M616.6 1928.8H624.3M609.7 2150.6H624.3M609.7 2075.6H624.3M609.7 2000.5H624.3M609.7 1925.4H624.3" stroke="#333" stroke-width="1.7" fill="none"/>
<path d="M653.6 2227.3V2232.5M670.8 2227.3V2232.5M682.9 2227.3V2232.5M692.4 2227.3V2232.5M700.1 2227.3V2232.5M706.6 2227.3V2232.5M712.3 2227.3V2232.5M717.2 2227.3V2232.5M751.0 2227.3V2232.5M768.2 2227.3V2232.5M780.3 2227.3V2232.5M789.8 2227.3V2232.5M797.5 2227.3V2232.5M804.0 2227.3V2232.5M809.7 2227.3V2232.5M814.6 2227.3V2232.5M848.4 2227.3V2232.5M865.6 2227.3V2232.5M877.7 2227.3V2232.5M887.2 2227.3V2232.5M894.9 2227.3V2232.5M901.4 2227.3V2232.5M907.1 2227.3V2232.5M912.0 2227.3V2232.5M945.8 2227.3V2232.5M963.0 2227.3V2232.5M975.1 2227.3V2232.5M984.6 2227.3V2232.5M992.3 2227.3V2232.5M998.8 2227.3V2232.5M1004.5 2227.3V2232.5M1009.4 2227.3V2232.5" stroke="#c8c8c8" stroke-width="1.3" fill="none"/>
<path d="M721.7 2227.3V2236.7M819.1 2227.3V2236.7M916.5 2227.3V2236.7M1013.9 2227.3V2236.7" stroke="#c0c0c0" stroke-width="1.3" fill="none"/>
<path d="M624.3 1925.4V2225.7H1013.9V1925.4" fill="none" stroke="#333" stroke-width="2"/>
<path d="M623.3 1925.4H1014.9" fill="none" stroke="#666" stroke-width="1.7"/>
<path d="M624.3 1926.4V1974.4" fill="none" stroke="#999" stroke-width="2"/>
<text x="582.86" y="2156.76" font-family='"Liberation Sans", Arial, sans-serif' font-weight="bold" font-size="17.23" textLength="18.42" lengthAdjust="spacingAndGlyphs" fill="#000">10</text>
<text x="600.60" y="2150.70" font-family='"Liberation Sans", Arial, sans-serif' font-weight="bold" font-size="13.28" textLength="7.02" lengthAdjust="spacingAndGlyphs" fill="#000">0</text>
<text x="582.86" y="2081.68" font-family='"Liberation Sans", Arial, sans-serif' font-weight="bold" font-size="17.23" textLength="18.42" lengthAdjust="spacingAndGlyphs" fill="#000">10</text>
<text x="600.29" y="2075.75" font-family='"Liberation Sans", Arial, sans-serif' font-weight="bold" font-size="13.66" textLength="7.17" lengthAdjust="spacingAndGlyphs" fill="#000">1</text>
<text x="582.86" y="2006.61" font-family='"Liberation Sans", Arial, sans-serif' font-weight="bold" font-size="17.23" textLength="18.42" lengthAdjust="spacingAndGlyphs" fill="#000">10</text>
<text x="600.67" y="2000.67" font-family='"Liberation Sans", Arial, sans-serif' font-weight="bold" font-size="13.46" textLength="6.93" lengthAdjust="spacingAndGlyphs" fill="#000">2</text>
<text x="582.86" y="1931.53" font-family='"Liberation Sans", Arial, sans-serif' font-weight="bold" font-size="17.23" textLength="18.42" lengthAdjust="spacingAndGlyphs" fill="#000">10</text>
<text x="600.82" y="1925.45" font-family='"Liberation Sans", Arial, sans-serif' font-weight="bold" font-size="13.25" textLength="6.71" lengthAdjust="spacingAndGlyphs" fill="#000">3</text>
<text x="712.39" y="2250.62" font-family='"Liberation Sans", Arial, sans-serif' font-weight="bold" font-size="17.94" textLength="17.76" lengthAdjust="spacingAndGlyphs" fill="#000">10</text>
<text x="729.46" y="2244.47" font-family='"Liberation Sans", Arial, sans-serif' font-weight="bold" font-size="12.85" textLength="7.60" lengthAdjust="spacingAndGlyphs" fill="#000">0</text>
<text x="809.79" y="2250.62" font-family='"Liberation Sans", Arial, sans-serif' font-weight="bold" font-size="17.94" textLength="17.76" lengthAdjust="spacingAndGlyphs" fill="#000">10</text>
<text x="826.52" y="2244.60" font-family='"Liberation Sans", Arial, sans-serif' font-weight="bold" font-size="13.23" textLength="7.77" lengthAdjust="spacingAndGlyphs" fill="#000">1</text>
<text x="907.19" y="2250.62" font-family='"Liberation Sans", Arial, sans-serif' font-weight="bold" font-size="17.94" textLength="17.76" lengthAdjust="spacingAndGlyphs" fill="#000">10</text>
<text x="924.33" y="2244.60" font-family='"Liberation Sans", Arial, sans-serif' font-weight="bold" font-size="13.03" textLength="7.51" lengthAdjust="spacingAndGlyphs" fill="#000">2</text>
<text x="1004.59" y="2250.62" font-family='"Liberation Sans", Arial, sans-serif' font-weight="bold" font-size="17.94" textLength="17.76" lengthAdjust="spacingAndGlyphs" fill="#000">10</text>
<text x="1021.90" y="2244.46" font-family='"Liberation Sans", Arial, sans-serif' font-weight="bold" font-size="12.83" textLength="7.27" lengthAdjust="spacingAndGlyphs" fill="#000">3</text>
<text x="0" y="0" transform="translate(542.90 2083.88) rotate(-90)" font-family='"Liberation Sans", Arial, sans-serif' font-weight="bold" font-size="18.31" textLength="16.66" lengthAdjust="spacingAndGlyphs" fill="#000">PI</text>
<text x="779.40" y="2287.12" font-family='"Liberation Sans", Arial, sans-serif' font-weight="bold" font-size="17.97" textLength="79.11" lengthAdjust="spacingAndGlyphs" fill="#000">Annexin V</text>
<rect x="625.3" y="2132.1" width="62.5" height="48.5" fill="#fff"/>
<rect x="750.7" y="2132.1" width="27.0" height="25.5" fill="#fff"/>
<rect x="750.7" y="2157.1" width="63.8" height="23.5" fill="#fff"/>
<text x="623.93" y="1946.80" font-family='"Liberation Sans", Arial, sans-serif' font-weight="bold" font-size="18.60" textLength="24.30" lengthAdjust="spacingAndGlyphs" fill="#000">D1</text>
<text x="749.72" y="1946.80" font-family='"Liberation Sans", Arial, sans-serif' font-weight="bold" font-size="18.33" textLength="24.55" lengthAdjust="spacingAndGlyphs" fill="#000">D2</text>
<text x="623.92" y="2152.90" font-family='"Liberation Sans", Arial, sans-serif' font-weight="bold" font-size="18.04" textLength="24.47" lengthAdjust="spacingAndGlyphs" fill="#000">D3</text>
<text x="749.95" y="2153.10" font-family='"Liberation Sans", Arial, sans-serif' font-weight="bold" font-size="18.60" textLength="23.85" lengthAdjust="spacingAndGlyphs" fill="#000">D4</text>
<text x="635.06" y="1969.68" font-family='"Liberation Sans", Arial, sans-serif' font-weight="bold" font-size="19.73" textLength="43.54" lengthAdjust="spacingAndGlyphs" fill="#000">3.5%</text>
<text x="760.36" y="1969.71" font-family='"Liberation Sans", Arial, sans-serif' font-weight="bold" font-size="19.77" textLength="51.11" lengthAdjust="spacingAndGlyphs" fill="#000">18.8%</text>
<text x="629.40" y="2175.51" font-family='"Liberation Sans", Arial, sans-serif' font-weight="bold" font-size="19.77" textLength="55.92" lengthAdjust="spacingAndGlyphs" fill="#000">48.0%</text>
<text x="761.69" y="2175.51" font-family='"Liberation Sans", Arial, sans-serif' font-weight="bold" font-size="19.77" textLength="49.77" lengthAdjust="spacingAndGlyphs" fill="#000">29.8%</text>
<path d="M1226 2173h1.7m-13.7 16h1.7m-5.7 -4h1.7m16.3 7h1.7m-19.7 -42h1.7m16.3 45h1.7m44.3 -29h1.7m-21.7 11h1.7m-38.7 0h1.7m-5.7 -14h1.7m-0.7 6h1.7m-64.7 -4h1.7m39.3 -12h1.7m1.3 19h1.7m14.3 2h1.7m-22.7 11h1.7m45.3 -20h1.7m-45.7 15h1.7m15.3 -8h1.7m-7.7 10h1.7m23.3 -8h1.7m-45.7 5h1.7m100.3 -17h1.7m-34.7 21h1.7m-74.7 12h1.7m71.3 -14h1.7m-59.7 9h1.7m69.3 -20h1.7m-28.7 -8h1.7m-16.7 36h1.7m0.3 -29h1.7m-5.7 9h1.7m-22.7 33h1.7m3.3 -21h1.7m51.3 -21h1.7m-23.7 -10h1.7m-34.7 42h1.7m3.3 -31h1.7m37.3 -7h1.7m-14.7 -5h1.7m7.3 7h1.7m-50.7 10h1.7m29.3 2h1.7m2.3 15h1.7m-19.7 -1h1.7m19.3 -21h1.7m-67.7 39h1.7m48.3 -23h1.7m-2.7 16h1.7m24.3 -19h1.7m-33.7 -13h1.7m22.3 34h1.7m-28.7 0h1.7m2.3 5h1.7m45.3 -25h1.7m-24.7 4h1.7m-21.7 -21h1.7m31.3 14h1.7m-38.7 25h1.7m-24.7 -14h1.7m56.3 -15h1.7m-28.7 -12h1.7m18.3 3h1.7m-17.7 13h1.7m4.3 -6h1.7m-10.7 17h1.7m11.3 -16h1.7m1.3 -20h1.7m-44.7 53h1.7m16.3 -26h1.7m-19.7 15h1.7m54.3 -45h1.7m-14.7 18h1.7m-30.7 15h1.7m12.3 -31h1.7m18.3 18h1.7m-7.7 0h1.7m-34.7 13h1.7m15.3 -9h1.7m-34.7 2h1.7m17.3 11h1.7m45.3 -15h1.7m-12.7 -15h1.7m-1.7 8h1.7m-4.7 -7h1.7m-22.7 35h1.7m9.3 -19h1.7m-14.7 -10h1.7m-3.7 31h1.7m-0.7 1h1.7m8.3 -12h1.7m-5.7 -10h1.7m5.3 -16h1.7m-32.7 33h1.7m37.3 0h1.7m-2.7 -20h1.7m-18.7 32h1.7m19.3 -40h1.7m-42.7 2h1.7m31.3 5h1.7m-7.7 -1h1.7m-29.7 23h1.7m-5.7 -11h1.7m39.3 17h1.7m-1.7 -43h1.7m-26.7 41h1.7m15.3 -25h1.7m36.3 9h1.7m-40.7 11h1.7m4.3 -20h1.7m-4.7 -11h1.7m-16.7 14h1.7m2.3 1h1.7m-47.7 9h1.7m47.3 -12h1.7m45.3 1h1.7m-79.7 15h1.7m57.3 -6h1.7m-45.7 -7h1.7m-15.7 14h1.7m23.3 -8h1.7m-0.7 -2h1.7m-45.7 18h1.7m18.3 -39h1.7m1.3 22h1.7m66.3 -30h1.7m-41.7 19h1.7m9.3 -3h1.7m-7.7 -4h1.7m-40.7 26h1.7m33.3 -11h1.7m33.3 -14h1.7m-77.7 6h1.7m17.3 16h1.7m-10.7 -2h1.7m4.3 10h1.7m60.3 -48h1.7m-39.7 22h1.7m-8.7 7h1.7m26.3 -6h1.7m-2.7 14h1.7m-0.7 4h1.7m-24.7 10h1.7m25.3 -26h1.7m-17.7 11h1.7m10.3 16h1.7m8.3 -16h1.7m-35.7 31h1.7m11.3 -51h1.7m-16.7 15h1.7m26.3 -12h1.7m-49.7 -6h1.7m19.3 28h1.7m4.3 -24h1.7m4.3 4h1.7m-3.7 16h1.7m-47.7 16h1.7m61.3 -37h1.7m-24.7 10h1.7m-45.7 -1h1.7m22.3 2h1.7m7.3 16h1.7m-14.7 3h1.7m22.3 -25h1.7m-9.7 38h1.7m-4.7 -32h1.7m-28.7 -26h1.7m14.3 32h1.7m34.3 -11h1.7m22.3 5h1.7m-28.7 11h1.7m-37.7 -7h1.7m59.3 -3h1.7m14.3 -20h1.7m-16.7 4h1.7m-50.7 38h1.7m29.3 -26h1.7m-10.7 -18h1.7m-5.7 7h1.7m-11.7 14h1.7m18.3 2h1.7m40.3 1h1.7m-40.7 -20h1.7m-63.7 36h1.7m14.3 -17h1.7m23.3 13h1.7m5.3 10h1.7m-23.7 -22h1.7m72.3 -12h1.7m-64.7 26h1.7m42.3 -22h1.7m-21.7 1h1.7m-26.7 30h1.7m-19.7 -19h1.7m-2.7 -25h1.7m69.3 -1h1.7m-67.7 27h1.7m21.3 4h1.7m20.3 -21h1.7m-67.7 34h1.7m9.3 13h1.7m36.3 -28h1.7m2.3 -16h1.7m-34.7 31h1.7m12.3 -22h1.7m17.3 28h1.7m8.3 -37h1.7m-27.7 -1h1.7m-1.7 17h1.7m24.3 6h1.7m-21.7 -21h1.7m-21.7 14h1.7m43.3 -5h1.7m-11.7 6h1.7m-57.7 3h1.7m10.3 -2h1.7m18.3 4h1.7m15.3 1h1.7m-12.7 -15h1.7m23.3 -8h1.7m-9.7 10h1.7m-15.7 -30h1.7m3.3 37h1.7m-41.7 0h1.7m37.3 -27h1.7m29.3 8h1.7m-50.7 4h1.7m12.3 23h1.7m-10.7 -38h1.7m6.3 24h1.7m-23.7 10h1.7m46.3 -17h1.7m-66.7 11h1.7m64.3 -2h1.7m-20.7 4h1.7m17.3 -25h1.7m24.3 14h1.7m-27.7 20h1.7m-5.7 -8h1.7m-49.7 -2h1.7m0.3 17h1.7m-40.7 -2h1.7m45.3 -36h1.7m6.3 30h1.7m-33.7 17h1.7m44.3 -30h1.7m-65.7 12h1.7m86.3 -31h1.7m-32.7 8h1.7m49.3 10h1.7m-45.7 -12h1.7m-9.7 18h1.7m-57.7 27h1.7m84.3 -28h1.7m-60.7 3h1.7m-0.7 14h1.7m57.3 -42h1.7m-55.7 9h1.7m42.3 1h1.7m-62.7 31h1.7m89.3 -33h1.7m-66.7 15h1.7m27.3 -24h1.7m-20.7 18h1.7m-10.7 18h1.7m38.3 -24h1.7m-27.7 -3h1.7m-47.7 34h1.7m52.3 -7h1.7m-22.7 -9h1.7m-2.7 6h1.7m-1.7 -14h1.7m49.3 -12h1.7m-52.7 43h1.7m5.3 -27h1.7m26.3 -39h1.7m10.3 28h1.7m-42.7 23h1.7m-21.7 0h1.7m70.3 -29h1.7m-44.7 10h1.7m18.3 16h1.7m-54.7 20h1.7m56.3 -19h1.7m-67.7 -5h1.7m18.3 -5h1.7m7.3 3h1.7m14.3 6h1.7m4.3 -10h1.7m-1.7 17h1.7m-45.7 -13h1.7m4.3 4h1.7m9.3 -22h1.7m15.3 14h1.7m-0.7 16h1.7m-5.7 -38h1.7m-27.7 22h1.7m-1.7 -6h1.7m-4.7 18h1.7m78.3 -40h1.7m-54.7 32h1.7m-24.7 -10h1.7m27.3 11h1.7m-9.7 -9h1.7m12.3 -10h1.7m-17.7 33h1.7m22.3 -28h1.7m-33.7 -8h1.7m3.3 31h1.7m22.3 -15h1.7m3.3 -20h1.7m11.3 18h1.7m-8.7 0h1.7m-40.7 9h1.7m18.3 -19h1.7m-16.7 34h1.7m43.3 -30h1.7m-77.7 27h1.7m87.3 -38h1.7m-4.7 23h1.7m-64.7 -3h1.7m27.3 4h1.7m11.3 16h1.7m-16.7 -13h1.7m35.3 -20h1.7m-81.7 2h1.7m68.3 -12h1.7m-68.7 32h1.7m54.3 8h1.7m12.3 -15h1.7m-45.7 2h1.7m-28.7 27h1.7m29.3 -40h1.7m2.3 23h1.7m15.3 -22h1.7m16.3 -14h1.7m-45.7 12h1.7m8.3 24h1.7m46.3 -8h1.7m-58.7 -1h1.7m-21.7 -20h1.7m-3.7 31h1.7m40.3 -14h1.7m-86.7 -5h1.7m64.3 14h1.7m12.3 27h1.7m-13.7 -50h1.7m-2.7 21h1.7m-21.7 -18h1.7m83.3 21h1.7m-49.7 -25h1.7m-55.7 37h1.7m45.3 -43h1.7m-7.7 22h1.7m-39.7 -7h1.7m42.3 17h1.7m-42.7 -8h1.7m12.3 20h1.7m13.3 -35h1.7m-0.7 3h1.7m5.3 28h1.7m-29.7 -10h1.7m10.3 -11h1.7m-14.7 -18h1.7m40.3 -12h1.7m-43.7 15h1.7m26.3 -13h1.7m5.3 47h1.7m-17.7 -22h1.7m1.3 -6h1.7m21.3 7h1.7m-25.7 7h1.7m10.3 -14h1.7m1.3 3h1.7m-16.7 13h1.7m-18.7 7h1.7m52.3 -27h1.7m-5.7 2h1.7m-0.7 16h1.7m10.3 -10h1.7m-59.7 20h1.7m23.3 -33h1.7m-19.7 34h1.7m13.3 -16h1.7m-28.7 8h1.7m18.3 -7h1.7m26.3 -12h1.7m-14.7 -11h1.7m-3.7 26h1.7m13.3 4h1.7m-30.7 4h1.7m5.3 -7h1.7m-39.7 -10h1.7m84.3 10h1.7m-112.7 -3h1.7m43.3 16h1.7m18.3 -14h1.7m20.3 -7h1.7m-24.7 1h1.7m18.3 16h1.7m-12.7 -8h1.7m-31.7 -19h1.7m27.3 6h1.7m-21.7 4h1.7m-23.7 30h1.7m-4.7 -17h1.7m53.3 -5h1.7m-54.7 5h1.7m45.3 -20h1.7m-66.7 -7h1.7m34.3 21h1.7m-5.7 -10h1.7m27.3 23h1.7m12.3 -32h1.7m-23.7 0h1.7m-56.7 25h1.7m49.3 -30h1.7m-0.7 22h1.7m25.3 6h1.7m-35.7 -34h1.7m23.3 28h1.7m-35.7 13h1.7m8.3 -36h1.7m2.3 25h1.7m20.3 -14h1.7m-4.7 30h1.7m-27.7 -9h1.7m-10.7 5h1.7m16.3 -4h1.7m16.3 -10h1.7m17.3 -8h1.7m-48.7 17h1.7m-9.7 -21h1.7m32.3 -3h1.7m-12.7 -1h1.7m-3.7 14h1.7m0.3 -10h1.7m-30.7 28h1.7m9.3 -17h1.7m-4.7 -6h1.7m-18.7 21h1.7m30.3 -4h1.7m9.3 -17h1.7m-28.7 25h1.7m4.3 0h1.7m43.3 -37h1.7m-31.7 1h1.7m-19.7 13h1.7m17.3 -15h1.7m-15.7 13h1.7m7.3 1h1.7m-53.7 23h1.7m49.3 -54h1.7m16.3 11h1.7m-46.7 17h1.7m-3.7 7h1.7m-43.7 15h1.7m125.3 -23h1.7m-63.7 18h1.7m1.3 -20h1.7m25.3 1h1.7m-3.7 -23h1.7m11.3 30h1.7m-59.7 -4h1.7m35.3 5h1.7m-65.7 38h1.7m2.3 -52h1.7m38.3 -19h1.7m1.3 56h1.7m0.3 -14h1.7m29.3 -23h1.7m-59.7 33h1.7m7.3 -26h1.7m18.3 15h1.7m-6.7 -8h1.7m11.3 -11h1.7m5.3 -23h1.7m28.3 9h1.7m-50.7 47h1.7m-26.7 -64h1.7m3.3 44h1.7m-3.7 11h1.7m-11.7 -12h1.7m77.3 -42h1.7m-16.7 31h1.7m-32.7 19h1.7m-26.7 -7h1.7m29.3 14h1.7m-9.7 -23h1.7m49.3 5h1.7m-57.7 3h1.7m-20.7 1h1.7m91.3 0h1.7m-65.7 8h1.7m-31.7 -2h1.7m43.3 4h1.7m4.3 -19h1.7m-5.7 15h1.7m-27.7 -28h1.7m-47.7 2h1.7m27.3 18h1.7m27.3 -11h1.7m17.3 -6h1.7m-30.7 37h1.7m7.3 -37h1.7m-10.7 27h1.7m-30.7 -11h1.7m52.3 -10h1.7m-18.7 4h1.7m-17.7 25h1.7m50.3 -15h1.7m-26.7 -21h1.7m-2.7 21h1.7m12.3 -26h1.7m-48.7 40h1.7m19.3 12h1.7m-41.7 -18h1.7m16.3 -18h1.7m9.3 13h1.7m36.3 -6h1.7m-34.7 12h1.7m29.3 -33h1.7m-56.7 19h1.7m46.3 12h1.7m-43.7 1h1.7m43.3 -21h1.7m2.3 -18h1.7m-23.7 17h1.7m8.3 46h1.7m-35.7 -21h1.7m32.3 3h1.7m17.3 -13h1.7m-47.7 7h1.7m19.3 -26h1.7m-2.7 27h1.7m6.3 -38h1.7m-43.7 48h1.7m12.3 -43h1.7m26.3 25h1.7m17.3 -29h1.7m-14.7 16h1.7m-50.7 24h1.7m-2.7 -9h1.7m-23.7 -1h1.7m38.3 -16h1.7m17.3 28h1.7m-21.7 -16h1.7m7.3 -4h1.7m1.3 3h1.7m-25.7 -4h1.7m4.3 -4h1.7m54.3 -21h1.7m-74.7 48h1.7m38.3 -17h1.7m-6.7 -11h1.7m-2.7 20h1.7m1.3 1h1.7m26.3 -22h1.7m19.3 -33h1.7m-105.7 54h1.7m16.3 0h1.7m7.3 16h1.7m33.3 -17h1.7m-45.7 5h1.7m27.3 -15h1.7m20.3 -7h1.7m-16.7 -22h1.7m-35.7 56h1.7m46.3 -43h1.7m7.3 13h1.7m7.3 4h1.7m-51.7 17h1.7m-7.7 -3h1.7m35.3 -25h1.7m-36.7 15h1.7m28.3 -4h1.7m16.3 -21h1.7m-44.7 33h1.7m-14.7 -13h1.7m-20.7 -4h1.7m46.3 3h1.7m-14.7 7h1.7m16.3 -15h1.7m6.3 3h1.7m-4.7 -10h1.7m5.3 11h1.7m27.3 -22h1.7m-35.7 41h1.7m-0.7 -12h1.7m7.3 -12h1.7m-61.7 24h1.7m67.3 -35h1.7m-23.7 16h1.7m-25.7 24h1.7m13.3 -27h1.7m29.3 17h1.7m-8.7 -23h1.7m26.3 17h1.7m-71.7 -22h1.7m5.3 46h1.7m21.3 -29h1.7m-62.7 26h1.7m47.3 -17h1.7m10.3 -6h1.7m-9.7 23h1.7m38.3 -21h1.7m-57.7 -11h1.7m15.3 -13h1.7m12.3 37h1.7m15.3 -16h1.7m-29.7 37h1.7m40.3 -60h1.7m-23.7 22h1.7m-46.7 12h1.7m-17.7 -39h1.7m18.3 16h1.7m30.3 11h1.7m-40.7 1h1.7m30.3 6h1.7m-19.7 12h1.7m-5.7 -22h1.7m-3.7 -8h1.7m-24.7 9h1.7m-12.7 48h1.7m53.3 -42h1.7m-59.7 8h1.7m37.3 -32h1.7m14.3 27h1.7m47.3 -12h1.7m-32.7 7h1.7m-50.7 -1h1.7m33.3 -7h1.7m14.3 -17h1.7m-55.7 43h1.7m41.3 -24h1.7m-29.7 27h1.7m-11.7 5h1.7m32.3 -32h1.7m-35.7 21h1.7m45.3 -23h1.7m-13.7 16h1.7m-14.7 -17h1.7m-46.7 2h1.7m93.3 -23h1.7m5.3 4h1.7m-44.7 35h1.7m-26.7 -25h1.7m26.3 3h1.7m13.3 15h1.7m-3.7 0h1.7m-25.7 -8h1.7m1.3 10h1.7m-21.7 34h1.7m-1.7 -46h1.7m33.3 -5h1.7m-7.7 10h1.7m-30.7 -29h1.7m37.3 18h1.7m-42.7 31h1.7m14.3 -19h1.7m6.3 11h1.7m21.3 -16h1.7m-4.7 29h1.7m-38.7 -30h1.7m21.3 9h1.7m-23.7 -10h1.7m-22.7 17h1.7m41.3 -12h1.7m-11.7 11h1.7m-6.7 11h1.7m11.3 -18h1.7m-17.7 0h1.7m26.3 -26h1.7m-54.7 32h1.7m27.3 -21h1.7m20.3 22h1.7m-45.7 -32h1.7m16.3 14h1.7m11.3 21h1.7m-24.7 -6h1.7m-12.7 -26h1.7m19.3 -4h1.7m13.3 6h1.7m27.3 -12h1.7m-68.7 53h1.7m-0.7 -7h1.7m-4.7 -20h1.7m39.3 6h1.7m8.3 -10h1.7m-37.7 -4h1.7m36.3 4h1.7m-28.7 7h1.7m22.3 10h1.7m-23.7 -14h1.7m-30.7 11h1.7m75.3 -11h1.7m-65.7 5h1.7m32.3 25h1.7m7.3 -13h1.7m-32.7 2h1.7m-33.7 -16h1.7m82.3 -12h1.7m-37.7 4h1.7m-50.7 24h1.7m50.3 -10h1.7m4.3 -8h1.7m8.3 -2h1.7m-82.7 11h1.7m42.3 -35h1.7m-28.7 27h1.7m42.3 -19h1.7m-5.7 25h1.7m-10.7 21h1.7m-9.7 -10h1.7m-46.7 -1h1.7m18.3 -14h1.7m8.3 27h1.7m0.3 -18h1.7m30.3 8h1.7m-6.7 4h1.7m40.3 -29h1.7m-57.7 16h1.7m14.3 -11h1.7m-12.7 25h1.7m8.3 -19h1.7m-4.7 -1h1.7m-2.7 -7h1.7m-14.7 -11h1.7m-22.7 45h1.7m18.3 -20h1.7m-5.7 -1h1.7m57.3 -37h1.7m-29.7 13h1.7m-29.7 12h1.7m27.3 23h1.7m-30.7 -14h1.7m2.3 -7h1.7m-8.7 10h1.7m34.3 -30h1.7m-53.7 28h1.7m59.3 16h1.7m-31.7 -4h1.7m-4.7 -8h1.7m32.3 -35h1.7m-47.7 12h1.7m41.3 -1h1.7m21.3 -10h1.7m-38.7 20h1.7m-40.7 -5h1.7m27.3 15h1.7m8.3 -1h1.7m-15.7 -32h1.7m-19.7 43h1.7m44.3 -29h1.7m-65.7 28h1.7m63.3 10h1.7m-4.7 -58h1.7m-12.7 45h1.7m-2.7 12h1.7m-28.7 -16h1.7m9.3 -9h1.7m-22.7 11h1.7m9.3 3h1.7m1.3 -8h1.7m18.3 -8h1.7m-4.7 1h1.7m-15.7 25h1.7m36.3 -18h1.7m-21.7 -6h1.7m-56.7 17h1.7m58.3 -48h1.7m-26.7 58h1.7m-7.7 -8h1.7m36.3 -33h1.7m-20.7 23h1.7m-26.7 -2h1.7m25.3 2h1.7m-15.7 -28h1.7m10.3 13h1.7m-11.7 12h1.7m0.3 -3h1.7m20.3 4h1.7m-33.7 0h1.7m-23.7 6h1.7m43.3 -21h1.7m-7.7 14h1.7m-7.7 16h1.7m-16.7 -9h1.7m19.3 -21h1.7m-14.7 22h1.7m-32.7 -1h1.7m78.3 -19h1.7m-38.7 -1h1.7m28.3 -5h1.7m-54.7 25h1.7m-6.7 -8h1.7m62.3 -17h1.7m-54.7 6h1.7m15.3 -1h1.7m22.3 -4h1.7m-29.7 33h1.7m0.3 -23h1.7m33.3 -13h1.7m-52.7 10h1.7m33.3 -3h1.7m-27.7 14h1.7m5.3 13h1.7m16.3 -13h1.7m-43.7 3h1.7m41.3 -1h1.7m-25.7 16h1.7m-8.7 -24h1.7m-30.7 13h1.7m23.3 -14h1.7m-21.7 3h1.7m32.3 -6h1.7m11.3 -11h1.7m-18.7 9h1.7m34.3 6h1.7m-8.7 -1h1.7m-62.7 37h1.7m49.3 -70h1.7m-7.7 50h1.7m5.3 -33h1.7m-46.7 31h1.7m0.3 -19h1.7m10.3 0h1.7m3.3 -25h1.7m19.3 25h1.7m-33.7 -7h1.7m-15.7 13h1.7m54.3 -7h1.7m-14.7 3h1.7m-17.7 9h1.7m-25.7 11h1.7m13.3 -13h1.7m8.3 35h1.7m26.3 -48h1.7m-68.7 16h1.7m41.3 -2h1.7m0.3 13h1.7m-3.7 -31h1.7m18.3 10h1.7m-0.7 11h1.7m-28.7 -9h1.7m-22.7 3h1.7m21.3 11h1.7m28.3 -29h1.7m-14.7 4h1.7m17.3 4h1.7m-20.7 32h1.7m-26.7 -1h1.7m32.3 -42h1.7m-53.7 14h1.7m67.3 5h1.7m15.3 7h1.7m-44.7 -20h1.7m-10.7 14h1.7m19.3 3h1.7m-50.7 -14h1.7m5.3 18h1.7m47.3 7h1.7m-13.7 -24h1.7m-5.7 -2h1.7m-6.7 34h1.7m-28.7 -38h1.7m13.3 27h1.7m-23.7 1h1.7m61.3 4h1.7m8.3 -31h1.7m-49.7 7h1.7m0.3 0h1.7m-2.7 17h1.7m-29.7 -16h1.7m1.3 9h1.7m42.3 -21h1.7m-19.7 22h1.7m35.3 -24h1.7m-27.7 3h1.7m4.3 20h1.7m-10.7 5h1.7m-32.7 4h1.7m-4.7 -3h1.7m-2.7 -17h1.7m60.3 -7h1.7m-106.7 60h1.7m101.3 -56h1.7m-24.7 1h1.7m-56.7 40h1.7m22.3 -18h1.7m0.3 -1h1.7m10.3 -8h1.7m11.3 -4h1.7m-2.7 10h1.7m-15.7 -2h1.7m18.3 0h1.7m-56.7 -16h1.7m36.3 18h1.7m1.3 -11h1.7m27.3 -5h1.7m-11.7 15h1.7m5.3 -10h1.7m-48.7 19h1.7m-4.7 -14h1.7m35.3 0h1.7m-2.7 -11h1.7m-25.7 11h1.7m28.3 5h1.7m-11.7 16h1.7m-29.7 -6h1.7m-28.7 13h1.7m79.3 -25h1.7m-41.7 -4h1.7m0.3 5h1.7m1.3 -8h1.7m20.3 6h1.7m1.3 11h1.7m-40.7 -13h1.7m-21.7 20h1.7m38.3 -16h1.7m-12.7 27h1.7m-5.7 -40h1.7m-9.7 24h1.7m-25.7 16h1.7m77.3 -32h1.7m-14.7 -25h1.7m10.3 19h1.7m-25.7 -4h1.7m-25.7 8h1.7m35.3 9h1.7m-16.7 -9h1.7m-9.7 -17h1.7m-27.7 23h1.7m32.3 11h1.7m-51.7 -4h1.7m58.3 -6h1.7m-3.7 9h1.7m-26.7 -13h1.7m0.3 7h1.7m-6.7 37h1.7m3.3 -32h1.7m40.3 -14h1.7m-40.7 0h1.7m-0.7 -6h1.7m66.3 -8h1.7m-39.7 14h1.7m-61.7 9h1.7m22.3 -4h1.7m56.3 -17h1.7m-39.7 -3h1.7m-19.7 16h1.7m12.3 -4h1.7m-38.7 12h1.7m22.3 -41h1.7m31.3 25h1.7m-28.7 21h1.7m1.3 -4h1.7m0.3 -37h1.7m-15.7 40h1.7m15.3 -30h1.7m-14.7 20h1.7m-6.7 -19h1.7m-11.7 23h1.7m62.3 -20h1.7m-34.7 -20h1.7m-34.7 46h1.7m-7.7 -13h1.7m86.3 -22h1.7m-89.7 26h1.7m64.3 0h1.7m-42.7 -8h1.7m13.3 1h1.7m-36.7 -5h1.7m44.3 3h1.7m-82.7 24h1.7m45.3 7h1.7m13.3 -14h1.7m-9.7 24h1.7m-17.7 -17h1.7m4.3 11h1.7m46.3 -58h1.7m-5.7 47h1.7m-18.7 -23h1.7m-18.7 -5h1.7m-10.7 7h1.7m31.3 -4h1.7m21.3 -8h1.7m-70.7 22h1.7m10.3 -8h1.7m2.3 -2h1.7m7.3 10h1.7m4.3 -4h1.7m15.3 8h1.7m-48.7 -27h1.7m57.3 14h1.7m-38.7 5h1.7m39.3 7h1.7m-21.7 -23h1.7m-9.7 -2h1.7m-14.7 1h1.7m-11.7 25h1.7m-3.7 21h1.7m-7.7 -38h1.7m-11.7 22h1.7m-3.7 28h1.7m18.3 -19h1.7m33.3 -64h1.7m-36.7 43h1.7m27.3 0h1.7m-68.7 31h1.7m43.3 -44h1.7m8.3 27h1.7m-5.7 -4h1.7m1.3 -40h1.7m-10.7 18h1.7m23.3 3h1.7m-0.7 32h1.7m-2.7 -44h1.7m-41.7 27h1.7m-7.7 -13h1.7m15.3 -6h1.7m-4.7 9h1.7m9.3 40h1.7m-29.7 -40h1.7m26.3 4h1.7m-10.7 12h1.7m17.3 -26h1.7m-46.7 50h1.7m33.3 -16h1.7m-17.7 -31h1.7m44.3 21h1.7m-40.7 -26h1.7m-4.7 7h1.7m35.3 13h1.7m-49.7 0h1.7m10.3 0h1.7m20.3 -24h1.7m-32.7 35h1.7m-31.7 -16h1.7m27.3 12h1.7m4.3 -19h1.7m5.3 19h1.7m-1.7 -11h1.7m-6.7 4h1.7m41.3 -16h1.7m-13.7 8h1.7m-20.7 0h1.7m22.3 -13h1.7m-5.7 0h1.7m-39.7 26h1.7m40.3 -28h1.7m-18.7 -5h1.7m-4.7 3h1.7m-64.7 16h1.7m73.3 13h1.7m-2.7 -23h1.7m1.3 15h1.7m-23.7 5h1.7m-11.7 -14h1.7m0.3 14h1.7m24.3 -5h1.7m-3.7 -9h1.7m-33.7 4h1.7m-14.7 16h1.7m51.3 -14h1.7m-7.7 -7h1.7m-17.7 12h1.7m-55.7 8h1.7m39.3 -8h1.7m38.3 5h1.7m-7.7 -9h1.7m-34.7 19h1.7m65.3 -54h1.7m-52.7 26h1.7m9.3 25h1.7m24.3 -44h1.7m19.3 5h1.7m-66.7 31h1.7m0.3 -8h1.7m-21.7 -12h1.7m56.3 2h1.7m-16.7 13h1.7m1.3 -7h1.7m-25.7 0h1.7m1.3 -14h1.7m-24.7 31h1.7m39.3 -3h1.7m-2.7 -20h1.7m-44.7 11h1.7m-20.7 7h1.7m54.3 28h1.7m33.3 -39h1.7m-42.7 24h1.7m20.3 -30h1.7m-9.7 -6h1.7m-44.7 46h1.7m18.3 -31h1.7m-22.7 3h1.7m19.3 2h1.7m11.3 15h1.7m18.3 -23h1.7m-12.7 -20h1.7m-6.7 44h1.7m27.3 -38h1.7m-33.7 33h1.7m2.3 -31h1.7m-31.7 40h1.7m24.3 -37h1.7m5.3 -18h1.7m-28.7 57h1.7m19.3 -24h1.7m16.3 -24h1.7m-19.7 19h1.7m-26.7 -6h1.7m40.3 -8h1.7m-58.7 29h1.7m15.3 1h1.7m48.3 -40h1.7m-47.7 17h1.7m9.3 8h1.7m-7.7 -13h1.7m2.3 10h1.7m-53.7 38h1.7m5.3 -34h1.7m77.3 -25h1.7m-72.7 61h1.7m19.3 -64h1.7m17.3 10h1.7m-16.7 34h1.7m25.3 -40h1.7m-14.7 26h1.7m34.3 -4h1.7m-29.7 -1h1.7m-30.7 26h1.7m24.3 8h1.7m-4.7 -46h1.7m0.3 7h1.7m-40.7 30h1.7m31.3 2h1.7m-34.7 -26h1.7m29.3 0h1.7m-1.7 1h1.7m14.3 12h1.7m-17.7 -6h1.7m13.3 -7h1.7m-22.7 -10h1.7m-21.7 5h1.7m40.3 0h1.7m-39.7 21h1.7m15.3 -6h1.7m2.3 -19h1.7m30.3 -7h1.7m-32.7 7h1.7m-4.7 19h1.7m-28.7 -9h1.7m40.3 11h1.7m13.3 -4h1.7m-23.7 2h1.7m-10.7 -3h1.7m-14.7 17h1.7m33.3 -32h1.7m-25.7 27h1.7m-13.7 -13h1.7m12.3 -13h1.7m-23.7 26h1.7m-14.7 -10h1.7m34.3 -13h1.7m50.3 -11h1.7m-37.7 25h1.7m-34.7 7h1.7m10.3 1h1.7m-16.7 -37h1.7m31.3 29h1.7m-46.7 6h1.7m68.3 -36h1.7m-60.7 38h1.7m-10.7 7h1.7m59.3 -47h1.7m-44.7 25h1.7m36.3 18h1.7m-0.7 -31h1.7m-9.7 -2h1.7m-47.7 18h1.7m49.3 -3h1.7m-49.7 -18h1.7m57.3 -5h1.7m-0.7 -7h1.7m-11.7 24h1.7m-3.7 -7h1.7m19.3 6h1.7m-15.7 -20h1.7m-41.7 10h1.7m-0.7 41h1.7m29.3 -29h1.7m27.3 17h1.7m-69.7 -7h1.7m53.3 -8h1.7m-5.7 0h1.7m-29.7 16h1.7m-1.7 3h1.7m-31.7 14h1.7m50.3 -33h1.7m-28.7 8h1.7m42.3 5h1.7m-3.7 -20h1.7m-19.7 6h1.7m9.3 -6h1.7m-21.7 1h1.7m14.3 30h1.7m-41.7 -14h1.7m16.3 -11h1.7m29.3 -15h1.7m12.3 -8h1.7m-63.7 18h1.7m51.3 12h1.7m-43.7 -26h1.7m-40.7 56h1.7m55.3 -68h1.7m-17.7 44h1.7m-24.7 -20h1.7m44.3 -13h1.7m-29.7 23h1.7m0.3 5h1.7m-36.7 5h1.7m38.3 5h1.7m-6.7 -29h1.7m15.3 0h1.7m15.3 9h1.7m-32.7 26h1.7m-12.7 -25h1.7m28.3 -2h1.7m6.3 -7h1.7m-21.7 -7h1.7m-33.7 10h1.7m21.3 16h1.7m4.3 -3h1.7m-7.7 -16h1.7m7.3 8h1.7m-5.7 10h1.7m-37.7 22h1.7m-4.7 -36h1.7m32.3 1h1.7m-19.7 15h1.7m-13.7 -34h1.7m37.3 40h1.7m46.3 -32h1.7m-65.7 9h1.7m26.3 6h1.7m-37.7 21h1.7m22.3 -51h1.7m-10.7 5h1.7m-24.7 28h1.7m-1.7 -16h1.7m27.3 -17h1.7m-35.7 47h1.7m84.3 -16h1.7m-83.7 24h1.7m11.3 14h1.7m-0.7 -50h1.7m67.3 7h1.7m-65.7 17h1.7m13.3 -16h1.7m11.3 -1h1.7m21.3 -8h1.7m-70.7 6h1.7m41.3 14h1.7m-27.7 -3h1.7m19.3 -21h1.7m-7.7 10h1.7m-3.7 29h1.7m-13.7 25h1.7m17.3 -37h1.7m2.3 9h1.7m-42.7 -18h1.7m61.3 9h1.7m-31.7 -21h1.7m-3.7 -16h1.7m-33.7 40h1.7m5.3 -28h1.7m-55.7 38h1.7m61.3 -30h1.7m0.3 5h1.7m-26.7 30h1.7m20.3 -11h1.7m-1.7 6h1.7m8.3 -7h1.7m-34.7 -25h1.7m63.3 16h1.7m-52.7 -22h1.7m-50.7 27h1.7m59.3 -9h1.7m23.3 -9h1.7m5.3 -3h1.7m-19.7 0h1.7m-14.7 11h1.7m10.3 17h1.7m15.3 -45h1.7m-60.7 36h1.7m32.3 12h1.7m30.3 -26h1.7m-27.7 -1h1.7m31.3 13h1.7m-28.7 -19h1.7m8.3 18h1.7m-18.7 3h1.7m7.3 6h1.7m-42.7 -3h1.7m30.3 -15h1.7m19.3 -36h1.7m-18.7 31h1.7m-29.7 6h1.7m17.3 4h1.7m13.3 -20h1.7m-30.7 4h1.7m29.3 39h1.7m-1.7 -16h1.7m20.3 -10h1.7m-1.7 3h1.7m-71.7 14h1.7m45.3 -14h1.7m-45.7 16h1.7m40.3 -28h1.7m-1.7 5h1.7m-31.7 34h1.7m21.3 -12h1.7m15.3 -28h1.7m-49.7 39h1.7m43.3 -43h1.7m-17.7 11h1.7m-32.7 -5h1.7m-0.7 24h1.7m98.3 -33h1.7m-117.7 44h1.7m42.3 -36h1.7m-16.7 -4h1.7m7.3 17h1.7m12.3 9h1.7m7.3 -14h1.7m-46.7 -5h1.7m5.3 35h1.7m51.3 -15h1.7m-30.7 10h1.7m-12.7 -23h1.7m22.3 -12h1.7m-13.7 -7h1.7m-2.7 20h1.7m-43.7 17h1.7m52.3 0h1.7m-45.7 7h1.7m32.3 16h1.7m-0.7 -40h1.7m24.3 5h1.7m-44.7 -10h1.7m19.3 -15h1.7m17.3 0h1.7m-35.7 26h1.7m10.3 5h1.7m28.3 -25h1.7m-14.7 22h1.7m-36.7 -26h1.7m43.3 23h1.7m-50.7 5h1.7m14.3 -30h1.7m-10.7 28h1.7m23.3 -16h1.7m-56.7 32h1.7m70.3 -43h1.7m-19.7 36h1.7m-37.7 -42h1.7m49.3 -10h1.7m-19.7 18h1.7m-29.7 28h1.7m-12.7 -11h1.7m12.3 9h1.7m26.3 -1h1.7m-26.7 -6h1.7m-2.7 -7h1.7m36.3 -14h1.7m-44.7 22h1.7m-2.7 -23h1.7m53.3 15h1.7m-22.7 9h1.7m-8.7 -29h1.7m-51.7 37h1.7m23.3 -4h1.7m-31.7 29h1.7m34.3 -46h1.7m16.3 -12h1.7m5.3 29h1.7m-44.7 -10h1.7m25.3 8h1.7m-34.7 6h1.7m0.3 -1h1.7m51.3 -28h1.7m7.3 3h1.7m-86.7 13h1.7m114.3 -31h1.7m-103.7 46h1.7m-10.7 20h1.7m28.3 -24h1.7m54.3 -32h1.7m-72.7 38h1.7m53.3 -20h1.7m-18.7 20h1.7m21.3 -27h1.7m-23.7 -1h1.7m-64.7 43h1.7m63.3 -28h1.7m-30.7 -21h1.7m34.3 33h1.7m-7.7 -51h1.7m-17.7 11h1.7m22.3 24h1.7m-7.7 -8h1.7m-41.7 26h1.7m22.3 -27h1.7m3.3 13h1.7m59.3 -7h1.7m-83.7 -5h1.7m10.3 7h1.7m7.3 7h1.7m24.3 6h1.7m-11.7 -3h1.7m-16.7 -14h1.7m16.3 17h1.7m-33.7 -5h1.7m-23.7 -4h1.7m86.3 4h1.7m-1.7 -19h1.7m-40.7 6h1.7m-27.7 22h1.7m77.3 -23h1.7m-35.7 8h1.7m-24.7 -17h1.7m-3.7 6h1.7m61.3 -1h1.7m-38.7 -20h1.7m-66.7 43h1.7m-4.7 8h1.7m62.3 -25h1.7m-11.7 21h1.7m-53.7 11h1.7m58.3 -24h1.7m-37.7 -5h1.7m13.3 -13h1.7m17.3 -14h1.7m-23.7 34h1.7m19.3 -6h1.7m-23.7 15h1.7m24.3 -41h1.7m3.3 48h1.7m-25.7 -16h1.7m46.3 -54h1.7m-83.7 63h1.7m38.3 -35h1.7m-36.7 27h1.7m2.3 -5h1.7m42.3 2h1.7m-14.7 16h1.7m-19.7 1h1.7m-9.7 11h1.7m-6.7 -52h1.7m-11.7 44h1.7m35.3 -19h1.7m-25.7 18h1.7m13.3 -8h1.7m2.3 -9h1.7m32.3 -19h1.7m-35.7 23h1.7m-18.7 -10h1.7m5.3 -6h1.7m-0.7 7h1.7m12.3 -15h1.7m-32.7 21h1.7m29.3 -18h1.7m-68.7 22h1.7m40.3 -19h1.7m28.3 -8h1.7m-5.7 8h1.7m-11.7 14h1.7m-5.7 -11h1.7m-13.7 4h1.7m10.3 -23h1.7m18.3 9h1.7m-62.7 29h1.7m72.3 -35h1.7m23.3 22h1.7m-75.7 -8h1.7m7.3 9h1.7m-19.7 -2h1.7m-46.7 8h1.7m82.3 -26h1.7m-4.7 14h1.7m7.3 6h1.7m-37.7 -2h1.7m20.3 17h1.7m16.3 -34h1.7m-30.7 5h1.7m14.3 -8h1.7m-27.7 26h1.7m26.3 -6h1.7m-43.7 4h1.7m-10.7 -10h1.7m13.3 19h1.7m22.3 -37h1.7m7.3 22h1.7m31.3 -10h1.7m-49.7 20h1.7m15.3 -17h1.7m-21.7 0h1.7m13.3 15h1.7m30.3 -15h1.7m-84.7 33h1.7m47.3 -20h1.7m-22.7 0h1.7m-7.7 4h1.7m9.3 7h1.7m11.3 -27h1.7m0.3 22h1.7m-32.7 11h1.7m28.3 -36h1.7m-14.7 47h1.7m14.3 -39h1.7m-16.7 -9h1.7m-30.7 43h1.7m15.3 -10h1.7m27.3 -13h1.7m-20.7 2h1.7m48.3 -17h1.7m-30.7 5h1.7m-18.7 7h1.7m-4.7 25h1.7m3.3 -43h1.7m-5.7 44h1.7m-7.7 -8h1.7m11.3 -14h1.7m-32.7 -2h1.7m15.3 16h1.7m7.3 -1h1.7m-16.7 -15h1.7m-19.7 18h1.7m8.3 8h1.7m28.3 -30h1.7m16.3 -9h1.7m-12.7 -1h1.7m-25.7 16h1.7m45.3 -16h1.7m-24.7 0h1.7m21.3 -1h1.7m-43.7 9h1.7m-4.7 8h1.7m-8.7 4h1.7m39.3 11h1.7m-7.7 -10h1.7m32.3 -25h1.7m-56.7 15h1.7m12.3 11h1.7m10.3 -18h1.7m-7.7 -6h1.7m-59.7 26h1.7m35.3 -10h1.7m-11.7 -10h1.7m14.3 24h1.7m2.3 -10h1.7m1.3 39h1.7m32.3 -80h1.7m-36.7 41h1.7m-12.7 -10h1.7m26.3 30h1.7m-12.7 -20h1.7m-10.7 0h1.7m-28.7 -5h1.7m10.3 -14h1.7m26.3 6h1.7m-21.7 22h1.7m-34.7 -22h1.7m10.3 13h1.7m35.3 8h1.7m1.3 -7h1.7m-41.7 19h1.7m23.3 -17h1.7m-27.7 -21h1.7m29.3 0h1.7m4.3 18h1.7m-0.7 2h1.7m-16.7 -11h1.7m-12.7 28h1.7m6.3 -5h1.7m26.3 -42h1.7m-0.7 20h1.7m-34.7 16h1.7m-26.7 -9h1.7m9.3 -9h1.7m41.3 15h1.7m-27.7 -14h1.7m9.3 4h1.7m-19.7 -13h1.7m44.3 -10h1.7m-40.7 3h1.7m45.3 -5h1.7m-56.7 30h1.7m33.3 1h1.7m15.3 -18h1.7m-23.7 13h1.7m-38.7 14h1.7m35.3 0h1.7m-24.7 -8h1.7m49.3 11h1.7m-44.7 -19h1.7m17.3 8h1.7m-21.7 -2h1.7m7.3 -5h1.7m-0.7 -21h1.7m-5.7 13h1.7m27.3 -26h1.7m-24.7 45h1.7m-7.7 -31h1.7m-6.7 1h1.7m3.3 16h1.7m16.3 20h1.7m-41.7 -6h1.7m-15.7 8h1.7m-9.7 23h1.7m80.3 -54h1.7m-63.7 7h1.7m50.3 9h1.7m-10.7 -2h1.7m-30.7 14h1.7m-35.7 -14h1.7m50.3 -24h1.7m-21.7 24h1.7m1.3 -6h1.7m40.3 8h1.7m-25.7 -2h1.7m-20.7 17h1.7m-9.7 7h1.7m20.3 -18h1.7m2.3 -12h1.7m-13.7 -9h1.7m28.3 -7h1.7m-49.7 26h1.7m32.3 11h1.7m-44.7 -4h1.7m-6.7 1h1.7m18.3 -21h1.7m48.3 -23h1.7m-60.7 54h1.7m4.3 4h1.7m49.3 -25h1.7m-28.7 -12h1.7m-17.7 0h1.7m-31.7 31h1.7m82.3 -34h1.7m-52.7 6h1.7m-2.7 4h1.7m-6.7 13h1.7m-23.7 -34h1.7m59.3 36h1.7m1.3 -17h1.7m-5.7 1h1.7m-30.7 2h1.7m19.3 -6h1.7m0.3 -4h1.7m24.3 -11h1.7m-67.7 41h1.7m19.3 -38h1.7m-3.7 -5h1.7m22.3 33h1.7m-13.7 3h1.7m21.3 9h1.7m-68.7 -14h1.7m61.3 -11h1.7m-58.7 11h1.7m36.3 -4h1.7m-21.7 9h1.7m-18.7 -4h1.7m-13.7 10h1.7m55.3 -21h1.7m-18.7 19h1.7m26.3 -32h1.7m-66.7 36h1.7m29.3 -4h1.7m54.3 -17h1.7m-84.7 7h1.7m43.3 3h1.7m19.3 -41h1.7m20.3 38h1.7m-36.7 -6h1.7m-37.7 1h1.7m-9.7 3h1.7m41.3 -5h1.7m-43.7 31h1.7m-18.7 -32h1.7m10.3 -25h1.7m30.3 12h1.7m3.3 20h1.7m-51.7 -10h1.7m37.3 -2h1.7m-21.7 26h1.7m21.3 -10h1.7m12.3 5h1.7m-33.7 -7h1.7m8.3 7h1.7m24.3 -25h1.7m-45.7 1h1.7m21.3 5h1.7m-23.7 21h1.7m6.3 -28h1.7m7.3 19h1.7m-4.7 8h1.7m-4.7 -6h1.7m-23.7 2h1.7m13.3 -26h1.7m-2.7 -3h1.7m76.3 28h1.7m-71.7 -15h1.7m13.3 20h1.7m-11.7 -17h1.7m1.3 -17h1.7m-34.7 58h1.7m26.3 -35h1.7m39.3 -14h1.7m-66.7 23h1.7m14.3 6h1.7m44.3 -41h1.7m-22.7 0h1.7m-44.7 16h1.7m13.3 8h1.7m43.3 -5h1.7m-40.7 5h1.7m8.3 -19h1.7m-30.7 54h1.7m57.3 -68h1.7m-57.7 56h1.7m-4.7 -17h1.7m20.3 3h1.7m-18.7 6h1.7m84.3 -34h1.7m-35.7 14h1.7m16.3 4h1.7m-94.7 6h1.7m65.3 -28h1.7m-7.7 3h1.7m-29.7 10h1.7m0.3 0h1.7m-5.7 -17h1.7m59.3 22h1.7m-67.7 46h1.7m-0.7 -8h1.7m21.3 -19h1.7m-10.7 -22h1.7m-45.7 9h1.7m66.3 -8h1.7m-21.7 12h1.7m-20.7 -4h1.7m1.3 14h1.7m-24.7 -17h1.7m119.3 -21h1.7m-60.7 36h1.7m-20.7 -30h1.7m18.3 -4h1.7m-52.7 10h1.7m64.3 18h1.7m-12.7 4h1.7m-10.7 -6h1.7m-28.7 -13h1.7m22.3 20h1.7m-14.7 -5h1.7m-13.7 -20h1.7m17.3 1h1.7m4.3 -7h1.7m-33.7 30h1.7m48.3 -16h1.7m-50.7 -5h1.7m-16.7 2h1.7m27.3 7h1.7m26.3 23h1.7m-42.7 -25h1.7m35.3 -20h1.7m-5.7 17h1.7m13.3 15h1.7m-5.7 -7h1.7m-43.7 9h1.7m3.3 -19h1.7m36.3 -5h1.7m-52.7 32h1.7m41.3 -59h1.7m-51.7 53h1.7m24.3 -3h1.7m4.3 -19h1.7m9.3 2h1.7m-36.7 27h1.7m49.3 -32h1.7m-53.7 6h1.7m6.3 6h1.7m30.3 -7h1.7m-5.7 2h1.7m-65.7 16h1.7m34.3 7h1.7m41.3 -39h1.7m-0.7 36h1.7m-53.7 -24h1.7m16.3 6h1.7m37.3 -20h1.7m3.3 26h1.7m-29.7 -5h1.7m-44.7 30h1.7m67.3 -46h1.7m-42.7 34h1.7m20.3 -13h1.7m0.3 -7h1.7m-15.7 -11h1.7m-18.7 32h1.7m20.3 -29h1.7m-1.7 16h1.7m17.3 -8h1.7m-68.7 7h1.7m23.3 2h1.7m28.3 -29h1.7m-49.7 28h1.7m41.3 -20h1.7m-18.7 32h1.7m15.3 -24h1.7m-29.7 44h1.7m1.3 -46h1.7m-21.7 15h1.7m36.3 1h1.7m38.3 5h1.7m-61.7 2h1.7m-28.7 2h1.7m66.3 -41h1.7m-16.7 26h1.7m-25.7 5h1.7m4.3 24h1.7m-19.7 -30h1.7m-23.7 23h1.7m63.3 -33h1.7m9.3 8h1.7m-15.7 8h1.7m12.3 -54h1.7m-27.7 57h1.7m50.3 -45h1.7m-48.7 36h1.7m-0.7 -3h1.7m-41.7 -14h1.7m22.3 13h1.7m24.3 1h1.7m-18.7 18h1.7m0.3 3h1.7m-2.7 -22h1.7m14.3 5h1.7m-51.7 -17h1.7m41.3 8h1.7m-39.7 38h1.7m21.3 -12h1.7m24.3 -17h1.7m-15.7 3h1.7m2.3 0h1.7m-22.7 0h1.7m-7.7 -9h1.7m22.3 0h1.7m-42.7 13h1.7m45.3 -4h1.7m-32.7 -20h1.7m-33.7 13h1.7m65.3 -19h1.7m23.3 12h1.7m-11.7 -12h1.7m-33.7 61h1.7m4.3 -39h1.7m-37.7 21h1.7m19.3 -3h1.7m-6.7 -22h1.7m8.3 -13h1.7m-28.7 23h1.7m-8.7 27h1.7m-2.7 7h1.7m56.3 -55h1.7m-11.7 7h1.7m-1.7 -5h1.7m12.3 -6h1.7m-30.7 9h1.7m8.3 26h1.7m-2.7 -5h1.7m-46.7 -22h1.7m11.3 20h1.7m38.3 -21h1.7m-62.7 1h1.7m21.3 50h1.7m11.3 -42h1.7m15.3 -3h1.7m3.3 -7h1.7m-27.7 17h1.7m8.3 -9h1.7m19.3 9h1.7m0.3 -5h1.7m-8.7 23h1.7m25.3 -32h1.7m-27.7 6h1.7m-61.7 12h1.7m26.3 -11h1.7m48.3 -16h1.7m-5.7 5h1.7m-26.7 29h1.7m9.3 7h1.7m4.3 -34h1.7m23.3 -28h1.7m-18.7 28h1.7m9.3 -1h1.7m-40.7 -2h1.7m37.3 28h1.7m-71.7 7h1.7m64.3 -26h1.7m1.3 -23h1.7m-21.7 16h1.7m8.3 -11h1.7m-26.7 24h1.7m-19.7 14h1.7m37.3 -32h1.7m-50.7 11h1.7m12.3 13h1.7m5.3 19h1.7m-21.7 -13h1.7m86.3 -34h1.7m-55.7 21h1.7m-42.7 -1h1.7m78.3 -7h1.7m-65.7 10h1.7m20.3 12h1.7m7.3 -9h1.7m-23.7 4h1.7m10.3 -3h1.7m-42.7 6h1.7m28.3 21h1.7m22.3 -40h1.7m-31.7 3h1.7m-1.7 4h1.7m40.3 -8h1.7m-13.7 19h1.7m-4.7 12h1.7m-3.7 -13h1.7m5.3 -19h1.7m-23.7 3h1.7m-39.7 15h1.7m58.3 -18h1.7m31.3 -12h1.7m-17.7 42h1.7m-63.7 2h1.7m37.3 -27h1.7m-16.7 14h1.7m5.3 5h1.7m-36.7 2h1.7m11.3 -10h1.7m28.3 18h1.7m-23.7 5h1.7m-40.7 -34h1.7m15.3 15h1.7m59.3 -33h1.7m-49.7 28h1.7m1.3 30h1.7m12.3 -39h1.7m21.3 -21h1.7m-12.7 29h1.7m-23.7 17h1.7m8.3 -54h1.7m-16.7 23h1.7m47.3 1h1.7m-2.7 6h1.7m-72.7 24h1.7m65.3 -12h1.7m4.3 -22h1.7m-6.7 3h1.7m-43.7 9h1.7m-61.7 7h1.7m110.3 -9h1.7m-33.7 5h1.7m-34.7 -12h1.7m30.3 8h1.7m31.3 12h1.7m-60.7 -4h1.7m52.3 7h1.7m-41.7 -8h1.7m40.3 -21h1.7m2.3 23h1.7m-32.7 6h1.7m-16.7 -12h1.7m-26.7 32h1.7m24.3 -43h1.7m-12.7 9h1.7m0.3 19h1.7m78.3 -46h1.7m-96.7 5h1.7m20.3 16h1.7m-1.7 13h1.7m60.3 -8h1.7m-19.7 -1h1.7m-31.7 10h1.7m1.3 -14h1.7m-11.7 -7h1.7m-55.7 39h1.7m35.3 -7h1.7m58.3 -39h1.7m-34.7 0h1.7m-0.7 20h1.7m-3.7 -8h1.7m-22.7 11h1.7m28.3 -11h1.7m-22.7 3h1.7m10.3 0h1.7m13.3 17h1.7m-64.7 -9h1.7m36.3 -10h1.7m-4.7 29h1.7m32.3 -34h1.7m-2.7 39h1.7m-40.7 -24h1.7m-12.7 -18h1.7m2.3 1h1.7m51.3 -11h1.7m-5.7 -5h1.7m-26.7 22h1.7m4.3 23h1.7m3.3 -26h1.7m-17.7 13h1.7m-10.7 -6h1.7m42.3 24h1.7m-33.7 7h1.7m-37.7 -5h1.7m28.3 -18h1.7m-11.7 -16h1.7m-30.7 29h1.7m85.3 -22h1.7m-65.7 17h1.7m29.3 -6h1.7m10.3 -18h1.7m-69.7 32h1.7m26.3 -13h1.7m-10.7 -7h1.7m17.3 1h1.7m16.3 -9h1.7m-21.7 12h1.7m-3.7 32h1.7m-18.7 -15h1.7m6.3 -12h1.7m21.3 -22h1.7m8.3 -5h1.7m-37.7 19h1.7m6.3 -3h1.7m1.3 36h1.7m-26.7 -49h1.7m21.3 15h1.7m47.3 12h1.7m-49.7 2h1.7m-3.7 -24h1.7m-18.7 20h1.7m66.3 -30h1.7m-19.7 17h1.7m-27.7 4h1.7m-0.7 9h1.7m-3.7 -2h1.7m-3.7 11h1.7m3.3 3h1.7m14.3 -15h1.7m9.3 -9h1.7m-9.7 -3h1.7m-37.7 15h1.7m20.3 19h1.7m-2.7 -42h1.7m-2.7 6h1.7m-1.7 -8h1.7m6.3 -30h1.7m-23.7 30h1.7m10.3 32h1.7m3.3 -13h1.7m-13.7 -10h1.7m64.3 -12h1.7m-59.7 2h1.7m19.3 22h1.7m-22.7 -12h1.7m33.3 -11h1.7m-19.7 40h1.7m-5.7 -48h1.7m-37.7 39h1.7m25.3 -11h1.7m21.3 -4h1.7m-9.7 -12h1.7m-6.7 11h1.7m-23.7 -1h1.7m-39.7 20h1.7m24.3 10h1.7m13.3 -41h1.7m30.3 12h1.7m3.3 -5h1.7m-48.7 38h1.7m-10.7 1h1.7m28.3 -33h1.7m-50.7 3h1.7m35.3 15h1.7m14.3 -15h1.7m1.3 7h1.7m-27.7 -34h1.7m25.3 18h1.7m9.3 9h1.7m-31.7 -27h1.7m37.3 32h1.7m6.3 -32h1.7m-42.7 11h1.7m44.3 19h1.7m-37.7 -17h1.7m-1.7 13h1.7m-19.7 17h1.7m27.3 -24h1.7m-74.7 13h1.7m77.3 7h1.7m6.3 -15h1.7m-57.7 30h1.7m38.3 -38h1.7m-4.7 -5h1.7m-26.7 -6h1.7m9.3 13h1.7m-11.7 -8h1.7m20.3 33h1.7m-17.7 -3h1.7m38.3 -38h1.7m0.3 26h1.7m-60.7 21h1.7m46.3 -58h1.7m-31.7 26h1.7m-4.7 12h1.7m66.3 -4h1.7m-65.7 -6h1.7m56.3 -6h1.7m-29.7 9h1.7m-60.7 36h1.7m32.3 -35h1.7m-29.7 2h1.7m23.3 1h1.7m-2.7 -49h1.7m-7.7 48h1.7m-6.7 12h1.7m-13.7 -15h1.7m19.3 7h1.7m-7.7 -9h1.7m-26.7 1h1.7m11.3 27h1.7m42.3 -18h1.7m-78.7 -1h1.7m38.3 3h1.7m42.3 -14h1.7m-67.7 11h1.7m70.3 0h1.7m-49.7 9h1.7m8.3 -22h1.7m31.3 2h1.7m13.3 -1h1.7m-47.7 -24h1.7m5.3 38h1.7m32.3 -36h1.7m-26.7 30h1.7m1.3 -7h1.7m-3.7 -4h1.7m-34.7 24h1.7m17.3 -7h1.7m22.3 -18h1.7m-13.7 7h1.7m-49.7 11h1.7m49.3 -17h1.7m-14.7 13h1.7m-15.7 -23h1.7m-3.7 27h1.7m31.3 -13h1.7m-20.7 -13h1.7m-28.7 19h1.7m62.3 -22h1.7m-48.7 27h1.7m30.3 -6h1.7m-16.7 1h1.7m30.3 -17h1.7m-36.7 19h1.7m-10.7 -17h1.7m7.3 34h1.7m-3.7 -27h1.7m-36.7 21h1.7m11.3 -21h1.7m-20.7 6h1.7m12.3 24h1.7m13.3 -29h1.7m-8.7 -8h1.7m38.3 5h1.7m-25.7 5h1.7m-45.7 -11h1.7m29.3 35h1.7m9.3 -31h1.7m25.3 2h1.7m10.3 16h1.7m-58.7 13h1.7m-24.7 -4h1.7m36.3 -20h1.7m-27.7 17h1.7m26.3 -7h1.7m-6.7 -4h1.7m18.3 -34h1.7m-15.7 23h1.7m1.3 4h1.7m-35.7 20h1.7m33.3 0h1.7m22.3 -2h1.7m34.3 5h1.7m-44.7 -20h1.7m22.3 -20h1.7m-26.7 14h1.7m-39.7 -13h1.7m-10.7 29h1.7m41.3 -14h1.7m-59.7 -8h1.7m62.3 -5h1.7m-38.7 31h1.7m-1.7 9h1.7m-4.7 -22h1.7m12.3 3h1.7m24.3 -15h1.7m-54.7 4h1.7m-16.7 12h1.7m50.3 -24h1.7m-0.7 17h1.7m-22.7 15h1.7m-0.7 -11h1.7m6.3 -13h1.7m-24.7 12h1.7m23.3 -8h1.7m15.3 7h1.7m28.3 -20h1.7m-10.7 23h1.7m-46.7 17h1.7m-0.7 -16h1.7m-12.7 1h1.7m3.3 5h1.7m-33.7 14h1.7m44.3 -10h1.7m-41.7 10h1.7m24.3 4h1.7m12.3 -34h1.7m-9.7 41h1.7m9.3 -28h1.7m-2.7 0h1.7m17.3 3h1.7m37.3 -17h1.7m-33.7 8h1.7m-33.7 2h1.7m-2.7 25h1.7m-4.7 -17h1.7m-33.7 5h1.7m19.3 -21h1.7m4.3 10h1.7m-15.7 3h1.7m23.3 -1h1.7m-38.7 1h1.7m-13.7 12h1.7m20.3 -12h1.7m23.3 -20h1.7m38.3 23h1.7m-57.7 7h1.7m-14.7 -13h1.7m25.3 -3h1.7m-26.7 -12h1.7m-6.7 26h1.7m14.3 -8h1.7m4.3 -11h1.7m-12.7 4h1.7m14.3 -4h1.7m28.3 -11h1.7m19.3 2h1.7m-35.7 7h1.7m-16.7 8h1.7m-7.7 19h1.7m21.3 0h1.7m-18.7 -24h1.7m3.3 24h1.7m53.3 -23h1.7m-26.7 1h1.7m-47.7 8h1.7m58.3 10h1.7m-43.7 -22h1.7m-32.7 10h1.7m62.3 -3h1.7m-81.7 15h1.7m63.3 4h1.7m-16.7 -9h1.7m12.3 -35h1.7m-9.7 23h1.7m-45.7 12h1.7m59.3 -7h1.7m-35.7 -32h1.7m22.3 30h1.7m-8.7 -11h1.7m-41.7 -1h1.7m51.3 -7h1.7m-53.7 17h1.7m-20.7 -5h1.7m91.3 -4h1.7m-36.7 -8h1.7m2.3 -12h1.7m-42.7 23h1.7m51.3 13h1.7m-41.7 11h1.7m18.3 6h1.7m-5.7 -25h1.7m-49.7 -9h1.7m56.3 -9h1.7m8.3 26h1.7m-16.7 -10h1.7m1.3 -13h1.7m-35.7 22h1.7m72.3 -21h1.7m-42.7 13h1.7m-26.7 26h1.7m-20.7 -11h1.7m-7.7 22h1.7m40.3 -42h1.7m-33.7 17h1.7m46.3 11h1.7m-47.7 -7h1.7m-8.7 7h1.7m33.3 5h1.7m-13.7 -20h1.7m-18.7 -7h1.7m40.3 -1h1.7m-33.7 3h1.7m-44.7 1h1.7m57.3 -19h1.7m-21.7 26h1.7m40.3 -18h1.7m-0.7 17h1.7m-22.7 0h1.7m-12.7 -6h1.7m-17.7 7h1.7m17.3 3h1.7m26.3 -10h1.7m-5.7 15h1.7m14.3 -34h1.7m-11.7 -17h1.7m-28.7 21h1.7m-9.7 29h1.7m-6.7 -2h1.7m5.3 -29h1.7m35.3 18h1.7m-46.7 13h1.7m48.3 -6h1.7m-40.7 17h1.7m5.3 -16h1.7m53.3 -34h1.7m-40.7 28h1.7m-8.7 -8h1.7m-32.7 48h1.7m42.3 -31h1.7m-20.7 -14h1.7m4.3 -7h1.7m-6.7 2h1.7m6.3 -7h1.7m-26.7 29h1.7m18.3 -20h1.7m-24.7 19h1.7m-15.7 4h1.7m24.3 -17h1.7m-8.7 18h1.7m-28.7 -23h1.7m40.3 -15h1.7m17.3 0h1.7m-30.7 -3h1.7m12.3 11h1.7m-4.7 -14h1.7m-3.7 44h1.7m2.3 -18h1.7m-23.7 5h1.7m1.3 -10h1.7m2.3 9h1.7m48.3 -23h1.7m-41.7 2h1.7m35.3 5h1.7m-21.7 -12h1.7m-8.7 30h1.7m-6.7 -15h1.7m-28.7 16h1.7m18.3 -21h1.7m36.3 12h1.7m-44.7 15h1.7m54.3 -22h1.7m-73.7 -18h1.7m19.3 12h1.7m13.3 -5h1.7m-18.7 18h1.7m-17.7 11h1.7m47.3 -7h1.7m23.3 -31h1.7m-55.7 27h1.7m25.3 -4h1.7m-61.7 25h1.7m44.3 -37h1.7m-6.7 8h1.7m32.3 22h1.7m-39.7 -6h1.7m7.3 12h1.7m24.3 -37h1.7m-69.7 14h1.7m29.3 -9h1.7m-10.7 28h1.7m-4.7 -2h1.7m30.3 -14h1.7m-23.7 -8h1.7m-11.7 8h1.7m11.3 24h1.7m-30.7 -16h1.7m-6.7 -7h1.7m5.3 37h1.7m-5.7 -10h1.7m-4.7 -6h1.7m7.3 -24h1.7m6.3 17h1.7m26.3 -14h1.7m-51.7 7h1.7m24.3 -8h1.7m2.3 20h1.7m24.3 -8h1.7m-11.7 -4h1.7m-15.7 -43h1.7m-43.7 49h1.7m18.3 2h1.7m16.3 -21h1.7m2.3 10h1.7m-25.7 -8h1.7m35.3 -6h1.7m-2.7 -14h1.7m-15.7 16h1.7m-17.7 -1h1.7m24.3 23h1.7m-30.7 -57h1.7m58.3 36h1.7m2.3 -3h1.7m-65.7 9h1.7m38.3 -2h1.7m-9.7 -10h1.7m-21.7 14h1.7m2.3 9h1.7m-9.7 -4h1.7m1.3 0h1.7m43.3 -29h1.7m-15.7 25h1.7m11.3 -20h1.7m-20.7 19h1.7m-50.7 34h1.7m76.3 -31h1.7m-11.7 -11h1.7m-37.7 -4h1.7m-22.7 29h1.7m7.3 -34h1.7m60.3 -4h1.7m-27.7 28h1.7m12.3 -7h1.7m-70.7 14h1.7m36.3 -54h1.7m-29.7 28h1.7m11.3 2h1.7m24.3 0h1.7m-6.7 -6h1.7m15.3 30h1.7m3.3 -16h1.7m-35.7 -29h1.7m69.3 26h1.7m-119.7 14h1.7m76.3 -6h1.7m7.3 6h1.7m-47.7 -20h1.7m10.3 -2h1.7m5.3 17h1.7m-43.7 -32h1.7m25.3 38h1.7m11.3 -21h1.7m-12.7 -3h1.7m47.3 16h1.7m-79.7 17h1.7m35.3 8h1.7m-5.7 -19h1.7m-3.7 -14h1.7m12.3 34h1.7m17.3 -30h1.7m7.3 -21h1.7m-47.7 10h1.7m-13.7 22h1.7m12.3 -14h1.7m19.3 -4h1.7m-45.7 15h1.7m53.3 3h1.7m-62.7 -28h1.7m33.3 29h1.7m-3.7 -31h1.7m60.3 27h1.7m-63.7 -4h1.7m46.3 -10h1.7m-64.7 -7h1.7m28.3 4h1.7m-1.7 15h1.7m12.3 -19h1.7m-27.7 20h1.7m45.3 -29h1.7m-46.7 27h1.7m-15.7 -1h1.7m65.3 -9h1.7m-55.7 9h1.7m4.3 -22h1.7m-42.7 16h1.7m30.3 21h1.7m-34.7 -20h1.7m37.3 0h1.7m-36.7 10h1.7m58.3 -15h1.7m-50.7 9h1.7m40.3 -2h1.7m-42.7 4h1.7m36.3 -17h1.7m-26.7 22h1.7m-16.7 8h1.7m30.3 -26h1.7m20.3 -33h1.7m-66.7 58h1.7m63.3 -35h1.7m-13.7 41h1.7m-35.7 -32h1.7m23.3 -2h1.7m-17.7 3h1.7m11.3 15h1.7m-23.7 -19h1.7m-12.7 21h1.7m-9.7 0h1.7m53.3 -25h1.7m-77.7 15h1.7m28.3 20h1.7m-9.7 -7h1.7m7.3 6h1.7m22.3 -27h1.7m5.3 15h1.7m11.3 -24h1.7m-37.7 33h1.7m20.3 -26h1.7m-58.7 43h1.7m42.3 -32h1.7m-65.7 27h1.7m86.3 -32h1.7m-13.7 -1h1.7m-10.7 -6h1.7m38.3 9h1.7m-67.7 -15h1.7m16.3 55h1.7m27.3 -38h1.7m-1.7 11h1.7m-10.7 -3h1.7m-51.7 5h1.7m30.3 -6h1.7m-8.7 9h1.7m-25.7 -13h1.7m12.3 24h1.7m40.3 -29h1.7m-25.7 35h1.7m-3.7 -18h1.7m4.3 -7h1.7m17.3 -5h1.7m-44.7 26h1.7m69.3 -23h1.7m-65.7 21h1.7m-13.7 -24h1.7m15.3 -16h1.7m8.3 5h1.7m-11.7 14h1.7m35.3 -6h1.7m-2.7 18h1.7m-55.7 6h1.7m21.3 -29h1.7m-8.7 24h1.7m25.3 -10h1.7m3.3 -28h1.7m7.3 47h1.7m-26.7 -9h1.7m-3.7 -25h1.7m62.3 -5h1.7m-74.7 23h1.7m31.3 6h1.7m23.3 -12h1.7m-76.7 -6h1.7m94.3 -2h1.7m-53.7 9h1.7m15.3 -32h1.7m-31.7 37h1.7m10.3 2h1.7m-33.7 -20h1.7m12.3 30h1.7m-10.7 -31h1.7m-17.7 30h1.7m8.3 2h1.7m-10.7 -25h1.7m15.3 -7h1.7m4.3 16h1.7m-0.7 -7h1.7m-0.7 2h1.7m27.3 -2h1.7m-54.7 13h1.7m43.3 -18h1.7m-34.7 12h1.7m25.3 -31h1.7m-25.7 40h1.7m10.3 -1h1.7m15.3 0h1.7m-39.7 6h1.7m-4.7 -3h1.7m27.3 -23h1.7m-14.7 2h1.7m11.3 -2h1.7m-15.7 -10h1.7m23.3 8h1.7m-20.7 29h1.7m-33.7 6h1.7m-29.7 -11h1.7m54.3 -11h1.7m17.3 -18h1.7m-17.7 30h1.7m1.3 8h1.7m-21.7 -21h1.7m60.3 -41h1.7m-47.7 48h1.7m27.3 -38h1.7m-33.7 28h1.7m27.3 -10h1.7m-59.7 13h1.7m31.3 -28h1.7m-3.7 34h1.7m23.3 -6h1.7m-42.7 7h1.7m-9.7 32h1.7m18.3 -25h1.7m22.3 -6h1.7m-2.7 -10h1.7m-31.7 3h1.7m14.3 -23h1.7m35.3 7h1.7m-14.7 -13h1.7m-9.7 23h1.7m18.3 -2h1.7m-46.7 0h1.7m-13.7 -11h1.7m48.3 -3h1.7m8.3 12h1.7m-54.7 0h1.7m-42.7 21h1.7m59.3 -43h1.7m-17.7 48h1.7m11.3 -19h1.7m7.3 6h1.7m-15.7 8h1.7m57.3 -34h1.7m-27.7 -17h1.7m-28.7 37h1.7m15.3 8h1.7m-2.7 23h1.7m-25.7 -28h1.7m7.3 1h1.7m4.3 -1h1.7m18.3 -32h1.7m-45.7 29h1.7m9.3 -7h1.7m-11.7 4h1.7m35.3 4h1.7m-44.7 -9h1.7m23.3 2h1.7m-37.7 37h1.7m-1.7 -44h1.7m47.3 1h1.7m-4.7 -16h1.7m-20.7 20h1.7m30.3 20h1.7m-12.7 -19h1.7m-27.7 17h1.7m32.3 -18h1.7m-32.7 -15h1.7m21.3 -1h1.7m-18.7 29h1.7m-1.7 12h1.7m23.3 -50h1.7m-18.7 19h1.7m-28.7 17h1.7m-3.7 -37h1.7m19.3 18h1.7m-23.7 14h1.7m-0.7 -20h1.7m32.3 27h1.7m-17.7 21h1.7m33.3 -14h1.7m-36.7 -8h1.7m22.3 -9h1.7m-17.7 13h1.7m-50.7 -5h1.7m12.3 -10h1.7m52.3 -3h1.7m-41.7 7h1.7m-61.7 9h1.7m113.3 4h1.7m-48.7 -32h1.7m-11.7 7h1.7m-1.7 19h1.7m17.3 -7h1.7m-23.7 22h1.7m19.3 -37h1.7m-28.7 37h1.7m2.3 -25h1.7m25.3 -2h1.7m1.3 -5h1.7m-10.7 -6h1.7m13.3 11h1.7m-40.7 -7h1.7m42.3 -2h1.7m-9.7 10h1.7m-9.7 -22h1.7m-10.7 41h1.7m-6.7 -34h1.7m40.3 8h1.7m-23.7 3h1.7m-12.7 0h1.7m-35.7 8h1.7m56.3 -2h1.7m-7.7 27h1.7m-14.7 -37h1.7m21.3 2h1.7m-16.7 -2h1.7m11.3 13h1.7m-16.7 -10h1.7m-30.7 -2h1.7m-32.7 16h1.7m40.3 -5h1.7m51.3 -3h1.7m-26.7 -5h1.7m8.3 -14h1.7m-32.7 59h1.7m16.3 -45h1.7m-58.7 19h1.7m-23.7 -11h1.7m52.3 0h1.7m17.3 -11h1.7m-48.7 9h1.7m56.3 8h1.7m-24.7 -6h1.7m-12.7 -1h1.7m25.3 -8h1.7m4.3 1h1.7m-5.7 11h1.7m-38.7 -6h1.7m-6.7 22h1.7m34.3 5h1.7m20.3 -41h1.7m-12.7 -12h1.7m-54.7 72h1.7m60.3 -38h1.7m-35.7 7h1.7m-12.7 -14h1.7m-7.7 -17h1.7m8.3 31h1.7m-1.7 1h1.7m29.3 -11h1.7m-24.7 -21h1.7m-42.7 20h1.7m50.3 5h1.7m7.3 -21h1.7m7.3 35h1.7m-26.7 21h1.7m15.3 -49h1.7m-52.7 13h1.7m5.3 -9h1.7m37.3 -2h1.7m1.3 2h1.7m-30.7 3h1.7m-9.7 -2h1.7m3.3 19h1.7m16.3 7h1.7m4.3 -27h1.7m-0.7 1h1.7m2.3 -31h1.7m-29.7 32h1.7m-19.7 6h1.7m21.3 -20h1.7m-21.7 26h1.7m-16.7 1h1.7m63.3 -9h1.7m-24.7 -10h1.7m8.3 -8h1.7m-22.7 47h1.7m-2.7 -46h1.7m29.3 28h1.7m-8.7 -15h1.7m-5.7 -5h1.7m12.3 0h1.7m-28.7 -5h1.7m33.3 3h1.7m-41.7 14h1.7m57.3 -19h1.7m-90.7 32h1.7m76.3 -36h1.7m-7.7 9h1.7m-34.7 15h1.7m-10.7 5h1.7m-4.7 3h1.7m18.3 -14h1.7m21.3 3h1.7m-40.7 -18h1.7m7.3 11h1.7m3.3 9h1.7m24.3 -27h1.7m-22.7 26h1.7m0.3 -11h1.7m23.3 -6h1.7m-59.7 14h1.7m75.3 -19h1.7m-12.7 28h1.7m-45.7 -7h1.7m-9.7 12h1.7m32.3 -30h1.7m-1.7 -1h1.7m-21.7 20h1.7m-12.7 19h1.7m-22.7 -33h1.7m43.3 30h1.7m-10.7 -16h1.7m-8.7 -2h1.7m-3.7 -29h1.7m20.3 28h1.7m-22.7 -32h1.7m-25.7 51h1.7m15.3 -11h1.7m-3.7 -16h1.7m-46.7 4h1.7m62.3 9h1.7m-47.7 0h1.7m53.3 -2h1.7m-15.7 5h1.7m-6.7 -20h1.7m7.3 22h1.7m-53.7 -13h1.7m48.3 6h1.7m19.3 -14h1.7m-0.7 -14h1.7m0.3 23h1.7m-79.7 17h1.7m86.3 -14h1.7m-10.7 -10h1.7m-57.7 18h1.7m22.3 -27h1.7m6.3 42h1.7m-28.7 10h1.7m73.3 -67h1.7m-73.7 23h1.7m25.3 9h1.7m14.3 -15h1.7m-21.7 8h1.7m-4.7 -8h1.7m-19.7 14h1.7m17.3 -2h1.7m38.3 -9h1.7m-17.7 8h1.7m-96.7 36h1.7m83.3 -36h1.7m18.3 1h1.7m-78.7 46h1.7m32.3 -28h1.7m-44.7 3h1.7m77.3 -20h1.7m-32.7 20h1.7m14.3 -35h1.7m-26.7 22h1.7m-21.7 -12h1.7m21.3 0h1.7m-46.7 26h1.7m83.3 -28h1.7m-46.7 17h1.7m15.3 -28h1.7m16.3 6h1.7m-46.7 23h1.7m39.3 4h1.7m-64.7 -8h1.7m34.3 -9h1.7m-24.7 18h1.7m-11.7 11h1.7m10.3 -13h1.7m-9.7 21h1.7m63.3 -52h1.7m-43.7 33h1.7m5.3 -13h1.7m11.3 -8h1.7m8.3 17h1.7m-33.7 -3h1.7m24.3 -10h1.7m-34.7 6h1.7m37.3 -3h1.7m-2.7 -60h1.7m-58.7 66h1.7m30.3 -25h1.7m-37.7 26h1.7m65.3 -10h1.7m-28.7 0h1.7m44.3 -14h1.7m-7.7 -5h1.7m7.3 7h1.7m-68.7 51h1.7m26.3 -39h1.7m-50.7 15h1.7m59.3 4h1.7m-28.7 -4h1.7m8.3 -37h1.7m31.3 -1h1.7m-27.7 14h1.7m-5.7 25h1.7m-5.7 -3h1.7m14.3 -20h1.7m-20.7 -1h1.7m-2.7 -1h1.7m-21.7 35h1.7m13.3 -25h1.7m29.3 10h1.7m14.3 -9h1.7m-6.7 -2h1.7m-39.7 -7h1.7m-0.7 7h1.7m38.3 1h1.7m-31.7 -8h1.7m26.3 -15h1.7m-17.7 2h1.7m-24.7 61h1.7m-46.7 -51h1.7m81.3 -7h1.7m5.3 10h1.7m-26.7 18h1.7m19.3 -20h1.7m-63.7 -6h1.7m44.3 -6h1.7m-20.7 27h1.7m7.3 -4h1.7m-34.7 9h1.7m10.3 -19h1.7m-28.7 25h1.7m5.3 -7h1.7m34.3 9h1.7m31.3 -61h1.7m-14.7 56h1.7m3.3 -29h1.7m12.3 -6h1.7m-39.7 4h1.7m-26.7 23h1.7m31.3 -31h1.7m-16.7 30h1.7m-43.7 16h1.7m43.3 -24h1.7m5.3 24h1.7m-33.7 -5h1.7m1.3 -27h1.7m10.3 15h1.7m46.3 -13h1.7m-58.7 -2h1.7m-5.7 37h1.7m0.3 -13h1.7m34.3 -30h1.7m-28.7 -2h1.7m15.3 8h1.7m-12.7 -8h1.7m-12.7 10h1.7m24.3 10h1.7m-6.7 6h1.7m17.3 -19h1.7m23.3 2h1.7m-65.7 25h1.7m-2.7 8h1.7m-10.7 -10h1.7m53.3 -21h1.7m2.3 -8h1.7m-15.7 4h1.7m2.3 32h1.7m-9.7 -15h1.7m-12.7 -19h1.7m-17.7 27h1.7m17.3 -21h1.7m28.3 5h1.7m-24.7 -3h1.7m-22.7 31h1.7m-48.7 -20h1.7m90.3 -10h1.7m-39.7 20h1.7m-24.7 7h1.7m61.3 -21h1.7m-23.7 -17h1.7m-31.7 13h1.7m36.3 -6h1.7m-16.7 31h1.7m-34.7 -17h1.7m-6.7 5h1.7m28.3 34h1.7m2.3 -49h1.7m-34.7 0h1.7m30.3 23h1.7m26.3 -4h1.7m-16.7 -18h1.7m-3.7 28h1.7m5.3 -13h1.7m-12.7 8h1.7m-18.7 -20h1.7m-22.7 35h1.7m11.3 1h1.7m-47.7 -42h1.7m58.3 -2h1.7m52.3 29h1.7m-127.7 -23h1.7m55.3 8h1.7m-28.7 10h1.7m12.3 -1h1.7m3.3 -2h1.7m-1.7 4h1.7m-10.7 12h1.7m-8.7 -3h1.7m-2.7 -14h1.7m45.3 6h1.7m12.3 -35h1.7m16.3 35h1.7m-79.7 -5h1.7m20.3 8h1.7m16.3 -3h1.7m-79.7 4h1.7m83.3 -20h1.7m-39.7 -8h1.7m-30.7 32h1.7m66.3 -14h1.7m23.3 12h1.7m36.3 -27h1.7m-80.7 17h1.7m-0.7 -40h1.7m-2.7 33h1.7m-0.7 6h1.7m-29.7 6h1.7m45.3 -5h1.7m-14.7 -18h1.7m15.3 39h1.7m-13.7 -23h1.7m6.3 -4h1.7m-8.7 1h1.7m-40.7 -2h1.7m24.3 -17h1.7m-26.7 14h1.7m47.3 16h1.7m-52.7 -39h1.7m21.3 20h1.7m36.3 31h1.7m-49.7 -12h1.7m27.3 14h1.7m-45.7 10h1.7m7.3 -6h1.7m-11.7 -40h1.7m61.3 27h1.7m-37.7 7h1.7m69.3 -42h1.7m-32.7 32h1.7m-40.7 -15h1.7m5.3 9h1.7m30.3 22h1.7m6.3 1h1.7m-66.7 -56h1.7m31.3 51h1.7m-22.7 -10h1.7m5.3 -21h1.7m-40.7 18h1.7m32.3 -32h1.7m24.3 37h1.7m5.3 -6h1.7m-20.7 -33h1.7m-22.7 34h1.7m30.3 -32h1.7m-48.7 36h1.7m10.3 -18h1.7m36.3 18h1.7m-33.7 -29h1.7m-11.7 33h1.7m10.3 -34h1.7m14.3 36h1.7m-38.7 -14h1.7m47.3 -12h1.7m-49.7 -27h1.7m-19.7 17h1.7m-2.7 23h1.7m14.3 -21h1.7m115.3 1h1.7m-103.7 -12h1.7m60.3 42h1.7m-50.7 -13h1.7m-33.7 3h1.7m69.3 14h1.7m-56.7 -41h1.7m42.3 52h1.7m-43.7 -25h1.7m-21.7 0h1.7m68.3 -4h1.7m1.3 -2h1.7m-63.7 -15h1.7m69.3 29h1.7m-21.7 -23h1.7m-8.7 -1h1.7m-11.7 27h1.7m-77.7 -9h1.7m59.3 -29h1.7m41.3 25h1.7m-6.7 11h1.7m4.3 -42h1.7m56.3 -25h1.7m-117.7 61h1.7m58.3 -22h1.7m-58.7 29h1.7m77.3 -23h1.7m-61.7 4h1.7m44.3 -6h1.7m-13.7 32h1.7m-78.7 -49h1.7m63.3 11h1.7m-38.7 10h1.7m31.3 -6h1.7m11.3 24h1.7m-52.7 -16h1.7m69.3 -16h1.7m-25.7 20h1.7m-29.7 4h1.7m71.3 -3h1.7m-47.7 5h1.7m-17.7 1h1.7m-3.7 7h1.7m-53.7 -23h1.7m-8.7 15h1.7m60.3 -21h1.7m-24.7 20h1.7m8.3 22h1.7m30.3 -29h1.7m-7.7 -20h1.7m-50.7 14h1.7m42.3 -18h1.7m47.3 39h1.7m-63.7 -33h1.7m19.3 34h1.7m0.3 8h1.7m-46.7 5h1.7m10.3 -11h1.7m-40.7 19h1.7m34.3 -28h1.7m-39.7 -8h1.7m-7.7 3h1.7m11.3 -12h1.7m0.3 -1h1.7m23.3 -13h1.7m4.3 20h1.7m15.3 4h1.7m-32.7 -12h1.7m38.3 16h1.7m-53.7 2h1.7m-30.7 20h1.7m28.3 -60h1.7m4.3 20h1.7m59.3 18h1.7m-30.7 -1h1.7m9.3 22h1.7m-30.7 -9h1.7m45.3 -4h1.7m-74.7 0h1.7m-45.7 -27h1.7m71.3 26h1.7m9.3 0h1.7m6.3 -19h1.7m-30.7 10h1.7m-3.7 -9h1.7m-8.7 1h1.7m2.3 5h1.7m26.3 -10h1.7m12.3 14h1.7m-30.7 -10h1.7m13.3 16h1.7m-6.7 -1h1.7m-43.7 -30h1.7m5.3 0h1.7m55.3 14h1.7m-34.7 21h1.7m42.3 -14h1.7m-26.7 6h1.7m29.3 -5h1.7m-49.7 -8h1.7m13.3 8h1.7m3.3 19h1.7m-28.7 -21h1.7m66.3 3h1.7m-43.7 -9h1.7m-5.7 27h1.7m-18.7 -38h1.7m34.3 17h1.7m-21.7 1h1.7m-25.7 20h1.7m18.3 -40h1.7m35.3 35h1.7m-43.7 5h1.7m29.3 -16h1.7m-15.7 14h1.7m-22.7 -6h1.7m-52.7 16h1.7m89.3 5h1.7m15.3 -39h1.7m-28.7 -12h1.7m-19.7 32h1.7m-21.7 -16h1.7m16.3 -28h1.7m38.3 33h1.7m-70.7 2h1.7m24.3 -9h1.7m31.3 28h1.7m-5.7 -4h1.7m-5.7 -2h1.7m-71.7 -35h1.7m61.3 41h1.7m-11.7 -37h1.7m-32.7 13h1.7m-19.7 -26h1.7m67.3 20h1.7m9.3 37h1.7m12.3 -19h1.7m-83.7 12h1.7m70.3 -15h1.7m-74.7 1h1.7m64.3 -12h1.7m-59.7 17h1.7m45.3 -10h1.7m-42.7 -5h1.7m40.3 -24h1.7m-54.7 23h1.7m33.3 -7h1.7m-75.7 28h1.7m85.3 8h1.7m-14.7 -50h1.7m5.3 -6h1.7m-12.7 47h1.7m-7.7 -3h1.7m45.3 4h1.7m-89.7 -12h1.7m-13.7 -6h1.7m36.3 -12h1.7m46.3 23h1.7m-66.7 -21h1.7m32.3 7h1.7m-38.7 3h1.7m43.3 -26h1.7m21.3 38h1.7m-59.7 -2h1.7m2.3 -12h1.7m57.3 -14h1.7m-70.7 36h1.7m45.3 -35h1.7m-70.7 -4h1.7m45.3 28h1.7m7.3 -16h1.7m-37.7 17h1.7m31.3 1h1.7m24.3 -6h1.7m38.3 27h1.7m-111.7 -18h1.7m-39.7 -11h1.7m56.3 3h1.7m54.3 -15h1.7m6.3 27h1.7m-50.7 -34h1.7m25.3 20h1.7m-26.7 -4h1.7m63.3 0h1.7m-80.7 3h1.7m29.3 27h1.7m40.3 -20h1.7m-49.7 -1h1.7m-36.7 -16h1.7m57.3 0h1.7m0.3 18h1.7m-45.7 -24h1.7m13.3 37h1.7m14.3 -20h1.7m-43.7 -11h1.7m19.3 30h1.7m33.3 -24h1.7m-50.7 25h1.7m14.3 -24h1.7m-10.7 1h1.7m-49.7 3h1.7m112.3 -15h1.7m-22.7 28h1.7m-31.7 -14h1.7m32.3 -34h1.7m-23.7 13h1.7m-21.7 27h1.7m12.3 -15h1.7m-36.7 5h1.7m-34.7 26h1.7m46.3 -8h1.7m63.3 -5h1.7m-10.7 13h1.7m-69.7 -15h1.7m71.3 -33h1.7m-6.7 15h1.7m-23.7 19h1.7m25.3 -22h1.7m-39.7 20h1.7m-23.7 -10h1.7m9.3 27h1.7m24.3 -50h1.7m-40.7 36h1.7m65.3 -7h1.7m1.3 -2h1.7m20.3 -23h1.7m-80.7 11h1.7m-52.7 2h1.7m19.3 13h1.7m32.3 9h1.7m-22.7 -34h1.7m-5.7 14h1.7m14.3 11h1.7m1.3 12h1.7m-24.7 -22h1.7m21.3 -9h1.7m-9.7 9h1.7m20.3 8h1.7m-34.7 -3h1.7m-6.7 -15h1.7m35.3 -1h1.7m27.3 29h1.7m-36.7 -7h1.7m42.3 1h1.7m-43.7 -10h1.7m-16.7 8h1.7m33.3 -40h1.7m-15.7 26h1.7m24.3 15h1.7m5.3 -36h1.7m-84.7 19h1.7m75.3 30h1.7m-59.7 -41h1.7m31.3 -6h1.7m-5.7 22h1.7m19.3 22h1.7m-85.7 -5h1.7m28.3 -5h1.7m4.3 1h1.7m32.3 -11h1.7m9.3 -14h1.7m-52.7 6h1.7m66.3 38h1.7m-31.7 -33h1.7m-15.7 -10h1.7m5.3 2h1.7m1.3 16h1.7m-10.7 -21h1.7m13.3 10h1.7m35.3 33h1.7m-22.7 -3h1.7m-40.7 -44h1.7m-13.7 16h1.7m81.3 2h1.7m-58.7 23h1.7m0.3 -30h1.7m-55.7 11h1.7m33.3 -42h1.7m-63.7 9h1.7m48.3 45h1.7m51.3 -13h1.7m-43.7 0h1.7m26.3 17h1.7m-26.7 -24h1.7m-43.7 20h1.7m20.3 7h1.7m24.3 -43h1.7m-7.7 23h1.7m-25.7 25h1.7m16.3 -5h1.7m0.3 -41h1.7m-9.7 11h1.7m20.3 19h1.7m18.3 -48h1.7m-38.7 25h1.7m37.3 47h1.7m-13.7 -30h1.7m15.3 1h1.7m-41.7 2h1.7m-30.7 17h1.7m15.3 -13h1.7m16.3 -2h1.7m26.3 -7h1.7m52.3 18h1.7m-100.7 -24h1.7m34.3 -1h1.7m5.3 15h1.7m-58.7 -11h1.7m66.3 -12h1.7m-57.7 29h1.7m41.3 -27h1.7m-62.7 -24h1.7m31.3 0h1.7m-33.7 42h1.7m11.3 -14h1.7m15.3 -18h1.7m3.3 40h1.7m-5.7 -9h1.7m27.3 -7h1.7m-10.7 9h1.7m-2.7 7h1.7m2.3 -20h1.7m-11.7 24h1.7m-16.7 -51h1.7m38.3 36h1.7m-50.7 23h1.7m-13.7 -24h1.7m28.3 13h1.7m-9.7 -34h1.7m52.3 49h1.7m-40.7 -35h1.7m18.3 42h1.7m-41.7 -55h1.7m15.3 23h1.7m24.3 23h1.7m-46.7 -56h1.7m46.3 48h1.7m-46.7 1h1.7m-10.7 -10h1.7m-26.7 -15h1.7m57.3 31h1.7m-29.7 -45h1.7m-8.7 25h1.7m29.3 2h1.7m8.3 -16h1.7m-12.7 -3h1.7m-30.7 -10h1.7m44.3 31h1.7m-43.7 -4h1.7m-7.7 -7h1.7m15.3 -17h1.7m-20.7 -31h1.7m-48.7 67h1.7m112.3 -33h1.7m-23.7 27h1.7m-17.7 -22h1.7m-17.7 -25h1.7m0.3 15h1.7m-30.7 26h1.7m52.3 -4h1.7m33.3 -22h1.7m-47.7 36h1.7m24.3 5h1.7m-19.7 5h1.7m-36.7 -5h1.7m48.3 -38h1.7m-51.7 40h1.7m35.3 -10h1.7m-11.7 12h1.7m35.3 -9h1.7m-59.7 -55h1.7m30.3 18h1.7m-30.7 6h1.7m-6.7 32h1.7m46.3 -29h1.7m-43.7 4h1.7m18.3 1h1.7m24.3 2h1.7m-41.7 0h1.7m18.3 23h1.7m-53.7 -44h1.7m56.3 22h1.7m-47.7 -1h1.7m21.3 -20h1.7m6.3 25h1.7m10.3 4h1.7m-66.7 -21h1.7m-9.7 3h1.7m24.3 6h1.7m59.3 9h1.7m-52.7 -8h1.7m5.3 -18h1.7m17.3 7h1.7m-41.7 22h1.7m-34.7 -9h1.7m92.3 5h1.7m-2.7 -24h1.7m-12.7 10h1.7m32.3 47h1.7m-11.7 -39h1.7m17.3 23h1.7m-39.7 -41h1.7m-14.7 20h1.7m49.3 -7h1.7m-59.7 -5h1.7m-30.7 -6h1.7m19.3 39h1.7m-61.7 -6h1.7m68.3 -23h1.7m-23.7 33h1.7m36.3 -35h1.7m1.3 -4h1.7m-25.7 19h1.7m-31.7 -6h1.7m26.3 -8h1.7m38.3 -5h1.7m-68.7 -20h1.7m-8.7 64h1.7m-7.7 -21h1.7m32.3 -10h1.7m24.3 -3h1.7m-41.7 9h1.7m15.3 32h1.7m4.3 -45h1.7m-10.7 13h1.7m-16.7 -15h1.7m11.3 -14h1.7m66.3 45h1.7m-47.7 -26h1.7m15.3 0h1.7m-6.7 1h1.7m13.3 25h1.7m-69.7 5h1.7m2.3 -26h1.7m38.3 24h1.7m-50.7 -45h1.7m45.3 18h1.7m-49.7 -6h1.7m101.3 -1h1.7m-82.7 -7h1.7m-10.7 31h1.7m97.3 13h1.7m-69.7 -47h1.7m-8.7 27h1.7m7.3 18h1.7m-84.7 8h1.7m64.3 -7h1.7m-32.7 -4h1.7m130.3 -1h1.7m-95.7 -7h1.7m14.3 -24h1.7m-19.7 -1h1.7m19.3 -11h1.7m-15.7 10h1.7m29.3 11h1.7m-47.7 -9h1.7m26.3 -4h1.7m0.3 3h1.7m-36.7 31h1.7m57.3 -15h1.7m5.3 -10h1.7m-71.7 7h1.7m38.3 -27h1.7m-49.7 0h1.7m71.3 46h1.7m-83.7 -35h1.7m54.3 6h1.7m65.3 20h1.7m-52.7 -53h1.7m25.3 68h1.7m-56.7 -21h1.7m-5.7 3h1.7m10.3 -15h1.7m-35.7 0h1.7m37.3 -9h1.7m-25.7 22h1.7m-24.7 -19h1.7m27.3 1h1.7m38.3 5h1.7m-57.7 12h1.7m-1.7 30h1.7m-14.7 -33h1.7m91.3 -11h1.7m-43.7 12h1.7m39.3 -28h1.7m-97.7 15h1.7m88.3 16h1.7m-36.7 -2h1.7m-22.7 -9h1.7m44.3 5h1.7m-61.7 17h1.7m-8.7 -28h1.7m76.3 16h1.7m-51.7 -28h1.7m-13.7 6h1.7m-22.7 20h1.7m104.3 -51h1.7m-88.7 29h1.7m-8.7 28h1.7m13.3 21h1.7m1.3 -23h1.7m-64.7 -2h1.7m58.3 14h1.7m-20.7 -14h1.7m30.3 -18h1.7m-9.7 20h1.7m24.3 -2h1.7m-70.7 -5h1.7m10.3 1h1.7m19.3 -26h1.7m0.3 40h1.7m31.3 3h1.7m-16.7 1h1.7m-22.7 7h1.7m-3.7 -9h1.7m41.3 -12h1.7m-62.7 1h1.7m31.3 -3h1.7m-32.7 25h1.7m34.3 -14h1.7m-49.7 21h1.7m76.3 -42h1.7m2.3 9h1.7m-45.7 -2h1.7m-45.7 24h1.7m47.3 -9h1.7m-23.7 -21h1.7m35.3 19h1.7m-88.7 -34h1.7m68.3 33h1.7m-28.7 -15h1.7m33.3 11h1.7m-71.7 -26h1.7m69.3 -1h1.7m-61.7 20h1.7m58.3 5h1.7m-36.7 3h1.7m27.3 -19h1.7m-56.7 12h1.7m29.3 14h1.7m54.3 -2h1.7m-66.7 -18h1.7m6.3 6h1.7m38.3 19h1.7m-18.7 -35h1.7m11.3 12h1.7m-49.7 2h1.7m64.3 -9h1.7m-25.7 29h1.7m-20.7 -20h1.7m13.3 7h1.7m-32.7 -12h1.7m8.3 23h1.7m-18.7 -13h1.7m-3.7 2h1.7m26.3 -21h1.7m41.3 0h1.7m-17.7 31h1.7m-8.7 -9h1.7m-33.7 -1h1.7m32.3 -42h1.7m10.3 37h1.7m-35.7 5h1.7m-17.7 3h1.7m39.3 -4h1.7m0.3 -4h1.7m1.3 -7h1.7m-3.7 4h1.7m1.3 22h1.7m13.3 -13h1.7m-8.7 -35h1.7m-51.7 20h1.7m-14.7 9h1.7m69.3 11h1.7m-69.7 -2h1.7m30.3 28h1.7m-43.7 -58h1.7m65.3 7h1.7m5.3 12h1.7m-44.7 3h1.7m-11.7 20h1.7m-17.7 -28h1.7m22.3 5h1.7m-17.7 12h1.7m23.3 2h1.7m18.3 -14h1.7m-12.7 4h1.7m-2.7 -16h1.7m-27.7 2h1.7m19.3 11h1.7m19.3 6h1.7m-31.7 2h1.7m-54.7 -6h1.7m104.3 -2h1.7m-45.7 7h1.7m-44.7 -1h1.7m56.3 0h1.7m-64.7 17h1.7m25.3 -36h1.7m-1.7 45h1.7m-9.7 -30h1.7m-3.7 -27h1.7m8.3 40h1.7m47.3 -25h1.7m-16.7 30h1.7m-25.7 -8h1.7m13.3 -20h1.7m-41.7 -10h1.7m32.3 47h1.7m23.3 -32h1.7m-24.7 -4h1.7m-32.7 -38h1.7m37.3 22h1.7m-43.7 19h1.7m28.3 24h1.7m-46.7 -19h1.7m73.3 1h1.7m-42.7 20h1.7m-26.7 -23h1.7m81.3 -35h1.7m-82.7 49h1.7m-21.7 -28h1.7m90.3 32h1.7m-51.7 -13h1.7m-3.7 1h1.7m-16.7 -15h1.7m-44.7 -6h1.7m36.3 -7h1.7m62.3 -9h1.7m-60.7 22h1.7m27.3 -12h1.7m-3.7 22h1.7m11.3 10h1.7m-57.7 -17h1.7m32.3 26h1.7m-25.7 -6h1.7m61.3 16h1.7m-33.7 -28h1.7m15.3 -9h1.7m-7.7 9h1.7m3.3 24h1.7m-41.7 -13h1.7m30.3 5h1.7m41.3 8h1.7m-19.7 -30h1.7m7.3 42h1.7m-41.7 -13h1.7m48.3 -20h1.7m-53.7 30h1.7m-29.7 -29h1.7m95.3 -14h1.7m-76.7 -6h1.7m-40.7 3h1.7m45.3 23h1.7m-14.7 -5h1.7m25.3 -14h1.7m-12.7 -9h1.7m-38.7 39h1.7m44.3 -25h1.7m6.3 -20h1.7m-47.7 25h1.7m-9.7 -1h1.7m36.3 16h1.7m19.3 -32h1.7m-68.7 -15h1.7m3.3 16h1.7m100.3 5h1.7m-125.7 16h1.7m104.3 -13h1.7m-120.7 1h1.7m58.3 11h1.7m59.3 -10h1.7m-60.7 -22h1.7m8.3 -11h1.7m38.3 54h1.7m-44.7 -3h1.7m-15.7 16h1.7m10.3 -45h1.7m36.3 20h1.7m12.3 -6h1.7m-88.7 20h1.7m53.3 -41h1.7m-6.7 26h1.7m-6.7 1h1.7m12.3 -10h1.7m-12.7 18h1.7m-24.7 -7h1.7m-8.7 2h1.7m34.3 -34h1.7m-31.7 42h1.7m-6.7 -26h1.7m3.3 -6h1.7m39.3 28h1.7m-25.7 -28h1.7m-88.7 3h1.7m139.3 -7h1.7m-33.7 22h1.7m-9.7 -18h1.7m-8.7 22h1.7m-29.7 -7h1.7m20.3 0h1.7m18.3 20h1.7m-64.7 -19h1.7m62.3 17h1.7m-41.7 -18h1.7m3.3 24h1.7m27.3 -34h1.7m-26.7 33h1.7m-36.7 -19h1.7m23.3 -15h1.7m23.3 4h1.7m5.3 23h1.7m-40.7 -40h1.7m25.3 28h1.7m35.3 3h1.7m-24.7 6h1.7m4.3 -13h1.7m-52.7 11h1.7m23.3 1h1.7m36.3 -32h1.7m-66.7 13h1.7m-34.7 6h1.7m58.3 0h1.7m36.3 17h1.7m-93.7 -21h1.7m16.3 16h1.7m33.3 20h1.7m18.3 -29h1.7m-35.7 1h1.7m6.3 -22h1.7m42.3 3h1.7m-35.7 12h1.7m16.3 -19h1.7m-19.7 16h1.7m30.3 18h1.7m-55.7 -13h1.7m78.3 17h1.7m-100.7 -33h1.7m-21.7 21h1.7m48.3 -2h1.7m-6.7 -7h1.7m45.3 13h1.7m-37.7 -13h1.7m45.3 21h1.7m-50.7 -38h1.7m21.3 -6h1.7m31.3 15h1.7m-62.7 28h1.7m54.3 -9h1.7m-71.7 -10h1.7m64.3 -8h1.7m6.3 6h1.7m-62.7 -13h1.7m-10.7 10h1.7m54.3 39h1.7m-47.7 -40h1.7m-17.7 -1h1.7m25.3 5h1.7m-61.7 1h1.7m99.3 29h1.7m-81.7 -30h1.7m22.3 23h1.7m6.3 -4h1.7m15.3 -21h1.7m-40.7 5h1.7m-0.7 13h1.7m30.3 29h1.7m-11.7 -34h1.7m-3.7 -14h1.7m-17.7 24h1.7m9.3 9h1.7m46.3 -38h1.7m-66.7 1h1.7m45.3 31h1.7m-42.7 -2h1.7m-47.7 -17h1.7m94.3 37h1.7m-58.7 -10h1.7m38.3 -35h1.7m19.3 4h1.7m-52.7 17h1.7m11.3 -15h1.7m-7.7 28h1.7m44.3 -16h1.7m-11.7 7h1.7m-9.7 -10h1.7m37.3 -2h1.7m-91.7 15h1.7m31.3 -38h1.7m3.3 30h1.7m14.3 19h1.7m21.3 -21h1.7m-35.7 -12h1.7m2.3 7h1.7m-37.7 25h1.7m5.3 -28h1.7m20.3 4h1.7m8.3 6h1.7m-2.7 -1h1.7m-25.7 -15h1.7m20.3 29h1.7m27.3 -15h1.7m-50.7 9h1.7m36.3 -23h1.7m38.3 -7h1.7m-59.7 -3h1.7m-46.7 46h1.7m9.3 -18h1.7m9.3 -4h1.7m21.3 -12h1.7m-6.7 3h1.7m22.3 17h1.7m-33.7 -9h1.7m3.3 -5h1.7m47.3 12h1.7m-33.7 -18h1.7m72.3 20h1.7m-77.7 -16h1.7m-26.7 16h1.7m-2.7 4h1.7m-25.7 -21h1.7m76.3 -15h1.7m-41.7 27h1.7m18.3 20h1.7m3.3 -30h1.7m-47.7 6h1.7m-19.7 -3h1.7m25.3 12h1.7m43.3 11h1.7m-41.7 -37h1.7m-29.7 19h1.7m27.3 -8h1.7m-26.7 35h1.7m42.3 -36h1.7m-15.7 6h1.7m78.3 22h1.7m-84.7 -46h1.7m-29.7 45h1.7m29.3 5h1.7m-35.7 -18h1.7m13.3 -12h1.7m5.3 -10h1.7m15.3 -11h1.7m-24.7 24h1.7m40.3 -1h1.7m-14.7 -17h1.7m-46.7 34h1.7m28.3 -14h1.7m-30.7 20h1.7m-36.7 -24h1.7m64.3 29h1.7m-50.7 -24h1.7m24.3 3h1.7m34.3 -5h1.7m6.3 1h1.7m20.3 -24h1.7m-68.7 13h1.7m62.3 8h1.7m-44.7 -8h1.7m-4.7 -6h1.7m41.3 7h1.7m-84.7 -19h1.7m52.3 8h1.7m-38.7 24h1.7m7.3 -14h1.7m50.3 11h1.7m-20.7 0h1.7m-16.7 -22h1.7m-17.7 27h1.7m46.3 -5h1.7m-66.7 -15h1.7m-0.7 19h1.7m53.3 -32h1.7m34.3 -21h1.7m-70.7 65h1.7m6.3 -32h1.7m38.3 -11h1.7m-42.7 16h1.7m-6.7 1h1.7m9.3 0h1.7m75.3 -25h1.7m17.3 -29h1.7m-16.7 25h1.7m9.3 7h1.7m-14.7 -21h1.7m-3.7 -17h1.7m7.3 35h1.7m-12.7 -6h1.7m-20.7 0h1.7m41.3 -29h1.7m-20.7 21h1.7m5.3 -14h1.7m-9.7 7h1.7m-2.7 7h1.7m6.3 7h1.7m-21.7 4h1.7m17.3 -10h1.7m-7.7 -17h1.7m-13.7 17h1.7m14.3 0h1.7m16.3 -4h1.7m-30.7 16h1.7m-2.7 -15h1.7m11.3 12h1.7m-10.7 4h1.7m10.3 -2h1.7m-11.7 -29h1.7m-5.7 26h1.7m-5.7 -38h1.7m17.3 28h1.7m-38.7 -3h1.7m21.3 10h1.7m-9.7 -21h1.7m2.3 10h1.7m24.3 -4h1.7m-37.7 5h1.7m12.3 -3h1.7m-19.7 19h1.7m48.3 -18h1.7m-20.7 -4h1.7m-37.7 9h1.7m13.3 9h1.7m17.3 -5h1.7m-26.7 -6h1.7m17.3 4h1.7m-3.7 -4h1.7m-8.7 -15h1.7m19.3 26h1.7m-24.7 -21h1.7m12.3 5h1.7m-15.7 1h1.7m23.3 18h1.7m-3.7 -27h1.7m-7.7 20h1.7m3.3 -17h1.7m-3.7 9h1.7m-22.7 10h1.7m-17.7 11h1.7m35.3 -22h1.7m-17.7 -18h1.7m-15.7 13h1.7m25.3 13h1.7m10.3 -1h1.7m-21.7 3h1.7m-10.7 17h1.7m19.3 -39h1.7m-46.7 -4h1.7m28.3 16h1.7m9.3 -7h1.7m-16.7 16h1.7m11.3 -34h1.7m-25.7 40h1.7m-7.7 -19h1.7m21.3 23h1.7m-8.7 -23h1.7m4.3 41h1.7m-2.7 -45h1.7m-9.7 16h1.7m12.3 8h1.7m-34.7 -18h1.7m42.3 18h1.7m-19.7 8h1.7m1.3 -13h1.7m11.3 2h1.7m-34.7 -20h1.7m7.3 7h1.7m6.3 18h1.7m-8.7 -4h1.7m-14.7 -11h1.7m14.3 -17h1.7m5.3 36h1.7m-10.7 -6h1.7m-3.7 -12h1.7m-5.7 -19h1.7m-15.7 34h1.7m27.3 6h1.7m-19.7 -27h1.7m19.3 24h1.7m-21.7 -17h1.7m1.3 7h1.7m15.3 5h1.7m-9.7 -21h1.7m22.3 20h1.7m-16.7 -17h1.7m5.3 -5h1.7m2.3 16h1.7m-32.7 -2h1.7m10.3 -21h1.7m4.3 10h1.7m6.3 14h1.7m-1.7 -14h1.7m-17.7 25h1.7m12.3 -5h1.7m-29.7 -14h1.7m9.3 2h1.7m8.3 8h1.7m-7.7 -1h1.7m8.3 -5h1.7m0.3 -9h1.7m-11.7 6h1.7m-21.7 3h1.7m28.3 -10h1.7m-25.7 27h1.7m8.3 -43h1.7m20.3 23h1.7m-2.7 7h1.7m-24.7 -17h1.7m20.3 15h1.7m-19.7 4h1.7m4.3 -19h1.7m19.3 26h1.7m-19.7 -21h1.7m-4.7 -17h1.7m-4.7 33h1.7m11.3 7h1.7m1.3 -33h1.7m-14.7 8h1.7m-13.7 9h1.7m10.3 6h1.7m31.3 -18h1.7m-40.7 7h1.7m30.3 14h1.7m-14.7 2h1.7m-18.7 -16h1.7m11.3 6h1.7m-10.7 -2h1.7m11.3 -4h1.7m-42.7 6h1.7m34.3 -8h1.7m1.3 -1h1.7m-4.7 15h1.7m4.3 -13h1.7m-21.7 7h1.7m-12.7 12h1.7m37.3 -17h1.7m-17.7 6h1.7m-7.7 -19h1.7m-5.7 18h1.7m5.3 0h1.7m-21.7 -2h1.7m30.3 23h1.7m1.3 -21h1.7m-14.7 -12h1.7m-14.7 20h1.7m-16.7 -5h1.7m15.3 -26h1.7m-7.7 28h1.7m16.3 -24h1.7m7.3 14h1.7m-4.7 -1h1.7m-4.7 2h1.7m-3.7 10h1.7m-14.7 -10h1.7m20.3 -7h1.7m-34.7 13h1.7m19.3 -16h1.7m-15.7 13h1.7m6.3 -4h1.7m-5.7 2h1.7m22.3 -14h1.7m-4.7 13h1.7m-24.7 -2h1.7m1.3 1h1.7m26.3 -7h1.7m-24.7 -10h1.7m-6.7 8h1.7m0.3 -6h1.7m-25.7 36h1.7m15.3 -13h1.7m27.3 9h1.7m13.3 -16h1.7m-8.7 1h1.7m-32.7 11h1.7m10.3 -21h1.7m-5.7 5h1.7m7.3 -7h1.7m-24.7 -13h1.7m24.3 29h1.7m-44.7 -19h1.7m19.3 21h1.7m18.3 -16h1.7m8.3 -6h1.7m-33.7 6h1.7m16.3 0h1.7m-25.7 6h1.7m6.3 0h1.7m-20.7 1h1.7m27.3 -17h1.7m-14.7 22h1.7m-10.7 2h1.7m29.3 -14h1.7m-13.7 27h1.7m-16.7 -14h1.7m17.3 3h1.7m28.3 -13h1.7m-36.7 0h1.7m4.3 23h1.7m-12.7 -27h1.7m-6.7 20h1.7m12.3 -8h1.7m-16.7 -9h1.7m21.3 -3h1.7m3.3 -18h1.7m-32.7 40h1.7m5.3 -15h1.7m1.3 2h1.7m2.3 16h1.7m-26.7 -17h1.7m23.3 22h1.7m6.3 -12h1.7m-22.7 -15h1.7m7.3 -4h1.7m6.3 23h1.7m32.3 -11h1.7m-43.7 -7h1.7m4.3 -18h1.7m-6.7 23h1.7m7.3 0h1.7m-7.7 -2h1.7m12.3 -4h1.7m-26.7 -6h1.7m-0.7 13h1.7m7.3 6h1.7m-20.7 -1h1.7m-17.7 -4h1.7m10.3 20h1.7m15.3 -14h1.7m4.3 4h1.7m23.3 -3h1.7m-20.7 -6h1.7m-27.7 15h1.7m22.3 -8h1.7m-17.7 -18h1.7m16.3 1h1.7m-31.7 -10h1.7m33.3 21h1.7m-31.7 23h1.7m25.3 -9h1.7m-11.7 -4h1.7m0.3 -23h1.7m8.3 -2h1.7m12.3 12h1.7m-45.7 -5h1.7m42.3 27h1.7m-26.7 -4h1.7m18.3 -9h1.7m-18.7 -18h1.7m3.3 -12h1.7m15.3 19h1.7m-23.7 0h1.7m0.3 20h1.7m-1.7 -44h1.7m4.3 25h1.7m-22.7 -8h1.7m19.3 -3h1.7m-16.7 6h1.7m3.3 15h1.7m-24.7 -12h1.7m33.3 -12h1.7m-8.7 7h1.7m-20.7 2h1.7m2.3 0h1.7m-19.7 -9h1.7m40.3 30h1.7m-25.7 8h1.7m-20.7 -18h1.7m41.3 18h1.7m-9.7 -34h1.7m-13.7 17h1.7m28.3 -11h1.7m-23.7 25h1.7m-8.7 -17h1.7m-6.7 -8h1.7m-8.7 18h1.7m0.3 -24h1.7m8.3 -2h1.7m19.3 8h1.7m-9.7 24h1.7m-39.7 -23h1.7m34.3 7h1.7m-0.7 -23h1.7m5.3 33h1.7m-7.7 -29h1.7m0.3 14h1.7m-23.7 -19h1.7m22.3 45h1.7m-18.7 -20h1.7m22.3 1h1.7m1.3 -12h1.7m-10.7 19h1.7m-21.7 -14h1.7m1.3 3h1.7m-16.7 -12h1.7m41.3 10h1.7m-18.7 1h1.7m-15.7 0h1.7m-15.7 -11h1.7m30.3 14h1.7m16.3 -6h1.7m-25.7 8h1.7m-10.7 -14h1.7m4.3 25h1.7m3.3 -38h1.7m-14.7 34h1.7m21.3 -3h1.7m-7.7 -6h1.7m8.3 -20h1.7m-14.7 17h1.7m-34.7 11h1.7m20.3 -7h1.7m-18.7 -5h1.7m21.3 2h1.7m-11.7 -11h1.7m25.3 9h1.7m-3.7 23h1.7m-22.7 -10h1.7m-5.7 -12h1.7m4.3 13h1.7m-13.7 -21h1.7m27.3 21h1.7m12.3 3h1.7m-34.7 -10h1.7m15.3 9h1.7m-11.7 -24h1.7m6.3 16h1.7m-7.7 10h1.7m-9.7 -31h1.7m0.3 15h1.7m-12.7 5h1.7m-13.7 -8h1.7m38.3 3h1.7m-20.7 -15h1.7m5.3 5h1.7m-14.7 -17h1.7m4.3 37h1.7m16.3 -7h1.7m-15.7 -14h1.7m-3.7 11h1.7m-7.7 32h1.7m-14.7 -31h1.7m22.3 -1h1.7m13.3 0h1.7m11.3 -4h1.7m-41.7 7h1.7m22.3 -14h1.7m-32.7 5h1.7m27.3 18h1.7m6.3 -20h1.7m-6.7 23h1.7m-23.7 -29h1.7m5.3 8h1.7m18.3 -12h1.7m-30.7 1h1.7m7.3 13h1.7m-4.7 8h1.7m-2.7 -15h1.7m-0.7 3h1.7m10.3 0h1.7m-19.7 2h1.7m13.3 -27h1.7m7.3 39h1.7m-20.7 -14h1.7m-1.7 2h1.7m12.3 20h1.7m-37.7 -32h1.7m-8.7 16h1.7m38.3 4h1.7m-8.7 6h1.7m-21.7 -12h1.7m31.3 -26h1.7m-11.7 20h1.7m0.3 11h1.7m-12.7 -19h1.7m-22.7 31h1.7m20.3 -24h1.7m-6.7 1h1.7m15.3 20h1.7m1.3 -1h1.7m-12.7 -7h1.7m-7.7 8h1.7m2.3 2h1.7m1.3 9h1.7m-13.7 -26h1.7m-10.7 10h1.7m15.3 3h1.7m23.3 -19h1.7m-48.7 -3h1.7m5.3 16h1.7m22.3 -2h1.7m-8.7 5h1.7m-18.7 5h1.7m2.3 -13h1.7m31.3 7h1.7m-24.7 -9h1.7m3.3 13h1.7m3.3 -5h1.7m12.3 4h1.7m-26.7 -10h1.7m1.3 15h1.7m22.3 -1h1.7m-28.7 4h1.7m7.3 -16h1.7m-18.7 3h1.7m15.3 6h1.7m11.3 -13h1.7m-16.7 -16h1.7m-32.7 41h1.7m9.3 0h1.7m1.3 -38h1.7m13.3 26h1.7m-5.7 -10h1.7m-7.7 5h1.7m9.3 3h1.7m-6.7 -32h1.7m19.3 15h1.7m-30.7 20h1.7m40.3 -19h1.7m-37.7 -2h1.7m26.3 4h1.7m-12.7 6h1.7m-12.7 19h1.7m-28.7 -18h1.7m20.3 9h1.7m13.3 -12h1.7m-15.7 -6h1.7m-20.7 5h1.7m12.3 -9h1.7m6.3 21h1.7m7.3 1h1.7m-12.7 -25h1.7m-0.7 -6h1.7m-16.7 21h1.7m10.3 -1h1.7m29.3 10h1.7m-44.7 15h1.7m4.3 -21h1.7m18.3 2h1.7m10.3 -5h1.7m-42.7 -14h1.7m20.3 1h1.7m-6.7 20h1.7m14.3 -8h1.7m-19.7 12h1.7m8.3 -18h1.7m-0.7 -8h1.7m22.3 25h1.7m-46.7 -10h1.7m5.3 4h1.7m38.3 -11h1.7m-23.7 -4h1.7m7.3 29h1.7m-26.7 -25h1.7m4.3 24h1.7m-10.7 -31h1.7m20.3 21h1.7m11.3 -16h1.7m-36.7 16h1.7m5.3 -42h1.7m14.3 31h1.7m14.3 -22h1.7m-29.7 28h1.7m15.3 4h1.7m-23.7 -17h1.7m10.3 32h1.7m2.3 -29h1.7m0.3 0h1.7m-11.7 3h1.7m3.3 8h1.7m0.3 -4h1.7m-17.7 4h1.7m8.3 -2h1.7m-16.7 -6h1.7m-2.7 24h1.7m4.3 -23h1.7m-14.7 15h1.7m10.3 -26h1.7m-6.7 5h1.7m18.3 10h1.7m-9.7 14h1.7m2.3 -13h1.7m-7.7 11h1.7m-14.7 -28h1.7m-15.7 15h1.7m12.3 -15h1.7m2.3 11h1.7m-2.7 4h1.7m-13.7 3h1.7m12.3 -10h1.7m-2.7 15h1.7m5.3 -14h1.7m-4.7 10h1.7m-5.7 -4h1.7m19.3 3h1.7m-21.7 -7h1.7m8.3 1h1.7m16.3 24h1.7m-7.7 -29h1.7m-22.7 9h1.7m1.3 4h1.7m-10.7 6h1.7m-19.7 -31h1.7m29.3 0h1.7m8.3 15h1.7m30.3 11h1.7m-43.7 -43h1.7m-37.7 46h1.7m43.3 -15h1.7m-12.7 46h1.7m1.3 -43h1.7m10.3 -33h1.7m-76.7 41h1.7m33.3 0h1.7m18.3 -20h1.7m14.3 -15h1.7m-28.7 8h1.7m9.3 3h1.7m-26.7 5h1.7m-37.7 0h1.7m0.3 10h1.7m13.3 -16h1.7m67.3 -13h1.7m10.3 14h1.7m-19.7 32h1.7m-29.7 -24h1.7m22.3 9h1.7m-16.7 -12h1.7m27.3 17h1.7m-31.7 -41h1.7m39.3 54h1.7m-91.7 -27h1.7m66.3 22h1.7m-1.7 16h1.7m-58.7 -49h1.7m90.3 22h1.7m-105.7 -24h1.7m33.3 -21h1.7m51.3 33h1.7m-20.7 3h1.7m17.3 -14h1.7m-91.7 -7h1.7m3.3 15h1.7m54.3 20h1.7m-8.7 -8h1.7m-7.7 -1h1.7m-0.7 -7h1.7m6.3 -35h1.7m5.3 34h1.7m15.3 17h1.7m17.3 -36h1.7m-58.7 39h1.7m-18.7 -7h1.7m85.3 -29h1.7m-9.7 32h1.7m-72.7 -11h1.7m4.3 9h1.7m5.3 -18h1.7m-7.7 2h1.7m37.3 0h1.7m-4.7 -17h1.7m-60.7 22h1.7m-10.7 -15h1.7m42.3 20h1.7m-3.7 -14h1.7m-26.7 17h1.7m24.3 6h1.7m-7.7 -14h1.7m16.3 -33h1.7m-21.7 -17h1.7m-8.7 67h1.7m17.3 -28h1.7m42.3 12h1.7m-45.7 -26h1.7m31.3 26h1.7m-27.7 16h1.7m-17.7 -22h1.7m-6.7 19h1.7m-7.7 -19h1.7m90.3 -17h1.7m-35.7 32h1.7m-30.7 -12h1.7m27.3 -14h1.7m20.3 22h1.7m-36.7 7h1.7m24.3 -50h1.7m-73.7 43h1.7m-5.7 0h1.7m7.3 5h1.7m3.3 -8h1.7m-3.7 -26h1.7m12.3 26h1.7m20.3 -29h1.7m-58.7 29h1.7m2.3 -3h1.7m34.3 -5h1.7m46.3 2h1.7m-62.7 -2h1.7m5.3 21h1.7m-25.7 -9h1.7m54.3 -15h1.7m-78.7 -22h1.7m0.3 25h1.7m39.3 -23h1.7m14.3 58h1.7m28.3 -58h1.7m-91.7 50h1.7m22.3 -12h1.7m50.3 -18h1.7m-11.7 -3h1.7m-12.7 -30h1.7m34.3 38h1.7m-45.7 10h1.7m-0.7 0h1.7m-23.7 13h1.7m-19.7 -12h1.7m57.3 8h1.7m-43.7 -31h1.7m7.3 21h1.7m30.3 -2h1.7m15.3 -26h1.7m-92.7 12h1.7m96.3 15h1.7m-114.7 7h1.7m38.3 -34h1.7m33.3 37h1.7m-16.7 6h1.7m-4.7 -46h1.7m32.3 28h1.7m-31.7 -15h1.7m-51.7 24h1.7m51.3 -13h1.7m0.3 7h1.7m-34.7 -32h1.7m10.3 28h1.7m74.3 -4h1.7m-117.7 -7h1.7m98.3 -7h1.7m13.3 16h1.7m-94.7 1h1.7m31.3 -10h1.7m22.3 17h1.7m-25.7 -12h1.7m47.3 -9h1.7m-90.7 23h1.7m70.3 -33h1.7m30.3 39h1.7m-61.7 -5h1.7m81.3 -1h1.7m-46.7 -52h1.7m-8.7 63h1.7m-23.7 -15h1.7m-37.7 -19h1.7m42.3 15h1.7m4.3 -14h1.7m14.3 10h1.7m-77.7 -24h1.7m37.3 32h1.7m54.3 -18h1.7m-71.7 3h1.7m-1.7 1h1.7m52.3 44h1.7m-21.7 -17h1.7m-23.7 -29h1.7m-42.7 32h1.7m30.3 -19h1.7m-11.7 -30h1.7m45.3 3h1.7m-46.7 17h1.7m24.3 6h1.7m-26.7 2h1.7m-0.7 -18h1.7m6.3 31h1.7m7.3 -21h1.7m41.3 -1h1.7m-109.7 48h1.7m89.3 -50h1.7m-56.7 -33h1.7m-25.7 52h1.7m24.3 -17h1.7m-0.7 2h1.7m23.3 0h1.7m10.3 9h1.7m17.3 12h1.7m-67.7 -1h1.7m22.3 4h1.7m-44.7 -17h1.7m60.3 -3h1.7m2.3 -5h1.7m-21.7 10h1.7m-7.7 25h1.7m29.3 -27h1.7m9.3 -15h1.7m-5.7 25h1.7m2.3 13h1.7m-41.7 -19h1.7m1.3 27h1.7m34.3 -33h1.7m-18.7 -7h1.7m-14.7 -10h1.7m-17.7 15h1.7m27.3 -7h1.7m-15.7 27h1.7m72.3 -32h1.7m-123.7 8h1.7m59.3 27h1.7m5.3 5h1.7m-34.7 -24h1.7m19.3 -3h1.7m37.3 17h1.7m-74.7 -18h1.7m56.3 -1h1.7m-27.7 9h1.7m-3.7 18h1.7m-9.7 -36h1.7m65.3 1h1.7m-13.7 11h1.7m-21.7 -7h1.7m-25.7 -12h1.7m7.3 17h1.7m8.3 14h1.7m-35.7 -29h1.7m31.3 33h1.7m-36.7 -20h1.7m61.3 28h1.7m-51.7 -48h1.7m-4.7 13h1.7m20.3 -15h1.7m-56.7 41h1.7m-15.7 13h1.7m22.3 -28h1.7m13.3 19h1.7m36.3 -4h1.7m-41.7 -12h1.7m61.3 -28h1.7m-70.7 55h1.7m3.3 0h1.7m27.3 -33h1.7m-53.7 -7h1.7m70.3 -5h1.7m-69.7 -5h1.7m-1.7 4h1.7m83.3 3h1.7m-45.7 24h1.7m8.3 17h1.7m-43.7 -55h1.7m-3.7 41h1.7m-23.7 11h1.7m36.3 -9h1.7m9.3 -22h1.7m-16.7 -25h1.7m-38.7 22h1.7m25.3 -11h1.7m10.3 39h1.7m-3.7 -21h1.7m75.3 13h1.7m-78.7 -3h1.7m71.3 -30h1.7m-46.7 12h1.7m11.3 -19h1.7m-67.7 29h1.7m12.3 -11h1.7m56.3 8h1.7m-46.7 -2h1.7m26.3 12h1.7m2.3 -33h1.7m-14.7 48h1.7m9.3 -19h1.7m-54.7 28h1.7m37.3 -9h1.7m-26.7 -16h1.7m-25.7 -11h1.7m81.3 3h1.7m-52.7 -2h1.7m33.3 -13h1.7m-26.7 41h1.7m5.3 -17h1.7m16.3 -6h1.7m-19.7 25h1.7m5.3 -31h1.7m21.3 -25h1.7m-44.7 47h1.7m8.3 -31h1.7m-44.7 -18h1.7m24.3 40h1.7m18.3 4h1.7m-49.7 -26h1.7m57.3 -8h1.7m41.3 15h1.7m-102.7 -6h1.7m-27.7 1h1.7m87.3 12h1.7m-46.7 -21h1.7m7.3 33h1.7m30.3 -11h1.7m-18.7 -12h1.7m-23.7 1h1.7m-58.7 -19h1.7m24.3 25h1.7m70.3 16h1.7m-65.7 0h1.7m17.3 6h1.7m21.3 -28h1.7m-13.7 -7h1.7m30.3 -13h1.7m-16.7 6h1.7m42.3 15h1.7m-62.7 15h1.7m25.3 -4h1.7m-33.7 -11h1.7m57.3 -16h1.7m-39.7 7h1.7m-5.7 20h1.7m20.3 -6h1.7m-14.7 -43h1.7m6.3 53h1.7m-41.7 -31h1.7m12.3 -7h1.7m8.3 33h1.7m13.3 -11h1.7m-12.7 -10h1.7m-10.7 -4h1.7m21.3 -2h1.7m-55.7 49h1.7m21.3 -31h1.7m56.3 15h1.7m-33.7 -26h1.7m22.3 40h1.7m5.3 -54h1.7m-31.7 39h1.7m15.3 -2h1.7m-34.7 21h1.7m13.3 -61h1.7m-9.7 63h1.7m15.3 -24h1.7m-21.7 1h1.7m10.3 -21h1.7m27.3 4h1.7m-28.7 -14h1.7m-31.7 5h1.7m25.3 42h1.7m0.3 -30h1.7m10.3 17h1.7m-35.7 -18h1.7m52.3 44h1.7m-22.7 -50h1.7m-2.7 27h1.7m-14.7 -14h1.7m-49.7 50h1.7m80.3 -36h1.7m-37.7 6h1.7m12.3 2h1.7m39.3 -38h1.7m-28.7 28h1.7m-51.7 -22h1.7m-5.7 38h1.7m52.3 -12h1.7m-34.7 -36h1.7m-23.7 -6h1.7m22.3 8h1.7m-16.7 33h1.7m48.3 -14h1.7m-76.7 12h1.7m59.3 7h1.7m-39.7 -24h1.7m21.3 -2h1.7m-36.7 -14h1.7m53.3 5h1.7m-57.7 42h1.7m-4.7 -13h1.7m48.3 5h1.7m-47.7 -20h1.7m63.3 -6h1.7m-31.7 -14h1.7m7.3 16h1.7m-68.7 20h1.7m-7.7 -29h1.7m45.3 17h1.7m58.3 -4h1.7m-61.7 -40h1.7m41.3 35h1.7m-67.7 25h1.7m-23.7 -1h1.7m87.3 -9h1.7m-28.7 4h1.7m-4.7 -32h1.7m25.3 10h1.7m8.3 16h1.7m-74.7 21h1.7m25.3 -63h1.7m-13.7 20h1.7m3.3 2h1.7m30.3 -7h1.7m2.3 8h1.7m-48.7 49h1.7m-14.7 -53h1.7m5.3 32h1.7m24.3 18h1.7m-19.7 3h1.7m16.3 -42h1.7m20.3 10h1.7m13.3 -3h1.7m-51.7 34h1.7m9.3 -9h1.7m-52.7 -45h1.7m67.3 14h1.7m-9.7 5h1.7m26.3 -27h1.7m-66.7 33h1.7m39.3 11h1.7m1.3 -30h1.7m18.3 11h1.7m23.3 5h1.7m-16.7 -11h1.7m-21.7 13h1.7m-59.7 -8h1.7m12.3 32h1.7m9.3 -68h1.7m-25.7 22h1.7m32.3 -14h1.7m3.3 50h1.7m-10.7 -15h1.7m-31.7 -11h1.7m33.3 24h1.7m15.3 -1h1.7m-24.7 -22h1.7m-1.7 19h1.7m-17.7 -30h1.7m38.3 7h1.7m16.3 10h1.7m-29.7 11h1.7m-24.7 -5h1.7m21.3 -12h1.7m-6.7 38h1.7m-33.7 -55h1.7m23.3 24h1.7m-2.7 -4h1.7m-5.7 -5h1.7m-34.7 14h1.7m16.3 -9h1.7m49.3 27h1.7m-48.7 -51h1.7m21.3 -9h1.7m-5.7 51h1.7m-33.7 -15h1.7m34.3 4h1.7m-29.7 8h1.7m25.3 -2h1.7m-9.7 -5h1.7m4.3 11h1.7m14.3 -2h1.7m16.3 -22h1.7m-53.7 -25h1.7m3.3 47h1.7m35.3 -10h1.7m-40.7 -4h1.7m26.3 -5h1.7m4.3 0h1.7m-39.7 15h1.7m-28.7 9h1.7m42.3 -17h1.7m-25.7 17h1.7m1.3 -9h1.7m22.3 -40h1.7m-16.7 8h1.7m7.3 16h1.7m22.3 27h1.7m-46.7 -33h1.7m0.3 11h1.7m49.3 25h1.7m-38.7 -5h1.7m42.3 -40h1.7m-5.7 15h1.7m-11.7 10h1.7m-12.7 4h1.7m-6.7 -37h1.7m-8.7 17h1.7m33.3 -19h1.7m-64.7 26h1.7m50.3 38h1.7m-10.7 -51h1.7m-4.7 50h1.7m-38.7 -7h1.7m47.3 -21h1.7m-35.7 2h1.7m24.3 -7h1.7m-62.7 7h1.7m-5.7 -19h1.7m65.3 4h1.7m-15.7 4h1.7m14.3 5h1.7m-27.7 1h1.7m-38.7 20h1.7m61.3 -20h1.7m3.3 -10h1.7m-50.7 9h1.7m28.3 -2h1.7m5.3 33h1.7m11.3 -33h1.7m-24.7 -6h1.7m56.3 18h1.7m-53.7 -8h1.7m-34.7 0h1.7m57.3 -12h1.7m0.3 30h1.7m-32.7 -22h1.7m-24.7 3h1.7m1.3 -23h1.7m29.3 30h1.7m-27.7 8h1.7m-14.7 -37h1.7m3.3 21h1.7m18.3 -5h1.7m40.3 2h1.7m-33.7 43h1.7m-22.7 -19h1.7m-14.7 2h1.7m61.3 -61h1.7m-77.7 57h1.7m6.3 -61h1.7m1.3 24h1.7m-39.7 4h1.7m63.3 46h1.7m-3.7 -26h1.7m35.3 -32h1.7m-17.7 30h1.7m12.3 -28h1.7m-30.7 28h1.7m6.3 -8h1.7m-64.7 -1h1.7m45.3 8h1.7m-6.7 -11h1.7m11.3 9h1.7m-9.7 12h1.7m-57.7 8h1.7m36.3 -23h1.7m18.3 -10h1.7m12.3 -2h1.7m-15.7 -2h1.7m54.3 16h1.7m-74.7 -22h1.7m15.3 27h1.7m30.3 -10h1.7m-39.7 3h1.7m-8.7 -12h1.7m-5.7 -14h1.7m9.3 53h1.7m-16.7 -16h1.7m45.3 -28h1.7m16.3 0h1.7m-127.7 -11h1.7m57.3 15h1.7m11.3 38h1.7m8.3 -29h1.7m27.3 -16h1.7m-28.7 14h1.7m-36.7 35h1.7m21.3 -20h1.7m-2.7 2h1.7m59.3 4h1.7m-45.7 -32h1.7m-18.7 22h1.7m10.3 31h1.7m14.3 -44h1.7m-51.7 -6h1.7m0.3 27h1.7m59.3 -22h1.7m-30.7 -9h1.7m-23.7 1h1.7m-10.7 17h1.7m27.3 -2h1.7m-50.7 0h1.7m40.3 21h1.7m22.3 -6h1.7m3.3 18h1.7m-13.7 -49h1.7m-6.7 56h1.7m32.3 -15h1.7m-50.7 25h1.7m-8.7 -49h1.7m17.3 2h1.7m-49.7 -18h1.7m44.3 28h1.7m16.3 18h1.7m-47.7 -59h1.7m14.3 21h1.7m60.3 13h1.7m-27.7 -21h1.7m-46.7 62h1.7m20.3 -38h1.7m11.3 5h1.7m-10.7 2h1.7m-50.7 -19h1.7m65.3 12h1.7m-36.7 -21h1.7m-5.7 11h1.7m44.3 -5h1.7m-51.7 6h1.7m2.3 -4h1.7m-3.7 -49h1.7m-14.7 51h1.7m17.3 7h1.7m35.3 55h1.7m-16.7 28h1.7m-20.7 -15h1.7m20.3 4h1.7m-56.7 -8h1.7m20.3 0h1.7m0.3 1h1.7m32.3 14h1.7m-23.7 -38h1.7m-19.7 30h1.7m9.3 2h1.7m35.3 -29h1.7m-49.7 27h1.7m24.3 3h1.7m18.3 4h1.7m25.3 -29h1.7m-18.7 38h1.7m-61.7 -13h1.7m10.3 -8h1.7m0.3 -2h1.7m40.3 0h1.7m-30.7 7h1.7m-38.7 -8h1.7m38.3 2h1.7m11.3 29h1.7m-10.7 -59h1.7m0.3 58h1.7m-44.7 -4h1.7m13.3 -15h1.7m0.3 -5h1.7m3.3 6h1.7m44.3 3h1.7m-37.7 -14h1.7m-1.7 16h1.7m19.3 -27h1.7m-29.7 14h1.7m-35.7 -14h1.7m36.3 -14h1.7m24.3 47h1.7m-48.7 -37h1.7m-27.7 22h1.7m83.3 -21h1.7m-45.7 21h1.7m-3.7 2h1.7m34.3 -6h1.7m-43.7 -17h1.7m37.3 20h1.7m-17.7 1h1.7m-31.7 -6h1.7m-11.7 2h1.7m46.3 7h1.7m5.3 -22h1.7m-58.7 4h1.7m38.3 -13h1.7m33.3 15h1.7m-21.7 10h1.7m5.3 20h1.7m-23.7 -65h1.7m-12.7 60h1.7m31.3 -14h1.7m-21.7 11h1.7m-7.7 -10h1.7m13.3 -2h1.7m-19.7 -9h1.7m-21.7 -16h1.7m-18.7 35h1.7m33.3 -10h1.7m1.3 -16h1.7m-9.7 3h1.7m10.3 9h1.7m-2.7 13h1.7m15.3 -21h1.7m-24.7 -4h1.7m14.3 3h1.7m6.3 26h1.7m-3.7 -11h1.7m-35.7 1h1.7m19.3 17h1.7m25.3 -4h1.7m-34.7 -1h1.7m19.3 -11h1.7m-20.7 -17h1.7m30.3 24h1.7m-19.7 -12h1.7m-1.7 -11h1.7m13.3 1h1.7m-48.7 11h1.7m40.3 18h1.7m-21.7 -35h1.7m-1.7 8h1.7m-8.7 22h1.7m-21.7 -7h1.7m10.3 -22h1.7m-14.7 40h1.7m23.3 -11h1.7m-28.7 -10h1.7m14.3 10h1.7m-10.7 0h1.7m10.3 -21h1.7m29.3 8h1.7m-45.7 -2h1.7m19.3 -2h1.7m14.3 -1h1.7m-15.7 -1h1.7m17.3 0h1.7m1.3 17h1.7m-9.7 -5h1.7m-68.7 7h1.7m66.3 -2h1.7m-45.7 6h1.7m21.3 -5h1.7m-2.7 -23h1.7m-5.7 16h1.7m15.3 -19h1.7m15.3 10h1.7m-46.7 -10h1.7m-44.7 31h1.7m51.3 -24h1.7m-0.7 -9h1.7m-18.7 17h1.7m45.3 4h1.7m-10.7 -41h1.7m25.3 25h1.7m-73.7 4h1.7m43.3 -5h1.7m17.3 25h1.7m-21.7 8h1.7m-10.7 -12h1.7m-8.7 -11h1.7m-3.7 1h1.7m43.3 12h1.7m-22.7 -27h1.7m-27.7 17h1.7m47.3 -26h1.7m-26.7 7h1.7m-14.7 38h1.7m45.3 -26h1.7m-6.7 15h1.7m-58.7 -24h1.7m-30.7 21h1.7m13.3 -5h1.7m-13.7 24h1.7m56.3 -32h1.7m-7.7 -2h1.7m-38.7 17h1.7m38.3 -7h1.7m-18.7 3h1.7m-18.7 5h1.7m13.3 5h1.7m8.3 -12h1.7m-11.7 22h1.7m-4.7 -10h1.7m22.3 0h1.7m-5.7 -42h1.7m-9.7 28h1.7m39.3 5h1.7m-82.7 4h1.7m34.3 17h1.7m0.3 -40h1.7m13.3 -14h1.7m-43.7 17h1.7m-15.7 7h1.7m31.3 -6h1.7m0.3 33h1.7m-9.7 -26h1.7m10.3 7h1.7m-26.7 16h1.7m16.3 -48h1.7m4.3 21h1.7m19.3 4h1.7m-32.7 -23h1.7m19.3 7h1.7m-21.7 24h1.7m-7.7 -13h1.7m-0.7 5h1.7m38.3 21h1.7m-47.7 -19h1.7m-5.7 5h1.7m10.3 21h1.7m1.3 -12h1.7m-28.7 -26h1.7m47.3 14h1.7m-45.7 4h1.7m42.3 -11h1.7m-22.7 -12h1.7m17.3 1h1.7m-40.7 14h1.7m54.3 -5h1.7m-16.7 23h1.7m7.3 -27h1.7m-17.7 22h1.7m8.3 -24h1.7m-22.7 -3h1.7m10.3 27h1.7m-15.7 -18h1.7m36.3 5h1.7m11.3 -18h1.7m-87.7 39h1.7m58.3 -16h1.7m5.3 11h1.7m-56.7 -26h1.7m33.3 7h1.7m-13.7 0h1.7m26.3 18h1.7m-31.7 -29h1.7m32.3 -4h1.7m-35.7 31h1.7m-14.7 10h1.7m6.3 -20h1.7m33.3 -7h1.7m3.3 23h1.7m-20.7 -29h1.7m-27.7 29h1.7m6.3 -8h1.7m13.3 -38h1.7m14.3 41h1.7m-30.7 -9h1.7m17.3 3h1.7m-10.7 -25h1.7m17.3 46h1.7m-31.7 -29h1.7m-11.7 11h1.7m5.3 16h1.7m23.3 -19h1.7m-45.7 5h1.7m36.3 11h1.7m-1.7 -21h1.7m8.3 -13h1.7m-40.7 16h1.7m5.3 3h1.7m45.3 -29h1.7m-32.7 23h1.7m-16.7 12h1.7m-10.7 -2h1.7m-7.7 13h1.7m38.3 -38h1.7m21.3 1h1.7m-23.7 24h1.7m-23.7 -9h1.7m-5.7 9h1.7m-2.7 -17h1.7m48.3 19h1.7m-16.7 -16h1.7m-36.7 0h1.7m28.3 18h1.7m-33.7 -6h1.7m9.3 -3h1.7m7.3 12h1.7m3.3 -17h1.7m-18.7 -14h1.7m19.3 28h1.7m-20.7 -29h1.7m1.3 37h1.7m-4.7 -7h1.7m17.3 -31h1.7m16.3 8h1.7m-45.7 11h1.7m-0.7 6h1.7m28.3 -8h1.7m-18.7 14h1.7m-8.7 -18h1.7m-9.7 1h1.7m-9.7 -8h1.7m-7.7 7h1.7m74.3 -18h1.7m-90.7 27h1.7m71.3 13h1.7m-39.7 -7h1.7m11.3 -15h1.7m-27.7 3h1.7m40.3 -15h1.7m-20.7 40h1.7m-19.7 -39h1.7m-3.7 17h1.7m40.3 -13h1.7m-21.7 -7h1.7m-17.7 13h1.7m27.3 15h1.7m-45.7 1h1.7m15.3 -19h1.7m-15.7 25h1.7m-10.7 2h1.7m41.3 -30h1.7m-33.7 -11h1.7m5.3 8h1.7m-19.7 3h1.7m39.3 20h1.7m-40.7 -8h1.7m1.3 -11h1.7m19.3 21h1.7m23.3 10h1.7m-38.7 -26h1.7m27.3 26h1.7m-49.7 -15h1.7m52.3 -3h1.7m-4.7 -1h1.7m-10.7 -8h1.7m21.3 16h1.7m-24.7 9h1.7m-19.7 -36h1.7m-9.7 15h1.7m7.3 3h1.7m30.3 19h1.7m0.3 -34h1.7m-39.7 19h1.7m6.3 -1h1.7m8.3 0h1.7m-21.7 -18h1.7m-19.7 33h1.7m34.3 -16h1.7m9.3 -29h1.7m19.3 7h1.7m-15.7 22h1.7m16.3 0h1.7m-24.7 -2h1.7m-24.7 -26h1.7m-3.7 -16h1.7m18.3 30h1.7m16.3 18h1.7m-1.7 10h1.7m15.3 1h1.7m-71.7 -16h1.7m20.3 -9h1.7m-10.7 -25h1.7m34.3 41h1.7m-45.7 -27h1.7m28.3 4h1.7m-21.7 -13h1.7m23.3 1h1.7m-9.7 18h1.7m-2.7 20h1.7m-6.7 -18h1.7m-11.7 -3h1.7m8.3 5h1.7m8.3 6h1.7m40.3 0h1.7m-32.7 17h1.7m-62.7 -9h1.7m26.3 -15h1.7m3.3 8h1.7m27.3 -6h1.7m-45.7 4h1.7m29.3 -29h1.7m-54.7 41h1.7m29.3 -14h1.7m9.3 22h1.7m-4.7 -63h1.7m-28.7 51h1.7m2.3 -16h1.7m-3.7 15h1.7m19.3 19h1.7m42.3 -36h1.7m-34.7 30h1.7m-2.7 -21h1.7m6.3 -7h1.7m22.3 3h1.7m-37.7 -1h1.7m12.3 26h1.7m19.3 -9h1.7m-5.7 -13h1.7m7.3 28h1.7m-31.7 -19h1.7m-7.7 5h1.7m38.3 -26h1.7m-59.7 0h1.7m-0.7 -4h1.7m22.3 16h1.7m10.3 4h1.7m30.3 24h1.7m-54.7 -19h1.7m-2.7 -4h1.7m14.3 19h1.7m-0.7 -1h1.7m2.3 -48h1.7m3.3 -4h1.7m-2.7 41h1.7m-8.7 -33h1.7m1.3 6h1.7m-8.7 4h1.7m-48.7 25h1.7m21.3 -41h1.7m3.3 26h1.7m19.3 -14h1.7m19.3 26h1.7m-73.7 17h1.7m31.3 -32h1.7m-23.7 2h1.7m8.3 9h1.7m-1.7 3h1.7m-4.7 -28h1.7m33.3 45h1.7m-48.7 -20h1.7m6.3 -16h1.7m56.3 24h1.7m-49.7 -34h1.7m-2.7 15h1.7m38.3 18h1.7m-37.7 -19h1.7m33.3 12h1.7m-56.7 -24h1.7m59.3 20h1.7m-32.7 2h1.7m-7.7 5h1.7m-15.7 -28h1.7m-18.7 24h1.7m45.3 7h1.7m-8.7 -32h1.7m14.3 30h1.7m-10.7 -2h1.7m-25.7 7h1.7m2.3 -21h1.7m37.3 -14h1.7m-18.7 30h1.7m-45.7 -26h1.7m42.3 3h1.7m-25.7 14h1.7m10.3 16h1.7m16.3 -27h1.7m2.3 37h1.7m-17.7 -20h1.7m-26.7 8h1.7m9.3 -17h1.7m16.3 -9h1.7m-29.7 14h1.7m16.3 -9h1.7m10.3 -2h1.7m-31.7 12h1.7m-12.7 4h1.7m52.3 17h1.7m13.3 -18h1.7m-24.7 -2h1.7m35.3 -14h1.7m-91.7 6h1.7m17.3 -1h1.7m9.3 28h1.7m2.3 -15h1.7m18.3 -32h1.7m-41.7 29h1.7m49.3 -26h1.7m-66.7 24h1.7m49.3 13h1.7m8.3 3h1.7m6.3 -17h1.7m-55.7 7h1.7m11.3 -19h1.7m2.3 18h1.7m-8.7 -1h1.7m26.3 -5h1.7m6.3 17h1.7m-50.7 -11h1.7m29.3 -12h1.7m-45.7 18h1.7m53.3 3h1.7m-10.7 -23h1.7m-41.7 11h1.7m-7.7 5h1.7m15.3 -20h1.7m25.3 -23h1.7m-3.7 45h1.7m1.3 -10h1.7m-8.7 10h1.7m18.3 -29h1.7m-41.7 5h1.7m20.3 27h1.7m-37.7 8h1.7m37.3 -44h1.7m19.3 14h1.7m-15.7 -26h1.7m-26.7 25h1.7m6.3 15h1.7m-23.7 -5h1.7m12.3 4h1.7m40.3 7h1.7m-21.7 -9h1.7m-8.7 2h1.7m9.3 7h1.7m-10.7 -11h1.7m11.3 21h1.7m-16.7 -31h1.7m-15.7 1h1.7m16.3 8h1.7m-3.7 -12h1.7m8.3 1h1.7m-63.7 12h1.7m66.3 -13h1.7m-42.7 20h1.7m37.3 -14h1.7m-30.7 -37h1.7m10.3 32h1.7m13.3 19h1.7m-2.7 -20h1.7m-52.7 4h1.7m37.3 -16h1.7m-39.7 28h1.7m-6.7 -6h1.7m72.3 3h1.7m-61.7 10h1.7m0.3 -17h1.7m12.3 16h1.7m23.3 -11h1.7m-17.7 23h1.7m28.3 -21h1.7m-11.7 4h1.7m-23.7 -13h1.7m-26.7 6h1.7m47.3 -12h1.7m-45.7 15h1.7m14.3 -12h1.7m-11.7 8h1.7m1.3 -11h1.7m-25.7 30h1.7m41.3 -28h1.7m-16.7 -4h1.7m-10.7 30h1.7m-18.7 -8h1.7m60.3 0h1.7m-57.7 6h1.7m25.3 -12h1.7m6.3 -22h1.7m-22.7 41h1.7m-22.7 0h1.7m58.3 -22h1.7m-48.7 -34h1.7m0.3 56h1.7m7.3 -13h1.7m8.3 5h1.7m-0.7 1h1.7m3.3 -2h1.7m26.3 -21h1.7m-71.7 5h1.7m13.3 2h1.7m74.3 -15h1.7m-5.7 31h1.7m-38.7 -5h1.7m-6.7 -2h1.7m26.3 -28h1.7m-6.7 4h1.7m-57.7 30h1.7m26.3 -20h1.7m-44.7 20h1.7m23.3 6h1.7m-57.7 -5h1.7m58.3 -38h1.7m5.3 18h1.7m25.3 22h1.7m-25.7 -3h1.7m-29.7 -26h1.7m21.3 -15h1.7m-1.7 36h1.7m-32.7 -6h1.7m36.3 -17h1.7m-15.7 21h1.7m8.3 -2h1.7m-13.7 -6h1.7m-34.7 3h1.7m28.3 -8h1.7m33.3 -1h1.7m-41.7 -11h1.7m18.3 27h1.7m22.3 -16h1.7m-32.7 22h1.7m17.3 -16h1.7m-10.7 2h1.7m-24.7 -9h1.7m29.3 -2h1.7m-45.7 37h1.7m44.3 -36h1.7m-17.7 -13h1.7m9.3 19h1.7m5.3 30h1.7m23.3 -4h1.7m-41.7 -13h1.7m45.3 -12h1.7m-67.7 3h1.7m32.3 2h1.7m6.3 5h1.7m-4.7 -6h1.7m-29.7 0h1.7m-33.7 -19h1.7m51.3 12h1.7m3.3 3h1.7m13.3 3h1.7m-2.7 2h1.7m-50.7 -9h1.7m24.3 21h1.7m-14.7 -1h1.7m8.3 -8h1.7m-27.7 -4h1.7m42.3 1h1.7m-8.7 17h1.7m-15.7 -40h1.7m-7.7 19h1.7m19.3 24h1.7m-10.7 -35h1.7m-7.7 21h1.7m7.3 -18h1.7m-43.7 4h1.7m67.3 -5h1.7m-57.7 3h1.7m20.3 10h1.7m5.3 4h1.7m-28.7 -9h1.7m-4.7 11h1.7m0.3 -17h1.7m36.3 -1h1.7m24.3 9h1.7m-36.7 18h1.7m53.3 -16h1.7m-49.7 1h1.7m-20.7 4h1.7m27.3 -36h1.7m-39.7 32h1.7m-22.7 -12h1.7m24.3 -16h1.7m51.3 43h1.7m-66.7 0h1.7m33.3 -37h1.7m-27.7 -5h1.7m-13.7 12h1.7m-1.7 22h1.7m12.3 -9h1.7m-12.7 2h1.7m18.3 9h1.7m-10.7 3h1.7m-22.7 -17h1.7m20.3 21h1.7m26.3 8h1.7m-1.7 -31h1.7m-1.7 6h1.7m-68.7 18h1.7m56.3 -26h1.7m-22.7 29h1.7m-31.7 -46h1.7m37.3 32h1.7m-11.7 -19h1.7m21.3 -4h1.7m-57.7 9h1.7m24.3 -3h1.7m2.3 -16h1.7m69.3 14h1.7m-27.7 20h1.7m-61.7 -21h1.7m18.3 6h1.7m-1.7 15h1.7m14.3 -6h1.7m-5.7 15h1.7m1.3 -10h1.7m5.3 15h1.7m-31.7 -22h1.7m7.3 -24h1.7m47.3 3h1.7m-26.7 29h1.7m8.3 -2h1.7m-41.7 -14h1.7m-8.7 13h1.7m-5.7 0h1.7m31.3 -9h1.7m-15.7 -28h1.7m-4.7 22h1.7m29.3 24h1.7m-21.7 -28h1.7m19.3 22h1.7m1.3 -2h1.7m9.3 14h1.7m-32.7 -15h1.7m-18.7 8h1.7m29.3 -20h1.7m-13.7 17h1.7m-36.7 -29h1.7m7.3 20h1.7m43.3 3h1.7m-27.7 -4h1.7m-22.7 -6h1.7m17.3 4h1.7m5.3 -19h1.7m-17.7 32h1.7m-3.7 -12h1.7m6.3 10h1.7m10.3 -4h1.7m-9.7 -158h1.7m26.3 -8h1.7m-14.7 -27h1.7m-45.7 40h1.7m33.3 -24h1.7m-2.7 22h1.7m10.3 0h1.7m-5.7 -22h1.7m-24.7 10h1.7m-0.7 15h1.7m-30.7 -9h1.7m28.3 -5h1.7m16.3 11h1.7m-43.7 -14h1.7m48.3 13h1.7m-17.7 -9h1.7m-16.7 1h1.7m-21.7 -16h1.7m15.3 34h1.7m-10.7 -18h1.7m3.3 23h1.7m0.3 -29h1.7m67.3 5h1.7m-37.7 8h1.7m-34.7 -7h1.7m-12.7 -7h1.7m50.3 32h1.7m-7.7 -28h1.7m-9.7 11h1.7m-58.7 -6h1.7m102.3 -2h1.7m-56.7 30h1.7m-11.7 -25h1.7m6.3 -5h1.7m-38.7 25h1.7m24.3 -13h1.7m4.3 8h1.7m11.3 -20h1.7m-20.7 12h1.7m16.3 -5h1.7m8.3 1h1.7m-27.7 5h1.7m-8.7 6h1.7m27.3 -3h1.7m-25.7 -20h1.7m-60.7 13h1.7m42.3 12h1.7m31.3 -11h1.7m-28.7 -9h1.7m21.3 5h1.7m-9.7 18h1.7m81.3 -28h1.7m-84.7 10h1.7m1.3 2h1.7m14.3 -28h1.7m-26.7 31h1.7m32.3 13h1.7m-5.7 -15h1.7m-8.7 3h1.7m-42.7 6h1.7m33.3 -15h1.7m19.3 11h1.7m-34.7 -9h1.7m-29.7 -3h1.7m51.3 4h1.7m-25.7 14h1.7m24.3 -25h1.7m-45.7 32h1.7m-6.7 -16h1.7m32.3 6h1.7m-33.7 -15h1.7m14.3 2h1.7m-57.7 23h1.7m65.3 -27h1.7m-25.7 8h1.7m6.3 -6h1.7m-18.7 -3h1.7m24.3 21h1.7m-12.7 -23h1.7m4.3 16h1.7m-26.7 -23h1.7m8.3 40h1.7m50.3 -28h1.7m-34.7 12h1.7m-22.7 -17h1.7m-14.7 13h1.7m32.3 -1h1.7m21.3 -19h1.7m-50.7 32h1.7m34.3 -25h1.7m-27.7 10h1.7m-17.7 2h1.7m57.3 -26h1.7m-18.7 29h1.7m34.3 -46h1.7m-25.7 43h1.7m-18.7 2h1.7m-10.7 -17h1.7m-20.7 9h1.7m66.3 16h1.7m-8.7 -9h1.7m-28.7 -20h1.7m5.3 13h1.7m-2.7 8h1.7m4.3 -11h1.7m-42.7 11h1.7m-9.7 14h1.7m54.3 -10h1.7m-31.7 -13h1.7m-7.7 -6h1.7m-30.7 -1h1.7m17.3 16h1.7m32.3 -8h1.7m-2.7 -26h1.7m-42.7 34h1.7m8.3 -10h1.7m-9.7 10h1.7m92.3 -38h1.7m-47.7 24h1.7m-37.7 32h1.7m20.3 -21h1.7m-33.7 -39h1.7m24.3 49h1.7m-22.7 -19h1.7m21.3 8h1.7m13.3 3h1.7m-18.7 -12h1.7m15.3 12h1.7m-11.7 8h1.7m-2.7 -33h1.7m7.3 26h1.7m-11.7 -7h1.7m0.3 3h1.7m22.3 -6h1.7m-70.7 6h1.7m-27.7 6h1.7m65.3 -11h1.7m-17.7 8h1.7m22.3 -12h1.7m-47.7 0h1.7m38.3 1h1.7m-25.7 25h1.7m19.3 -44h1.7m-27.7 32h1.7m-10.7 6h1.7m38.3 -20h1.7m-29.7 -27h1.7m30.3 23h1.7m36.3 23h1.7m-62.7 -10h1.7m-8.7 18h1.7m47.3 -33h1.7m-26.7 3h1.7m15.3 12h1.7m-17.7 6h1.7m-34.7 7h1.7m70.3 -22h1.7m-34.7 -12h1.7m-9.7 21h1.7m11.3 -7h1.7m-1.7 -15h1.7m-3.7 -18h1.7m-38.7 23h1.7m29.3 6h1.7m-35.7 22h1.7m25.3 -16h1.7m-19.7 -4h1.7m0.3 6h1.7m25.3 -13h1.7m-21.7 11h1.7m-52.7 -2h1.7m17.3 11h1.7m14.3 1h1.7m-35.7 -8h1.7m76.3 -16h1.7m16.3 -8h1.7m-48.7 40h1.7m-10.7 -4h1.7m10.3 -17h1.7m42.3 -6h1.7m-10.7 32h1.7m-59.7 -14h1.7m64.3 -15h1.7m-65.7 4h1.7m37.3 12h1.7m-17.7 -11h1.7m-15.7 9h1.7m6.3 6h1.7m33.3 -15h1.7m-16.7 -15h1.7m-28.7 9h1.7m14.3 -11h1.7m10.3 23h1.7m-33.7 5h1.7m14.3 -9h1.7m-21.7 -12h1.7m27.3 9h1.7m26.3 13h1.7m-57.7 -1h1.7m-3.7 -8h1.7m64.3 -25h1.7m-43.7 9h1.7m-12.7 12h1.7m-7.7 13h1.7m24.3 -15h1.7m1.3 12h1.7m-58.7 4h1.7m-6.7 -5h1.7m65.3 -17h1.7m-35.7 5h1.7m25.3 -7h1.7m22.3 -1h1.7m-17.7 19h1.7m-23.7 22h1.7m7.3 -36h1.7m-18.7 14h1.7m-5.7 -22h1.7m56.3 22h1.7m-61.7 22h1.7m20.3 -13h1.7m12.3 -19h1.7m12.3 8h1.7m-35.7 -3h1.7m18.3 -11h1.7m-8.7 -1h1.7m-1.7 14h1.7m-36.7 3h1.7m21.3 4h1.7m-12.7 12h1.7m20.3 -13h1.7m-17.7 -9h1.7m-18.7 -6h1.7m3.3 30h1.7m-0.7 -14h1.7m27.3 -27h1.7m-38.7 45h1.7m32.3 -24h1.7m36.3 -14h1.7m-45.7 12h1.7m-41.7 20h1.7m1.3 -26h1.7m-1.7 -15h1.7m47.3 15h1.7m-11.7 0h1.7m-55.7 -3h1.7m17.3 -1h1.7m39.3 23h1.7m9.3 -9h1.7m-43.7 -6h1.7m37.3 -16h1.7m-58.7 17h1.7m12.3 3h1.7m-19.7 8h1.7m18.3 4h1.7m40.3 -19h1.7m-47.7 4h1.7m8.3 18h1.7m2.3 -9h1.7m-10.7 7h1.7m41.3 -16h1.7m-33.7 -11h1.7m6.3 9h1.7m38.3 -13h1.7m-76.7 45h1.7m-9.7 -26h1.7m26.3 11h1.7m41.3 -20h1.7m-19.7 22h1.7m-25.7 -9h1.7m28.3 -9h1.7m-19.7 -10h1.7m-2.7 24h1.7m55.3 -17h1.7m-63.7 11h1.7m-4.7 -19h1.7m6.3 -2h1.7m-26.7 27h1.7m44.3 -16h1.7m0.3 -10h1.7m10.3 29h1.7m-6.7 -26h1.7m-77.7 31h1.7m63.3 -34h1.7m-47.7 9h1.7m2.3 -5h1.7m52.3 12h1.7m-33.7 -1h1.7m21.3 -12h1.7m-25.7 6h1.7m-3.7 2h1.7m28.3 1h1.7m-58.7 16h1.7m19.3 -20h1.7m-12.7 -8h1.7m29.3 -4h1.7m9.3 16h1.7m-21.7 -4h1.7m3.3 3h1.7m50.3 -3h1.7m-44.7 -11h1.7m-18.7 19h1.7m13.3 -22h1.7m-53.7 16h1.7m-2.7 1h1.7m49.3 13h1.7m35.3 -14h1.7m-54.7 28h1.7m-26.7 -28h1.7m42.3 9h1.7m-32.7 -21h1.7m49.3 8h1.7m-37.7 -3h1.7m12.3 29h1.7m-25.7 -33h1.7m36.3 28h1.7m-50.7 -19h1.7m-0.7 16h1.7m54.3 -16h1.7m-81.7 27h1.7m1.3 -19h1.7m19.3 2h1.7m56.3 -16h1.7m-36.7 -1h1.7m-40.7 11h1.7m68.3 -9h1.7m-17.7 9h1.7m-43.7 7h1.7m51.3 -35h1.7m18.3 19h1.7m-63.7 4h1.7m17.3 -12h1.7m19.3 27h1.7m-54.7 -28h1.7m26.3 26h1.7m13.3 3h1.7m-2.7 15h1.7m-4.7 -47h1.7m22.3 8h1.7m-42.7 16h1.7m-28.7 6h1.7m20.3 -14h1.7m36.3 7h1.7m-39.7 5h1.7m26.3 -11h1.7m-50.7 11h1.7m45.3 -35h1.7m-2.7 33h1.7m-26.7 -12h1.7m-28.7 19h1.7m47.3 -20h1.7m-27.7 20h1.7m-15.7 -21h1.7m100.3 -15h1.7m-33.7 33h1.7m-7.7 -47h1.7m-33.7 42h1.7m44.3 -10h1.7m-65.7 6h1.7m34.3 -3h1.7m37.3 -2h1.7m-32.7 19h1.7m-19.7 4h1.7m-10.7 -9h1.7m-2.7 -12h1.7m28.3 18h1.7m-48.7 -17h1.7m-25.7 4h1.7m12.3 0h1.7m74.3 -15h1.7m-38.7 5h1.7m-8.7 17h1.7m4.3 -14h1.7m32.3 -10h1.7m-87.7 9h1.7m59.3 25h1.7m-13.7 -32h1.7m3.3 -9h1.7m-55.7 35h1.7m69.3 -18h1.7m-35.7 3h1.7m26.3 -10h1.7m-43.7 21h1.7m-28.7 2h1.7m60.3 4h1.7m-17.7 -18h1.7m12.3 9h1.7m31.3 -28h1.7m-43.7 10h1.7m-20.7 33h1.7m28.3 -41h1.7m5.3 1h1.7m-52.7 22h1.7m34.3 2h1.7m11.3 -14h1.7m6.3 3h1.7m-13.7 -18h1.7m-13.7 35h1.7m2.3 10h1.7m11.3 1h1.7m-24.7 -15h1.7m-8.7 1h1.7m-8.7 -14h1.7m-6.7 8h1.7m49.3 -8h1.7m-70.7 -9h1.7m53.3 15h1.7m47.3 0h1.7m-32.7 -18h1.7m-2.7 8h1.7m-60.7 20h1.7m-6.7 1h1.7m39.3 -13h1.7m-13.7 -14h1.7m27.3 23h1.7m-9.7 4h1.7m-9.7 -13h1.7m-23.7 5h1.7m4.3 7h1.7m20.3 -21h1.7m6.3 8h1.7m-51.7 2h1.7m5.3 25h1.7m-0.7 -21h1.7m14.3 1h1.7m14.3 6h1.7m-15.7 -25h1.7m21.3 21h1.7m-60.7 -3h1.7m51.3 -5h1.7m-33.7 17h1.7m22.3 -20h1.7m-32.7 14h1.7m11.3 -1h1.7m-26.7 -1h1.7m18.3 -23h1.7m62.3 0h1.7m-46.7 -13h1.7m-21.7 35h1.7m5.3 3h1.7m-18.7 -8h1.7m26.3 -4h1.7m-16.7 1h1.7m49.3 2h1.7m-33.7 -3h1.7m-8.7 4h1.7m-26.7 -14h1.7m46.3 2h1.7m-15.7 12h1.7m-5.7 -11h1.7m-60.7 24h1.7m20.3 10h1.7m45.3 -26h1.7m-29.7 -3h1.7m-4.7 -13h1.7m-3.7 15h1.7m12.3 8h1.7m1.3 -6h1.7m-7.7 4h1.7m18.3 13h1.7m-8.7 19h1.7m15.3 -43h1.7m-21.7 18h1.7m-14.7 14h1.7m-3.7 -38h1.7m25.3 7h1.7m-7.7 13h1.7m8.3 -12h1.7m-42.7 3h1.7m21.3 1h1.7m-24.7 0h1.7m78.3 -13h1.7m-15.7 4h1.7m-50.7 18h1.7m2.3 -15h1.7m26.3 8h1.7m-17.7 21h1.7m55.3 -40h1.7m-64.7 37h1.7m-33.7 -14h1.7m-7.7 -5h1.7m23.3 5h1.7m41.3 -18h1.7m-34.7 26h1.7m12.3 -13h1.7m30.3 -12h1.7m-43.7 12h1.7m-5.7 -8h1.7m-32.7 12h1.7m47.3 5h1.7m25.3 5h1.7m-13.7 -10h1.7m-55.7 9h1.7m6.3 -6h1.7m46.3 -9h1.7m-15.7 -1h1.7m-11.7 -27h1.7m-51.7 42h1.7m13.3 -14h1.7m55.3 7h1.7m-19.7 -18h1.7m-11.7 31h1.7m-47.7 -17h1.7m41.3 -4h1.7m47.3 10h1.7m-57.7 -2h1.7m33.3 2h1.7m-15.7 3h1.7m-25.7 -16h1.7m-10.7 5h1.7m17.3 -2h1.7m-20.7 14h1.7m47.3 -23h1.7m-10.7 11h1.7m-7.7 -6h1.7m-13.7 15h1.7m7.3 -22h1.7m-3.7 33h1.7m-0.7 -14h1.7m-38.7 -12h1.7m27.3 -3h1.7m-2.7 32h1.7m19.3 -15h1.7m-0.7 6h1.7m-32.7 1h1.7m-13.7 -34h1.7m28.3 30h1.7m2.3 -24h1.7m-7.7 25h1.7m-1.7 -30h1.7m14.3 18h1.7m-48.7 12h1.7m6.3 -1h1.7m-0.7 -21h1.7m21.3 14h1.7m12.3 -25h1.7m-56.7 9h1.7m-5.7 14h1.7m29.3 -8h1.7m-2.7 0h1.7m-22.7 24h1.7m-5.7 -14h1.7m37.3 11h1.7m13.3 -25h1.7m-71.7 22h1.7m43.3 -20h1.7m6.3 23h1.7m1.3 -23h1.7m-12.7 22h1.7m-6.7 2h1.7m30.3 -27h1.7m-83.7 15h1.7m79.3 -15h1.7m-12.7 12h1.7m-16.7 15h1.7m-16.7 14h1.7m29.3 -23h1.7m-39.7 -7h1.7m33.3 -13h1.7m-40.7 0h1.7m35.3 16h1.7m-15.7 -28h1.7m24.3 17h1.7m-19.7 30h1.7m25.3 -28h1.7m-23.7 -3h1.7m-58.7 13h1.7m27.3 -8h1.7m18.3 25h1.7m-5.7 -6h1.7m36.3 -36h1.7m-83.7 33h1.7m7.3 11h1.7m59.3 -35h1.7m-25.7 21h1.7m-35.7 1h1.7m69.3 -6h1.7m-47.7 14h1.7m-35.7 2h1.7m87.3 -30h1.7m-53.7 10h1.7m-34.7 14h1.7m55.3 4h1.7m-8.7 -25h1.7m-27.7 13h1.7m16.3 -9h1.7m-46.7 15h1.7m42.3 -22h1.7m-25.7 -2h1.7m30.3 13h1.7m-7.7 -2h1.7m19.3 2h1.7m-31.7 -8h1.7m16.3 0h1.7m-0.7 27h1.7m-17.7 -8h1.7m4.3 7h1.7m22.3 -41h1.7m-12.7 36h1.7m-31.7 -3h1.7m32.3 -15h1.7m-40.7 11h1.7m6.3 -20h1.7m8.3 -5h1.7m-0.7 0h1.7m-4.7 33h1.7m-27.7 -7h1.7m23.3 -16h1.7m-21.7 14h1.7m35.3 0h1.7m-31.7 4h1.7m-30.7 -9h1.7m61.3 4h1.7m40.3 2h1.7m-32.7 -32h1.7m-22.7 7h1.7m-9.7 11h1.7m-8.7 5h1.7m41.3 -11h1.7m-75.7 24h1.7m55.3 -5h1.7m-31.7 7h1.7m59.3 -3h1.7m-29.7 -8h1.7m2.3 6h1.7m-37.7 -19h1.7m20.3 11h1.7m32.3 -11h1.7m-71.7 -13h1.7m46.3 21h1.7m-39.7 -11h1.7m5.3 3h1.7m19.3 6h1.7m-12.7 7h1.7m22.3 10h1.7m-18.7 3h1.7m14.3 -26h1.7m14.3 -10h1.7m-20.7 6h1.7m-33.7 21h1.7m8.3 -5h1.7m5.3 0h1.7m-9.7 3h1.7m23.3 5h1.7m-14.7 -18h1.7m11.3 13h1.7m-5.7 -2h1.7m1.3 -23h1.7m-38.7 24h1.7m25.3 -27h1.7m-57.7 15h1.7m32.3 33h1.7m15.3 -25h1.7m-16.7 11h1.7m3.3 -16h1.7m31.3 7h1.7m-43.7 10h1.7m-1.7 11h1.7m7.3 -5h1.7m2.3 -22h1.7m-10.7 6h1.7m8.3 -3h1.7m-4.7 -5h1.7m16.3 2h1.7m-22.7 21h1.7m18.3 -14h1.7m-49.7 -16h1.7m41.3 -5h1.7m-21.7 1h1.7m-4.7 8h1.7m17.3 18h1.7m5.3 -40h1.7m-37.7 19h1.7m16.3 19h1.7m-12.7 4h1.7m-14.7 -4h1.7m54.3 -10h1.7m-11.7 -6h1.7m-39.7 31h1.7m18.3 -24h1.7m-68.7 27h1.7m56.3 -13h1.7m53.3 -24h1.7m-54.7 39h1.7m-3.7 -34h1.7m-4.7 20h1.7m23.3 2h1.7m-39.7 12h1.7m-10.7 -13h1.7m32.3 -7h1.7m24.3 -22h1.7m14.3 13h1.7m-44.7 3h1.7m10.3 -3h1.7m-40.7 -2h1.7m56.3 0h1.7m-51.7 25h1.7m-14.7 -35h1.7m39.3 35h1.7m-18.7 -31h1.7m-6.7 17h1.7m61.3 -14h1.7m11.3 -19h1.7m-81.7 23h1.7m30.3 6h1.7m-22.7 8h1.7m2.3 -21h1.7m10.3 11h1.7m4.3 -5h1.7m-76.7 28h1.7m25.3 -23h1.7m59.3 -2h1.7m-35.7 -3h1.7m-19.7 13h1.7m39.3 3h1.7m13.3 -21h1.7m-65.7 43h1.7m29.3 -32h1.7m21.3 -4h1.7m-1.7 15h1.7m-47.7 -12h1.7m-9.7 -3h1.7m66.3 -2h1.7m-58.7 -2h1.7m-27.7 27h1.7m-0.7 -16h1.7m65.3 -19h1.7m-36.7 -7h1.7m3.3 50h1.7m29.3 -74h1.7m-8.7 56h1.7m14.3 -13h1.7m-41.7 22h1.7m7.3 -21h1.7m-8.7 1h1.7m4.3 8h1.7m12.3 -2h1.7m7.3 -9h1.7m-8.7 20h1.7m-37.7 -27h1.7m-14.7 7h1.7m55.3 5h1.7m5.3 -16h1.7m-23.7 2h1.7m37.3 5h1.7m-53.7 25h1.7m13.3 -27h1.7m-15.7 8h1.7m-16.7 -3h1.7m-22.7 10h1.7m47.3 11h1.7m36.3 -17h1.7m-33.7 -4h1.7m-22.7 24h1.7m-3.7 -12h1.7m-17.7 -15h1.7m18.3 23h1.7m38.3 -19h1.7m-58.7 -10h1.7m-4.7 27h1.7m2.3 -28h1.7m36.3 26h1.7m-6.7 -21h1.7m-13.7 22h1.7m-9.7 -8h1.7m41.3 -14h1.7m-2.7 12h1.7m-23.7 -15h1.7m-7.7 -2h1.7m-7.7 -5h1.7m16.3 33h1.7m-18.7 2h1.7m6.3 -36h1.7m-46.7 42h1.7m20.3 -14h1.7m12.3 -7h1.7m13.3 -14h1.7m-20.7 40h1.7m-5.7 -25h1.7m25.3 9h1.7m-0.7 -4h1.7m-62.7 5h1.7m69.3 -11h1.7m-23.7 -8h1.7m34.3 -13h1.7m-49.7 14h1.7m-51.7 13h1.7m75.3 -23h1.7m-38.7 29h1.7m9.3 -4h1.7m-8.7 -3h1.7m-0.7 1h1.7m4.3 9h1.7m-31.7 -11h1.7m-11.7 17h1.7m28.3 -29h1.7m-22.7 19h1.7m53.3 -24h1.7m-62.7 48h1.7m44.3 -20h1.7m5.3 1h1.7m-9.7 -8h1.7m16.3 1h1.7m-32.7 -22h1.7m-23.7 47h1.7m1.3 -17h1.7m18.3 -39h1.7m26.3 22h1.7m15.3 -1h1.7m-47.7 -3h1.7m6.3 -15h1.7m-0.7 33h1.7m-26.7 -14h1.7m36.3 7h1.7m-22.7 -17h1.7m11.3 19h1.7m-20.7 0h1.7m14.3 -13h1.7m-11.7 -13h1.7m4.3 30h1.7m-19.7 -4h1.7m24.3 -11h1.7m-47.7 27h1.7m20.3 -22h1.7m23.3 -7h1.7m-20.7 -1h1.7m14.3 14h1.7m-12.7 -10h1.7m-22.7 6h1.7m-12.7 3h1.7m1.3 8h1.7m24.3 -15h1.7m-12.7 -5h1.7m28.3 20h1.7m-14.7 -8h1.7m20.3 -15h1.7m0.3 19h1.7m-22.7 -20h1.7m6.3 -5h1.7m35.3 12h1.7m-75.7 19h1.7m49.3 -6h1.7m-41.7 -6h1.7m10.3 -15h1.7m-5.7 24h1.7m-22.7 -10h1.7m-0.7 2h1.7m81.3 -13h1.7m-109.7 25h1.7m20.3 -12h1.7m43.3 -24h1.7m-50.7 20h1.7m2.3 -7h1.7m38.3 7h1.7m-25.7 16h1.7m36.3 10h1.7m-31.7 -14h1.7m32.3 -32h1.7m-65.7 33h1.7m14.3 -14h1.7m-3.7 -12h1.7m70.3 24h1.7m-42.7 -1h1.7m-6.7 -40h1.7m-13.7 27h1.7m38.3 -8h1.7m-29.7 13h1.7m19.3 -16h1.7m-5.7 -1h1.7m-30.7 8h1.7m7.3 13h1.7m22.3 -17h1.7m-27.7 -6h1.7m-2.7 19h1.7m-20.7 21h1.7m-5.7 -22h1.7m20.3 18h1.7m-4.7 -22h1.7m18.3 7h1.7m-45.7 4h1.7m35.3 5h1.7m-13.7 -3h1.7m-45.7 -10h1.7m41.3 6h1.7m32.3 -26h1.7m7.3 14h1.7m-41.7 -1h1.7m-22.7 14h1.7m18.3 -16h1.7m6.3 -8h1.7m-31.7 -6h1.7m54.3 23h1.7m-2.7 -8h1.7m-6.7 0h1.7m-30.7 -4h1.7m-13.7 19h1.7m8.3 -2h1.7m60.3 3h1.7m-73.7 -20h1.7m-5.7 24h1.7m16.3 -19h1.7m47.3 -4h1.7m-55.7 22h1.7m-5.7 -7h1.7m80.3 -13h1.7m-58.7 -9h1.7m3.3 39h1.7m-88.7 -71h1.7m59.3 51h1.7m-22.7 -4h1.7m-28.7 -19h1.7m68.3 3h1.7m-35.7 43h1.7m26.3 -50h1.7m-7.7 61h1.7m-4.7 -45h1.7m40.3 5h1.7m-34.7 -3h1.7m-7.7 -27h1.7m-37.7 31h1.7m53.3 -24h1.7m-49.7 26h1.7m-15.7 -25h1.7m-14.7 48h1.7m86.3 14h1.7m-2.7 -7h1.7m85.3 -17h1.7m-134.7 -13h1.7m-4.7 -29h1.7m3.3 29h1.7m-24.7 -9h1.7m72.3 -2h1.7m31.3 13h1.7m-89.7 -21h1.7m-19.7 -14h1.7m-8.7 13h1.7m59.3 38h1.7m37.3 -37h1.7m-78.7 7h1.7m9.3 30h1.7m-43.7 -24h1.7m132.3 1h1.7m-118.7 23h1.7m31.3 -39h1.7m-26.7 -9h1.7m51.3 41h1.7m-49.7 -18h1.7m36.3 17h1.7m-63.7 5h1.7m33.3 -41h1.7m-37.7 23h1.7m-58.7 20h1.7m66.3 4h1.7m13.3 26h1.7m14.3 -32h1.7m-86.7 -3h1.7m51.3 -64h1.7m53.3 62h1.7m-69.7 -20h1.7m41.3 -1h1.7m-32.7 7h1.7m61.3 16h1.7m-33.7 -3h1.7m-7.7 7h1.7m-0.7 -38h1.7m-45.7 27h1.7m66.3 -26h1.7m-2.7 2h1.7m10.3 27h1.7m28.3 22h1.7m-27.7 -57h1.7m-16.7 39h1.7m-63.7 -5h1.7m18.3 14h1.7m-75.7 -11h1.7m101.3 -8h1.7m1.3 23h1.7m56.3 -42h1.7m-85.7 0h1.7m-11.7 7h1.7m-16.7 -8h1.7m55.3 35h1.7m5.3 -53h1.7m-32.7 35h1.7m87.3 15h1.7m-124.7 -10h1.7m58.3 -7h1.7m-26.7 -32h1.7m-4.7 58h1.7m-15.7 5h1.7m-1.7 -8h1.7m95.3 -8h1.7m-122.7 -34h1.7m59.3 33h1.7m21.3 -19h1.7m-37.7 28h1.7m15.3 -29h1.7m-35.7 37h1.7m-56.7 -62h1.7m65.3 14h1.7m10.3 9h1.7m-53.7 26h1.7m76.3 -35h1.7m-26.7 1h1.7m-24.7 13h1.7m-21.7 35h1.7m38.3 22h1.7m-21.7 -30h1.7m36.3 -3h1.7m-61.7 -9h1.7m77.3 -25h1.7m-159.7 38h1.7m139.3 -12h1.7m-78.7 -46h1.7m35.3 58h1.7m4.3 -27h1.7m82.3 -38h1.7m-67.7 28h1.7m-12.7 23h1.7m29.3 -41h1.7m8.3 51h1.7m-26.7 -15h1.7m-19.7 14h1.7m-4.7 10h1.7m37.3 7h1.7m-37.7 -17h1.7m-50.7 -31h1.7m65.3 20h1.7m-111.7 -8h1.7m162.3 9h1.7m-62.7 10h1.7m-5.7 -47h1.7m-27.7 48h1.7m75.3 -30h1.7m-1.7 3h1.7m-80.7 -7h1.7m105.3 -15h1.7m-138.7 59h1.7m27.3 -32h1.7m37.3 49h1.7m-37.7 -31h1.7m20.3 -9h1.7m-10.7 -2h1.7m-6.7 -2h1.7m51.3 6h1.7m-57.7 -2h1.7m20.3 -8h1.7m1.3 24h1.7m27.3 -44h1.7m-87.7 -8h1.7m-44.7 54h1.7m58.3 -59h1.7m54.3 42h1.7m32.3 8h1.7m-7.7 -5h1.7m-24.7 -25h1.7m-10.7 0h1.7m-27.7 5h1.7m76.3 2h1.7m-87.7 2h1.7m-21.7 12h1.7m32.3 2h1.7m-3.7 14h1.7m47.3 -44h1.7m-41.7 16h1.7m-10.7 -7h1.7m-3.7 -11h1.7m16.3 -7h1.7m12.3 51h1.7m-40.7 0h1.7m65.3 -18h1.7m-19.7 21h1.7m-103.7 -14h1.7m39.3 -31h1.7m31.3 53h1.7m15.3 -16h1.7m10.3 -25h1.7m-38.7 23h1.7m19.3 -10h1.7m-19.7 -21h1.7m-57.7 13h1.7m35.3 -13h1.7m30.3 -28h1.7m-57.7 49h1.7m60.3 3h1.7m-28.7 7h1.7m-18.7 -17h1.7m57.3 3h1.7m-67.7 -27h1.7m-38.7 9h1.7m91.3 34h1.7m1.3 -26h1.7m29.3 21h1.7m-68.7 -22h1.7m-16.7 45h1.7m24.3 -57h1.7m44.3 2h1.7m-62.7 43h1.7m-16.7 -25h1.7m75.3 -15h1.7m19.3 10h1.7m-80.7 -4h1.7m91.3 7h1.7m-37.7 36h1.7m-88.7 -33h1.7m91.3 3h1.7m-134.7 2h1.7m39.3 28h1.7m40.3 -24h1.7m-37.7 8h1.7m60.3 -52h1.7m-63.7 32h1.7m73.3 5h1.7m-53.7 9h1.7m-3.7 -27h1.7m-14.7 27h1.7m-10.7 -22h1.7m-22.7 29h1.7m53.3 -20h1.7m-70.7 53h1.7m40.3 -45h1.7m86.3 -30h1.7m-51.7 48h1.7m16.3 0h1.7m36.3 -58h1.7m-41.7 44h1.7m-7.7 8h1.7m-38.7 -15h1.7m-3.7 -11h1.7m-41.7 27h1.7m94.3 -10h1.7m-85.7 1h1.7m36.3 21h1.7m-28.7 -11h1.7m19.3 -35h1.7m43.3 41h1.7m15.3 -20h1.7m-18.7 6h1.7m22.3 15h1.7m-51.7 -45h1.7m7.3 26h1.7m-1.7 -1h1.7m-38.7 11h1.7m-2.7 30h1.7m20.3 -54h1.7m9.3 12h1.7m-25.7 15h1.7m-24.7 12h1.7m47.3 -45h1.7m-6.7 -7h1.7m-80.7 36h1.7m66.3 7h1.7m-27.7 5h1.7m-69.7 -35h1.7m141.3 -21h1.7m-35.7 47h1.7m32.3 -31h1.7m-114.7 34h1.7m3.3 -43h1.7m5.3 67h1.7m-3.7 -33h1.7m124.3 -23h1.7m-95.7 28h1.7m9.3 -14h1.7m5.3 20h1.7m28.3 -27h1.7m-14.7 24h1.7m-33.7 -23h1.7m-42.7 35h1.7m74.3 -16h1.7m-57.7 -36h1.7m19.3 9h1.7m-34.7 -6h1.7m72.3 40h1.7m-38.7 -38h1.7m-22.7 10h1.7m92.3 10h1.7m-8.7 -13h1.7m-117.7 -8h1.7m122.3 38h1.7m-98.7 -5h1.7m59.3 -42h1.7m-49.7 24h1.7m92.3 -6h1.7m-87.7 6h1.7m-30.7 15h1.7m22.3 -56h1.7m1.3 32h1.7m1.3 22h1.7m-2.7 2h1.7m-14.7 -7h1.7m-29.7 -7h1.7m38.3 -46h1.7m22.3 34h1.7m-10.7 28h1.7m53.3 12h1.7m-55.7 -24h1.7m-12.7 7h1.7m-2.7 -33h1.7m-20.7 37h1.7m35.3 -8h1.7m-6.7 24h1.7m43.3 -35h1.7m-62.7 42h1.7m6.3 -17h1.7m0.3 7h1.7m67.3 -28h1.7m-44.7 -15h1.7m-100.7 22h1.7m107.3 4h1.7m-87.7 -1h1.7m-10.7 12h1.7m72.3 -19h1.7m-14.7 8h1.7m27.3 -34h1.7m-28.7 -1h1.7m-4.7 36h1.7m-31.7 9h1.7m50.3 -42h1.7m-36.7 29h1.7m-30.7 -35h1.7m53.3 16h1.7m-86.7 11h1.7m62.3 9h1.7m22.3 -32h1.7m22.3 8h1.7m-78.7 -10h1.7m14.3 16h1.7m80.3 26h1.7m59.3 12h1.7m-96.7 -12h1.7m21.3 -1h1.7m-43.7 -5h1.7m22.3 -15h1.7m43.3 -9h1.7m-81.7 -4h1.7m-1.7 16h1.7m43.3 25h1.7m-53.7 -42h1.7m-87.7 31h1.7m86.3 -15h1.7m-11.7 -6h1.7m74.3 -9h1.7m-18.7 2h1.7m-28.7 53h1.7m-34.7 -55h1.7m70.3 35h1.7m-65.7 -9h1.7m-20.7 -12h1.7m-5.7 17h1.7m30.3 -21h1.7m-41.7 12h1.7m-23.7 22h1.7m54.3 -59h1.7m9.3 38h1.7m-4.7 17h1.7m37.3 -16h1.7m-26.7 1h1.7m21.3 32h1.7m-35.7 -44h1.7m35.3 21h1.7m-16.7 11h1.7m-28.7 -24h1.7m-17.7 -13h1.7m23.3 -22h1.7m5.3 33h1.7m27.3 1h1.7m-32.7 15h1.7m-71.7 -14h1.7m59.3 -3h1.7m44.3 7h1.7m4.3 -21h1.7m7.3 25h1.7m-112.7 23h1.7m30.3 8h1.7m84.3 -43h1.7m-61.7 21h1.7m2.3 -1h1.7m-38.7 -41h1.7m47.3 -6h1.7m3.3 24h1.7m-48.7 12h1.7m13.3 -23h1.7m13.3 26h1.7m2.3 -18h1.7m-14.7 1h1.7m-9.7 12h1.7m43.3 8h1.7m18.3 -2h1.7m-111.7 0h1.7m131.3 12h1.7m-115.7 -49h1.7m1.3 39h1.7m6.3 -29h1.7m31.3 9h1.7m15.3 -24h1.7m-7.7 33h1.7m12.3 -5h1.7m26.3 2h1.7m-102.7 10h1.7m-8.7 9h1.7m50.3 -32h1.7m85.3 4h1.7m-115.7 -24h1.7m9.3 -11h1.7m-112.7 56h1.7m159.3 4h1.7m1.3 23h1.7m-42.7 -51h1.7m-37.7 30h1.7m-8.7 -20h1.7m80.3 3h1.7m-44.7 33h1.7m16.3 -46h1.7m3.3 11h1.7m-64.7 24h1.7m29.3 -41h1.7m-38.7 18h1.7m95.3 15h1.7m-81.7 -16h1.7m-55.7 -9h1.7m48.3 13h1.7m38.3 7h1.7m4.3 17h1.7m52.3 -24h1.7m-105.7 1h1.7m18.3 -42h1.7m27.3 20h1.7m-16.7 13h1.7m37.3 32h1.7m-88.7 -17h1.7m-31.7 -57h1.7m75.3 68h1.7m-53.7 -8h1.7m8.3 6h1.7m-30.7 -46h1.7m67.3 4h1.7m-75.7 25h1.7m109.3 6h1.7m6.3 4h1.7m-20.7 -15h1.7m-10.7 3h1.7m-44.7 26h1.7m58.3 -31h1.7m-69.7 21h1.7m81.3 26h1.7m-110.7 -42h1.7m87.3 -14h1.7m18.3 0h1.7m-36.7 11h1.7m-56.7 -2h1.7m75.3 -21h1.7m-30.7 3h1.7m-16.7 31h1.7m-1.7 -9h1.7m41.3 -17h1.7m52.3 15h1.7m-54.7 -27h1.7m-41.7 64h1.7m-11.7 5h1.7m-0.7 -47h1.7m-34.7 6h1.7m70.3 15h1.7m-98.7 -17h1.7m68.3 -9h1.7m75.3 6h1.7m-40.7 28h1.7m-5.7 -39h1.7m-35.7 -15h1.7m2.3 16h1.7m-78.7 16h1.7m23.3 5h1.7m33.3 -15h1.7m42.3 -12h1.7m-61.7 39h1.7m16.3 -11h1.7m39.3 23h1.7m6.3 -28h1.7m-116.7 2h1.7m86.3 -5h1.7m-2.7 13h1.7m-90.7 -11h1.7m152.3 -2h1.7m-26.7 53h1.7m-23.7 -50h1.7m-5.7 -32h1.7m-59.7 35h1.7m90.3 3h1.7m-13.7 22h1.7m-107.7 -23h1.7m34.3 3h1.7m58.3 -20h1.7m-90.7 26h1.7m52.3 20h1.7m61.3 -16h1.7m-1.7 15h1.7m-105.7 -23h1.7m90.3 10h1.7m-70.7 -20h1.7m-18.7 1h1.7m23.3 -15h1.7m-22.7 12h1.7m12.3 9h1.7m2.3 8h1.7m-9.7 -6h1.7m1.3 -2h1.7m-10.7 4h1.7m-7.7 10h1.7m-6.7 -15h1.7m20.3 7h1.7m-34.7 -12h1.7m2.3 -4h1.7m29.3 11h1.7m-7.7 4h1.7m-28.7 -8h1.7m9.3 -8h1.7m-19.7 -13h1.7m15.3 24h1.7m-7.7 -2h1.7m-8.7 -1h1.7m24.3 16h1.7m-24.7 -24h1.7m17.3 -6h1.7m4.3 29h1.7m-15.7 -24h1.7m2.3 8h1.7m10.3 3h1.7m-17.7 -20h1.7m14.3 17h1.7m-26.7 12h1.7m3.3 -17h1.7m-6.7 22h1.7m-2.7 1h1.7m-4.7 -36h1.7m11.3 27h1.7m1.3 -4h1.7m-4.7 -24h1.7m25.3 27h1.7m-33.7 -16h1.7m-3.7 4h1.7m5.3 2h1.7m7.3 10h1.7m6.3 -8h1.7m-38.7 13h1.7m22.3 0h1.7m18.3 -13h1.7m-44.7 -12h1.7m4.3 -11h1.7m1.3 25h1.7m-1.7 6h1.7m17.3 -20h1.7m-9.7 8h1.7m10.3 15h1.7m-3.7 1h1.7m-16.7 4h1.7m5.3 -17h1.7m-5.7 10h1.7m1.3 -19h1.7m6.3 4h1.7m-18.7 29h1.7m9.3 -10h1.7m-6.7 -4h1.7m10.3 -17h1.7m7.3 6h1.7m-36.7 5h1.7m3.3 3h1.7m19.3 -25h1.7m-28.7 21h1.7m9.3 -12h1.7m12.3 6h1.7m-7.7 9h1.7m-9.7 1h1.7m8.3 -9h1.7m-4.7 3h1.7m-4.7 13h1.7m-16.7 -13h1.7m42.3 22h1.7m-11.7 -18h1.7m-57.7 3h1.7m54.3 -1h1.7m-34.7 -16h1.7m37.3 3h1.7m-25.7 13h1.7m5.3 6h1.7m-17.7 -24h1.7m2.3 7h1.7m8.3 11h1.7m-6.7 22h1.7m-4.7 -12h1.7m11.3 -9h1.7m-10.7 -1h1.7m-10.7 -13h1.7m22.3 11h1.7m-31.7 3h1.7m8.3 -14h1.7m11.3 18h1.7m13.3 -6h1.7m-10.7 7h1.7m2.3 -10h1.7m-3.7 -1h1.7m-4.7 -23h1.7m-2.7 21h1.7m-26.7 9h1.7m4.3 -1h1.7m13.3 -10h1.7m-21.7 19h1.7m31.3 -5h1.7m-30.7 -13h1.7m15.3 7h1.7m-11.7 3h1.7m-13.7 -5h1.7m19.3 5h1.7m4.3 -23h1.7m-11.7 22h1.7m2.3 -7h1.7m20.3 -3h1.7m-46.7 25h1.7m-18.7 -20h1.7m43.3 -8h1.7m-7.7 22h1.7m-21.7 -13h1.7m11.3 25h1.7m-2.7 -17h1.7m13.3 -21h1.7m-4.7 20h1.7m-15.7 -9h1.7m4.3 -2h1.7m0.3 11h1.7m1.3 -7h1.7m13.3 14h1.7m-19.7 -6h1.7m6.3 0h1.7m-32.7 -32h1.7m11.3 19h1.7m-29.7 18h1.7m33.3 -14h1.7m-5.7 0h1.7m-11.7 16h1.7m13.3 -5h1.7m11.3 -6h1.7m-24.7 13h1.7m0.3 -9h1.7m4.3 -15h1.7m16.3 -14h1.7m-27.7 19h1.7m23.3 -4h1.7m-2.7 11h1.7m-3.7 -16h1.7m-8.7 8h1.7m-5.7 -10h1.7m9.3 3h1.7m-36.7 13h1.7m23.3 -8h1.7m-28.7 -7h1.7m26.3 -2h1.7m-6.7 36h1.7m20.3 -20h1.7m-6.7 1h1.7m17.3 0h1.7m-47.7 -13h1.7m19.3 13h1.7m9.3 0h1.7m-43.7 -22h1.7m16.3 12h1.7m-0.7 17h1.7m10.3 -1h1.7m13.3 -23h1.7m2.3 0h1.7m-36.7 11h1.7m-14.7 12h1.7m11.3 -6h1.7m35.3 42h1.7m14.3 -17h1.7m-38.7 28h1.7m-31.7 19h1.7m37.3 -19h1.7m67.3 36h1.7m-94.7 -44h1.7m36.3 32h1.7m22.3 -52h1.7m-19.7 6h1.7m-44.7 48h1.7m40.3 -41h1.7m-47.7 -6h1.7m95.3 10h1.7m-16.7 -12h1.7m-9.7 15h1.7m-22.7 32h1.7m-36.7 -86h1.7m4.3 55h1.7m2.3 3h1.7m-3.7 22h1.7m41.3 -24h1.7m-47.7 8h1.7m35.3 -22h1.7m-16.7 -12h1.7m41.3 60h1.7m-27.7 -49h1.7m-18.7 40h1.7m24.3 -3h1.7m6.3 -52h1.7m-15.7 38h1.7m-39.7 12h1.7m8.3 -15h1.7m5.3 52h1.7m32.3 -88h1.7m-20.7 42h1.7m-0.7 -42h1.7m-16.7 41h1.7m-26.7 15h1.7m19.3 -17h1.7m20.3 -24h1.7m32.3 8h1.7m-20.7 23h1.7m-84.7 -1h1.7m65.3 -27h1.7m30.3 40h1.7m-8.7 -63h1.7m-83.7 12h1.7m25.3 43h1.7m4.3 -45h1.7m-9.7 47h1.7m35.3 -9h1.7m-34.7 12h1.7m69.3 -57h1.7m-60.7 -6h1.7m-32.7 37h1.7m9.3 -20h1.7m46.3 16h1.7m-51.7 10h1.7m32.3 -24h1.7m12.3 19h1.7m-34.7 25h1.7m34.3 -14h1.7m-19.7 4h1.7m59.3 -9h1.7m-114.7 -19h1.7m-12.7 14h1.7m23.3 12h1.7m44.3 18h1.7m-41.7 -62h1.7m3.3 26h1.7m47.3 -21h1.7m-34.7 -11h1.7m74.3 29h1.7m-136.7 -7h1.7m51.3 37h1.7m13.3 -43h1.7m-1.7 44h1.7m13.3 -43h1.7m-9.7 22h1.7m-51.7 -14h1.7m16.3 14h1.7m47.3 13h1.7m-35.7 -36h1.7m-25.7 41h1.7m33.3 6h1.7m-30.7 -34h1.7m27.3 23h1.7m0.3 -37h1.7m-37.7 2h1.7m31.3 17h1.7m-20.7 21h1.7m15.3 -6h1.7m-76.7 14h1.7m94.3 -37h1.7m-21.7 10h1.7m-24.7 -15h1.7m26.3 5h1.7m-30.7 15h1.7m13.3 -26h1.7m-53.7 10h1.7m1.3 31h1.7m21.3 -12h1.7m-7.7 -62h1.7m33.3 44h1.7m-21.7 51h1.7m29.3 -44h1.7m-24.7 3h1.7m57.3 19h1.7m-29.7 -11h1.7m-60.7 -34h1.7m45.3 -3h1.7m23.3 -16h1.7m-51.7 69h1.7m15.3 -32h1.7m1.3 25h1.7m-41.7 -27h1.7m34.3 30h1.7m-16.7 -41h1.7m-21.7 21h1.7m50.3 -2h1.7m26.3 -4h1.7m-38.7 16h1.7m-3.7 -38h1.7m24.3 20h1.7m-54.7 36h1.7m-28.7 -22h1.7m51.3 0h1.7m3.3 1h1.7m22.3 -20h1.7m-27.7 14h1.7m-47.7 1h1.7m46.3 17h1.7m-25.7 -1h1.7m52.3 -14h1.7m-8.7 -1h1.7m-13.7 -23h1.7m-26.7 39h1.7m22.3 -40h1.7m7.3 4h1.7m-4.7 9h1.7m17.3 -13h1.7m-83.7 64h1.7m12.3 -50h1.7m-27.7 -9h1.7m26.3 20h1.7m58.3 -15h1.7m-73.7 -3h1.7m15.3 14h1.7m13.3 -8h1.7m0.3 19h1.7m46.3 -24h1.7m-65.7 4h1.7m17.3 -1h1.7m-29.7 15h1.7m55.3 13h1.7m-46.7 -4h1.7m3.3 -16h1.7m23.3 0h1.7m-20.7 0h1.7m-43.7 23h1.7m33.3 -13h1.7m-16.7 -7h1.7m46.3 14h1.7m-35.7 10h1.7m-42.7 -25h1.7m80.3 2h1.7m-20.7 -17h1.7m-30.7 27h1.7m3.3 -32h1.7m1.3 6h1.7m23.3 16h1.7m-27.7 -12h1.7m-19.7 -1h1.7m42.3 4h1.7m-16.7 5h1.7m12.3 -38h1.7m-7.7 30h1.7m-7.7 43h1.7m-1.7 0h1.7m11.3 -17h1.7m-27.7 -34h1.7m3.3 -26h1.7m10.3 47h1.7m-17.7 -13h1.7m26.3 -20h1.7m0.3 38h1.7m4.3 22h1.7m9.3 2h1.7m-26.7 -50h1.7m-2.7 21h1.7m-19.7 -30h1.7m2.3 -24h1.7m13.3 67h1.7m24.3 -31h1.7m8.3 19h1.7m-41.7 -7h1.7m2.3 40h1.7m46.3 -45h1.7m-27.7 12h1.7m-87.7 9h1.7m76.3 38h1.7m-45.7 -67h1.7m-65.7 -3h1.7m83.3 2h1.7m-20.7 33h1.7m10.3 22h1.7m-17.7 -22h1.7m45.3 3h1.7m-70.7 -49h1.7m48.3 12h1.7m-17.7 38h1.7m10.3 10h1.7m-24.7 -76h1.7m2.3 66h1.7m20.3 -5h1.7m10.3 -17h1.7m-37.7 -12h1.7m16.3 37h1.7m6.3 0h1.7m-31.7 3h1.7m-1.7 -62h1.7m29.3 49h1.7m-20.7 -1h1.7m42.3 -30h1.7m-25.7 -2h1.7m-8.7 62h1.7m9.3 -47h1.7m4.3 -11h1.7m-93.7 34h1.7m66.3 -44h1.7m25.3 66h1.7m-20.7 -48h1.7m2.3 40h1.7m-14.7 -11h1.7m4.3 22h1.7m13.3 -54h1.7m-51.7 4h1.7m47.3 -27h1.7m-12.7 4h1.7m19.3 14h1.7m-44.7 -8h1.7m32.3 31h1.7m-13.7 6h1.7m2.3 -28h1.7m-20.7 3h1.7m13.3 21h1.7m26.3 -13h1.7m-65.7 9h1.7m92.3 0h1.7m-57.7 5h1.7m-4.7 -18h1.7m32.3 15h1.7m-35.7 -9h1.7m-23.7 19h1.7m49.3 -33h1.7m-62.7 4h1.7m-22.7 38h1.7m34.3 -25h1.7m-23.7 9h1.7m16.3 8h1.7m34.3 -39h1.7m-25.7 -14h1.7m-18.7 15h1.7m-1.7 39h1.7m48.3 -43h1.7m-54.7 27h1.7m23.3 3h1.7m-53.7 25h1.7m63.3 -13h1.7m19.3 -27h1.7m-41.7 34h1.7m26.3 0h1.7m-44.7 -26h1.7m34.3 16h1.7m7.3 -2h1.7m-53.7 -41h1.7m69.3 -10h1.7m-108.7 76h1.7m59.3 -44h1.7m-11.7 32h1.7m46.3 -42h1.7m10.3 13h1.7m-56.7 12h1.7m40.3 -32h1.7m-44.7 30h1.7m-6.7 32h1.7m3.3 -82h1.7m0.3 79h1.7m-25.7 -82h1.7m59.3 46h1.7m-58.7 -37h1.7m53.3 42h1.7m0.3 -10h1.7m-75.7 -10h1.7m50.3 43h1.7m-8.7 1h1.7m-15.7 -22h1.7m1.3 25h1.7m6.3 -22h1.7m-26.7 -28h1.7m35.3 21h1.7m-41.7 -1h1.7m53.3 -3h1.7m-3.7 -32h1.7m9.3 51h1.7m-30.7 32h1.7m-21.7 -76h1.7m4.3 0h1.7m-47.7 34h1.7m23.3 -1h1.7m26.3 -52h1.7m-51.7 67h1.7m14.3 -26h1.7m33.3 -12h1.7m-22.7 17h1.7m15.3 7h1.7m-4.7 7h1.7m17.3 -24h1.7m-28.7 1h1.7m-38.7 30h1.7m91.3 12h1.7m-54.7 -60h1.7m52.3 -24h1.7m-14.7 77h1.7m34.3 -49h1.7m-53.7 11h1.7m-9.7 16h1.7m-3.7 -9h1.7m-21.7 28h1.7m-5.7 -38h1.7m29.3 -11h1.7m-18.7 26h1.7m6.3 -20h1.7m77.3 3h1.7m-87.7 17h1.7m-12.7 -10h1.7m-7.7 1h1.7m27.3 19h1.7m11.3 -69h1.7m27.3 43h1.7m-24.7 22h1.7m14.3 27h1.7m-49.7 -73h1.7m29.3 44h1.7m-40.7 -13h1.7m42.3 34h1.7m-8.7 -42h1.7m26.3 18h1.7m-57.7 -6h1.7m22.3 14h1.7m-40.7 -62h1.7m48.3 37h1.7m-18.7 -35h1.7m10.3 82h1.7m-53.7 -50h1.7m15.3 3h1.7m41.3 57h1.7m-28.7 -21h1.7m27.3 5h1.7m-10.7 -3h1.7m-39.7 -19h1.7m-1.7 -24h1.7m47.3 14h1.7m-32.7 -3h1.7m-9.7 19h1.7m7.3 -1h1.7m21.3 -13h1.7m-37.7 29h1.7m37.3 -30h1.7m7.3 4h1.7m-60.7 -17h1.7m-4.7 6h1.7m31.3 11h1.7m18.3 16h1.7m60.3 -3h1.7m-113.7 -44h1.7m28.3 16h1.7m-44.7 46h1.7m64.3 -33h1.7m41.3 -148h1.7m-26.7 23h1.7m24.3 -5h1.7m-26.7 58h1.7m43.3 -54h1.7m-19.7 20h1.7m3.3 23h1.7m51.3 -43h1.7m-60.7 15h1.7m-73.7 -6h1.7m100.3 7h1.7m-29.7 -3h1.7m7.3 -17h1.7m-22.7 10h1.7m56.3 3h1.7m-89.7 21h1.7m45.3 21h1.7m-38.7 -12h1.7m8.3 4h1.7m-34.7 22h1.7m-6.7 -11h1.7m46.3 -28h1.7m-5.7 17h1.7m-24.7 -2h1.7m61.3 -38h1.7m-71.7 6h1.7m54.3 -6h1.7m23.3 9h1.7m-8.7 -28h1.7m-53.7 36h1.7m-37.7 10h1.7m23.3 28h1.7m33.3 -55h1.7m0.3 -6h1.7m-21.7 26h1.7m4.3 0h1.7m-14.7 8h1.7m-37.7 8h1.7m30.3 20h1.7m24.3 -25h1.7m-36.7 -48h1.7m-12.7 70h1.7m-0.7 -5h1.7m18.3 -46h1.7m47.3 11h1.7m-35.7 8h1.7m-25.7 9h1.7m58.3 -24h1.7m-46.7 40h1.7m-22.7 -9h1.7m57.3 -21h1.7m-40.7 3h1.7m-8.7 1h1.7m19.3 -12h1.7m-12.7 -22h1.7m-4.7 26h1.7m-3.7 13h1.7m-45.7 7h1.7m47.3 3h1.7m48.3 -54h1.7m-45.7 36h1.7m17.3 7h1.7m-21.7 -24h1.7m-42.7 51h1.7m6.3 5h1.7m32.3 -39h1.7m15.3 -18h1.7m-13.7 22h1.7m27.3 -8h1.7m-72.7 17h1.7m1.3 12h1.7m39.3 -18h1.7m-18.7 -10h1.7m-12.7 9h1.7m45.3 -24h1.7m-65.7 13h1.7m4.3 6h1.7m47.3 -2h1.7m12.3 -2h1.7m-40.7 -1h1.7m-8.7 7h1.7m0.3 35h1.7m-12.7 -22h1.7m-9.7 8h1.7m-6.7 -17h1.7m41.3 13h1.7m-54.7 7h1.7m45.3 -48h1.7m-23.7 6h1.7m72.3 5h1.7m-34.7 33h1.7m-18.7 -47h1.7m11.3 60h1.7m14.3 -34h1.7m-21.7 6h1.7m-12.7 8h1.7m46.3 -17h1.7m-64.7 -7h1.7m-61.7 23h1.7m53.3 7h1.7m33.3 -43h1.7m14.3 8h1.7m-21.7 24h1.7m21.3 -5h1.7m-58.7 -11h1.7m57.3 -16h1.7m-42.7 35h1.7m-22.7 20h1.7m64.3 -53h1.7m-35.7 27h1.7m29.3 12h1.7m-41.7 31h1.7m-9.7 -44h1.7m6.3 20h1.7m-19.7 -1h1.7m30.3 -16h1.7m-47.7 -26h1.7m66.3 14h1.7m-56.7 9h1.7m60.3 -35h1.7m-49.7 47h1.7m-4.7 -14h1.7m48.3 -9h1.7m-39.7 11h1.7m-10.7 6h1.7m-5.7 7h1.7m59.3 -39h1.7m-48.7 14h1.7m12.3 -1h1.7m-36.7 7h1.7m25.3 7h1.7m-40.7 0h1.7m41.3 -42h1.7m-20.7 70h1.7m4.3 -31h1.7m-22.7 28h1.7m4.3 -45h1.7m10.3 15h1.7m-3.7 -37h1.7m20.3 53h1.7m0.3 -12h1.7m-12.7 3h1.7m-55.7 5h1.7m57.3 -22h1.7m-18.7 25h1.7m13.3 8h1.7m-37.7 -3h1.7m43.3 -16h1.7m28.3 -40h1.7m-33.7 50h1.7m-17.7 -24h1.7m-19.7 30h1.7m27.3 -26h1.7m18.3 -13h1.7m-11.7 -3h1.7m-45.7 56h1.7m15.3 -53h1.7m32.3 27h1.7m7.3 -19h1.7m-35.7 23h1.7m-5.7 -14h1.7m23.3 -15h1.7m0.3 -10h1.7m-8.7 -8h1.7m-37.7 48h1.7m-23.7 0h1.7m65.3 -8h1.7m-18.7 -8h1.7m29.3 2h1.7m-36.7 -4h1.7m-9.7 -29h1.7m-10.7 12h1.7m1.3 35h1.7m4.3 -63h1.7m49.3 37h1.7m-59.7 6h1.7m-27.7 48h1.7m19.3 -33h1.7m30.3 -40h1.7m-9.7 27h1.7m38.3 -15h1.7m-78.7 52h1.7m65.3 -49h1.7m-43.7 52h1.7m-5.7 -16h1.7m-23.7 -8h1.7m-1.7 -6h1.7m23.3 -10h1.7m5.3 34h1.7m19.3 -49h1.7m17.3 -1h1.7m-58.7 21h1.7m32.3 -40h1.7m-8.7 47h1.7m-50.7 15h1.7m16.3 -19h1.7m48.3 -27h1.7m-72.7 33h1.7m18.3 11h1.7m-52.7 53h1.7m59.3 -60h1.7m30.3 11h1.7m-48.7 -10h1.7m15.3 -26h1.7m34.3 -6h1.7m-50.7 21h1.7m26.3 15h1.7m-50.7 -12h1.7m51.3 58h1.7m31.3 -65h1.7m-40.7 12h1.7m9.3 -11h1.7m-14.7 7h1.7m-2.7 -25h1.7m16.3 9h1.7m-4.7 -43h1.7m-35.7 18h1.7m20.3 28h1.7m-0.7 35h1.7m-18.7 -24h1.7m17.3 -17h1.7m0.3 0h1.7m-21.7 13h1.7m13.3 -7h1.7m3.3 14h1.7m-49.7 17h1.7m9.3 23h1.7m17.3 -47h1.7m-3.7 14h1.7m6.3 -36h1.7m-17.7 -7h1.7m37.3 -5h1.7m-31.7 2h1.7m-60.7 66h1.7m17.3 -43h1.7m85.3 8h1.7m-82.7 -2h1.7m42.3 7h1.7m12.3 -3h1.7m-55.7 5h1.7m68.3 8h1.7m-57.7 -8h1.7m31.3 -48h1.7m-26.7 53h1.7m-1.7 38h1.7m45.3 -80h1.7m-27.7 41h1.7m4.3 -17h1.7m-38.7 9h1.7m40.3 -7h1.7m42.3 4h1.7m-52.7 -7h1.7m13.3 23h1.7m-36.7 10h1.7m-31.7 -23h1.7m52.3 -20h1.7m-79.7 59h1.7m41.3 -18h1.7m-2.7 -25h1.7m-0.7 -6h1.7m33.3 -10h1.7m-21.7 -8h1.7m-6.7 80h1.7m62.3 -65h1.7m-23.7 7h1.7m-65.7 -3h1.7m30.3 49h1.7m-3.7 -15h1.7m1.3 -31h1.7m-21.7 3h1.7m55.3 -38h1.7m-22.7 36h1.7m0.3 -39h1.7m-80.7 77h1.7m33.3 -30h1.7m-1.7 15h1.7m89.3 -34h1.7m-14.7 1h1.7m-92.7 39h1.7m56.3 -21h1.7m-56.7 -53h1.7m38.3 51h1.7m29.3 -6h1.7m-32.7 2h1.7m-19.7 0h1.7m29.3 -17h1.7m-29.7 0h1.7m19.3 -3h1.7m-32.7 46h1.7m25.3 3h1.7m-22.7 -36h1.7m16.3 -12h1.7m7.3 38h1.7m-7.7 -33h1.7m-0.7 14h1.7m-27.7 40h1.7m44.3 -10h1.7m19.3 -19h1.7m-47.7 -5h1.7m-60.7 9h1.7m-57.7 30h1.7m15.3 33h1.7m4.3 -3h1.7m-48.7 5h1.7m26.3 -22h1.7m4.3 42h1.7m-11.7 32h1.7m-13.7 -59h1.7m35.3 -13h1.7m-28.7 53h1.7m3.3 -27h1.7m14.3 -31h1.7m-46.7 87h1.7m-1.7 -51h1.7m16.3 -11h1.7m-1.7 25h1.7m16.3 18h1.7m-3.7 15h1.7m-25.7 -86h1.7m-5.7 37h1.7m13.3 28h1.7m6.3 -22h1.7m-4.7 -9h1.7m-1.7 25h1.7m-4.7 -17h1.7m-2.7 -9h1.7m0.3 -42h1.7m-5.7 49h1.7m27.3 39h1.7m-42.7 -66h1.7m-1.7 66h1.7m9.3 -41h1.7m3.3 -22h1.7m-13.7 33h1.7m33.3 -12h1.7m-47.7 -44h1.7m44.3 44h1.7m-39.7 8h1.7m-12.7 -4h1.7m2.3 -40h1.7m40.3 -7h1.7m-16.7 36h1.7m-9.7 -40h1.7m28.3 51h1.7m-25.7 -2h1.7m0.3 4h1.7m5.3 -23h1.7m-18.7 51h1.7m1.3 -40h1.7m-9.7 9h1.7m9.3 -20h1.7m-13.7 6h1.7m33.3 54h1.7m-42.7 -99h1.7m-14.7 53h1.7m33.3 6h1.7m-0.7 -69h1.7m-6.7 62h1.7m-2.7 46h1.7m-10.7 -27h1.7m13.3 27h1.7m-5.7 -51h1.7m20.3 -13h1.7m-27.7 22h1.7m0.3 40h1.7m-0.7 9h1.7m10.3 -97h1.7m-10.7 35h1.7m8.3 -8h1.7m-24.7 36h1.7m17.3 -9h1.7m-9.7 -38h1.7m-1.7 76h1.7m-29.7 -44h1.7m42.3 0h1.7m8.3 -33h1.7m-28.7 28h1.7m-12.7 11h1.7m9.3 -24h1.7m18.3 94h1.7" stroke="#f00" stroke-width="1.7" fill="none" filter="url(#soft)"/>
<path d="M1258.1 1923.9V2227.1M1131.8 2130.1H1522.5" stroke="#b4b4b4" stroke-width="1.6" fill="none"/>
<path d="M1124.1 2204.3H1131.8M1124.1 2190.9H1131.8M1124.1 2181.5H1131.8M1124.1 2174.1H1131.8M1124.1 2168.1H1131.8M1124.1 2163.0H1131.8M1124.1 2158.6H1131.8M1124.1 2154.8H1131.8M1124.1 2128.5H1131.8M1124.1 2115.1H1131.8M1124.1 2105.7H1131.8M1124.1 2098.3H1131.8M1124.1 2092.3H1131.8M1124.1 2087.2H1131.8M1124.1 2082.8H1131.8M1124.1 2079.0H1131.8M1124.1 2052.7H1131.8M1124.1 2039.3H1131.8M1124.1 2029.9H1131.8M1124.1 2022.5H1131.8M1124.1 2016.5H1131.8M1124.1 2011.4H1131.8M1124.1 2007.0H1131.8M1124.1 2003.2H1131.8M1124.1 1976.9H1131.8M1124.1 1963.5H1131.8M1124.1 1954.1H1131.8M1124.1 1946.7H1131.8M1124.1 1940.7H1131.8M1124.1 1935.6H1131.8M1124.1 1931.2H1131.8M1124.1 1927.4H1131.8M1117.2 2151.3H1131.8M1117.2 2075.5H1131.8M1117.2 1999.7H1131.8M1117.2 1923.9H1131.8" stroke="#333" stroke-width="1.7" fill="none"/>
<path d="M1161.2 2228.7V2233.9M1178.4 2228.7V2233.9M1190.6 2228.7V2233.9M1200.1 2228.7V2233.9M1207.8 2228.7V2233.9M1214.3 2228.7V2233.9M1220.0 2228.7V2233.9M1225.0 2228.7V2233.9M1258.9 2228.7V2233.9M1276.1 2228.7V2233.9M1288.3 2228.7V2233.9M1297.7 2228.7V2233.9M1305.5 2228.7V2233.9M1312.0 2228.7V2233.9M1317.7 2228.7V2233.9M1322.7 2228.7V2233.9M1356.6 2228.7V2233.9M1373.8 2228.7V2233.9M1386.0 2228.7V2233.9M1395.4 2228.7V2233.9M1403.2 2228.7V2233.9M1409.7 2228.7V2233.9M1415.4 2228.7V2233.9M1420.4 2228.7V2233.9M1454.2 2228.7V2233.9M1471.4 2228.7V2233.9M1483.6 2228.7V2233.9M1493.1 2228.7V2233.9M1500.8 2228.7V2233.9M1507.4 2228.7V2233.9M1513.0 2228.7V2233.9M1518.0 2228.7V2233.9" stroke="#c8c8c8" stroke-width="1.3" fill="none"/>
<path d="M1229.5 2228.7V2238.1M1327.2 2228.7V2238.1M1424.8 2228.7V2238.1M1522.5 2228.7V2238.1" stroke="#c0c0c0" stroke-width="1.3" fill="none"/>
<path d="M1131.8 1923.9V2227.1H1522.5V1923.9" fill="none" stroke="#333" stroke-width="2"/>
<path d="M1130.8 1923.9H1523.5" fill="none" stroke="#666" stroke-width="1.7"/>
<path d="M1131.8 1924.9V1972.9" fill="none" stroke="#999" stroke-width="2"/>
<text x="1090.36" y="2157.43" font-family='"Liberation Sans", Arial, sans-serif' font-weight="bold" font-size="17.23" textLength="18.42" lengthAdjust="spacingAndGlyphs" fill="#000">10</text>
<text x="1108.10" y="2151.37" font-family='"Liberation Sans", Arial, sans-serif' font-weight="bold" font-size="13.28" textLength="7.02" lengthAdjust="spacingAndGlyphs" fill="#000">0</text>
<text x="1090.36" y="2081.63" font-family='"Liberation Sans", Arial, sans-serif' font-weight="bold" font-size="17.23" textLength="18.42" lengthAdjust="spacingAndGlyphs" fill="#000">10</text>
<text x="1107.79" y="2075.70" font-family='"Liberation Sans", Arial, sans-serif' font-weight="bold" font-size="13.66" textLength="7.17" lengthAdjust="spacingAndGlyphs" fill="#000">1</text>
<text x="1090.36" y="2005.83" font-family='"Liberation Sans", Arial, sans-serif' font-weight="bold" font-size="17.23" textLength="18.42" lengthAdjust="spacingAndGlyphs" fill="#000">10</text>
<text x="1108.17" y="1999.90" font-family='"Liberation Sans", Arial, sans-serif' font-weight="bold" font-size="13.46" textLength="6.93" lengthAdjust="spacingAndGlyphs" fill="#000">2</text>
<text x="1090.36" y="1930.03" font-family='"Liberation Sans", Arial, sans-serif' font-weight="bold" font-size="17.23" textLength="18.42" lengthAdjust="spacingAndGlyphs" fill="#000">10</text>
<text x="1108.32" y="1923.95" font-family='"Liberation Sans", Arial, sans-serif' font-weight="bold" font-size="13.25" textLength="6.71" lengthAdjust="spacingAndGlyphs" fill="#000">3</text>
<text x="1220.17" y="2252.02" font-family='"Liberation Sans", Arial, sans-serif' font-weight="bold" font-size="17.94" textLength="17.76" lengthAdjust="spacingAndGlyphs" fill="#000">10</text>
<text x="1237.23" y="2245.87" font-family='"Liberation Sans", Arial, sans-serif' font-weight="bold" font-size="12.85" textLength="7.60" lengthAdjust="spacingAndGlyphs" fill="#000">0</text>
<text x="1317.84" y="2252.02" font-family='"Liberation Sans", Arial, sans-serif' font-weight="bold" font-size="17.94" textLength="17.76" lengthAdjust="spacingAndGlyphs" fill="#000">10</text>
<text x="1334.57" y="2246.00" font-family='"Liberation Sans", Arial, sans-serif' font-weight="bold" font-size="13.23" textLength="7.77" lengthAdjust="spacingAndGlyphs" fill="#000">1</text>
<text x="1415.52" y="2252.02" font-family='"Liberation Sans", Arial, sans-serif' font-weight="bold" font-size="17.94" textLength="17.76" lengthAdjust="spacingAndGlyphs" fill="#000">10</text>
<text x="1432.66" y="2246.00" font-family='"Liberation Sans", Arial, sans-serif' font-weight="bold" font-size="13.03" textLength="7.51" lengthAdjust="spacingAndGlyphs" fill="#000">2</text>
<text x="1513.19" y="2252.02" font-family='"Liberation Sans", Arial, sans-serif' font-weight="bold" font-size="17.94" textLength="17.76" lengthAdjust="spacingAndGlyphs" fill="#000">10</text>
<text x="1530.50" y="2245.86" font-family='"Liberation Sans", Arial, sans-serif' font-weight="bold" font-size="12.83" textLength="7.27" lengthAdjust="spacingAndGlyphs" fill="#000">3</text>
<text x="0" y="0" transform="translate(1050.40 2083.88) rotate(-90)" font-family='"Liberation Sans", Arial, sans-serif' font-weight="bold" font-size="18.31" textLength="16.66" lengthAdjust="spacingAndGlyphs" fill="#000">PI</text>
<text x="1287.45" y="2288.52" font-family='"Liberation Sans", Arial, sans-serif' font-weight="bold" font-size="17.97" textLength="79.11" lengthAdjust="spacingAndGlyphs" fill="#000">Annexin V</text>
<rect x="1132.8" y="2132.1" width="62.7" height="48.5" fill="#fff"/>
<rect x="1259.1" y="2132.1" width="27.0" height="25.5" fill="#fff"/>
<rect x="1259.1" y="2157.1" width="63.0" height="23.5" fill="#fff"/>
<text x="1131.43" y="1945.30" font-family='"Liberation Sans", Arial, sans-serif' font-weight="bold" font-size="18.60" textLength="24.30" lengthAdjust="spacingAndGlyphs" fill="#000">D1</text>
<text x="1258.12" y="1945.30" font-family='"Liberation Sans", Arial, sans-serif' font-weight="bold" font-size="18.33" textLength="24.55" lengthAdjust="spacingAndGlyphs" fill="#000">D2</text>
<text x="1131.42" y="2152.90" font-family='"Liberation Sans", Arial, sans-serif' font-weight="bold" font-size="18.04" textLength="24.47" lengthAdjust="spacingAndGlyphs" fill="#000">D3</text>
<text x="1258.35" y="2153.10" font-family='"Liberation Sans", Arial, sans-serif' font-weight="bold" font-size="18.60" textLength="23.85" lengthAdjust="spacingAndGlyphs" fill="#000">D4</text>
<text x="1142.70" y="1968.21" font-family='"Liberation Sans", Arial, sans-serif' font-weight="bold" font-size="19.84" textLength="44.61" lengthAdjust="spacingAndGlyphs" fill="#000">4.5%</text>
<text x="1269.29" y="1968.21" font-family='"Liberation Sans", Arial, sans-serif' font-weight="bold" font-size="19.77" textLength="49.77" lengthAdjust="spacingAndGlyphs" fill="#000">22.9%</text>
<text x="1136.90" y="2175.51" font-family='"Liberation Sans", Arial, sans-serif' font-weight="bold" font-size="19.77" textLength="56.12" lengthAdjust="spacingAndGlyphs" fill="#000">41.0%</text>
<text x="1270.31" y="2175.48" font-family='"Liberation Sans", Arial, sans-serif' font-weight="bold" font-size="19.73" textLength="48.75" lengthAdjust="spacingAndGlyphs" fill="#000">31.5%</text>
</svg>
</body></html>
